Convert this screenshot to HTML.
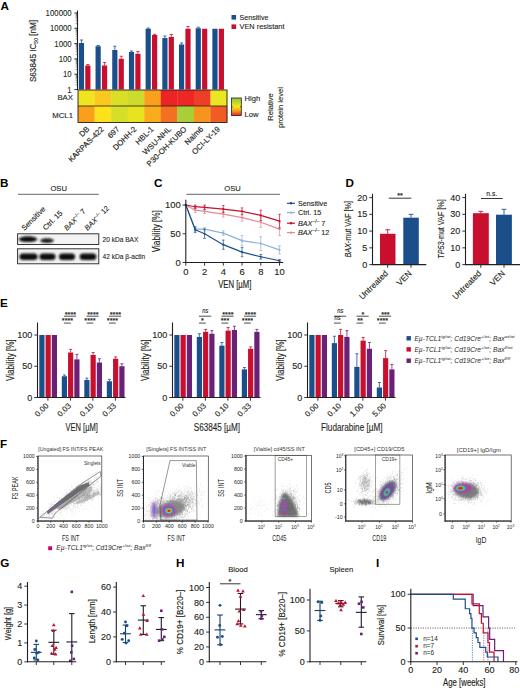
<!DOCTYPE html>
<html><head><meta charset="utf-8"><title>Figure</title>
<style>html,body{margin:0;padding:0;background:#fff}svg{display:block}text{font-family:"Liberation Sans",sans-serif}</style>
</head><body>
<svg width="520" height="690" viewBox="0 0 520 690">
<rect width="520" height="690" fill="#fff"/>
<text transform="translate(0.40,9.90)" font-size="11.7" text-anchor="start" fill="#000" font-weight="bold">A</text>
<rect x="78.85" y="43.00" width="5.20" height="46.50" fill="#1b4f8c"/>
<rect x="85.25" y="65.50" width="5.20" height="24.00" fill="#c8102e"/>
<line x1="81.45" y1="43.00" x2="81.45" y2="40.00" stroke="#1b4f8c" stroke-width="0.8"/>
<line x1="79.85" y1="40.00" x2="83.05" y2="40.00" stroke="#1b4f8c" stroke-width="0.8"/>
<line x1="87.85" y1="65.50" x2="87.85" y2="64.50" stroke="#c8102e" stroke-width="0.8"/>
<line x1="86.25" y1="64.50" x2="89.45" y2="64.50" stroke="#c8102e" stroke-width="0.8"/>
<rect x="95.54" y="46.25" width="5.20" height="43.25" fill="#1b4f8c"/>
<rect x="101.94" y="65.50" width="5.20" height="24.00" fill="#c8102e"/>
<line x1="98.14" y1="46.25" x2="98.14" y2="45.50" stroke="#1b4f8c" stroke-width="0.8"/>
<line x1="96.54" y1="45.50" x2="99.74" y2="45.50" stroke="#1b4f8c" stroke-width="0.8"/>
<line x1="104.54" y1="65.50" x2="104.54" y2="62.50" stroke="#c8102e" stroke-width="0.8"/>
<line x1="102.94" y1="62.50" x2="106.14" y2="62.50" stroke="#c8102e" stroke-width="0.8"/>
<rect x="112.23" y="50.00" width="5.20" height="39.50" fill="#1b4f8c"/>
<rect x="118.63" y="58.75" width="5.20" height="30.75" fill="#c8102e"/>
<line x1="114.83" y1="50.00" x2="114.83" y2="46.25" stroke="#1b4f8c" stroke-width="0.8"/>
<line x1="113.23" y1="46.25" x2="116.43" y2="46.25" stroke="#1b4f8c" stroke-width="0.8"/>
<line x1="121.23" y1="58.75" x2="121.23" y2="56.25" stroke="#c8102e" stroke-width="0.8"/>
<line x1="119.63" y1="56.25" x2="122.83" y2="56.25" stroke="#c8102e" stroke-width="0.8"/>
<rect x="128.92" y="52.00" width="5.20" height="37.50" fill="#1b4f8c"/>
<rect x="135.32" y="53.75" width="5.20" height="35.75" fill="#c8102e"/>
<line x1="131.52" y1="52.00" x2="131.52" y2="51.00" stroke="#1b4f8c" stroke-width="0.8"/>
<line x1="129.92" y1="51.00" x2="133.12" y2="51.00" stroke="#1b4f8c" stroke-width="0.8"/>
<line x1="137.92" y1="53.75" x2="137.92" y2="51.50" stroke="#c8102e" stroke-width="0.8"/>
<line x1="136.32" y1="51.50" x2="139.52" y2="51.50" stroke="#c8102e" stroke-width="0.8"/>
<rect x="145.61" y="28.75" width="5.20" height="60.75" fill="#1b4f8c"/>
<rect x="152.01" y="35.00" width="5.20" height="54.50" fill="#c8102e"/>
<line x1="148.21" y1="28.75" x2="148.21" y2="28.00" stroke="#1b4f8c" stroke-width="0.8"/>
<line x1="146.61" y1="28.00" x2="149.81" y2="28.00" stroke="#1b4f8c" stroke-width="0.8"/>
<line x1="154.61" y1="35.00" x2="154.61" y2="34.30" stroke="#c8102e" stroke-width="0.8"/>
<line x1="153.01" y1="34.30" x2="156.21" y2="34.30" stroke="#c8102e" stroke-width="0.8"/>
<rect x="162.30" y="38.00" width="5.20" height="51.50" fill="#1b4f8c"/>
<rect x="168.70" y="37.00" width="5.20" height="52.50" fill="#c8102e"/>
<line x1="164.90" y1="38.00" x2="164.90" y2="36.00" stroke="#1b4f8c" stroke-width="0.8"/>
<line x1="163.30" y1="36.00" x2="166.50" y2="36.00" stroke="#1b4f8c" stroke-width="0.8"/>
<line x1="171.30" y1="37.00" x2="171.30" y2="34.50" stroke="#c8102e" stroke-width="0.8"/>
<line x1="169.70" y1="34.50" x2="172.90" y2="34.50" stroke="#c8102e" stroke-width="0.8"/>
<rect x="178.99" y="44.50" width="5.20" height="45.00" fill="#1b4f8c"/>
<rect x="185.39" y="28.75" width="5.20" height="60.75" fill="#c8102e"/>
<line x1="181.59" y1="44.50" x2="181.59" y2="43.00" stroke="#1b4f8c" stroke-width="0.8"/>
<line x1="179.99" y1="43.00" x2="183.19" y2="43.00" stroke="#1b4f8c" stroke-width="0.8"/>
<line x1="187.99" y1="28.75" x2="187.99" y2="26.50" stroke="#c8102e" stroke-width="0.8"/>
<line x1="186.39" y1="26.50" x2="189.59" y2="26.50" stroke="#c8102e" stroke-width="0.8"/>
<rect x="195.68" y="28.25" width="5.20" height="61.25" fill="#1b4f8c"/>
<rect x="202.08" y="28.75" width="5.20" height="60.75" fill="#c8102e"/>
<line x1="198.28" y1="28.25" x2="198.28" y2="27.20" stroke="#1b4f8c" stroke-width="0.8"/>
<line x1="196.68" y1="27.20" x2="199.88" y2="27.20" stroke="#1b4f8c" stroke-width="0.8"/>
<rect x="212.37" y="28.75" width="5.20" height="60.75" fill="#1b4f8c"/>
<rect x="218.77" y="28.75" width="5.20" height="60.75" fill="#c8102e"/>
<rect x="78.00" y="90.00" width="16.86" height="16.00" fill="#f0e41f"/>
<rect x="78.00" y="106.00" width="16.86" height="16.50" fill="#f99f1c"/>
<rect x="94.56" y="90.00" width="16.86" height="16.00" fill="#fbc81f"/>
<rect x="94.56" y="106.00" width="16.86" height="16.50" fill="#fce21a"/>
<rect x="111.11" y="90.00" width="16.86" height="16.00" fill="#d9df27"/>
<rect x="111.11" y="106.00" width="16.86" height="16.50" fill="#d6de29"/>
<rect x="127.67" y="90.00" width="16.86" height="16.00" fill="#cddb2e"/>
<rect x="127.67" y="106.00" width="16.86" height="16.50" fill="#e7e31f"/>
<rect x="144.22" y="90.00" width="16.86" height="16.00" fill="#f9a11d"/>
<rect x="144.22" y="106.00" width="16.86" height="16.50" fill="#fbac1c"/>
<rect x="160.78" y="90.00" width="16.86" height="16.00" fill="#ec2426"/>
<rect x="160.78" y="106.00" width="16.86" height="16.50" fill="#f37021"/>
<rect x="177.33" y="90.00" width="16.86" height="16.00" fill="#ec2726"/>
<rect x="177.33" y="106.00" width="16.86" height="16.50" fill="#a8cf38"/>
<rect x="193.89" y="90.00" width="16.86" height="16.00" fill="#ee3f26"/>
<rect x="193.89" y="106.00" width="16.86" height="16.50" fill="#f7941d"/>
<rect x="210.44" y="90.00" width="16.86" height="16.00" fill="#ece622"/>
<rect x="210.44" y="106.00" width="16.86" height="16.50" fill="#f15b24"/>
<rect x="78.00" y="90.00" width="149.00" height="32.50" fill="none" stroke="#231f20" stroke-width="0.9"/>
<line x1="78.00" y1="106.00" x2="227.00" y2="106.00" stroke="#231f20" stroke-width="0.8"/>
<line x1="77.50" y1="10.50" x2="77.50" y2="90.00" stroke="#231f20" stroke-width="1.1"/>
<line x1="74.30" y1="89.50" x2="77.50" y2="89.50" stroke="#231f20" stroke-width="0.9"/>
<text transform="translate(71.70,92.60) scale(0.87,1)" font-size="9.0" text-anchor="end" fill="#231f20" stroke="#231f20" stroke-width="0.1">1</text>
<line x1="75.70" y1="84.89" x2="77.50" y2="84.89" stroke="#231f20" stroke-width="0.5"/>
<line x1="75.70" y1="82.20" x2="77.50" y2="82.20" stroke="#231f20" stroke-width="0.5"/>
<line x1="75.70" y1="80.29" x2="77.50" y2="80.29" stroke="#231f20" stroke-width="0.5"/>
<line x1="75.70" y1="78.81" x2="77.50" y2="78.81" stroke="#231f20" stroke-width="0.5"/>
<line x1="75.70" y1="77.59" x2="77.50" y2="77.59" stroke="#231f20" stroke-width="0.5"/>
<line x1="75.70" y1="76.57" x2="77.50" y2="76.57" stroke="#231f20" stroke-width="0.5"/>
<line x1="75.70" y1="75.68" x2="77.50" y2="75.68" stroke="#231f20" stroke-width="0.5"/>
<line x1="75.70" y1="74.90" x2="77.50" y2="74.90" stroke="#231f20" stroke-width="0.5"/>
<line x1="74.30" y1="74.20" x2="77.50" y2="74.20" stroke="#231f20" stroke-width="0.9"/>
<text transform="translate(71.70,77.30) scale(0.87,1)" font-size="9.0" text-anchor="end" fill="#231f20" stroke="#231f20" stroke-width="0.1">10</text>
<line x1="75.70" y1="69.59" x2="77.50" y2="69.59" stroke="#231f20" stroke-width="0.5"/>
<line x1="75.70" y1="66.90" x2="77.50" y2="66.90" stroke="#231f20" stroke-width="0.5"/>
<line x1="75.70" y1="64.99" x2="77.50" y2="64.99" stroke="#231f20" stroke-width="0.5"/>
<line x1="75.70" y1="63.51" x2="77.50" y2="63.51" stroke="#231f20" stroke-width="0.5"/>
<line x1="75.70" y1="62.29" x2="77.50" y2="62.29" stroke="#231f20" stroke-width="0.5"/>
<line x1="75.70" y1="61.27" x2="77.50" y2="61.27" stroke="#231f20" stroke-width="0.5"/>
<line x1="75.70" y1="60.38" x2="77.50" y2="60.38" stroke="#231f20" stroke-width="0.5"/>
<line x1="75.70" y1="59.60" x2="77.50" y2="59.60" stroke="#231f20" stroke-width="0.5"/>
<line x1="74.30" y1="58.90" x2="77.50" y2="58.90" stroke="#231f20" stroke-width="0.9"/>
<text transform="translate(71.70,62.00) scale(0.87,1)" font-size="9.0" text-anchor="end" fill="#231f20" stroke="#231f20" stroke-width="0.1">100</text>
<line x1="75.70" y1="54.29" x2="77.50" y2="54.29" stroke="#231f20" stroke-width="0.5"/>
<line x1="75.70" y1="51.60" x2="77.50" y2="51.60" stroke="#231f20" stroke-width="0.5"/>
<line x1="75.70" y1="49.69" x2="77.50" y2="49.69" stroke="#231f20" stroke-width="0.5"/>
<line x1="75.70" y1="48.21" x2="77.50" y2="48.21" stroke="#231f20" stroke-width="0.5"/>
<line x1="75.70" y1="46.99" x2="77.50" y2="46.99" stroke="#231f20" stroke-width="0.5"/>
<line x1="75.70" y1="45.97" x2="77.50" y2="45.97" stroke="#231f20" stroke-width="0.5"/>
<line x1="75.70" y1="45.08" x2="77.50" y2="45.08" stroke="#231f20" stroke-width="0.5"/>
<line x1="75.70" y1="44.30" x2="77.50" y2="44.30" stroke="#231f20" stroke-width="0.5"/>
<line x1="74.30" y1="43.60" x2="77.50" y2="43.60" stroke="#231f20" stroke-width="0.9"/>
<text transform="translate(71.70,46.70) scale(0.87,1)" font-size="9.0" text-anchor="end" fill="#231f20" stroke="#231f20" stroke-width="0.1">1000</text>
<line x1="75.70" y1="38.99" x2="77.50" y2="38.99" stroke="#231f20" stroke-width="0.5"/>
<line x1="75.70" y1="36.30" x2="77.50" y2="36.30" stroke="#231f20" stroke-width="0.5"/>
<line x1="75.70" y1="34.39" x2="77.50" y2="34.39" stroke="#231f20" stroke-width="0.5"/>
<line x1="75.70" y1="32.91" x2="77.50" y2="32.91" stroke="#231f20" stroke-width="0.5"/>
<line x1="75.70" y1="31.69" x2="77.50" y2="31.69" stroke="#231f20" stroke-width="0.5"/>
<line x1="75.70" y1="30.67" x2="77.50" y2="30.67" stroke="#231f20" stroke-width="0.5"/>
<line x1="75.70" y1="29.78" x2="77.50" y2="29.78" stroke="#231f20" stroke-width="0.5"/>
<line x1="75.70" y1="29.00" x2="77.50" y2="29.00" stroke="#231f20" stroke-width="0.5"/>
<line x1="74.30" y1="28.30" x2="77.50" y2="28.30" stroke="#231f20" stroke-width="0.9"/>
<text transform="translate(71.70,31.40) scale(0.87,1)" font-size="9.0" text-anchor="end" fill="#231f20" stroke="#231f20" stroke-width="0.1">10000</text>
<line x1="75.70" y1="23.69" x2="77.50" y2="23.69" stroke="#231f20" stroke-width="0.5"/>
<line x1="75.70" y1="21.00" x2="77.50" y2="21.00" stroke="#231f20" stroke-width="0.5"/>
<line x1="75.70" y1="19.09" x2="77.50" y2="19.09" stroke="#231f20" stroke-width="0.5"/>
<line x1="75.70" y1="17.61" x2="77.50" y2="17.61" stroke="#231f20" stroke-width="0.5"/>
<line x1="75.70" y1="16.39" x2="77.50" y2="16.39" stroke="#231f20" stroke-width="0.5"/>
<line x1="75.70" y1="15.37" x2="77.50" y2="15.37" stroke="#231f20" stroke-width="0.5"/>
<line x1="75.70" y1="14.48" x2="77.50" y2="14.48" stroke="#231f20" stroke-width="0.5"/>
<line x1="75.70" y1="13.70" x2="77.50" y2="13.70" stroke="#231f20" stroke-width="0.5"/>
<line x1="74.30" y1="13.00" x2="77.50" y2="13.00" stroke="#231f20" stroke-width="0.9"/>
<text transform="translate(71.70,16.10) scale(0.87,1)" font-size="9.0" text-anchor="end" fill="#231f20" stroke="#231f20" stroke-width="0.1">100000</text>
<text transform="translate(36.00,51.00) rotate(-90) scale(0.85,1)" font-size="9.6" text-anchor="middle" fill="#231f20" stroke="#231f20" stroke-width="0.15">S63845 IC<tspan font-size="6" dy="1.5">50</tspan><tspan dy="-1.5"> [nM]</tspan></text>
<text transform="translate(73.00,100.20)" font-size="7.8" text-anchor="end" fill="#231f20" stroke="#231f20" stroke-width="0.12">BAX</text>
<text transform="translate(73.00,117.60)" font-size="7.8" text-anchor="end" fill="#231f20" stroke="#231f20" stroke-width="0.12">MCL1</text>
<text transform="translate(89.88,129.60) rotate(-45)" font-size="7.8" text-anchor="end" fill="#231f20" stroke="#231f20" stroke-width="0.15">DB</text>
<text transform="translate(104.43,129.60) rotate(-45)" font-size="7.8" text-anchor="end" fill="#231f20" stroke="#231f20" stroke-width="0.15">KARPAS-422</text>
<text transform="translate(119.99,129.60) rotate(-45)" font-size="7.8" text-anchor="end" fill="#231f20" stroke="#231f20" stroke-width="0.15">697</text>
<text transform="translate(137.14,129.60) rotate(-45)" font-size="7.8" text-anchor="end" fill="#231f20" stroke="#231f20" stroke-width="0.15">DOHH-2</text>
<text transform="translate(154.10,129.60) rotate(-45)" font-size="7.8" text-anchor="end" fill="#231f20" stroke="#231f20" stroke-width="0.15">HBL-1</text>
<text transform="translate(171.56,129.60) rotate(-45)" font-size="7.8" text-anchor="end" fill="#231f20" stroke="#231f20" stroke-width="0.15">WSU-NHL</text>
<text transform="translate(187.11,129.60) rotate(-45)" font-size="7.8" text-anchor="end" fill="#231f20" stroke="#231f20" stroke-width="0.15">P30-OH-KUBO</text>
<text transform="translate(203.77,129.60) rotate(-45)" font-size="7.8" text-anchor="end" fill="#231f20" stroke="#231f20" stroke-width="0.15">Nalm6</text>
<text transform="translate(220.52,129.60) rotate(-45)" font-size="7.8" text-anchor="end" fill="#231f20" stroke="#231f20" stroke-width="0.15">OCI-LY-19</text>
<rect x="231.50" y="15.00" width="4.60" height="4.60" fill="#1b4f8c"/>
<rect x="231.50" y="24.40" width="4.60" height="4.60" fill="#c8102e"/>
<text transform="translate(239.50,19.70)" font-size="7.6" text-anchor="start" fill="#231f20" textLength="29" lengthAdjust="spacingAndGlyphs" stroke="#231f20" stroke-width="0.12">Sensitive</text>
<text transform="translate(239.50,29.20)" font-size="7.6" text-anchor="start" fill="#231f20" textLength="45" lengthAdjust="spacingAndGlyphs" stroke="#231f20" stroke-width="0.12">VEN resistant</text>
<defs><linearGradient id="cs" x1="0" y1="0" x2="0" y2="1"><stop offset="0" stop-color="#8cc63f"/><stop offset="0.5" stop-color="#f4e81c"/><stop offset="0.75" stop-color="#f7931e"/><stop offset="1" stop-color="#ed1c24"/></linearGradient></defs>
<rect x="231.50" y="98.00" width="9.80" height="17.50" fill="url(#cs)" stroke="#231f20" stroke-width="0.8"/>
<line x1="231.50" y1="106.80" x2="232.80" y2="106.80" stroke="#231f20" stroke-width="0.7"/>
<line x1="240.00" y1="106.80" x2="241.30" y2="106.80" stroke="#231f20" stroke-width="0.7"/>
<text transform="translate(244.50,100.60)" font-size="7.6" text-anchor="start" fill="#231f20" stroke="#231f20" stroke-width="0.12">High</text>
<text transform="translate(244.50,117.40)" font-size="7.6" text-anchor="start" fill="#231f20" stroke="#231f20" stroke-width="0.12">Low</text>
<text transform="translate(273.30,107.00) rotate(-90)" font-size="7.6" text-anchor="middle" fill="#231f20" stroke="#231f20" stroke-width="0.12">Relative</text>
<text transform="translate(283.20,107.50) rotate(-90)" font-size="7.6" text-anchor="middle" fill="#231f20" stroke="#231f20" stroke-width="0.12">protein level</text>
<text transform="translate(0.00,186.60)" font-size="11.7" text-anchor="start" fill="#000" font-weight="bold">B</text>
<text transform="translate(58.70,191.30)" font-size="7.6" text-anchor="middle" fill="#231f20" stroke="#231f20" stroke-width="0.12">OSU</text>
<line x1="18.00" y1="194.30" x2="98.80" y2="194.30" stroke="#555" stroke-width="0.9"/>
<text transform="translate(24.50,231.00) rotate(-45)" font-size="7.5" text-anchor="start" fill="#231f20" stroke="#231f20" stroke-width="0.12">Sensitive</text>
<text transform="translate(45.80,230.80) rotate(-45)" font-size="7.5" text-anchor="start" fill="#231f20" stroke="#231f20" stroke-width="0.12">Ctrl. 15</text>
<text transform="translate(67.00,231.00) rotate(-45)" font-size="7.3" text-anchor="start" fill="#231f20" stroke="#231f20" stroke-width="0.12"><tspan font-style="italic">BAX</tspan><tspan font-size="4.6" dy="-3">–/–</tspan><tspan dy="3"> 7</tspan></text>
<text transform="translate(87.50,231.00) rotate(-45)" font-size="7.4" text-anchor="start" fill="#231f20" stroke="#231f20" stroke-width="0.12"><tspan font-style="italic">BAX</tspan><tspan font-size="4.6" dy="-3">–/–</tspan><tspan dy="3"> 12</tspan></text>
<defs><filter id="bl" x="-20%" y="-50%" width="140%" height="200%"><feGaussianBlur stdDeviation="0.9"/></filter></defs>
<rect x="17.60" y="233.80" width="81.20" height="10.70" fill="#f3f3f3" stroke="#231f20" stroke-width="0.9"/>
<rect x="17.60" y="248.80" width="81.20" height="15.00" fill="#f1f1f1" stroke="#231f20" stroke-width="0.9"/>
<g filter="url(#bl)">
<ellipse cx="28" cy="239.2" rx="9.4" ry="2.9" fill="#0a0a0a"/>
<ellipse cx="47" cy="240.6" rx="6.8" ry="2.3" fill="#1a1a1a"/>
<rect x="19.5" y="253.5" width="18" height="6.4" rx="3.4" ry="3.0" fill="#0a0a0a"/>
<rect x="39.5" y="253.5" width="16" height="6.4" rx="3.4" ry="3.0" fill="#0a0a0a"/>
<rect x="59" y="253.5" width="16" height="6.4" rx="3.4" ry="3.0" fill="#0a0a0a"/>
<rect x="79.7" y="253.5" width="16.6" height="6.4" rx="3.4" ry="3.0" fill="#0a0a0a"/>
</g>
<text transform="translate(102.50,241.70)" font-size="6.6" text-anchor="start" fill="#231f20" stroke="#231f20" stroke-width="0.1">20 kDa BAX</text>
<text transform="translate(102.50,259.00)" font-size="6.6" text-anchor="start" fill="#231f20" stroke="#231f20" stroke-width="0.1">42 kDa β-actin</text>
<text transform="translate(153.90,186.60)" font-size="11.7" text-anchor="start" fill="#000" font-weight="bold">C</text>
<text transform="translate(232.50,191.30)" font-size="7.6" text-anchor="middle" fill="#231f20" stroke="#231f20" stroke-width="0.12">OSU</text>
<line x1="186.30" y1="194.30" x2="280.00" y2="194.30" stroke="#555" stroke-width="0.9"/>
<line x1="195.18" y1="212.47" x2="195.18" y2="207.88" stroke="#e58a95" stroke-width="0.7"/>
<line x1="193.88" y1="207.88" x2="196.48" y2="207.88" stroke="#e58a95" stroke-width="0.7"/>
<line x1="193.88" y1="212.47" x2="196.48" y2="212.47" stroke="#e58a95" stroke-width="0.7"/>
<line x1="204.55" y1="213.62" x2="204.55" y2="209.03" stroke="#e58a95" stroke-width="0.7"/>
<line x1="203.25" y1="209.03" x2="205.85" y2="209.03" stroke="#e58a95" stroke-width="0.7"/>
<line x1="203.25" y1="213.62" x2="205.85" y2="213.62" stroke="#e58a95" stroke-width="0.7"/>
<line x1="223.30" y1="217.07" x2="223.30" y2="211.32" stroke="#e58a95" stroke-width="0.7"/>
<line x1="222.00" y1="211.32" x2="224.60" y2="211.32" stroke="#e58a95" stroke-width="0.7"/>
<line x1="222.00" y1="217.07" x2="224.60" y2="217.07" stroke="#e58a95" stroke-width="0.7"/>
<line x1="242.05" y1="221.10" x2="242.05" y2="214.20" stroke="#e58a95" stroke-width="0.7"/>
<line x1="240.75" y1="214.20" x2="243.35" y2="214.20" stroke="#e58a95" stroke-width="0.7"/>
<line x1="240.75" y1="221.10" x2="243.35" y2="221.10" stroke="#e58a95" stroke-width="0.7"/>
<line x1="260.80" y1="227.43" x2="260.80" y2="217.07" stroke="#e58a95" stroke-width="0.7"/>
<line x1="259.50" y1="217.07" x2="262.10" y2="217.07" stroke="#e58a95" stroke-width="0.7"/>
<line x1="259.50" y1="227.43" x2="262.10" y2="227.43" stroke="#e58a95" stroke-width="0.7"/>
<line x1="279.55" y1="235.47" x2="279.55" y2="222.82" stroke="#e58a95" stroke-width="0.7"/>
<line x1="278.25" y1="222.82" x2="280.85" y2="222.82" stroke="#e58a95" stroke-width="0.7"/>
<line x1="278.25" y1="235.47" x2="280.85" y2="235.47" stroke="#e58a95" stroke-width="0.7"/>
<polyline points="185.80,205.00 195.18,210.18 204.55,211.32 223.30,214.20 242.05,217.65 260.80,222.25 279.55,229.15" fill="none" stroke="#e58a95" stroke-width="1.2" stroke-linejoin="round"/>
<circle cx="185.80" cy="205.00" r="1.1" fill="#e58a95"/>
<circle cx="195.18" cy="210.18" r="1.1" fill="#e58a95"/>
<circle cx="204.55" cy="211.32" r="1.1" fill="#e58a95"/>
<circle cx="223.30" cy="214.20" r="1.1" fill="#e58a95"/>
<circle cx="242.05" cy="217.65" r="1.1" fill="#e58a95"/>
<circle cx="260.80" cy="222.25" r="1.1" fill="#e58a95"/>
<circle cx="279.55" cy="229.15" r="1.1" fill="#e58a95"/>
<line x1="195.18" y1="231.45" x2="195.18" y2="226.85" stroke="#8fb0d6" stroke-width="0.7"/>
<line x1="193.88" y1="226.85" x2="196.48" y2="226.85" stroke="#8fb0d6" stroke-width="0.7"/>
<line x1="193.88" y1="231.45" x2="196.48" y2="231.45" stroke="#8fb0d6" stroke-width="0.7"/>
<line x1="204.55" y1="230.88" x2="204.55" y2="227.43" stroke="#8fb0d6" stroke-width="0.7"/>
<line x1="203.25" y1="227.43" x2="205.85" y2="227.43" stroke="#8fb0d6" stroke-width="0.7"/>
<line x1="203.25" y1="230.88" x2="205.85" y2="230.88" stroke="#8fb0d6" stroke-width="0.7"/>
<line x1="223.30" y1="235.47" x2="223.30" y2="230.88" stroke="#8fb0d6" stroke-width="0.7"/>
<line x1="222.00" y1="230.88" x2="224.60" y2="230.88" stroke="#8fb0d6" stroke-width="0.7"/>
<line x1="222.00" y1="235.47" x2="224.60" y2="235.47" stroke="#8fb0d6" stroke-width="0.7"/>
<line x1="242.05" y1="245.82" x2="242.05" y2="235.47" stroke="#8fb0d6" stroke-width="0.7"/>
<line x1="240.75" y1="235.47" x2="243.35" y2="235.47" stroke="#8fb0d6" stroke-width="0.7"/>
<line x1="240.75" y1="245.82" x2="243.35" y2="245.82" stroke="#8fb0d6" stroke-width="0.7"/>
<line x1="260.80" y1="250.43" x2="260.80" y2="236.62" stroke="#8fb0d6" stroke-width="0.7"/>
<line x1="259.50" y1="236.62" x2="262.10" y2="236.62" stroke="#8fb0d6" stroke-width="0.7"/>
<line x1="259.50" y1="250.43" x2="262.10" y2="250.43" stroke="#8fb0d6" stroke-width="0.7"/>
<line x1="279.55" y1="253.88" x2="279.55" y2="245.82" stroke="#8fb0d6" stroke-width="0.7"/>
<line x1="278.25" y1="245.82" x2="280.85" y2="245.82" stroke="#8fb0d6" stroke-width="0.7"/>
<line x1="278.25" y1="253.88" x2="280.85" y2="253.88" stroke="#8fb0d6" stroke-width="0.7"/>
<polyline points="185.80,205.00 195.18,229.15 204.55,229.15 223.30,233.18 242.05,240.65 260.80,243.53 279.55,249.85" fill="none" stroke="#8fb0d6" stroke-width="1.2" stroke-linejoin="round"/>
<circle cx="185.80" cy="205.00" r="1.1" fill="#8fb0d6"/>
<circle cx="195.18" cy="229.15" r="1.1" fill="#8fb0d6"/>
<circle cx="204.55" cy="229.15" r="1.1" fill="#8fb0d6"/>
<circle cx="223.30" cy="233.18" r="1.1" fill="#8fb0d6"/>
<circle cx="242.05" cy="240.65" r="1.1" fill="#8fb0d6"/>
<circle cx="260.80" cy="243.53" r="1.1" fill="#8fb0d6"/>
<circle cx="279.55" cy="249.85" r="1.1" fill="#8fb0d6"/>
<line x1="195.18" y1="208.45" x2="195.18" y2="205.00" stroke="#c8102e" stroke-width="0.7"/>
<line x1="193.88" y1="205.00" x2="196.48" y2="205.00" stroke="#c8102e" stroke-width="0.7"/>
<line x1="193.88" y1="208.45" x2="196.48" y2="208.45" stroke="#c8102e" stroke-width="0.7"/>
<line x1="204.55" y1="209.60" x2="204.55" y2="205.00" stroke="#c8102e" stroke-width="0.7"/>
<line x1="203.25" y1="205.00" x2="205.85" y2="205.00" stroke="#c8102e" stroke-width="0.7"/>
<line x1="203.25" y1="209.60" x2="205.85" y2="209.60" stroke="#c8102e" stroke-width="0.7"/>
<line x1="223.30" y1="212.47" x2="223.30" y2="205.57" stroke="#c8102e" stroke-width="0.7"/>
<line x1="222.00" y1="205.57" x2="224.60" y2="205.57" stroke="#c8102e" stroke-width="0.7"/>
<line x1="222.00" y1="212.47" x2="224.60" y2="212.47" stroke="#c8102e" stroke-width="0.7"/>
<line x1="242.05" y1="214.78" x2="242.05" y2="207.88" stroke="#c8102e" stroke-width="0.7"/>
<line x1="240.75" y1="207.88" x2="243.35" y2="207.88" stroke="#c8102e" stroke-width="0.7"/>
<line x1="240.75" y1="214.78" x2="243.35" y2="214.78" stroke="#c8102e" stroke-width="0.7"/>
<line x1="260.80" y1="220.53" x2="260.80" y2="210.18" stroke="#c8102e" stroke-width="0.7"/>
<line x1="259.50" y1="210.18" x2="262.10" y2="210.18" stroke="#c8102e" stroke-width="0.7"/>
<line x1="259.50" y1="220.53" x2="262.10" y2="220.53" stroke="#c8102e" stroke-width="0.7"/>
<line x1="279.55" y1="228.00" x2="279.55" y2="214.20" stroke="#c8102e" stroke-width="0.7"/>
<line x1="278.25" y1="214.20" x2="280.85" y2="214.20" stroke="#c8102e" stroke-width="0.7"/>
<line x1="278.25" y1="228.00" x2="280.85" y2="228.00" stroke="#c8102e" stroke-width="0.7"/>
<polyline points="185.80,205.00 195.18,206.72 204.55,207.30 223.30,209.03 242.05,211.32 260.80,215.35 279.55,221.10" fill="none" stroke="#c8102e" stroke-width="1.2" stroke-linejoin="round"/>
<circle cx="185.80" cy="205.00" r="1.1" fill="#c8102e"/>
<circle cx="195.18" cy="206.72" r="1.1" fill="#c8102e"/>
<circle cx="204.55" cy="207.30" r="1.1" fill="#c8102e"/>
<circle cx="223.30" cy="209.03" r="1.1" fill="#c8102e"/>
<circle cx="242.05" cy="211.32" r="1.1" fill="#c8102e"/>
<circle cx="260.80" cy="215.35" r="1.1" fill="#c8102e"/>
<circle cx="279.55" cy="221.10" r="1.1" fill="#c8102e"/>
<line x1="195.18" y1="232.60" x2="195.18" y2="226.85" stroke="#1b4f8c" stroke-width="0.7"/>
<line x1="193.88" y1="226.85" x2="196.48" y2="226.85" stroke="#1b4f8c" stroke-width="0.7"/>
<line x1="193.88" y1="232.60" x2="196.48" y2="232.60" stroke="#1b4f8c" stroke-width="0.7"/>
<line x1="204.55" y1="238.35" x2="204.55" y2="229.15" stroke="#1b4f8c" stroke-width="0.7"/>
<line x1="203.25" y1="229.15" x2="205.85" y2="229.15" stroke="#1b4f8c" stroke-width="0.7"/>
<line x1="203.25" y1="238.35" x2="205.85" y2="238.35" stroke="#1b4f8c" stroke-width="0.7"/>
<line x1="223.30" y1="249.28" x2="223.30" y2="240.07" stroke="#1b4f8c" stroke-width="0.7"/>
<line x1="222.00" y1="240.07" x2="224.60" y2="240.07" stroke="#1b4f8c" stroke-width="0.7"/>
<line x1="222.00" y1="249.28" x2="224.60" y2="249.28" stroke="#1b4f8c" stroke-width="0.7"/>
<line x1="242.05" y1="256.75" x2="242.05" y2="247.55" stroke="#1b4f8c" stroke-width="0.7"/>
<line x1="240.75" y1="247.55" x2="243.35" y2="247.55" stroke="#1b4f8c" stroke-width="0.7"/>
<line x1="240.75" y1="256.75" x2="243.35" y2="256.75" stroke="#1b4f8c" stroke-width="0.7"/>
<line x1="260.80" y1="259.05" x2="260.80" y2="254.45" stroke="#1b4f8c" stroke-width="0.7"/>
<line x1="259.50" y1="254.45" x2="262.10" y2="254.45" stroke="#1b4f8c" stroke-width="0.7"/>
<line x1="259.50" y1="259.05" x2="262.10" y2="259.05" stroke="#1b4f8c" stroke-width="0.7"/>
<line x1="279.55" y1="261.93" x2="279.55" y2="259.62" stroke="#1b4f8c" stroke-width="0.7"/>
<line x1="278.25" y1="259.62" x2="280.85" y2="259.62" stroke="#1b4f8c" stroke-width="0.7"/>
<line x1="278.25" y1="261.93" x2="280.85" y2="261.93" stroke="#1b4f8c" stroke-width="0.7"/>
<polyline points="185.80,205.00 195.18,229.72 204.55,233.75 223.30,244.68 242.05,252.15 260.80,256.75 279.55,260.77" fill="none" stroke="#1b4f8c" stroke-width="1.2" stroke-linejoin="round"/>
<circle cx="185.80" cy="205.00" r="1.1" fill="#1b4f8c"/>
<circle cx="195.18" cy="229.72" r="1.1" fill="#1b4f8c"/>
<circle cx="204.55" cy="233.75" r="1.1" fill="#1b4f8c"/>
<circle cx="223.30" cy="244.68" r="1.1" fill="#1b4f8c"/>
<circle cx="242.05" cy="252.15" r="1.1" fill="#1b4f8c"/>
<circle cx="260.80" cy="256.75" r="1.1" fill="#1b4f8c"/>
<circle cx="279.55" cy="260.77" r="1.1" fill="#1b4f8c"/>
<line x1="185.80" y1="199.80" x2="185.80" y2="263.00" stroke="#231f20" stroke-width="1.1"/>
<line x1="185.30" y1="262.50" x2="283.20" y2="262.50" stroke="#231f20" stroke-width="1.1"/>
<line x1="182.60" y1="262.50" x2="185.80" y2="262.50" stroke="#231f20" stroke-width="0.9"/>
<text transform="translate(180.80,265.70) scale(1.05,1)" font-size="9.0" text-anchor="end" fill="#231f20" stroke="#231f20" stroke-width="0.12">0</text>
<line x1="182.60" y1="233.75" x2="185.80" y2="233.75" stroke="#231f20" stroke-width="0.9"/>
<text transform="translate(180.80,236.95) scale(1.05,1)" font-size="9.0" text-anchor="end" fill="#231f20" stroke="#231f20" stroke-width="0.12">50</text>
<line x1="182.60" y1="205.00" x2="185.80" y2="205.00" stroke="#231f20" stroke-width="0.9"/>
<text transform="translate(180.80,208.20) scale(1.05,1)" font-size="9.0" text-anchor="end" fill="#231f20" stroke="#231f20" stroke-width="0.12">100</text>
<line x1="185.80" y1="262.50" x2="185.80" y2="265.70" stroke="#231f20" stroke-width="0.9"/>
<text transform="translate(185.80,274.90) scale(1.05,1)" font-size="9.0" text-anchor="middle" fill="#231f20" stroke="#231f20" stroke-width="0.12">0</text>
<line x1="204.55" y1="262.50" x2="204.55" y2="265.70" stroke="#231f20" stroke-width="0.9"/>
<text transform="translate(204.55,274.90) scale(1.05,1)" font-size="9.0" text-anchor="middle" fill="#231f20" stroke="#231f20" stroke-width="0.12">2</text>
<line x1="223.30" y1="262.50" x2="223.30" y2="265.70" stroke="#231f20" stroke-width="0.9"/>
<text transform="translate(223.30,274.90) scale(1.05,1)" font-size="9.0" text-anchor="middle" fill="#231f20" stroke="#231f20" stroke-width="0.12">4</text>
<line x1="242.05" y1="262.50" x2="242.05" y2="265.70" stroke="#231f20" stroke-width="0.9"/>
<text transform="translate(242.05,274.90) scale(1.05,1)" font-size="9.0" text-anchor="middle" fill="#231f20" stroke="#231f20" stroke-width="0.12">6</text>
<line x1="260.80" y1="262.50" x2="260.80" y2="265.70" stroke="#231f20" stroke-width="0.9"/>
<text transform="translate(260.80,274.90) scale(1.05,1)" font-size="9.0" text-anchor="middle" fill="#231f20" stroke="#231f20" stroke-width="0.12">8</text>
<line x1="279.55" y1="262.50" x2="279.55" y2="265.70" stroke="#231f20" stroke-width="0.9"/>
<text transform="translate(279.55,274.90) scale(1.05,1)" font-size="9.0" text-anchor="middle" fill="#231f20" stroke="#231f20" stroke-width="0.12">10</text>
<text transform="translate(159.60,231.20) rotate(-90) scale(0.82,1)" font-size="10" text-anchor="middle" fill="#231f20" stroke="#231f20" stroke-width="0.15">Viability [%]</text>
<text transform="translate(234.80,288.30) scale(0.76,1)" font-size="10.2" text-anchor="middle" fill="#231f20" stroke="#231f20" stroke-width="0.15">VEN [µM]</text>
<line x1="287.00" y1="203.30" x2="295.00" y2="203.30" stroke="#1b4f8c" stroke-width="1.2"/>
<circle cx="291" cy="203.3" r="1.2" fill="#1b4f8c"/>
<text transform="translate(298.00,206.00)" font-size="7.2" text-anchor="start" fill="#231f20" stroke="#231f20" stroke-width="0.12">Sensitive</text>
<line x1="287.00" y1="212.60" x2="295.00" y2="212.60" stroke="#8fb0d6" stroke-width="1.2"/>
<circle cx="291" cy="212.6" r="1.2" fill="#8fb0d6"/>
<text transform="translate(298.00,215.30)" font-size="7.2" text-anchor="start" fill="#231f20" stroke="#231f20" stroke-width="0.12">Ctrl. 15</text>
<line x1="287.00" y1="223.20" x2="295.00" y2="223.20" stroke="#c8102e" stroke-width="1.2"/>
<circle cx="291" cy="223.2" r="1.2" fill="#c8102e"/>
<text transform="translate(298.00,225.90)" font-size="7.2" text-anchor="start" fill="#231f20" stroke="#231f20" stroke-width="0.12"><tspan font-style="italic">BAX</tspan><tspan font-size="5" dy="-3">–/–</tspan><tspan dy="3"> 7</tspan></text>
<line x1="287.00" y1="232.60" x2="295.00" y2="232.60" stroke="#e58a95" stroke-width="1.2"/>
<circle cx="291" cy="232.6" r="1.2" fill="#e58a95"/>
<text transform="translate(298.00,235.30)" font-size="7.2" text-anchor="start" fill="#231f20" stroke="#231f20" stroke-width="0.12"><tspan font-style="italic">BAX</tspan><tspan font-size="5" dy="-3">–/–</tspan><tspan dy="3"> 12</tspan></text>
<text transform="translate(345.40,186.50)" font-size="11.7" text-anchor="start" fill="#000" font-weight="bold">D</text>
<rect x="380.00" y="233.78" width="15.50" height="30.82" fill="#c8102e"/>
<line x1="387.70" y1="233.78" x2="387.70" y2="229.76" stroke="#c8102e" stroke-width="0.9"/>
<line x1="385.30" y1="229.76" x2="390.10" y2="229.76" stroke="#c8102e" stroke-width="0.9"/>
<rect x="403.30" y="217.70" width="15.50" height="46.90" fill="#1b4f8c"/>
<line x1="411.00" y1="217.70" x2="411.00" y2="214.35" stroke="#1b4f8c" stroke-width="0.9"/>
<line x1="408.60" y1="214.35" x2="413.40" y2="214.35" stroke="#1b4f8c" stroke-width="0.9"/>
<line x1="372.50" y1="193.80" x2="372.50" y2="265.10" stroke="#231f20" stroke-width="1.1"/>
<line x1="372.00" y1="264.60" x2="426.30" y2="264.60" stroke="#231f20" stroke-width="1.1"/>
<line x1="369.30" y1="264.60" x2="372.50" y2="264.60" stroke="#231f20" stroke-width="0.9"/>
<text transform="translate(367.20,267.70) scale(1.05,1)" font-size="8.6" text-anchor="end" fill="#231f20" stroke="#231f20" stroke-width="0.12">0</text>
<line x1="369.30" y1="247.85" x2="372.50" y2="247.85" stroke="#231f20" stroke-width="0.9"/>
<text transform="translate(367.20,250.95) scale(1.05,1)" font-size="8.6" text-anchor="end" fill="#231f20" stroke="#231f20" stroke-width="0.12">5</text>
<line x1="369.30" y1="231.10" x2="372.50" y2="231.10" stroke="#231f20" stroke-width="0.9"/>
<text transform="translate(367.20,234.20) scale(1.05,1)" font-size="8.6" text-anchor="end" fill="#231f20" stroke="#231f20" stroke-width="0.12">10</text>
<line x1="369.30" y1="214.35" x2="372.50" y2="214.35" stroke="#231f20" stroke-width="0.9"/>
<text transform="translate(367.20,217.45) scale(1.05,1)" font-size="8.6" text-anchor="end" fill="#231f20" stroke="#231f20" stroke-width="0.12">15</text>
<line x1="369.30" y1="197.60" x2="372.50" y2="197.60" stroke="#231f20" stroke-width="0.9"/>
<text transform="translate(367.20,200.70) scale(1.05,1)" font-size="8.6" text-anchor="end" fill="#231f20" stroke="#231f20" stroke-width="0.12">20</text>
<line x1="387.70" y1="264.60" x2="387.70" y2="267.80" stroke="#231f20" stroke-width="0.9"/>
<line x1="411.00" y1="264.60" x2="411.00" y2="267.80" stroke="#231f20" stroke-width="0.9"/>
<line x1="388.80" y1="198.20" x2="411.30" y2="198.20" stroke="#231f20" stroke-width="0.9"/>
<text transform="translate(400.00,198.40) scale(0.98,1)" font-size="7.4" text-anchor="middle" fill="#231f20" stroke="#231f20" stroke-width="0.2">**</text>
<text transform="translate(351.30,229.30) rotate(-90) scale(0.8,1)" font-size="9.0" text-anchor="middle" fill="#231f20" stroke="#231f20" stroke-width="0.12"><tspan font-style="italic">BAX</tspan>-mut VAF [%]</text>
<text transform="translate(388.50,274.00) rotate(-45)" font-size="8.4" text-anchor="end" fill="#231f20" stroke="#231f20" stroke-width="0.12">Untreated</text>
<text transform="translate(412.30,274.00) rotate(-45)" font-size="8.4" text-anchor="end" fill="#231f20" stroke="#231f20" stroke-width="0.12">VEN</text>
<rect x="472.90" y="213.18" width="15.90" height="51.42" fill="#c8102e"/>
<line x1="480.80" y1="213.18" x2="480.80" y2="211.34" stroke="#c8102e" stroke-width="0.9"/>
<line x1="478.40" y1="211.34" x2="483.20" y2="211.34" stroke="#c8102e" stroke-width="0.9"/>
<rect x="496.00" y="214.69" width="15.90" height="49.91" fill="#1b4f8c"/>
<line x1="504.00" y1="214.69" x2="504.00" y2="209.33" stroke="#1b4f8c" stroke-width="0.9"/>
<line x1="501.60" y1="209.33" x2="506.40" y2="209.33" stroke="#1b4f8c" stroke-width="0.9"/>
<line x1="465.50" y1="193.80" x2="465.50" y2="265.10" stroke="#231f20" stroke-width="1.1"/>
<line x1="465.00" y1="264.60" x2="520.00" y2="264.60" stroke="#231f20" stroke-width="1.1"/>
<line x1="462.30" y1="264.60" x2="465.50" y2="264.60" stroke="#231f20" stroke-width="0.9"/>
<text transform="translate(460.20,267.70) scale(1.05,1)" font-size="8.6" text-anchor="end" fill="#231f20" stroke="#231f20" stroke-width="0.12">0</text>
<line x1="462.30" y1="247.85" x2="465.50" y2="247.85" stroke="#231f20" stroke-width="0.9"/>
<text transform="translate(460.20,250.95) scale(1.05,1)" font-size="8.6" text-anchor="end" fill="#231f20" stroke="#231f20" stroke-width="0.12">10</text>
<line x1="462.30" y1="231.10" x2="465.50" y2="231.10" stroke="#231f20" stroke-width="0.9"/>
<text transform="translate(460.20,234.20) scale(1.05,1)" font-size="8.6" text-anchor="end" fill="#231f20" stroke="#231f20" stroke-width="0.12">20</text>
<line x1="462.30" y1="214.35" x2="465.50" y2="214.35" stroke="#231f20" stroke-width="0.9"/>
<text transform="translate(460.20,217.45) scale(1.05,1)" font-size="8.6" text-anchor="end" fill="#231f20" stroke="#231f20" stroke-width="0.12">30</text>
<line x1="462.30" y1="197.60" x2="465.50" y2="197.60" stroke="#231f20" stroke-width="0.9"/>
<text transform="translate(460.20,200.70) scale(1.05,1)" font-size="8.6" text-anchor="end" fill="#231f20" stroke="#231f20" stroke-width="0.12">40</text>
<line x1="480.80" y1="264.60" x2="480.80" y2="267.80" stroke="#231f20" stroke-width="0.9"/>
<line x1="504.00" y1="264.60" x2="504.00" y2="267.80" stroke="#231f20" stroke-width="0.9"/>
<line x1="481.00" y1="198.50" x2="502.70" y2="198.50" stroke="#231f20" stroke-width="0.9"/>
<text transform="translate(491.80,196.00)" font-size="6.8" text-anchor="middle" fill="#231f20" stroke="#231f20" stroke-width="0.12">n.s.</text>
<text transform="translate(444.00,229.00) rotate(-90) scale(0.8,1)" font-size="9.0" text-anchor="middle" fill="#231f20" stroke="#231f20" stroke-width="0.12"><tspan font-style="italic">TP53</tspan>-mut VAF [%]</text>
<text transform="translate(481.80,274.00) rotate(-45)" font-size="8.4" text-anchor="end" fill="#231f20" stroke="#231f20" stroke-width="0.12">Untreated</text>
<text transform="translate(505.50,274.00) rotate(-45)" font-size="8.4" text-anchor="end" fill="#231f20" stroke="#231f20" stroke-width="0.12">VEN</text>
<text transform="translate(0.00,307.20)" font-size="11.7" text-anchor="start" fill="#000" font-weight="bold">E</text>
<rect x="39.30" y="335.00" width="5.20" height="62.50" fill="#1b4f8c"/>
<rect x="45.55" y="335.00" width="5.20" height="62.50" fill="#c8102e"/>
<rect x="51.80" y="335.00" width="5.20" height="62.50" fill="#6a2077"/>
<line x1="47.90" y1="397.50" x2="47.90" y2="400.70" stroke="#231f20" stroke-width="0.9"/>
<text transform="translate(49.10,406.30) rotate(-45)" font-size="8" text-anchor="end" fill="#231f20" stroke="#231f20" stroke-width="0.12">0.00</text>
<rect x="61.80" y="376.25" width="5.20" height="21.25" fill="#1b4f8c"/>
<line x1="64.40" y1="376.25" x2="64.40" y2="375.00" stroke="#1b4f8c" stroke-width="0.8"/>
<line x1="62.90" y1="375.00" x2="65.90" y2="375.00" stroke="#1b4f8c" stroke-width="0.8"/>
<rect x="68.05" y="352.50" width="5.20" height="45.00" fill="#c8102e"/>
<line x1="70.65" y1="352.50" x2="70.65" y2="349.38" stroke="#c8102e" stroke-width="0.8"/>
<line x1="69.15" y1="349.38" x2="72.15" y2="349.38" stroke="#c8102e" stroke-width="0.8"/>
<rect x="74.30" y="359.38" width="5.20" height="38.12" fill="#6a2077"/>
<line x1="76.90" y1="359.38" x2="76.90" y2="354.38" stroke="#6a2077" stroke-width="0.8"/>
<line x1="75.40" y1="354.38" x2="78.40" y2="354.38" stroke="#6a2077" stroke-width="0.8"/>
<line x1="70.40" y1="397.50" x2="70.40" y2="400.70" stroke="#231f20" stroke-width="0.9"/>
<text transform="translate(71.60,406.30) rotate(-45)" font-size="8" text-anchor="end" fill="#231f20" stroke="#231f20" stroke-width="0.12">0.03</text>
<line x1="64.00" y1="316.20" x2="76.20" y2="316.20" stroke="#231f20" stroke-width="0.8"/>
<line x1="64.00" y1="323.10" x2="70.80" y2="323.10" stroke="#231f20" stroke-width="0.8"/>
<text transform="translate(70.40,316.70) scale(0.98,1)" font-size="7.4" text-anchor="middle" fill="#231f20" stroke="#231f20" stroke-width="0.2">****</text>
<text transform="translate(67.50,323.30) scale(0.98,1)" font-size="7.4" text-anchor="middle" fill="#231f20" stroke="#231f20" stroke-width="0.2">****</text>
<rect x="84.30" y="380.00" width="5.20" height="17.50" fill="#1b4f8c"/>
<line x1="86.90" y1="380.00" x2="86.90" y2="378.12" stroke="#1b4f8c" stroke-width="0.8"/>
<line x1="85.40" y1="378.12" x2="88.40" y2="378.12" stroke="#1b4f8c" stroke-width="0.8"/>
<rect x="90.55" y="355.00" width="5.20" height="42.50" fill="#c8102e"/>
<line x1="93.15" y1="355.00" x2="93.15" y2="352.50" stroke="#c8102e" stroke-width="0.8"/>
<line x1="91.65" y1="352.50" x2="94.65" y2="352.50" stroke="#c8102e" stroke-width="0.8"/>
<rect x="96.80" y="362.50" width="5.20" height="35.00" fill="#6a2077"/>
<line x1="99.40" y1="362.50" x2="99.40" y2="358.75" stroke="#6a2077" stroke-width="0.8"/>
<line x1="97.90" y1="358.75" x2="100.90" y2="358.75" stroke="#6a2077" stroke-width="0.8"/>
<line x1="92.90" y1="397.50" x2="92.90" y2="400.70" stroke="#231f20" stroke-width="0.9"/>
<text transform="translate(94.10,406.30) rotate(-45)" font-size="8" text-anchor="end" fill="#231f20" stroke="#231f20" stroke-width="0.12">0.10</text>
<line x1="86.50" y1="316.20" x2="98.70" y2="316.20" stroke="#231f20" stroke-width="0.8"/>
<line x1="86.50" y1="323.10" x2="93.30" y2="323.10" stroke="#231f20" stroke-width="0.8"/>
<text transform="translate(92.90,316.70) scale(0.98,1)" font-size="7.4" text-anchor="middle" fill="#231f20" stroke="#231f20" stroke-width="0.2">****</text>
<text transform="translate(90.00,323.30) scale(0.98,1)" font-size="7.4" text-anchor="middle" fill="#231f20" stroke="#231f20" stroke-width="0.2">****</text>
<rect x="106.80" y="381.25" width="5.20" height="16.25" fill="#1b4f8c"/>
<line x1="109.40" y1="381.25" x2="109.40" y2="379.38" stroke="#1b4f8c" stroke-width="0.8"/>
<line x1="107.90" y1="379.38" x2="110.90" y2="379.38" stroke="#1b4f8c" stroke-width="0.8"/>
<rect x="113.05" y="358.75" width="5.20" height="38.75" fill="#c8102e"/>
<line x1="115.65" y1="358.75" x2="115.65" y2="356.88" stroke="#c8102e" stroke-width="0.8"/>
<line x1="114.15" y1="356.88" x2="117.15" y2="356.88" stroke="#c8102e" stroke-width="0.8"/>
<rect x="119.30" y="366.25" width="5.20" height="31.25" fill="#6a2077"/>
<line x1="121.90" y1="366.25" x2="121.90" y2="363.75" stroke="#6a2077" stroke-width="0.8"/>
<line x1="120.40" y1="363.75" x2="123.40" y2="363.75" stroke="#6a2077" stroke-width="0.8"/>
<line x1="115.40" y1="397.50" x2="115.40" y2="400.70" stroke="#231f20" stroke-width="0.9"/>
<text transform="translate(116.60,406.30) rotate(-45)" font-size="8" text-anchor="end" fill="#231f20" stroke="#231f20" stroke-width="0.12">0.33</text>
<line x1="109.00" y1="316.20" x2="121.20" y2="316.20" stroke="#231f20" stroke-width="0.8"/>
<line x1="109.00" y1="323.10" x2="115.80" y2="323.10" stroke="#231f20" stroke-width="0.8"/>
<text transform="translate(115.40,316.70) scale(0.98,1)" font-size="7.4" text-anchor="middle" fill="#231f20" stroke="#231f20" stroke-width="0.2">****</text>
<text transform="translate(112.50,323.30) scale(0.98,1)" font-size="7.4" text-anchor="middle" fill="#231f20" stroke="#231f20" stroke-width="0.2">****</text>
<line x1="37.50" y1="322.50" x2="37.50" y2="398.00" stroke="#231f20" stroke-width="1.1"/>
<line x1="37.00" y1="397.50" x2="125.50" y2="397.50" stroke="#231f20" stroke-width="1.1"/>
<line x1="34.30" y1="397.50" x2="37.50" y2="397.50" stroke="#231f20" stroke-width="0.9"/>
<text transform="translate(32.20,400.60) scale(1.05,1)" font-size="8.6" text-anchor="end" fill="#231f20" stroke="#231f20" stroke-width="0.12">0</text>
<line x1="34.30" y1="366.25" x2="37.50" y2="366.25" stroke="#231f20" stroke-width="0.9"/>
<text transform="translate(32.20,369.35) scale(1.05,1)" font-size="8.6" text-anchor="end" fill="#231f20" stroke="#231f20" stroke-width="0.12">50</text>
<line x1="34.30" y1="335.00" x2="37.50" y2="335.00" stroke="#231f20" stroke-width="0.9"/>
<text transform="translate(32.20,338.10) scale(1.05,1)" font-size="8.6" text-anchor="end" fill="#231f20" stroke="#231f20" stroke-width="0.12">100</text>
<text transform="translate(13.90,360.20) rotate(-90) scale(0.81,1)" font-size="10" text-anchor="middle" fill="#231f20" stroke="#231f20" stroke-width="0.15">Viability [%]</text>
<text transform="translate(81.70,430.60)" font-size="10.4" text-anchor="middle" fill="#231f20" textLength="32.5" lengthAdjust="spacingAndGlyphs" stroke="#231f20" stroke-width="0.12">VEN [µM]</text>
<rect x="174.30" y="335.00" width="5.20" height="62.50" fill="#1b4f8c"/>
<rect x="180.55" y="335.00" width="5.20" height="62.50" fill="#c8102e"/>
<rect x="186.80" y="335.00" width="5.20" height="62.50" fill="#6a2077"/>
<line x1="182.90" y1="397.50" x2="182.90" y2="400.70" stroke="#231f20" stroke-width="0.9"/>
<text transform="translate(184.10,406.30) rotate(-45)" font-size="8" text-anchor="end" fill="#231f20" stroke="#231f20" stroke-width="0.12">0.00</text>
<rect x="196.80" y="336.88" width="5.20" height="60.62" fill="#1b4f8c"/>
<line x1="199.40" y1="336.88" x2="199.40" y2="333.75" stroke="#1b4f8c" stroke-width="0.8"/>
<line x1="197.90" y1="333.75" x2="200.90" y2="333.75" stroke="#1b4f8c" stroke-width="0.8"/>
<rect x="203.05" y="331.88" width="5.20" height="65.62" fill="#c8102e"/>
<line x1="205.65" y1="331.88" x2="205.65" y2="329.38" stroke="#c8102e" stroke-width="0.8"/>
<line x1="204.15" y1="329.38" x2="207.15" y2="329.38" stroke="#c8102e" stroke-width="0.8"/>
<rect x="209.30" y="333.75" width="5.20" height="63.75" fill="#6a2077"/>
<line x1="211.90" y1="333.75" x2="211.90" y2="330.62" stroke="#6a2077" stroke-width="0.8"/>
<line x1="210.40" y1="330.62" x2="213.40" y2="330.62" stroke="#6a2077" stroke-width="0.8"/>
<line x1="205.40" y1="397.50" x2="205.40" y2="400.70" stroke="#231f20" stroke-width="0.9"/>
<text transform="translate(206.60,406.30) rotate(-45)" font-size="8" text-anchor="end" fill="#231f20" stroke="#231f20" stroke-width="0.12">0.03</text>
<line x1="199.00" y1="316.20" x2="211.20" y2="316.20" stroke="#231f20" stroke-width="0.8"/>
<line x1="199.00" y1="323.10" x2="205.80" y2="323.10" stroke="#231f20" stroke-width="0.8"/>
<text transform="translate(205.40,313.20) scale(0.9,1)" font-size="6.4" text-anchor="middle" fill="#231f20" font-style="italic" stroke="#231f20" stroke-width="0.12">ns</text>
<text transform="translate(202.50,323.30) scale(0.98,1)" font-size="7.4" text-anchor="middle" fill="#231f20" stroke="#231f20" stroke-width="0.2">*</text>
<rect x="219.30" y="345.62" width="5.20" height="51.88" fill="#1b4f8c"/>
<line x1="221.90" y1="345.62" x2="221.90" y2="342.50" stroke="#1b4f8c" stroke-width="0.8"/>
<line x1="220.40" y1="342.50" x2="223.40" y2="342.50" stroke="#1b4f8c" stroke-width="0.8"/>
<rect x="225.55" y="330.62" width="5.20" height="66.88" fill="#c8102e"/>
<line x1="228.15" y1="330.62" x2="228.15" y2="327.50" stroke="#c8102e" stroke-width="0.8"/>
<line x1="226.65" y1="327.50" x2="229.65" y2="327.50" stroke="#c8102e" stroke-width="0.8"/>
<rect x="231.80" y="330.00" width="5.20" height="67.50" fill="#6a2077"/>
<line x1="234.40" y1="330.00" x2="234.40" y2="326.25" stroke="#6a2077" stroke-width="0.8"/>
<line x1="232.90" y1="326.25" x2="235.90" y2="326.25" stroke="#6a2077" stroke-width="0.8"/>
<line x1="227.90" y1="397.50" x2="227.90" y2="400.70" stroke="#231f20" stroke-width="0.9"/>
<text transform="translate(229.10,406.30) rotate(-45)" font-size="8" text-anchor="end" fill="#231f20" stroke="#231f20" stroke-width="0.12">0.10</text>
<line x1="221.50" y1="316.20" x2="233.70" y2="316.20" stroke="#231f20" stroke-width="0.8"/>
<line x1="221.50" y1="323.10" x2="228.30" y2="323.10" stroke="#231f20" stroke-width="0.8"/>
<text transform="translate(227.90,316.70) scale(0.98,1)" font-size="7.4" text-anchor="middle" fill="#231f20" stroke="#231f20" stroke-width="0.2">****</text>
<text transform="translate(225.00,323.30) scale(0.98,1)" font-size="7.4" text-anchor="middle" fill="#231f20" stroke="#231f20" stroke-width="0.2">***</text>
<rect x="241.80" y="369.38" width="5.20" height="28.12" fill="#1b4f8c"/>
<line x1="244.40" y1="369.38" x2="244.40" y2="367.50" stroke="#1b4f8c" stroke-width="0.8"/>
<line x1="242.90" y1="367.50" x2="245.90" y2="367.50" stroke="#1b4f8c" stroke-width="0.8"/>
<rect x="248.05" y="348.75" width="5.20" height="48.75" fill="#c8102e"/>
<line x1="250.65" y1="348.75" x2="250.65" y2="346.88" stroke="#c8102e" stroke-width="0.8"/>
<line x1="249.15" y1="346.88" x2="252.15" y2="346.88" stroke="#c8102e" stroke-width="0.8"/>
<rect x="254.30" y="331.88" width="5.20" height="65.62" fill="#6a2077"/>
<line x1="256.90" y1="331.88" x2="256.90" y2="329.38" stroke="#6a2077" stroke-width="0.8"/>
<line x1="255.40" y1="329.38" x2="258.40" y2="329.38" stroke="#6a2077" stroke-width="0.8"/>
<line x1="250.40" y1="397.50" x2="250.40" y2="400.70" stroke="#231f20" stroke-width="0.9"/>
<text transform="translate(251.60,406.30) rotate(-45)" font-size="8" text-anchor="end" fill="#231f20" stroke="#231f20" stroke-width="0.12">0.33</text>
<line x1="244.00" y1="316.20" x2="256.20" y2="316.20" stroke="#231f20" stroke-width="0.8"/>
<line x1="244.00" y1="323.10" x2="250.80" y2="323.10" stroke="#231f20" stroke-width="0.8"/>
<text transform="translate(250.40,316.70) scale(0.98,1)" font-size="7.4" text-anchor="middle" fill="#231f20" stroke="#231f20" stroke-width="0.2">****</text>
<text transform="translate(247.50,323.30) scale(0.98,1)" font-size="7.4" text-anchor="middle" fill="#231f20" stroke="#231f20" stroke-width="0.2">****</text>
<line x1="172.50" y1="322.50" x2="172.50" y2="398.00" stroke="#231f20" stroke-width="1.1"/>
<line x1="172.00" y1="397.50" x2="260.50" y2="397.50" stroke="#231f20" stroke-width="1.1"/>
<line x1="169.30" y1="397.50" x2="172.50" y2="397.50" stroke="#231f20" stroke-width="0.9"/>
<text transform="translate(167.20,400.60) scale(1.05,1)" font-size="8.6" text-anchor="end" fill="#231f20" stroke="#231f20" stroke-width="0.12">0</text>
<line x1="169.30" y1="366.25" x2="172.50" y2="366.25" stroke="#231f20" stroke-width="0.9"/>
<text transform="translate(167.20,369.35) scale(1.05,1)" font-size="8.6" text-anchor="end" fill="#231f20" stroke="#231f20" stroke-width="0.12">50</text>
<line x1="169.30" y1="335.00" x2="172.50" y2="335.00" stroke="#231f20" stroke-width="0.9"/>
<text transform="translate(167.20,338.10) scale(1.05,1)" font-size="8.6" text-anchor="end" fill="#231f20" stroke="#231f20" stroke-width="0.12">100</text>
<text transform="translate(148.90,360.20) rotate(-90) scale(0.81,1)" font-size="10" text-anchor="middle" fill="#231f20" stroke="#231f20" stroke-width="0.15">Viability [%]</text>
<text transform="translate(216.90,430.60)" font-size="10.4" text-anchor="middle" fill="#231f20" textLength="46.2" lengthAdjust="spacingAndGlyphs" stroke="#231f20" stroke-width="0.12">S63845 [µM]</text>
<rect x="309.30" y="335.00" width="5.20" height="62.50" fill="#1b4f8c"/>
<rect x="315.55" y="335.00" width="5.20" height="62.50" fill="#c8102e"/>
<rect x="321.80" y="335.00" width="5.20" height="62.50" fill="#6a2077"/>
<line x1="317.90" y1="397.50" x2="317.90" y2="400.70" stroke="#231f20" stroke-width="0.9"/>
<text transform="translate(319.10,406.30) rotate(-45)" font-size="8" text-anchor="end" fill="#231f20" stroke="#231f20" stroke-width="0.12">0.00</text>
<rect x="331.80" y="343.12" width="5.20" height="54.38" fill="#1b4f8c"/>
<line x1="334.40" y1="343.12" x2="334.40" y2="336.25" stroke="#1b4f8c" stroke-width="0.8"/>
<line x1="332.90" y1="336.25" x2="335.90" y2="336.25" stroke="#1b4f8c" stroke-width="0.8"/>
<rect x="338.05" y="335.00" width="5.20" height="62.50" fill="#c8102e"/>
<line x1="340.65" y1="335.00" x2="340.65" y2="329.38" stroke="#c8102e" stroke-width="0.8"/>
<line x1="339.15" y1="329.38" x2="342.15" y2="329.38" stroke="#c8102e" stroke-width="0.8"/>
<rect x="344.30" y="336.88" width="5.20" height="60.62" fill="#6a2077"/>
<line x1="346.90" y1="336.88" x2="346.90" y2="330.62" stroke="#6a2077" stroke-width="0.8"/>
<line x1="345.40" y1="330.62" x2="348.40" y2="330.62" stroke="#6a2077" stroke-width="0.8"/>
<line x1="340.40" y1="397.50" x2="340.40" y2="400.70" stroke="#231f20" stroke-width="0.9"/>
<text transform="translate(341.60,406.30) rotate(-45)" font-size="8" text-anchor="end" fill="#231f20" stroke="#231f20" stroke-width="0.12">0.10</text>
<line x1="334.00" y1="316.20" x2="346.20" y2="316.20" stroke="#231f20" stroke-width="0.8"/>
<line x1="334.00" y1="323.10" x2="340.80" y2="323.10" stroke="#231f20" stroke-width="0.8"/>
<text transform="translate(340.40,313.20) scale(0.9,1)" font-size="6.4" text-anchor="middle" fill="#231f20" font-style="italic" stroke="#231f20" stroke-width="0.12">ns</text>
<text transform="translate(337.50,320.10) scale(0.9,1)" font-size="6.4" text-anchor="middle" fill="#231f20" font-style="italic" stroke="#231f20" stroke-width="0.12">ns</text>
<rect x="354.30" y="366.88" width="5.20" height="30.62" fill="#1b4f8c"/>
<line x1="356.90" y1="366.88" x2="356.90" y2="353.75" stroke="#1b4f8c" stroke-width="0.8"/>
<line x1="355.40" y1="353.75" x2="358.40" y2="353.75" stroke="#1b4f8c" stroke-width="0.8"/>
<rect x="360.55" y="340.62" width="5.20" height="56.88" fill="#c8102e"/>
<line x1="363.15" y1="340.62" x2="363.15" y2="337.50" stroke="#c8102e" stroke-width="0.8"/>
<line x1="361.65" y1="337.50" x2="364.65" y2="337.50" stroke="#c8102e" stroke-width="0.8"/>
<rect x="366.80" y="348.75" width="5.20" height="48.75" fill="#6a2077"/>
<line x1="369.40" y1="348.75" x2="369.40" y2="342.50" stroke="#6a2077" stroke-width="0.8"/>
<line x1="367.90" y1="342.50" x2="370.90" y2="342.50" stroke="#6a2077" stroke-width="0.8"/>
<line x1="362.90" y1="397.50" x2="362.90" y2="400.70" stroke="#231f20" stroke-width="0.9"/>
<text transform="translate(364.10,406.30) rotate(-45)" font-size="8" text-anchor="end" fill="#231f20" stroke="#231f20" stroke-width="0.12">1.00</text>
<line x1="356.50" y1="316.20" x2="368.70" y2="316.20" stroke="#231f20" stroke-width="0.8"/>
<line x1="356.50" y1="323.10" x2="363.30" y2="323.10" stroke="#231f20" stroke-width="0.8"/>
<text transform="translate(362.90,316.70) scale(0.98,1)" font-size="7.4" text-anchor="middle" fill="#231f20" stroke="#231f20" stroke-width="0.2">*</text>
<text transform="translate(360.00,323.30) scale(0.98,1)" font-size="7.4" text-anchor="middle" fill="#231f20" stroke="#231f20" stroke-width="0.2">**</text>
<rect x="376.80" y="387.50" width="5.20" height="10.00" fill="#1b4f8c"/>
<line x1="379.40" y1="387.50" x2="379.40" y2="382.50" stroke="#1b4f8c" stroke-width="0.8"/>
<line x1="377.90" y1="382.50" x2="380.90" y2="382.50" stroke="#1b4f8c" stroke-width="0.8"/>
<rect x="383.05" y="358.12" width="5.20" height="39.38" fill="#c8102e"/>
<line x1="385.65" y1="358.12" x2="385.65" y2="350.62" stroke="#c8102e" stroke-width="0.8"/>
<line x1="384.15" y1="350.62" x2="387.15" y2="350.62" stroke="#c8102e" stroke-width="0.8"/>
<rect x="389.30" y="369.38" width="5.20" height="28.12" fill="#6a2077"/>
<line x1="391.90" y1="369.38" x2="391.90" y2="364.38" stroke="#6a2077" stroke-width="0.8"/>
<line x1="390.40" y1="364.38" x2="393.40" y2="364.38" stroke="#6a2077" stroke-width="0.8"/>
<line x1="385.40" y1="397.50" x2="385.40" y2="400.70" stroke="#231f20" stroke-width="0.9"/>
<text transform="translate(386.60,406.30) rotate(-45)" font-size="8" text-anchor="end" fill="#231f20" stroke="#231f20" stroke-width="0.12">5.00</text>
<line x1="379.00" y1="316.20" x2="391.20" y2="316.20" stroke="#231f20" stroke-width="0.8"/>
<line x1="379.00" y1="323.10" x2="385.80" y2="323.10" stroke="#231f20" stroke-width="0.8"/>
<text transform="translate(385.40,316.70) scale(0.98,1)" font-size="7.4" text-anchor="middle" fill="#231f20" stroke="#231f20" stroke-width="0.2">***</text>
<text transform="translate(382.50,323.30) scale(0.98,1)" font-size="7.4" text-anchor="middle" fill="#231f20" stroke="#231f20" stroke-width="0.2">****</text>
<line x1="307.50" y1="322.50" x2="307.50" y2="398.00" stroke="#231f20" stroke-width="1.1"/>
<line x1="307.00" y1="397.50" x2="395.50" y2="397.50" stroke="#231f20" stroke-width="1.1"/>
<line x1="304.30" y1="397.50" x2="307.50" y2="397.50" stroke="#231f20" stroke-width="0.9"/>
<text transform="translate(302.20,400.60) scale(1.05,1)" font-size="8.6" text-anchor="end" fill="#231f20" stroke="#231f20" stroke-width="0.12">0</text>
<line x1="304.30" y1="366.25" x2="307.50" y2="366.25" stroke="#231f20" stroke-width="0.9"/>
<text transform="translate(302.20,369.35) scale(1.05,1)" font-size="8.6" text-anchor="end" fill="#231f20" stroke="#231f20" stroke-width="0.12">50</text>
<line x1="304.30" y1="335.00" x2="307.50" y2="335.00" stroke="#231f20" stroke-width="0.9"/>
<text transform="translate(302.20,338.10) scale(1.05,1)" font-size="8.6" text-anchor="end" fill="#231f20" stroke="#231f20" stroke-width="0.12">100</text>
<text transform="translate(283.90,360.20) rotate(-90) scale(0.81,1)" font-size="10" text-anchor="middle" fill="#231f20" stroke="#231f20" stroke-width="0.15">Viability [%]</text>
<text transform="translate(351.80,430.60)" font-size="10.4" text-anchor="middle" fill="#231f20" textLength="61.5" lengthAdjust="spacingAndGlyphs" stroke="#231f20" stroke-width="0.12">Fludarabine [µM]</text>
<rect x="406.50" y="336.10" width="4.40" height="4.40" fill="#1b4f8c"/>
<text transform="translate(414.40,340.50) scale(1.03,1)" font-size="6.5" text-anchor="start" fill="#2a2a2a" font-style="italic">Eµ-TCL1<tspan font-size="4.3" dy="-2.9">tg/wt</tspan><tspan dy="2.9">; Cd19Cre</tspan><tspan font-size="4.3" dy="-2.9">+/wt</tspan><tspan dy="2.9">; Bax</tspan><tspan font-size="4.3" dy="-2.9">wt/wt</tspan></text>
<rect x="406.50" y="347.20" width="4.40" height="4.40" fill="#c8102e"/>
<text transform="translate(414.40,351.60) scale(1.03,1)" font-size="6.5" text-anchor="start" fill="#2a2a2a" font-style="italic">Eµ-TCL1<tspan font-size="4.3" dy="-2.9">tg/wt</tspan><tspan dy="2.9">; Cd19Cre</tspan><tspan font-size="4.3" dy="-2.9">+/wt</tspan><tspan dy="2.9">; Bax</tspan><tspan font-size="4.3" dy="-2.9">fl/wt</tspan></text>
<rect x="406.50" y="358.50" width="4.40" height="4.40" fill="#6a2077"/>
<text transform="translate(414.40,362.90) scale(1.03,1)" font-size="6.5" text-anchor="start" fill="#2a2a2a" font-style="italic">Eµ-TCL1<tspan font-size="4.3" dy="-2.9">tg/wt</tspan><tspan dy="2.9">; Cd19Cre</tspan><tspan font-size="4.3" dy="-2.9">+/wt</tspan><tspan dy="2.9">; Bax</tspan><tspan font-size="4.3" dy="-2.9">fl/fl</tspan></text>
<defs><filter id="b1" x="-50%" y="-50%" width="200%" height="200%"><feGaussianBlur stdDeviation="1.2"/></filter><filter id="b2" x="-50%" y="-50%" width="200%" height="200%"><feGaussianBlur stdDeviation="0.6"/></filter><filter id="b3" x="-50%" y="-50%" width="200%" height="200%"><feGaussianBlur stdDeviation="2"/></filter></defs>
<text transform="translate(0.00,447.70)" font-size="11.7" text-anchor="start" fill="#000" font-weight="bold">F</text>
<path d="M73.2 499.2h.6M58.6 508.8h.6M66.0 499.5h.6M96.5 479.1h.6M70.5 499.5h.6M85.5 486.3h.6M76.7 489.6h.6M64.3 500.2h.6M49.3 507.5h.6M47.1 513.1h.6M67.1 498.5h.6M68.9 494.0h.6M69.3 498.8h.6M79.1 488.3h.6M61.4 497.2h.6M59.7 497.8h.6M52.0 513.8h.6M40.7 520.9h.6M74.1 493.6h.6M77.2 494.1h.6M84.1 486.7h.6M60.9 502.1h.6M56.3 507.1h.6M60.7 507.5h.6M42.5 513.6h.6M53.6 502.5h.6M92.7 473.6h.6M65.3 499.2h.6M89.9 477.0h.6M83.7 485.4h.6M66.8 497.6h.6M77.1 488.8h.6M69.4 499.0h.6M91.8 474.2h.6M92.5 484.5h.6M63.8 502.9h.6M66.0 505.6h.6M72.6 495.0h.6M66.5 499.3h.6M66.2 497.4h.6M95.6 473.1h.6M68.5 499.7h.6M66.9 499.2h.6M76.1 496.3h.6M63.2 501.1h.6M97.7 479.5h.6M59.9 512.1h.6M79.8 488.6h.6M54.2 509.7h.6M56.9 503.5h.6M51.3 509.2h.6M84.7 485.6h.6M50.9 513.2h.6M72.2 498.6h.6M86.4 485.3h.6M67.9 498.8h.6M55.3 510.1h.6M89.3 484.3h.6M66.3 499.3h.6M58.0 503.5h.6M63.2 499.7h.6M61.6 498.5h.6M74.9 494.1h.6M50.6 504.0h.6M71.6 499.9h.6M59.1 503.7h.6M63.1 504.5h.6M58.8 508.6h.6M67.2 502.4h.6M70.1 496.7h.6M48.5 510.6h.6M67.4 501.5h.6M72.3 493.6h.6M77.2 495.5h.6M67.3 498.0h.6M65.8 503.1h.6M76.0 490.2h.6M74.5 492.8h.6M61.5 507.5h.6M80.3 487.9h.6M71.9 497.8h.6M61.0 503.6h.6M76.5 487.1h.6M75.6 495.8h.6M75.0 489.7h.6M73.1 492.5h.6M78.8 493.2h.6M71.8 493.7h.6M63.1 505.1h.6M58.3 507.4h.6M76.7 491.9h.6M96.7 472.0h.6M78.3 490.6h.6M66.4 494.0h.6M59.7 501.5h.6M68.3 501.6h.6M71.3 497.8h.6M59.7 503.5h.6M71.1 495.8h.6M86.2 483.2h.6M94.7 476.8h.6M83.5 485.4h.6M93.0 481.5h.6M76.6 495.1h.6M59.6 501.6h.6M43.8 520.1h.6M59.5 503.1h.6M72.6 502.0h.6M46.5 515.1h.6M65.3 502.5h.6M44.5 514.4h.6M84.0 492.5h.6M90.8 479.9h.6M70.6 496.7h.6M48.8 508.0h.6M80.8 490.5h.6M69.9 501.5h.6M56.9 508.5h.6M70.0 497.3h.6M77.1 493.0h.6M74.1 495.4h.6M96.4 477.7h.6M84.9 488.8h.6M66.4 502.6h.6M59.9 508.4h.6M58.1 504.5h.6M75.7 496.1h.6M83.9 490.4h.6M65.7 497.5h.6M78.1 492.7h.6M58.3 509.0h.6M71.3 493.5h.6M74.1 490.3h.6M58.5 507.0h.6M48.5 513.0h.6M52.4 512.4h.6M60.2 505.1h.6M48.7 511.6h.6M83.8 489.1h.6M45.9 517.6h.6M81.8 487.9h.6M88.0 481.3h.6M70.5 500.7h.6M90.1 487.3h.6M52.2 504.5h.6M73.3 490.6h.6M66.2 496.1h.6M85.9 488.7h.6M77.7 492.0h.6M70.2 496.4h.6M75.7 494.2h.6M75.7 492.1h.6M96.7 479.4h.6M91.3 486.6h.6M55.3 502.6h.6M86.8 484.3h.6M70.7 496.1h.6M70.0 493.7h.6M67.9 497.5h.6M66.3 492.7h.6M81.9 490.1h.6M45.0 513.0h.6M71.4 498.5h.6M72.1 500.4h.6M68.8 495.2h.6M61.8 505.8h.6M62.8 505.3h.6M85.0 488.7h.6M83.8 487.1h.6M69.0 496.3h.6M59.2 500.2h.6M60.7 500.7h.6M50.5 511.9h.6M75.8 492.3h.6M90.4 486.0h.6M83.6 485.9h.6M50.2 513.4h.6M75.4 496.0h.6M77.7 496.1h.6M67.0 501.8h.6M54.1 501.5h.6M66.1 505.1h.6M48.3 516.2h.6M60.0 503.4h.6M70.9 497.5h.6M56.7 507.4h.6M77.4 494.9h.6M61.9 508.2h.6M100.0 483.8h.6M51.7 511.1h.6M44.8 516.7h.6M75.9 489.6h.6M48.3 513.6h.6M77.5 489.6h.6M62.6 494.7h.6M60.4 504.8h.6M74.5 499.4h.6M50.8 504.0h.6M75.4 491.8h.6M75.1 496.2h.6M80.5 494.6h.6M86.2 480.6h.6M72.1 502.4h.6M65.8 503.6h.6M68.6 497.2h.6M93.5 484.1h.6M68.0 501.8h.6M50.7 508.9h.6M82.5 488.7h.6M56.0 508.9h.6M76.5 497.0h.6M82.8 487.5h.6M63.1 502.0h.6M69.0 502.9h.6M94.0 484.7h.6M74.9 493.2h.6M82.0 487.8h.6M70.8 491.6h.6M66.3 504.7h.6M53.5 504.5h.6M70.2 502.6h.6M89.5 482.4h.6M63.2 502.0h.6M57.2 506.8h.6M63.6 497.3h.6M61.6 502.7h.6M56.4 503.6h.6M85.4 492.6h.6M65.4 499.4h.6M76.6 492.1h.6M61.3 508.2h.6M54.5 506.2h.6M59.5 502.2h.6M67.6 501.1h.6M90.9 484.7h.6M68.6 494.5h.6M67.7 496.1h.6M70.1 500.5h.6M72.5 495.0h.6M59.5 504.9h.6M70.1 494.4h.6M64.3 504.4h.6M46.3 513.0h.6M56.2 512.3h.6M79.2 492.6h.6M75.9 494.2h.6M71.6 491.3h.6M74.5 496.2h.6M51.5 513.3h.6M76.9 487.7h.6M63.0 501.5h.6M63.3 503.5h.6M52.0 509.6h.6M74.2 496.8h.6M70.3 496.5h.6M76.6 486.5h.6M82.5 487.6h.6M52.0 508.9h.6M41.5 511.3h.6M64.3 499.1h.6M78.8 488.4h.6M50.6 508.3h.6M93.8 480.6h.6M60.0 501.4h.6M54.5 508.0h.6M77.7 495.7h.6M86.3 486.8h.6M59.6 502.2h.6M75.3 492.6h.6M73.1 491.0h.6M82.9 489.3h.6M71.2 497.9h.6M38.2 518.4h.6M60.3 510.2h.6M66.7 498.2h.6M80.2 486.8h.6M88.6 482.0h.6M67.8 496.1h.6M77.9 484.9h.6M78.3 488.9h.6M68.9 494.6h.6M73.4 495.6h.6M78.6 492.3h.6M80.1 493.5h.6M62.8 498.8h.6M53.3 511.6h.6M66.4 503.4h.6M69.1 494.9h.6M85.5 492.7h.6M66.1 497.3h.6M59.6 507.7h.6M61.3 502.4h.6M79.5 490.8h.6M70.8 495.2h.6M61.4 504.2h.6M73.0 497.2h.6M63.6 503.2h.6M76.7 493.0h.6M79.4 494.0h.6M72.9 495.7h.6M57.1 507.8h.6M68.2 497.8h.6M59.4 506.9h.6M71.9 497.6h.6M61.9 503.6h.6M59.9 502.7h.6M73.6 495.7h.6M67.2 496.9h.6M72.0 492.6h.6M80.2 489.2h.6M71.2 499.2h.6M75.8 489.3h.6M67.1 500.7h.6M51.3 503.1h.6M68.9 498.1h.6M76.0 493.5h.6M72.2 496.7h.6M89.8 485.0h.6M76.9 491.3h.6M85.3 486.0h.6M77.0 485.8h.6M73.2 494.9h.6M65.6 504.8h.6M75.4 493.2h.6M65.6 506.7h.6M81.3 491.5h.6M61.4 507.8h.6M77.3 491.4h.6M66.1 495.1h.6M77.4 488.8h.6M81.0 488.3h.6M62.0 504.4h.6M71.2 493.0h.6M69.9 499.5h.6M64.5 497.1h.6M65.2 497.9h.6M62.1 503.3h.6M69.0 497.6h.6M47.7 514.5h.6M66.6 498.6h.6M75.0 500.0h.6M49.8 506.8h.6M79.3 488.3h.6M86.5 482.6h.6M64.6 504.0h.6M83.2 489.5h.6M76.1 492.8h.6M63.6 501.4h.6M88.6 486.5h.6M70.7 498.0h.6M83.2 491.8h.6M68.1 498.6h.6M78.5 499.7h.6M75.2 497.8h.6M50.2 514.3h.6M49.0 509.0h.6M61.1 503.4h.6M73.0 496.5h.6M72.4 494.4h.6M82.2 495.2h.6M84.2 489.2h.6M77.2 498.3h.6M53.7 506.1h.6M69.0 491.8h.6M61.0 507.5h.6M63.9 502.4h.6M77.8 488.3h.6M72.8 493.5h.6M54.6 507.6h.6M68.6 497.2h.6M62.4 506.0h.6M86.6 487.4h.6M67.1 496.2h.6M57.1 503.2h.6M74.2 497.4h.6M82.5 488.5h.6M65.0 501.6h.6M72.6 497.6h.6M89.2 481.6h.6M95.5 472.6h.6M43.3 511.7h.6M55.6 507.0h.6M97.3 475.8h.6M84.6 485.9h.6M70.6 493.9h.6M101.1 475.2h.6M65.0 508.3h.6M73.1 496.6h.6M66.8 497.2h.6M50.1 511.1h.6M92.8 482.6h.6M69.2 501.4h.6M59.3 509.5h.6M68.5 495.9h.6M80.1 491.9h.6M65.6 501.3h.6M85.5 490.9h.6M54.5 500.3h.6M97.7 476.9h.6M64.9 502.5h.6M65.7 503.9h.6M52.6 509.2h.6M55.1 513.0h.6M68.3 502.2h.6M87.2 481.4h.6M68.0 501.2h.6M70.5 496.7h.6M82.9 491.2h.6M61.7 503.0h.6M79.2 491.6h.6M70.3 493.8h.6M93.7 479.8h.6M73.6 494.8h.6M71.1 497.2h.6M59.1 506.5h.6M87.1 486.6h.6M80.7 491.4h.6M73.2 501.0h.6M61.2 505.0h.6M84.5 488.0h.6M53.9 505.5h.6M90.0 480.2h.6M70.9 498.6h.6M68.6 492.9h.6M43.8 515.9h.6M59.0 504.5h.6M71.5 496.9h.6M49.1 507.1h.6M82.0 487.0h.6M50.9 504.8h.6M75.5 489.6h.6M56.6 509.1h.6M75.0 495.7h.6M48.3 503.9h.6M56.0 506.5h.6M62.2 505.9h.6M73.4 491.8h.6M77.6 491.6h.6M65.0 504.6h.6M48.6 516.1h.6M81.9 482.5h.6M67.1 499.0h.6M53.5 507.4h.6M58.9 505.6h.6M59.1 498.5h.6M87.8 487.7h.6M59.8 507.5h.6M95.5 474.3h.6M63.6 500.4h.6M77.2 491.4h.6M52.6 513.9h.6M66.7 502.2h.6M100.5 473.4h.6M65.7 503.5h.6M69.3 499.6h.6M74.2 503.5h.6M79.3 492.0h.6M72.3 497.1h.6M47.1 513.0h.6M78.5 487.6h.6M70.5 496.9h.6M66.7 507.8h.6M80.4 491.1h.6M59.3 505.4h.6M65.7 500.3h.6M76.8 500.6h.6M91.1 487.9h.6M93.3 489.9h.6M58.9 501.3h.6M73.3 496.0h.6M69.6 495.8h.6M82.1 494.4h.6M72.8 494.8h.6M86.1 485.0h.6M65.6 501.7h.6M69.4 499.6h.6M75.0 495.2h.6M54.2 514.4h.6M78.5 492.4h.6M80.2 489.9h.6M52.2 516.4h.6M48.7 513.1h.6M69.2 498.7h.6M59.1 509.6h.6M71.7 492.3h.6M53.7 510.0h.6M54.7 509.8h.6M73.7 493.0h.6M41.4 513.8h.6M74.3 492.8h.6M95.1 478.2h.6M76.4 495.1h.6M71.8 497.2h.6M83.9 487.2h.6M74.2 493.4h.6M98.1 478.0h.6M77.2 482.9h.6M61.6 499.9h.6M70.0 496.1h.6M55.1 507.2h.6M83.0 491.7h.6M64.3 505.0h.6M62.5 504.9h.6M59.8 508.2h.6M101.8 473.9h.6M84.8 482.3h.6M65.3 509.4h.6M69.9 499.2h.6M47.5 513.5h.6M61.0 507.8h.6M66.6 508.1h.6M55.4 509.0h.6M41.7 516.4h.6M86.8 485.2h.6M52.8 511.3h.6M83.9 489.0h.6M81.7 484.7h.6M96.4 481.0h.6M64.3 503.2h.6M41.7 515.7h.6M46.0 517.3h.6M65.5 497.8h.6M66.6 503.5h.6M60.1 506.4h.6M51.1 505.6h.6M62.9 501.7h.6M73.9 497.7h.6M63.8 500.8h.6M81.3 490.8h.6M69.7 498.5h.6M38.9 518.0h.6M47.4 512.5h.6M79.9 485.0h.6M81.9 487.2h.6M66.4 498.6h.6M78.8 489.1h.6M41.7 518.7h.6M68.9 500.3h.6M76.5 489.0h.6M73.0 495.7h.6M69.1 498.4h.6M73.5 493.2h.6M69.4 501.1h.6M55.2 507.8h.6M54.4 505.3h.6M64.5 502.0h.6M90.7 482.1h.6M83.7 489.4h.6M66.3 490.3h.6M71.8 496.4h.6M55.8 508.0h.6M88.7 480.5h.6M64.3 504.5h.6M43.5 513.1h.6M75.5 496.6h.6M88.0 487.1h.6M51.8 509.8h.6M79.2 492.1h.6M43.8 517.4h.6M58.7 504.9h.6M90.0 482.7h.6M60.7 503.8h.6M64.2 508.2h.6M82.8 491.3h.6M59.6 502.9h.6M70.3 490.3h.6M82.2 484.7h.6M71.9 497.2h.6M59.6 506.0h.6M82.5 494.6h.6M78.2 497.5h.6M76.2 492.5h.6M81.1 487.9h.6M73.0 497.3h.6M86.2 486.8h.6M51.8 514.7h.6M71.9 495.2h.6M59.7 506.7h.6M75.6 495.7h.6M70.5 502.0h.6M67.0 500.9h.6M74.4 497.8h.6M60.0 503.7h.6M66.0 498.2h.6M59.1 501.4h.6M82.6 493.2h.6M57.6 508.8h.6M52.9 507.1h.6M65.8 500.9h.6M73.4 488.9h.6M52.0 510.6h.6M69.8 504.4h.6M65.2 498.9h.6M82.6 480.0h.6M61.5 503.8h.6M66.1 497.5h.6M66.0 496.2h.6M84.4 489.7h.6M78.0 488.9h.6M42.5 515.6h.6M55.4 509.2h.6M46.2 511.5h.6M72.4 497.1h.6M69.3 493.9h.6M63.5 508.5h.6M81.7 486.5h.6M96.0 478.5h.6M68.6 495.8h.6M91.0 482.9h.6M67.4 496.4h.6M52.5 510.5h.6M72.4 500.8h.6M56.8 505.7h.6M84.8 489.5h.6M62.8 507.3h.6M77.8 494.7h.6M76.2 496.2h.6M63.8 501.2h.6M85.5 487.7h.6M76.6 496.4h.6M73.8 496.1h.6M38.7 518.1h.6M80.0 487.6h.6M66.2 500.9h.6M69.3 500.7h.6M76.2 492.5h.6M84.4 486.1h.6M60.6 505.2h.6M78.4 491.0h.6M54.3 507.0h.6M74.1 496.7h.6M94.1 479.8h.6M63.7 495.2h.6M88.9 486.9h.6M69.0 496.0h.6M61.4 508.4h.6M82.3 492.8h.6M69.8 501.4h.6M52.7 514.4h.6M67.7 495.4h.6M62.9 499.4h.6M72.5 493.4h.6M51.8 509.3h.6M67.0 500.2h.6M81.4 493.3h.6M78.1 497.0h.6M80.9 485.5h.6M67.5 500.0h.6M47.7 511.6h.6M77.7 491.0h.6M94.7 487.4h.6M67.2 495.8h.6M68.6 496.7h.6M49.6 510.8h.6M62.9 501.4h.6M84.3 490.7h.6M75.1 492.7h.6M75.8 493.4h.6M71.6 493.3h.6M61.0 502.3h.6M69.6 497.6h.6M68.1 503.7h.6M72.0 496.8h.6M57.6 506.0h.6M76.2 492.8h.6M73.0 492.4h.6M73.6 491.7h.6M62.7 500.2h.6M74.1 498.1h.6M72.6 492.8h.6M73.4 498.4h.6M80.7 491.5h.6M53.6 507.4h.6M59.9 503.2h.6M73.2 495.3h.6M66.0 502.2h.6M59.6 503.8h.6M69.4 493.6h.6M56.1 503.0h.6M55.3 507.5h.6M68.7 499.5h.6M72.8 491.9h.6M97.6 482.1h.6M52.1 508.1h.6M63.6 502.7h.6M78.4 491.5h.6M83.0 490.9h.6M59.8 505.1h.6M82.0 487.4h.6M85.8 486.5h.6M91.8 482.1h.6M88.0 479.5h.6M90.5 484.3h.6M66.3 503.5h.6M67.5 501.8h.6M84.6 490.4h.6M72.7 496.8h.6M67.6 495.3h.6M70.2 493.6h.6M65.6 499.7h.6M60.8 500.7h.6M71.5 496.4h.6M89.8 485.3h.6M82.2 487.3h.6M63.8 497.9h.6M59.1 507.6h.6M67.1 499.1h.6M64.6 506.3h.6M70.9 500.5h.6M70.9 499.9h.6M54.6 504.2h.6M84.7 486.0h.6M75.0 496.7h.6M80.0 491.2h.6M52.5 507.7h.6M71.4 498.5h.6M77.6 493.2h.6M59.4 505.1h.6M82.0 486.2h.6M63.5 505.0h.6M92.4 482.8h.6M68.7 495.4h.6M67.1 497.0h.6M73.0 497.6h.6M78.2 495.8h.6M54.1 504.8h.6M90.3 486.3h.6M56.8 507.3h.6M55.2 508.0h.6M75.7 496.5h.6M54.8 504.3h.6M77.3 491.2h.6M87.5 481.4h.6M57.0 498.1h.6M87.5 489.2h.6M75.2 492.8h.6M40.2 514.4h.6M65.6 506.7h.6M81.4 487.5h.6M76.7 494.5h.6M75.6 490.6h.6M65.5 503.9h.6M79.0 490.0h.6M65.8 503.4h.6M80.9 489.3h.6M96.5 482.0h.6M71.4 498.7h.6M78.8 490.3h.6M79.3 489.2h.6M67.8 501.2h.6M52.4 509.0h.6M57.8 508.4h.6M64.9 507.0h.6M90.2 481.0h.6M71.7 495.2h.6M71.0 498.9h.6M93.8 487.5h.6M93.5 476.8h.6M63.3 501.7h.6M66.0 500.8h.6M78.3 490.2h.6M65.6 508.1h.6M82.8 495.2h.6M64.4 505.9h.6M95.2 483.8h.6M60.6 506.0h.6M57.8 502.6h.6M70.7 498.6h.6M67.1 499.2h.6M77.8 489.8h.6M77.1 494.9h.6M80.0 492.2h.6M56.0 506.6h.6M65.3 503.1h.6M46.3 514.9h.6M49.1 514.5h.6M63.1 502.6h.6M85.5 491.9h.6M56.7 507.4h.6M43.1 516.1h.6M61.7 505.5h.6M68.8 498.7h.6M54.3 507.7h.6M54.9 508.4h.6M48.8 513.5h.6M89.2 492.1h.6M92.9 485.4h.6M83.6 492.9h.6M70.2 498.6h.6M43.7 514.7h.6M83.4 482.5h.6M74.5 494.2h.6M65.7 501.6h.6M68.8 494.8h.6M66.4 494.4h.6M90.8 482.6h.6M81.0 486.8h.6M97.0 481.5h.6M75.3 494.5h.6M74.4 492.1h.6M67.9 498.3h.6M77.7 496.9h.6M86.5 486.6h.6M78.5 490.6h.6M61.2 498.7h.6M51.0 507.3h.6M69.0 497.7h.6M77.9 495.6h.6M79.3 490.4h.6M63.4 501.3h.6M77.2 489.5h.6M49.3 511.6h.6M86.5 489.7h.6M75.6 487.5h.6M69.1 500.4h.6M87.9 490.6h.6M57.8 507.4h.6M48.4 512.2h.6M66.0 503.0h.6M69.8 492.1h.6M69.0 499.4h.6M89.1 481.6h.6M57.4 504.6h.6M83.8 486.8h.6M72.0 497.5h.6M60.5 507.7h.6M50.6 517.1h.6M59.6 502.0h.6M58.2 502.2h.6M56.8 504.4h.6M53.8 508.5h.6M73.6 493.1h.6M71.3 493.9h.6M72.7 494.6h.6M55.2 508.3h.6M66.8 497.7h.6M70.2 499.0h.6M52.4 508.4h.6M78.7 491.3h.6M84.4 494.8h.6M53.4 510.5h.6M67.1 504.1h.6M75.9 488.9h.6M84.9 486.9h.6M65.9 500.5h.6M71.7 493.6h.6M66.8 504.1h.6M55.1 506.2h.6M79.2 487.9h.6M67.7 500.1h.6M57.1 505.7h.6M57.2 505.9h.6M73.9 494.8h.6M73.9 495.9h.6M79.3 487.5h.6M73.9 499.7h.6M66.3 499.3h.6M69.0 495.9h.6M77.6 492.0h.6M68.8 500.7h.6M84.4 482.7h.6M62.7 501.8h.6M51.6 512.8h.6M100.3 478.4h.6M84.5 481.0h.6M61.9 499.1h.6M80.6 489.6h.6M68.3 500.3h.6M82.9 493.4h.6M90.3 486.0h.6M49.3 516.2h.6M69.0 493.4h.6M71.9 495.3h.6M70.2 500.4h.6M52.3 512.1h.6M84.8 483.4h.6M88.2 482.4h.6M61.2 506.8h.6M67.0 493.8h.6M62.2 505.3h.6M61.8 501.8h.6M70.1 497.4h.6" stroke="#777" stroke-width="0.6" opacity="0.45" fill="none"/>
<path d="M66.3 498.4h.6M83.8 498.5h.6M49.5 516.4h.6M84.7 486.6h.6M87.9 481.2h.6M90.3 496.3h.6M86.2 476.1h.6M74.2 492.8h.6M83.7 499.5h.6M84.5 500.2h.6M55.7 505.6h.6M71.9 503.2h.6M87.2 485.2h.6M68.1 506.9h.6M63.0 508.5h.6M66.9 502.4h.6M97.9 481.4h.6M74.5 493.6h.6M85.8 498.8h.6M79.8 487.5h.6M83.8 500.3h.6M65.2 503.2h.6M64.5 501.4h.6M61.9 499.0h.6M81.1 493.4h.6M49.7 508.5h.6M65.4 498.0h.6M77.2 495.2h.6M76.7 489.3h.6M66.8 500.6h.6M71.0 498.4h.6M67.4 501.9h.6M92.1 482.5h.6M58.7 509.8h.6M68.0 506.5h.6M91.5 495.9h.6M73.5 489.6h.6M95.7 489.1h.6M90.3 488.3h.6M72.3 499.6h.6M58.3 513.8h.6M67.8 499.1h.6M77.9 491.1h.6M83.3 489.0h.6M84.3 493.4h.6M75.5 494.7h.6M53.9 508.4h.6M66.3 500.7h.6M72.5 489.3h.6M60.9 503.2h.6M73.4 503.6h.6M83.2 492.3h.6M83.3 501.7h.6M79.5 497.9h.6M75.2 494.3h.6M87.5 488.7h.6M89.5 482.3h.6M85.2 500.1h.6M70.2 502.7h.6M93.4 488.1h.6M66.6 501.4h.6M78.2 492.5h.6M72.0 500.4h.6M66.7 512.0h.6M69.7 501.1h.6M80.8 501.5h.6M77.1 507.3h.6M98.2 486.6h.6M58.2 501.6h.6M74.2 499.8h.6M86.2 497.0h.6M81.4 493.9h.6M75.6 486.5h.6M85.2 483.0h.6M53.4 508.0h.6M68.5 495.4h.6M74.1 498.8h.6M84.0 494.0h.6M70.9 501.0h.6M89.5 487.0h.6M69.4 489.9h.6M84.4 502.6h.6M83.8 490.8h.6M92.9 492.8h.6M88.2 482.9h.6M65.4 507.9h.6M83.2 494.9h.6M62.2 510.3h.6M100.2 487.8h.6M82.2 502.9h.6M81.7 481.2h.6M60.1 508.9h.6M75.1 507.4h.6M96.7 490.6h.6M72.3 498.4h.6M84.1 490.1h.6M84.5 493.2h.6M85.1 491.9h.6M60.8 491.3h.6M58.0 501.0h.6M80.1 486.7h.6M71.0 502.9h.6M86.2 496.0h.6M84.9 499.6h.6M72.8 505.5h.6M60.3 505.0h.6M82.3 496.4h.6M71.6 496.4h.6M57.0 497.1h.6M58.7 517.1h.6M52.4 503.9h.6M57.3 507.6h.6M71.6 496.7h.6M61.3 505.7h.6M61.2 508.4h.6M90.0 482.8h.6M77.1 493.6h.6M68.3 494.8h.6M76.7 496.4h.6M95.8 497.1h.6M66.9 508.9h.6M65.4 500.9h.6M64.2 507.3h.6M89.1 487.9h.6M76.3 492.4h.6M69.2 494.3h.6M70.0 489.8h.6M68.3 499.4h.6M71.4 500.5h.6M83.1 502.5h.6M65.9 493.1h.6M79.7 496.8h.6M68.7 506.1h.6M71.8 495.4h.6M71.6 492.8h.6M75.6 506.4h.6M90.5 490.8h.6M77.9 497.2h.6M63.3 506.1h.6M66.4 499.8h.6M91.4 483.0h.6M76.8 496.9h.6M86.3 489.0h.6M82.3 494.9h.6M72.5 496.1h.6M67.2 508.5h.6M69.3 507.6h.6M93.0 483.0h.6M62.9 500.1h.6M73.6 505.7h.6M64.8 498.5h.6M58.1 509.2h.6M84.6 499.6h.6M78.8 495.0h.6M82.7 508.3h.6M95.7 489.1h.6M71.9 498.7h.6M74.9 497.3h.6M79.7 490.9h.6M94.3 479.9h.6M85.1 495.2h.6M89.9 495.3h.6M80.1 495.5h.6M95.3 491.5h.6M78.3 500.2h.6M64.0 507.0h.6M56.5 516.4h.6M71.7 505.0h.6M79.9 491.4h.6M89.7 497.2h.6M71.5 510.3h.6M78.5 490.7h.6M74.5 500.1h.6M82.4 488.7h.6M73.6 501.4h.6M84.3 502.4h.6M87.7 494.4h.6M64.5 499.9h.6M65.0 504.1h.6M87.5 498.8h.6M85.3 486.8h.6M81.2 505.5h.6M79.4 497.9h.6M58.2 501.3h.6M70.8 499.3h.6M82.1 492.6h.6M64.0 518.1h.6M76.8 487.8h.6M97.1 488.1h.6M74.9 498.2h.6M76.6 484.6h.6M88.3 490.8h.6M82.7 489.8h.6M73.8 507.2h.6M85.5 482.5h.6M72.5 495.9h.6M67.5 496.0h.6M62.3 506.6h.6M75.1 501.0h.6M83.6 489.3h.6M59.4 507.2h.6M73.9 501.0h.6M69.8 509.8h.6M77.7 507.6h.6M73.1 509.6h.6M83.5 497.4h.6M81.3 495.8h.6M65.4 503.2h.6M68.2 501.2h.6M74.4 502.4h.6M79.0 493.7h.6M59.9 512.7h.6M67.6 500.6h.6M81.2 493.6h.6M77.7 496.7h.6M57.8 512.8h.6M76.2 501.2h.6M76.4 494.7h.6M92.4 487.2h.6M88.9 492.1h.6M87.7 495.1h.6M81.0 489.0h.6M77.2 503.7h.6M74.1 496.5h.6M79.1 500.2h.6M67.2 502.5h.6M69.9 497.5h.6M83.1 489.6h.6M77.8 498.0h.6M82.5 495.4h.6M82.7 488.9h.6M52.3 517.2h.6M93.3 483.9h.6M78.8 500.0h.6M67.5 502.4h.6M73.1 501.9h.6M81.1 502.6h.6M65.0 500.6h.6M61.8 507.5h.6M74.6 496.9h.6M80.5 489.1h.6M66.2 514.7h.6M74.1 493.2h.6M88.0 490.1h.6M67.1 504.7h.6M89.5 492.3h.6M79.6 503.7h.6M66.7 502.2h.6M79.1 489.8h.6M84.6 493.6h.6M87.8 491.2h.6M94.6 478.0h.6M71.2 497.6h.6M78.1 499.2h.6M67.7 507.9h.6M88.9 489.5h.6M63.3 508.8h.6M78.9 490.3h.6M67.9 499.7h.6M62.1 508.2h.6M89.3 490.4h.6M69.0 501.5h.6M80.7 503.9h.6M73.1 501.7h.6M76.0 503.3h.6M69.2 504.4h.6M74.2 501.5h.6M61.2 506.4h.6M90.1 491.7h.6M71.6 513.7h.6M80.9 492.8h.6M70.5 495.9h.6M96.3 490.9h.6M89.7 482.9h.6M51.2 501.9h.6M59.4 505.0h.6M59.6 498.9h.6M80.1 490.7h.6M82.6 499.2h.6M66.2 500.7h.6M85.9 482.6h.6M68.0 496.1h.6M72.1 496.2h.6M76.8 493.8h.6M86.6 485.8h.6M76.4 500.2h.6M64.5 500.9h.6M73.3 496.4h.6M82.3 488.9h.6M60.9 510.1h.6M65.1 500.5h.6M75.4 503.2h.6M84.6 492.2h.6M77.4 493.7h.6M96.6 489.0h.6M68.7 506.4h.6M59.2 503.5h.6M72.0 508.0h.6M97.2 483.3h.6M73.6 505.6h.6M73.8 506.8h.6M67.8 507.4h.6M71.3 509.2h.6M75.6 493.7h.6M71.2 487.3h.6M78.2 499.1h.6M98.8 476.4h.6M92.0 493.4h.6M82.9 490.7h.6M75.7 492.7h.6M76.2 490.7h.6M70.7 500.9h.6M63.2 498.5h.6M75.9 498.7h.6M84.1 494.0h.6M93.9 485.2h.6M87.9 483.8h.6M85.0 495.1h.6M94.8 481.6h.6M95.9 483.5h.6M67.5 493.7h.6M84.6 488.5h.6M85.7 491.7h.6M84.8 491.6h.6M67.6 500.2h.6M77.2 498.6h.6M70.0 505.9h.6M50.9 506.4h.6M84.4 493.3h.6M100.9 486.6h.6M62.6 499.9h.6M76.1 496.6h.6M82.8 489.8h.6M66.5 499.2h.6M73.7 494.0h.6M76.4 500.7h.6M71.4 494.1h.6M83.6 496.2h.6M65.4 501.7h.6M55.9 504.4h.6M60.1 499.9h.6M73.4 508.9h.6M87.4 487.2h.6M80.7 494.3h.6M72.1 488.8h.6M71.0 493.9h.6M70.5 499.9h.6M83.4 499.3h.6M82.5 486.5h.6M72.7 502.3h.6M67.7 490.2h.6M82.2 489.2h.6M70.9 490.5h.6M65.9 509.9h.6M71.6 502.2h.6M93.5 485.6h.6M75.3 495.9h.6M85.7 492.5h.6M84.4 499.9h.6M84.3 498.2h.6M65.7 502.1h.6M81.1 489.2h.6M59.6 507.0h.6M71.1 502.1h.6M92.2 483.9h.6M62.9 503.7h.6M67.9 499.3h.6M89.6 491.1h.6M79.4 493.4h.6M86.2 489.8h.6M94.6 484.8h.6M76.6 500.3h.6M94.8 475.1h.6M77.8 489.1h.6M56.5 507.1h.6M80.9 484.7h.6M75.6 507.0h.6M88.7 486.7h.6M83.1 492.6h.6M67.2 498.1h.6M87.8 485.5h.6M72.7 496.2h.6M58.4 507.1h.6M93.7 479.7h.6M77.8 502.2h.6M80.6 493.7h.6M82.9 494.0h.6M72.7 494.4h.6M66.2 493.7h.6M76.5 495.3h.6M64.6 495.5h.6M64.9 493.9h.6M79.1 488.2h.6M82.8 487.6h.6M84.2 494.4h.6M84.1 489.7h.6M55.1 512.5h.6M64.4 495.8h.6M63.8 506.1h.6M83.2 494.0h.6M85.9 496.1h.6M71.7 499.5h.6M71.8 497.9h.6M74.5 498.8h.6M70.2 501.2h.6M84.8 489.4h.6M79.3 489.8h.6M70.4 509.7h.6M76.9 502.8h.6M47.6 502.2h.6M74.2 496.5h.6M51.8 516.3h.6M80.5 490.0h.6M83.4 495.3h.6M74.8 494.4h.6M81.5 490.8h.6M66.3 495.7h.6M79.6 501.1h.6M68.6 498.7h.6M60.3 505.7h.6M84.1 490.6h.6M84.6 497.1h.6M64.0 501.2h.6M81.4 491.6h.6M63.6 504.8h.6M82.4 498.4h.6M66.6 504.6h.6M73.5 483.0h.6M83.2 491.6h.6M61.8 515.6h.6M80.6 495.2h.6M64.3 504.4h.6M97.4 489.6h.6M92.5 486.0h.6M86.4 486.6h.6M74.9 500.9h.6M75.3 500.4h.6M74.3 499.4h.6M99.8 484.4h.6M83.9 483.8h.6M71.0 504.9h.6M56.4 507.2h.6M74.5 504.1h.6M54.7 507.7h.6M75.6 497.6h.6M60.3 513.5h.6M86.0 497.2h.6M83.3 495.4h.6M71.6 498.1h.6M63.0 507.5h.6M64.7 510.2h.6M79.4 491.2h.6M73.1 489.9h.6M62.1 501.9h.6M58.0 505.0h.6M71.0 496.3h.6M62.8 498.7h.6M54.7 513.5h.6M73.4 504.9h.6M61.1 503.6h.6M85.9 497.9h.6M88.0 493.6h.6M61.1 509.2h.6M90.2 475.7h.6M84.4 503.2h.6M63.8 506.0h.6M98.1 485.3h.6M79.1 499.2h.6M75.0 501.3h.6M75.8 501.4h.6M65.4 502.8h.6M71.3 487.6h.6M84.6 489.2h.6M65.1 496.1h.6M71.8 494.4h.6M86.4 498.7h.6M68.5 497.7h.6M73.2 497.1h.6M75.8 485.9h.6M81.1 493.2h.6M65.1 495.3h.6M88.1 494.9h.6M80.4 497.6h.6M85.1 491.9h.6M81.8 487.4h.6M78.2 481.9h.6M92.1 495.0h.6M86.4 485.5h.6M73.9 501.2h.6M67.1 504.7h.6M78.6 503.3h.6M69.0 498.4h.6" stroke="#999" stroke-width="0.6" opacity="0.4" fill="none"/>
<path d="M92.9 496.8h.6M84.3 494.9h.6M76.8 497.5h.6M87.6 494.3h.6M86.6 493.9h.6M85.9 498.4h.6M80.4 502.0h.6M87.4 494.9h.6M85.1 497.5h.6M80.9 498.0h.6M88.2 492.2h.6M98.7 497.1h.6M93.2 494.3h.6M87.3 497.9h.6M97.9 490.6h.6M100.9 490.5h.6M80.9 502.3h.6M84.4 499.5h.6M78.2 501.9h.6M85.0 500.2h.6M75.4 500.0h.6M80.5 499.9h.6M80.0 498.9h.6M87.2 495.8h.6M89.1 496.6h.6M76.4 503.3h.6M78.8 498.4h.6M100.1 490.0h.6M87.1 498.3h.6M82.7 498.3h.6M85.3 497.1h.6M79.6 502.1h.6M88.3 497.6h.6M87.5 495.3h.6M95.7 491.7h.6M94.4 492.2h.6M82.3 498.9h.6M88.9 497.0h.6M96.0 492.2h.6M72.7 500.3h.6M86.8 495.3h.6M86.8 500.1h.6M85.3 496.2h.6M88.9 498.7h.6M101.0 492.7h.6M85.3 496.6h.6M78.8 498.8h.6M95.1 494.8h.6M89.3 493.7h.6M86.7 495.5h.6M99.0 492.0h.6M86.9 496.8h.6M87.7 496.7h.6M83.9 498.7h.6M88.9 498.0h.6M92.2 496.2h.6M84.0 498.1h.6M70.5 501.6h.6M82.9 493.3h.6M97.2 494.8h.6M90.7 500.4h.6M76.2 501.4h.6M88.3 495.3h.6M99.7 494.1h.6M90.6 493.4h.6M89.6 495.9h.6M90.5 492.3h.6M81.0 501.7h.6M88.2 496.2h.6M85.4 491.6h.6M97.3 489.4h.6M79.0 501.2h.6M98.8 494.7h.6M83.3 496.5h.6M92.6 495.1h.6M75.4 504.4h.6M73.6 503.1h.6M90.7 496.9h.6M89.1 497.8h.6M89.3 494.0h.6M84.2 501.0h.6M74.1 503.6h.6M82.0 495.1h.6M81.7 500.0h.6M67.7 506.6h.6M96.7 492.0h.6M85.1 497.7h.6M93.6 491.9h.6M84.4 498.6h.6M76.8 501.7h.6M87.9 498.2h.6M79.3 499.8h.6M90.7 495.5h.6M80.6 501.9h.6M87.1 497.1h.6M88.7 497.6h.6M87.9 495.0h.6M94.0 493.9h.6M88.7 496.6h.6M79.1 500.2h.6M89.0 492.9h.6M85.6 497.3h.6M92.8 493.9h.6M88.9 497.5h.6M78.2 498.8h.6M86.2 498.7h.6M98.0 492.7h.6M86.7 496.0h.6M89.9 499.3h.6M86.6 495.9h.6M99.7 491.5h.6M86.0 495.5h.6M95.7 492.9h.6M72.6 498.1h.6M89.9 494.6h.6M91.9 496.0h.6M100.3 494.6h.6M79.6 499.2h.6M82.7 500.5h.6M77.5 502.1h.6M75.9 503.6h.6M95.2 490.0h.6M87.5 495.4h.6M76.2 503.2h.6M82.8 500.8h.6M92.7 498.5h.6M85.1 499.4h.6M89.0 495.2h.6M95.8 493.4h.6M84.7 498.2h.6M78.9 502.5h.6M99.3 488.7h.6M88.5 495.5h.6M83.2 500.2h.6M100.9 491.9h.6M87.0 500.6h.6M84.8 496.3h.6M84.2 500.0h.6M88.5 496.6h.6M83.6 499.0h.6M88.9 499.9h.6M86.9 494.7h.6M100.6 492.0h.6M88.1 497.5h.6M86.6 492.4h.6M88.6 499.0h.6M94.2 492.3h.6M85.8 498.4h.6M89.3 494.7h.6M84.7 496.7h.6M87.1 494.8h.6M84.1 495.6h.6M96.8 494.3h.6M86.5 496.6h.6M93.9 494.5h.6M82.4 492.9h.6M74.6 503.3h.6M86.0 495.7h.6M75.0 503.2h.6M79.3 500.3h.6M86.8 495.8h.6M79.5 500.6h.6M77.1 499.5h.6M87.7 499.0h.6M84.7 498.1h.6M90.5 490.2h.6M80.6 498.7h.6M83.0 500.2h.6M84.4 499.2h.6M94.5 493.2h.6M91.6 498.1h.6M94.9 493.8h.6M74.8 500.4h.6M87.4 497.4h.6M89.1 496.0h.6M80.7 500.7h.6M94.9 493.6h.6M88.9 497.9h.6M85.4 498.4h.6M94.7 492.3h.6M86.8 495.3h.6M78.4 496.3h.6M92.1 500.2h.6M86.6 500.4h.6M95.4 492.6h.6M94.4 493.0h.6M73.1 504.4h.6M85.9 496.9h.6M94.2 496.2h.6M86.9 497.6h.6M90.0 493.9h.6M93.4 493.1h.6M91.9 497.0h.6M94.0 489.9h.6M82.6 498.1h.6M82.2 498.6h.6M87.5 496.9h.6M88.0 494.9h.6M86.3 496.8h.6M91.9 492.3h.6M85.8 495.2h.6M76.0 502.9h.6M87.0 497.7h.6M101.5 494.2h.6M87.8 497.4h.6M84.3 497.6h.6M77.1 502.5h.6M89.6 498.1h.6M101.0 489.4h.6M89.2 495.6h.6M97.2 492.3h.6M91.0 495.5h.6M78.2 501.0h.6M75.5 499.5h.6M98.0 494.6h.6M81.7 503.9h.6M79.2 497.7h.6M100.3 495.1h.6M87.2 498.2h.6M77.3 502.6h.6M85.1 499.9h.6M83.2 497.4h.6M94.1 495.5h.6M84.3 494.8h.6M91.6 498.1h.6M93.0 491.6h.6M89.1 496.6h.6M99.5 491.5h.6M87.4 500.2h.6M78.3 498.9h.6M81.9 501.4h.6M83.1 499.9h.6M83.6 501.4h.6M91.5 493.7h.6M93.3 495.1h.6M87.6 494.7h.6M85.6 497.8h.6M87.0 494.4h.6M94.9 490.3h.6M93.5 490.3h.6M78.8 502.8h.6M77.3 500.9h.6M91.2 498.2h.6M93.1 497.0h.6M94.4 490.5h.6M92.2 493.0h.6M84.4 502.0h.6M81.7 500.3h.6M78.8 499.5h.6M88.9 493.3h.6M93.3 496.7h.6M100.9 493.7h.6M91.8 496.8h.6M81.9 497.9h.6M97.6 490.3h.6M84.8 499.8h.6M86.4 494.6h.6M83.1 497.0h.6M78.6 499.1h.6M93.2 493.2h.6M89.1 494.6h.6M87.2 498.4h.6M90.8 494.9h.6M86.9 499.3h.6M84.2 494.9h.6M93.8 495.6h.6M86.8 495.8h.6M98.9 494.9h.6M91.0 495.3h.6M94.7 497.6h.6M84.1 499.9h.6M72.5 501.6h.6M92.8 494.9h.6M79.9 501.5h.6M93.9 495.8h.6M85.4 497.2h.6M86.9 497.6h.6M88.9 496.0h.6M94.4 496.4h.6M90.2 498.4h.6M77.6 506.2h.6M81.4 498.3h.6M92.4 497.0h.6M88.5 492.9h.6M84.7 495.4h.6M94.6 493.0h.6M69.8 502.3h.6M89.3 493.6h.6M90.3 492.0h.6M86.7 499.1h.6M87.6 494.6h.6M83.3 500.6h.6M93.4 495.1h.6M93.5 494.1h.6M88.2 496.2h.6M85.7 499.9h.6M82.8 503.4h.6M93.9 493.7h.6M100.1 495.3h.6M89.6 493.3h.6M89.0 496.2h.6M82.7 495.6h.6M81.6 499.5h.6M87.6 498.7h.6M79.6 501.3h.6M82.6 499.7h.6M90.8 498.5h.6M92.2 494.3h.6M88.4 493.3h.6M88.9 497.3h.6M89.8 494.7h.6M90.6 496.1h.6M90.2 493.7h.6M94.0 494.1h.6M79.5 499.6h.6M97.8 495.9h.6M85.5 495.9h.6M86.1 498.8h.6M98.2 492.8h.6M87.4 499.9h.6M90.9 493.7h.6M87.1 498.9h.6M85.8 497.5h.6M83.5 499.5h.6M99.7 494.4h.6M84.3 495.6h.6M99.3 493.5h.6M77.9 503.6h.6M84.2 496.7h.6M87.1 494.0h.6M81.0 502.4h.6M86.4 498.2h.6M98.1 493.2h.6M87.8 497.8h.6M100.6 492.5h.6M86.8 501.2h.6M97.9 490.0h.6M92.6 499.7h.6M76.7 498.1h.6M93.1 493.4h.6M77.9 503.8h.6M87.5 497.7h.6M97.4 493.3h.6M83.4 503.2h.6M95.5 493.6h.6M84.6 495.0h.6M92.4 492.0h.6M100.1 487.5h.6M93.8 491.9h.6M81.2 500.8h.6M89.6 497.5h.6M80.0 499.5h.6M85.8 498.0h.6M94.5 493.6h.6M81.3 499.5h.6M75.4 500.3h.6M96.9 491.8h.6M94.3 493.2h.6M81.5 499.5h.6M91.7 494.8h.6M91.2 498.8h.6M88.5 497.1h.6M83.0 500.3h.6M83.0 499.0h.6M85.0 499.2h.6M92.8 496.9h.6M89.2 497.4h.6M101.3 489.2h.6M82.0 500.7h.6M89.3 496.2h.6M70.0 503.3h.6M95.6 494.6h.6M88.2 496.1h.6M82.8 497.8h.6M87.0 492.9h.6M96.7 490.5h.6M97.8 494.2h.6M81.9 498.3h.6M91.4 497.5h.6M81.7 500.1h.6M93.0 494.0h.6M90.2 494.6h.6M84.3 495.8h.6M81.9 500.5h.6M91.9 496.1h.6M84.1 498.8h.6M93.5 491.6h.6M79.3 497.6h.6M88.7 496.5h.6M68.2 504.9h.6M85.4 499.5h.6M78.3 497.1h.6M80.7 500.5h.6M85.1 498.9h.6M100.5 488.9h.6M84.4 498.4h.6M93.1 492.7h.6M87.1 494.6h.6M99.3 493.6h.6M91.9 496.7h.6M93.2 494.4h.6M85.8 496.6h.6M90.2 496.1h.6M97.0 493.1h.6M91.1 498.8h.6M83.4 496.1h.6M84.7 501.3h.6M85.9 496.0h.6M88.2 495.8h.6M79.1 496.0h.6M80.4 496.9h.6M83.2 496.6h.6M94.0 495.4h.6M84.2 501.7h.6M100.9 487.4h.6M81.6 503.1h.6M89.1 495.8h.6M84.7 497.5h.6M95.4 494.6h.6M86.3 495.9h.6M85.1 499.9h.6M84.2 497.7h.6M88.7 496.5h.6M80.4 505.3h.6M94.0 497.4h.6M78.0 497.1h.6M88.6 495.5h.6M82.5 502.3h.6M78.0 497.2h.6M78.4 502.7h.6M81.6 498.1h.6M86.3 497.1h.6M101.3 489.4h.6M80.8 496.9h.6M86.5 494.8h.6M89.6 499.0h.6M88.9 494.9h.6M86.3 498.8h.6M72.7 500.9h.6M80.2 497.7h.6M84.1 498.7h.6M88.1 502.5h.6M96.4 491.4h.6M85.4 496.1h.6M89.7 495.9h.6M93.0 494.6h.6M97.5 492.3h.6M88.9 497.1h.6M89.2 496.0h.6M92.9 496.0h.6M91.4 496.4h.6M85.0 496.9h.6M97.4 495.5h.6M87.0 499.9h.6M86.6 500.3h.6M93.9 494.2h.6M91.6 493.7h.6M84.3 496.9h.6M94.6 495.2h.6M86.1 497.4h.6M80.2 499.3h.6M81.1 502.1h.6M93.3 492.9h.6M84.9 501.2h.6M87.6 494.1h.6M82.4 497.5h.6M85.5 494.7h.6M91.5 493.7h.6M75.9 499.4h.6M86.4 493.4h.6M79.6 503.2h.6M81.9 497.5h.6M89.9 496.6h.6M89.5 497.8h.6M83.9 500.8h.6M97.0 492.2h.6M87.4 496.5h.6M84.1 495.6h.6M88.5 494.3h.6M81.8 497.0h.6M88.8 493.9h.6M93.4 490.4h.6M79.2 499.6h.6M84.7 495.3h.6" stroke="#888" stroke-width="0.6" opacity="0.45" fill="none"/>
<path d="M55.3 511.6h.6M72.3 500.3h.6M100.5 486.3h.6M73.8 489.7h.6M68.5 507.2h.6M47.6 517.6h.6M71.6 500.2h.6M77.9 501.6h.6M86.6 481.6h.6M85.6 490.0h.6M74.3 503.0h.6M77.8 505.8h.6M68.0 508.8h.6M64.6 490.2h.6M62.1 517.7h.6M75.0 506.1h.6M75.2 496.6h.6M62.5 508.7h.6M71.5 485.2h.6M63.4 517.3h.6M99.1 498.4h.6M65.8 509.4h.6M80.0 497.4h.6M71.1 504.8h.6M41.7 496.2h.6M75.4 512.9h.6M57.0 504.7h.6M73.6 491.7h.6M76.8 494.8h.6M64.5 497.0h.6M80.4 502.4h.6M90.9 487.1h.6M59.8 509.0h.6M81.7 486.8h.6M88.5 511.0h.6M83.3 483.8h.6M65.1 494.0h.6M71.1 497.5h.6M76.6 491.1h.6M80.7 505.1h.6M90.5 496.6h.6M50.0 510.9h.6M98.8 481.4h.6M65.5 498.3h.6M82.7 493.4h.6M72.4 511.1h.6M67.0 512.3h.6M84.0 498.9h.6M89.1 492.9h.6M82.9 510.3h.6M77.0 504.1h.6M71.0 497.1h.6M79.8 488.8h.6M91.8 500.2h.6M86.1 493.5h.6M58.1 506.3h.6M88.1 495.4h.6M76.4 491.3h.6M58.0 509.2h.6M78.7 498.0h.6M83.3 490.3h.6M60.9 511.7h.6M67.9 487.1h.6M93.4 495.1h.6M91.4 490.8h.6M77.3 490.2h.6M62.7 518.8h.6M57.6 493.2h.6M63.4 504.9h.6M65.9 496.5h.6M81.9 496.1h.6M91.8 487.3h.6M97.4 489.8h.6M74.1 498.0h.6M82.9 495.1h.6M54.3 511.4h.6M63.3 507.3h.6M57.5 511.7h.6M98.5 481.5h.6M98.0 485.7h.6M63.4 507.8h.6M95.5 478.4h.6M73.6 514.3h.6M73.4 503.1h.6M48.9 518.1h.6M50.3 511.1h.6M82.4 483.6h.6M73.8 517.6h.6M90.4 496.0h.6M87.8 496.6h.6M88.8 482.4h.6M91.4 490.0h.6M67.0 504.0h.6M47.5 517.5h.6M67.1 517.9h.6M73.2 514.8h.6M95.5 507.5h.6M79.9 499.4h.6M52.1 507.0h.6M68.3 495.9h.6M70.7 497.1h.6M72.5 507.3h.6M76.6 501.4h.6M82.9 505.2h.6M63.9 501.9h.6M64.1 501.7h.6M75.2 498.6h.6M71.4 484.9h.6M56.4 505.2h.6M82.0 495.5h.6M90.1 496.7h.6M68.0 494.1h.6M61.6 508.6h.6M51.0 517.9h.6M94.4 493.8h.6M99.6 494.3h.6M79.5 511.9h.6M71.7 512.3h.6M42.1 517.8h.6M60.4 510.1h.6M65.1 505.6h.6M84.9 491.6h.6M82.1 500.4h.6M62.2 490.3h.6M43.0 507.4h.6M86.6 509.9h.6M73.6 495.2h.6M88.4 496.9h.6M63.8 511.0h.6M70.8 496.7h.6M77.8 505.6h.6M85.6 501.3h.6M65.0 502.0h.6M93.0 499.5h.6M100.5 493.5h.6M66.3 501.2h.6M100.4 486.2h.6M97.4 489.0h.6M54.4 509.3h.6M86.8 505.7h.6M79.1 508.4h.6M91.0 488.4h.6M82.4 500.8h.6M58.1 518.1h.6M75.5 492.0h.6M62.9 503.0h.6M63.9 506.8h.6M85.7 491.2h.6M72.1 512.0h.6M77.9 502.2h.6M54.3 517.1h.6M70.0 507.8h.6M75.2 510.5h.6M77.3 508.5h.6M71.3 502.0h.6M70.3 516.2h.6M85.9 506.7h.6M90.2 495.5h.6M60.7 513.7h.6M81.7 496.3h.6M49.1 514.8h.6M101.4 492.4h.6M77.1 504.5h.6M61.1 506.7h.6M70.8 496.4h.6M80.2 505.6h.6M73.3 506.1h.6M80.4 502.9h.6M74.7 503.9h.6M71.4 520.6h.6M80.2 487.4h.6M79.0 499.1h.6M70.7 511.1h.6M78.0 498.2h.6M62.0 493.9h.6M79.2 511.3h.6M77.7 495.8h.6M63.6 498.9h.6M74.0 496.0h.6M73.5 499.8h.6M89.3 493.5h.6M70.2 509.9h.6M96.6 513.1h.6M64.0 511.2h.6M63.8 519.4h.6M97.2 503.3h.6M91.2 506.1h.6M61.3 512.7h.6M83.6 509.9h.6M85.2 508.1h.6M53.6 497.8h.6" stroke="#aaa" stroke-width="0.6" opacity="0.35" fill="none"/>
<g filter="url(#b2)">
<polygon points="55,508 70,497 85,488 92,486.5 92.5,491 80,498.5 70,504 60,509.5" fill="#9a9a9a" opacity="0.65"/>
<polygon points="47,511.4 60,500.8 70,492.9 79.4,485.5 88.8,482.3 89.6,485.6 80,491.5 70,498.3 60,505.3 48,514" fill="#626068" opacity="0.9"/>
<polygon points="76,502 86,498 99,491 99.5,494 88,500 77,504" fill="#b5b5b5" opacity="0.8"/>
<polygon points="47,511.6 53,506.8 61,500.4 62.6,503.2 54,509.6 48.2,514" fill="#7d6590" opacity="0.8"/>
</g>
<polygon points="39.7,517.3 52.5,518.2 55.2,513.2 101,476.2 100.3,471.5 79.4,485 43.1,514.6" fill="none" stroke="#333" stroke-width="0.5"/>
<rect x="38.00" y="456.00" width="63.80" height="65.00" fill="none" stroke="#3a3a3a" stroke-width="0.7"/>
<line x1="38.00" y1="456.00" x2="38.00" y2="521.40" stroke="#231f20" stroke-width="0.9"/>
<line x1="37.60" y1="521.00" x2="101.80" y2="521.00" stroke="#231f20" stroke-width="0.9"/>
<line x1="37.10" y1="521.00" x2="38.00" y2="521.00" stroke="#231f20" stroke-width="0.4"/>
<line x1="38.00" y1="521.00" x2="38.00" y2="521.90" stroke="#231f20" stroke-width="0.4"/>
<line x1="37.10" y1="518.50" x2="38.00" y2="518.50" stroke="#231f20" stroke-width="0.4"/>
<line x1="40.45" y1="521.00" x2="40.45" y2="521.90" stroke="#231f20" stroke-width="0.4"/>
<line x1="37.10" y1="516.00" x2="38.00" y2="516.00" stroke="#231f20" stroke-width="0.4"/>
<line x1="42.91" y1="521.00" x2="42.91" y2="521.90" stroke="#231f20" stroke-width="0.4"/>
<line x1="37.10" y1="513.50" x2="38.00" y2="513.50" stroke="#231f20" stroke-width="0.4"/>
<line x1="45.36" y1="521.00" x2="45.36" y2="521.90" stroke="#231f20" stroke-width="0.4"/>
<line x1="37.10" y1="511.00" x2="38.00" y2="511.00" stroke="#231f20" stroke-width="0.4"/>
<line x1="47.82" y1="521.00" x2="47.82" y2="521.90" stroke="#231f20" stroke-width="0.4"/>
<line x1="37.10" y1="508.50" x2="38.00" y2="508.50" stroke="#231f20" stroke-width="0.4"/>
<line x1="50.27" y1="521.00" x2="50.27" y2="521.90" stroke="#231f20" stroke-width="0.4"/>
<line x1="37.10" y1="506.00" x2="38.00" y2="506.00" stroke="#231f20" stroke-width="0.4"/>
<line x1="52.72" y1="521.00" x2="52.72" y2="521.90" stroke="#231f20" stroke-width="0.4"/>
<line x1="37.10" y1="503.50" x2="38.00" y2="503.50" stroke="#231f20" stroke-width="0.4"/>
<line x1="55.18" y1="521.00" x2="55.18" y2="521.90" stroke="#231f20" stroke-width="0.4"/>
<line x1="37.10" y1="501.00" x2="38.00" y2="501.00" stroke="#231f20" stroke-width="0.4"/>
<line x1="57.63" y1="521.00" x2="57.63" y2="521.90" stroke="#231f20" stroke-width="0.4"/>
<line x1="37.10" y1="498.50" x2="38.00" y2="498.50" stroke="#231f20" stroke-width="0.4"/>
<line x1="60.08" y1="521.00" x2="60.08" y2="521.90" stroke="#231f20" stroke-width="0.4"/>
<line x1="37.10" y1="496.00" x2="38.00" y2="496.00" stroke="#231f20" stroke-width="0.4"/>
<line x1="62.54" y1="521.00" x2="62.54" y2="521.90" stroke="#231f20" stroke-width="0.4"/>
<line x1="37.10" y1="493.50" x2="38.00" y2="493.50" stroke="#231f20" stroke-width="0.4"/>
<line x1="64.99" y1="521.00" x2="64.99" y2="521.90" stroke="#231f20" stroke-width="0.4"/>
<line x1="37.10" y1="491.00" x2="38.00" y2="491.00" stroke="#231f20" stroke-width="0.4"/>
<line x1="67.45" y1="521.00" x2="67.45" y2="521.90" stroke="#231f20" stroke-width="0.4"/>
<line x1="37.10" y1="488.50" x2="38.00" y2="488.50" stroke="#231f20" stroke-width="0.4"/>
<line x1="69.90" y1="521.00" x2="69.90" y2="521.90" stroke="#231f20" stroke-width="0.4"/>
<line x1="37.10" y1="486.00" x2="38.00" y2="486.00" stroke="#231f20" stroke-width="0.4"/>
<line x1="72.35" y1="521.00" x2="72.35" y2="521.90" stroke="#231f20" stroke-width="0.4"/>
<line x1="37.10" y1="483.50" x2="38.00" y2="483.50" stroke="#231f20" stroke-width="0.4"/>
<line x1="74.81" y1="521.00" x2="74.81" y2="521.90" stroke="#231f20" stroke-width="0.4"/>
<line x1="37.10" y1="481.00" x2="38.00" y2="481.00" stroke="#231f20" stroke-width="0.4"/>
<line x1="77.26" y1="521.00" x2="77.26" y2="521.90" stroke="#231f20" stroke-width="0.4"/>
<line x1="37.10" y1="478.50" x2="38.00" y2="478.50" stroke="#231f20" stroke-width="0.4"/>
<line x1="79.72" y1="521.00" x2="79.72" y2="521.90" stroke="#231f20" stroke-width="0.4"/>
<line x1="37.10" y1="476.00" x2="38.00" y2="476.00" stroke="#231f20" stroke-width="0.4"/>
<line x1="82.17" y1="521.00" x2="82.17" y2="521.90" stroke="#231f20" stroke-width="0.4"/>
<line x1="37.10" y1="473.50" x2="38.00" y2="473.50" stroke="#231f20" stroke-width="0.4"/>
<line x1="84.62" y1="521.00" x2="84.62" y2="521.90" stroke="#231f20" stroke-width="0.4"/>
<line x1="37.10" y1="471.00" x2="38.00" y2="471.00" stroke="#231f20" stroke-width="0.4"/>
<line x1="87.08" y1="521.00" x2="87.08" y2="521.90" stroke="#231f20" stroke-width="0.4"/>
<line x1="37.10" y1="468.50" x2="38.00" y2="468.50" stroke="#231f20" stroke-width="0.4"/>
<line x1="89.53" y1="521.00" x2="89.53" y2="521.90" stroke="#231f20" stroke-width="0.4"/>
<line x1="37.10" y1="466.00" x2="38.00" y2="466.00" stroke="#231f20" stroke-width="0.4"/>
<line x1="91.98" y1="521.00" x2="91.98" y2="521.90" stroke="#231f20" stroke-width="0.4"/>
<line x1="37.10" y1="463.50" x2="38.00" y2="463.50" stroke="#231f20" stroke-width="0.4"/>
<line x1="94.44" y1="521.00" x2="94.44" y2="521.90" stroke="#231f20" stroke-width="0.4"/>
<line x1="37.10" y1="461.00" x2="38.00" y2="461.00" stroke="#231f20" stroke-width="0.4"/>
<line x1="96.89" y1="521.00" x2="96.89" y2="521.90" stroke="#231f20" stroke-width="0.4"/>
<line x1="37.10" y1="458.50" x2="38.00" y2="458.50" stroke="#231f20" stroke-width="0.4"/>
<line x1="99.35" y1="521.00" x2="99.35" y2="521.90" stroke="#231f20" stroke-width="0.4"/>
<line x1="37.10" y1="456.00" x2="38.00" y2="456.00" stroke="#231f20" stroke-width="0.4"/>
<line x1="101.80" y1="521.00" x2="101.80" y2="521.90" stroke="#231f20" stroke-width="0.4"/>
<line x1="36.20" y1="521.00" x2="38.00" y2="521.00" stroke="#231f20" stroke-width="0.6"/>
<line x1="38.00" y1="521.00" x2="38.00" y2="522.80" stroke="#231f20" stroke-width="0.6"/>
<text transform="translate(34.80,522.90)" font-size="5.3" text-anchor="end" fill="#231f20">0</text>
<text transform="translate(38.00,528.40)" font-size="5.3" text-anchor="middle" fill="#231f20">0</text>
<line x1="36.20" y1="508.10" x2="38.00" y2="508.10" stroke="#231f20" stroke-width="0.6"/>
<line x1="50.76" y1="521.00" x2="50.76" y2="522.80" stroke="#231f20" stroke-width="0.6"/>
<text transform="translate(34.80,510.00)" font-size="5.3" text-anchor="end" fill="#231f20">200</text>
<text transform="translate(50.76,528.40)" font-size="5.3" text-anchor="middle" fill="#231f20">200</text>
<line x1="36.20" y1="495.20" x2="38.00" y2="495.20" stroke="#231f20" stroke-width="0.6"/>
<line x1="63.52" y1="521.00" x2="63.52" y2="522.80" stroke="#231f20" stroke-width="0.6"/>
<text transform="translate(34.80,497.10)" font-size="5.3" text-anchor="end" fill="#231f20">400</text>
<text transform="translate(63.52,528.40)" font-size="5.3" text-anchor="middle" fill="#231f20">400</text>
<line x1="36.20" y1="482.30" x2="38.00" y2="482.30" stroke="#231f20" stroke-width="0.6"/>
<line x1="76.28" y1="521.00" x2="76.28" y2="522.80" stroke="#231f20" stroke-width="0.6"/>
<text transform="translate(34.80,484.20)" font-size="5.3" text-anchor="end" fill="#231f20">600</text>
<text transform="translate(76.28,528.40)" font-size="5.3" text-anchor="middle" fill="#231f20">600</text>
<line x1="36.20" y1="469.40" x2="38.00" y2="469.40" stroke="#231f20" stroke-width="0.6"/>
<line x1="89.04" y1="521.00" x2="89.04" y2="522.80" stroke="#231f20" stroke-width="0.6"/>
<text transform="translate(34.80,471.30)" font-size="5.3" text-anchor="end" fill="#231f20">800</text>
<text transform="translate(89.04,528.40)" font-size="5.3" text-anchor="middle" fill="#231f20">800</text>
<line x1="36.20" y1="456.50" x2="38.00" y2="456.50" stroke="#231f20" stroke-width="0.6"/>
<line x1="101.80" y1="521.00" x2="101.80" y2="522.80" stroke="#231f20" stroke-width="0.6"/>
<text transform="translate(34.80,458.40)" font-size="5.3" text-anchor="end" fill="#231f20">1000</text>
<text transform="translate(101.80,528.40)" font-size="5.3" text-anchor="middle" fill="#231f20">1000</text>
<text transform="translate(70.70,451.20)" font-size="5.3" text-anchor="middle" fill="#333" textLength="65" lengthAdjust="spacingAndGlyphs">[Ungated] FS INT/FS PEAK</text>
<text transform="translate(92.30,465.00)" font-size="4.7" text-anchor="middle" fill="#333">Singlets</text>
<text transform="translate(17.80,488.00) rotate(-90) scale(0.64,1)" font-size="8.6" text-anchor="middle" fill="#231f20">FS PEAK</text>
<text transform="translate(70.70,541.20) scale(0.64,1)" font-size="8.6" text-anchor="middle" fill="#231f20">FS INT</text>
<rect x="48.20" y="546.30" width="3.90" height="3.90" fill="#c4007a"/>
<text transform="translate(56.30,550.30) scale(1.02,1)" font-size="6.5" text-anchor="start" fill="#2a2a2a" font-style="italic">Eµ-TCL1<tspan font-size="4.3" dy="-2.9">tg/wt</tspan><tspan dy="2.9">; Cd19Cre</tspan><tspan font-size="4.3" dy="-2.9">+/wt</tspan><tspan dy="2.9">; Bax</tspan><tspan font-size="4.3" dy="-2.9">fl/fl</tspan></text>
<path d="M189.2 500.3h.6M183.9 513.4h.6M188.6 508.1h.6M176.1 504.7h.6M190.2 503.5h.6M166.0 518.0h.6M177.0 492.4h.6M152.9 514.3h.6M184.2 497.4h.6M155.8 521.0h.6M165.3 515.5h.6M176.7 506.7h.6M180.6 501.5h.6M168.2 502.5h.6M167.6 502.3h.6M178.7 509.6h.6M167.3 507.2h.6M174.9 506.0h.6M152.2 511.1h.6M170.2 505.3h.6M186.1 508.3h.6M168.8 510.8h.6M184.4 509.5h.6M180.2 505.5h.6M178.3 503.7h.6M172.9 506.5h.6M173.6 509.2h.6M167.7 501.7h.6M170.0 497.4h.6M170.2 505.8h.6M169.7 509.4h.6M172.7 501.9h.6M153.0 518.7h.6M185.1 502.2h.6M174.5 503.4h.6M150.8 520.9h.6M193.0 498.1h.6M166.3 510.6h.6M176.2 503.6h.6M163.0 507.9h.6M175.6 501.6h.6M161.4 520.8h.6M159.1 491.0h.6M176.6 508.4h.6M164.6 504.4h.6M179.0 500.8h.6M183.3 505.5h.6M176.1 517.6h.6M174.9 495.2h.6M183.5 508.5h.6M186.3 518.6h.6M182.9 510.9h.6M169.3 505.0h.6M167.2 508.4h.6M180.1 506.4h.6M182.3 507.0h.6M157.9 500.8h.6M173.7 514.4h.6M167.1 504.9h.6M170.5 514.2h.6M174.9 501.7h.6M171.4 504.7h.6M170.8 513.3h.6M174.0 510.8h.6M160.3 519.7h.6M149.9 500.4h.6M170.4 513.5h.6M175.1 514.0h.6M187.3 509.7h.6M169.8 509.7h.6M161.6 512.0h.6M176.6 511.1h.6M148.3 497.9h.6M165.0 507.9h.6M180.8 505.5h.6M174.9 513.4h.6M165.0 512.4h.6M187.8 514.0h.6M185.7 499.3h.6M182.1 500.4h.6M169.1 502.4h.6M158.6 503.1h.6M163.6 500.6h.6M163.9 507.5h.6M174.3 494.4h.6M173.9 511.0h.6M179.4 505.2h.6M176.1 510.2h.6M177.9 510.3h.6M188.9 515.1h.6M173.6 507.8h.6M179.4 502.1h.6M170.0 503.3h.6M174.7 507.0h.6M174.4 506.1h.6M165.4 512.3h.6M164.5 506.2h.6M173.0 503.5h.6M144.1 515.1h.6M147.3 514.9h.6M192.5 503.6h.6M168.1 505.0h.6M171.4 504.5h.6M155.6 512.8h.6M174.3 508.9h.6M174.2 503.7h.6M170.3 501.7h.6M182.7 515.3h.6M167.9 513.2h.6M191.5 488.9h.6M187.8 508.6h.6M164.9 508.5h.6M166.3 513.6h.6M165.3 504.9h.6M160.4 516.7h.6M170.4 510.8h.6M152.7 516.3h.6M174.2 512.0h.6M176.3 504.3h.6M179.5 503.6h.6M179.4 514.7h.6M178.9 500.8h.6M172.5 511.1h.6M187.3 502.3h.6M169.6 503.5h.6M156.3 516.1h.6M164.1 502.3h.6M177.5 503.5h.6M185.0 501.3h.6M168.8 517.9h.6M170.7 514.6h.6M176.3 496.1h.6M155.3 508.2h.6M176.8 501.4h.6M194.9 505.5h.6M182.7 506.2h.6M183.3 508.1h.6M171.9 506.4h.6M162.2 512.1h.6M157.8 502.0h.6M169.7 507.0h.6M167.4 515.4h.6M185.8 513.0h.6M167.7 514.3h.6M177.4 513.4h.6M172.7 504.9h.6M163.8 511.3h.6M181.9 506.4h.6M161.0 505.9h.6M187.1 501.6h.6M184.7 498.6h.6M159.4 500.8h.6M180.1 496.9h.6M169.9 513.4h.6M173.1 506.5h.6M160.4 520.3h.6M171.4 515.3h.6M166.5 517.5h.6M173.0 505.7h.6M158.1 520.2h.6M173.0 514.9h.6M185.0 513.9h.6M154.5 516.5h.6M167.6 505.3h.6M173.6 505.5h.6M185.5 497.6h.6M175.2 514.9h.6M167.6 515.5h.6M181.4 502.0h.6M169.1 508.2h.6M183.2 506.0h.6M151.6 510.6h.6M149.6 510.5h.6M171.5 509.5h.6M169.0 500.1h.6M175.7 510.6h.6M152.3 518.3h.6M165.0 505.0h.6M163.0 509.1h.6M168.0 512.1h.6M170.8 507.2h.6M167.7 509.3h.6M185.1 510.9h.6M177.6 500.1h.6M186.1 500.0h.6M158.4 511.4h.6M176.4 506.4h.6M169.8 502.8h.6M179.0 504.1h.6M172.1 512.2h.6M181.9 500.7h.6M172.6 510.0h.6M170.3 508.1h.6M174.7 504.1h.6M169.2 496.7h.6M171.6 516.2h.6M165.7 504.2h.6M157.2 520.8h.6M174.3 515.1h.6M184.7 503.2h.6M181.2 503.1h.6M169.3 503.6h.6M166.5 514.6h.6M177.0 502.2h.6M184.5 505.1h.6M159.0 509.0h.6M164.3 512.1h.6M168.8 504.7h.6M172.9 511.5h.6M178.7 506.8h.6M165.6 505.0h.6M165.6 511.8h.6M174.6 516.5h.6M176.5 504.9h.6M157.8 499.0h.6M150.9 512.8h.6M182.6 513.7h.6M178.2 508.3h.6M172.8 508.0h.6M170.5 502.8h.6M164.4 518.8h.6M176.0 518.7h.6M188.0 517.2h.6M178.1 500.2h.6M187.7 496.9h.6M179.2 503.5h.6M165.9 513.2h.6M161.3 515.0h.6M176.0 502.1h.6M164.0 509.5h.6M169.3 509.8h.6M158.2 511.3h.6M153.2 508.7h.6M164.0 510.6h.6M180.7 502.5h.6M178.4 512.4h.6M168.1 504.9h.6M173.3 510.1h.6M162.4 509.8h.6M172.4 504.3h.6M167.0 507.7h.6M174.5 509.9h.6M159.6 505.0h.6M156.9 518.7h.6M174.1 495.3h.6M163.6 506.0h.6M159.0 518.9h.6M171.5 512.7h.6M194.7 498.6h.6M158.2 503.8h.6M189.1 504.7h.6M164.2 508.3h.6M172.6 517.0h.6M183.9 497.8h.6M185.2 504.9h.6M169.7 512.8h.6M185.0 505.6h.6M172.9 513.2h.6M151.2 516.4h.6M172.7 515.8h.6M159.2 504.8h.6M174.8 503.2h.6M173.9 505.4h.6M157.6 516.4h.6M178.1 502.1h.6M162.4 503.1h.6M188.6 504.4h.6M173.8 504.4h.6M169.7 515.0h.6M192.5 493.7h.6M178.0 511.3h.6M174.8 508.3h.6M182.1 518.2h.6M176.6 503.8h.6M159.9 506.6h.6M155.5 518.6h.6M179.5 507.7h.6M191.2 509.3h.6M172.9 501.1h.6M190.4 507.0h.6M171.4 495.9h.6M184.3 499.7h.6M154.7 515.6h.6M187.2 511.0h.6M170.5 514.9h.6M172.6 507.2h.6M166.1 520.2h.6M169.0 504.8h.6M163.0 511.9h.6M161.0 504.1h.6M168.1 509.5h.6M174.9 503.8h.6M156.8 505.5h.6M169.2 509.7h.6M167.5 509.0h.6M176.4 510.0h.6M180.6 511.8h.6M169.7 502.2h.6M175.4 505.9h.6M169.6 513.8h.6M157.2 511.8h.6M172.6 514.3h.6M166.8 514.0h.6M188.4 505.0h.6M182.4 504.9h.6M175.8 512.9h.6M163.3 500.8h.6M179.0 498.7h.6M172.0 508.9h.6M187.6 512.1h.6M166.5 514.4h.6M168.3 514.0h.6M176.4 511.0h.6M161.9 513.4h.6M176.8 507.2h.6M183.2 504.6h.6M156.3 504.1h.6M163.0 516.7h.6M172.1 500.4h.6M166.3 509.4h.6M162.3 502.8h.6M170.4 517.4h.6M174.2 510.0h.6M168.4 516.3h.6M167.4 512.9h.6M186.0 500.2h.6M172.1 510.3h.6M162.4 498.1h.6M165.9 501.1h.6M186.0 500.4h.6M181.6 509.1h.6M163.6 516.4h.6M182.1 511.3h.6M168.2 504.8h.6M164.2 507.1h.6M164.8 504.7h.6M182.0 502.2h.6M175.8 507.1h.6M169.5 506.4h.6M170.5 501.3h.6M168.2 514.8h.6M176.5 499.7h.6M163.7 514.9h.6M161.4 509.0h.6M167.4 503.7h.6M172.0 511.1h.6M166.5 511.4h.6M175.3 510.3h.6M164.1 510.8h.6M161.8 513.3h.6M190.0 504.4h.6M165.9 507.0h.6M176.6 505.8h.6M175.8 509.5h.6M175.9 509.2h.6M175.7 504.5h.6M166.7 510.4h.6M171.3 510.8h.6M167.9 513.4h.6M161.0 493.6h.6M178.2 512.0h.6M146.5 505.9h.6M186.3 505.9h.6M164.0 515.4h.6M164.3 501.9h.6M161.1 519.9h.6M165.1 508.6h.6M175.6 510.5h.6M175.4 495.1h.6M181.3 511.4h.6M175.5 507.6h.6M164.3 503.9h.6M163.6 514.3h.6M163.5 513.2h.6M185.0 506.3h.6M178.0 510.9h.6M177.5 506.7h.6M169.7 507.9h.6M162.0 516.4h.6M167.5 508.6h.6M165.3 513.3h.6M174.3 495.2h.6M155.7 508.6h.6M163.3 498.6h.6M182.6 512.0h.6M161.8 503.7h.6M176.5 503.4h.6M183.0 509.0h.6M182.2 520.1h.6M180.2 500.9h.6M173.9 499.1h.6M181.1 500.2h.6M187.0 520.6h.6M172.6 510.8h.6M171.5 499.3h.6M175.4 503.3h.6M186.3 496.7h.6M170.6 507.7h.6M170.8 502.5h.6M179.1 509.3h.6M179.4 503.2h.6M152.6 518.9h.6M167.7 503.9h.6M168.2 516.3h.6M156.0 512.1h.6M167.1 506.8h.6M181.5 496.2h.6M166.5 510.2h.6M154.7 518.6h.6M172.8 513.1h.6M162.9 502.1h.6M174.9 501.4h.6M169.7 504.4h.6M187.2 504.8h.6M178.1 518.3h.6M169.7 514.0h.6M172.9 506.4h.6M180.2 503.7h.6M181.0 505.8h.6M178.4 508.8h.6M159.5 513.0h.6M191.8 520.4h.6M175.6 508.9h.6M172.0 508.1h.6M175.2 504.2h.6M185.8 503.3h.6M170.3 511.4h.6M166.2 511.1h.6M183.4 506.9h.6M174.6 512.7h.6M160.4 507.6h.6M170.8 515.1h.6M174.3 519.1h.6M187.0 496.9h.6M160.7 517.9h.6M170.8 519.1h.6M177.3 504.7h.6M202.1 505.9h.6M155.0 510.1h.6M178.9 496.0h.6M178.9 508.1h.6M169.7 504.6h.6M186.1 510.9h.6M173.1 506.6h.6M170.7 511.2h.6M170.5 509.1h.6M168.4 512.0h.6M198.2 503.1h.6M189.0 512.8h.6M168.7 503.6h.6M166.7 514.3h.6M172.8 515.8h.6M182.8 509.8h.6M165.8 510.7h.6M179.2 503.7h.6M158.7 506.2h.6M168.2 501.3h.6M162.7 513.4h.6M171.0 506.2h.6M153.2 510.9h.6M162.0 514.1h.6M162.3 501.7h.6M168.6 516.9h.6M174.6 499.0h.6M166.8 517.6h.6M187.0 505.1h.6M150.4 512.1h.6M172.7 509.0h.6M169.1 515.0h.6M166.9 505.1h.6M170.3 496.6h.6M201.1 499.9h.6M179.6 506.9h.6M189.1 506.6h.6M178.9 503.8h.6M146.8 511.5h.6M171.3 503.5h.6M152.1 519.4h.6M178.0 500.4h.6M168.3 508.3h.6M160.4 519.6h.6M178.6 506.3h.6M170.1 508.3h.6M182.3 513.3h.6M178.8 512.0h.6M181.9 501.0h.6M169.9 506.7h.6M159.7 511.6h.6M161.2 513.1h.6M185.5 506.0h.6M165.9 518.4h.6M176.1 520.1h.6M155.1 517.6h.6M163.9 510.6h.6M165.4 512.7h.6M162.5 510.7h.6M182.9 502.1h.6M153.8 510.7h.6M163.5 506.6h.6M154.4 514.9h.6M182.1 506.5h.6M184.3 507.1h.6M182.7 504.8h.6M179.4 509.2h.6M178.8 504.5h.6M162.6 519.9h.6M175.4 511.0h.6M161.7 516.3h.6M175.6 511.2h.6M179.8 506.7h.6M163.8 516.7h.6M171.2 515.7h.6M172.0 503.0h.6M165.1 500.4h.6M184.6 498.2h.6M160.6 505.8h.6M177.3 511.3h.6M182.0 509.3h.6M181.7 498.9h.6M192.5 501.0h.6M178.5 506.8h.6M170.0 509.0h.6M172.7 498.5h.6M185.0 500.7h.6M166.3 512.2h.6M169.1 517.2h.6M173.9 503.7h.6M157.6 512.3h.6M177.2 515.7h.6M172.3 513.6h.6M183.7 518.0h.6M180.5 505.9h.6M161.5 507.4h.6M176.5 513.5h.6M160.4 514.1h.6M166.9 511.3h.6M167.4 504.6h.6M173.2 502.2h.6M175.7 503.0h.6M151.7 502.9h.6M170.3 519.4h.6M171.2 508.2h.6M162.9 508.4h.6M189.6 505.7h.6M159.7 499.1h.6M179.8 509.2h.6M163.1 509.0h.6M180.1 509.0h.6M162.7 514.8h.6M163.3 513.9h.6M157.2 514.0h.6M174.6 514.1h.6M178.2 496.4h.6M172.0 494.0h.6M153.8 516.3h.6M172.3 502.2h.6M170.6 501.4h.6M166.2 508.9h.6M169.3 503.5h.6M162.4 515.1h.6M167.9 492.6h.6M179.4 498.2h.6M171.5 515.8h.6M164.1 507.1h.6M178.0 502.6h.6M145.2 516.1h.6M176.6 512.5h.6M189.5 493.9h.6M159.0 516.6h.6M167.9 508.5h.6M186.8 495.5h.6M177.1 503.8h.6M153.6 512.1h.6M180.8 494.9h.6M187.0 505.0h.6M170.0 511.7h.6M168.0 509.5h.6M170.8 514.8h.6M166.2 513.6h.6M160.7 513.3h.6M177.4 509.5h.6M171.4 509.3h.6M150.5 514.7h.6M177.0 519.0h.6M166.5 515.2h.6M171.7 501.5h.6M150.2 517.0h.6M182.5 506.6h.6M170.8 515.4h.6M156.8 511.2h.6M187.0 498.7h.6M156.0 507.5h.6M185.8 505.3h.6M164.4 512.8h.6M166.2 504.8h.6M175.0 505.0h.6M173.5 514.4h.6M176.0 508.8h.6M167.1 505.6h.6M184.7 510.1h.6M178.1 498.8h.6M165.1 507.2h.6M184.4 497.1h.6M173.7 500.0h.6M175.8 513.5h.6M163.8 517.1h.6M177.3 509.1h.6M166.6 509.1h.6M180.7 511.1h.6M156.3 518.2h.6M184.0 502.3h.6M163.9 506.1h.6M163.3 507.8h.6M178.1 500.1h.6M174.7 513.4h.6M172.9 506.3h.6M188.0 501.1h.6M164.1 511.1h.6M174.0 513.0h.6M166.9 501.3h.6M162.5 511.9h.6M167.8 511.4h.6M163.7 518.1h.6M195.8 500.0h.6M182.8 504.4h.6M171.4 515.7h.6M174.0 515.7h.6M193.3 502.9h.6M187.2 495.8h.6M169.2 505.9h.6M160.9 506.7h.6M172.9 501.0h.6M172.1 502.7h.6M177.8 506.4h.6M180.6 504.3h.6M176.8 508.9h.6M187.8 498.3h.6M169.3 509.9h.6M172.1 507.5h.6M169.7 502.4h.6M171.2 509.2h.6M157.7 503.0h.6M154.5 519.0h.6M177.2 511.0h.6M167.0 511.8h.6M183.5 502.8h.6M185.9 502.4h.6M179.0 509.8h.6M173.8 502.1h.6M174.2 519.5h.6M175.7 507.0h.6M185.3 502.3h.6M154.4 511.4h.6M170.5 520.7h.6M172.6 520.0h.6M151.3 516.6h.6M188.0 498.9h.6M180.6 510.0h.6M179.7 501.3h.6M177.1 512.7h.6M175.3 508.5h.6M170.7 508.1h.6M166.0 513.5h.6M172.7 502.0h.6M160.2 516.0h.6M179.6 511.1h.6M177.4 511.8h.6M175.4 492.6h.6M187.5 498.4h.6M182.5 505.5h.6M167.3 514.4h.6M158.5 515.6h.6M185.1 503.0h.6M188.4 504.9h.6M183.9 499.4h.6M170.2 491.4h.6M178.0 502.9h.6M161.9 507.5h.6M161.6 511.4h.6M180.9 505.0h.6M192.8 501.9h.6M172.1 505.9h.6M155.8 504.6h.6M159.9 506.2h.6M162.6 512.4h.6M170.7 510.8h.6M171.1 512.4h.6M164.4 513.7h.6M175.4 512.8h.6M174.2 501.8h.6M184.8 505.3h.6M165.7 519.9h.6M169.4 513.9h.6M158.1 513.0h.6M175.0 508.4h.6M171.0 503.7h.6M186.8 497.5h.6M168.0 509.1h.6M172.3 509.1h.6M159.8 508.9h.6M168.6 503.5h.6M185.9 495.2h.6M165.3 503.9h.6M181.2 501.0h.6M192.6 500.0h.6M181.0 507.5h.6M160.5 508.0h.6M192.0 499.0h.6M163.8 506.1h.6M179.1 517.9h.6M161.4 499.1h.6M180.0 507.1h.6M186.5 498.5h.6M177.8 510.9h.6M177.5 514.5h.6M164.5 503.1h.6M169.6 510.3h.6M168.0 501.2h.6M162.5 508.6h.6M178.7 505.8h.6M171.7 509.1h.6M168.4 513.8h.6M164.7 514.4h.6M171.6 500.7h.6M180.3 499.8h.6M169.4 515.2h.6M168.6 506.1h.6M160.1 497.2h.6M166.7 500.7h.6M172.5 507.0h.6M162.3 509.7h.6M178.0 511.2h.6M187.3 504.5h.6M180.9 507.9h.6M201.9 507.1h.6M175.9 514.2h.6M180.2 505.3h.6M170.6 509.2h.6M180.2 498.6h.6M182.9 505.1h.6M180.9 509.0h.6M171.4 504.0h.6M175.3 500.4h.6M148.7 505.3h.6M182.4 512.7h.6M180.6 500.8h.6M177.8 516.4h.6M169.7 509.4h.6M175.8 504.5h.6M170.4 504.8h.6M161.4 514.4h.6M173.1 515.6h.6M180.4 504.2h.6M151.0 506.9h.6M187.7 512.0h.6M182.6 499.5h.6M179.9 506.2h.6M176.2 513.7h.6M183.3 517.4h.6M175.7 506.0h.6M174.2 501.1h.6M161.1 511.6h.6M166.7 515.9h.6M163.8 508.5h.6M175.3 512.6h.6M180.1 512.8h.6M155.8 511.3h.6M161.0 505.7h.6M175.6 513.0h.6M188.2 508.2h.6M182.9 499.0h.6M163.5 511.3h.6M154.9 512.1h.6M159.1 513.3h.6M178.7 507.4h.6M151.8 512.1h.6M172.2 515.2h.6M170.7 511.2h.6M171.4 517.4h.6M166.4 515.2h.6M158.5 512.1h.6M158.7 506.9h.6M180.8 498.7h.6M150.7 511.2h.6M161.7 514.8h.6M185.5 506.9h.6M150.2 509.5h.6M179.2 507.1h.6M169.2 498.2h.6M167.2 505.9h.6M181.7 500.4h.6M178.6 495.5h.6M163.8 504.9h.6M168.4 506.8h.6M167.0 495.6h.6M159.2 507.4h.6M168.2 500.3h.6M187.1 511.1h.6M172.3 503.4h.6M167.3 508.9h.6M174.3 513.1h.6M155.2 515.3h.6M186.0 498.6h.6M170.2 513.8h.6M183.7 507.7h.6M164.7 516.4h.6M161.0 516.9h.6M170.3 502.2h.6M157.5 514.2h.6M179.4 513.4h.6M179.6 508.3h.6M162.3 514.5h.6M173.4 518.6h.6M169.6 504.8h.6M172.3 517.6h.6M158.7 509.8h.6M174.7 504.1h.6M190.5 517.8h.6M169.9 516.9h.6M172.1 511.1h.6M175.1 497.1h.6M171.8 510.8h.6M171.2 503.3h.6M171.0 503.7h.6M177.2 505.7h.6M169.8 512.7h.6M157.2 506.3h.6M182.5 509.3h.6M180.0 502.2h.6M165.9 500.7h.6M173.1 500.9h.6M174.3 510.1h.6M177.9 499.4h.6M161.7 511.4h.6M178.2 505.7h.6M192.7 504.8h.6M180.4 502.1h.6M160.6 506.7h.6M197.7 494.8h.6M191.1 511.2h.6M163.8 507.4h.6M172.1 506.3h.6M175.4 494.8h.6M179.5 507.5h.6M194.6 497.3h.6M150.2 506.2h.6M181.8 507.2h.6M173.3 505.9h.6M170.4 511.7h.6M144.2 509.3h.6M153.9 515.8h.6M182.2 506.5h.6M195.3 495.2h.6M173.4 511.2h.6M178.7 508.6h.6M170.0 515.1h.6M171.9 500.7h.6M172.7 500.9h.6M174.3 501.9h.6M163.2 507.9h.6M167.5 511.9h.6M176.1 501.8h.6M184.0 499.8h.6M191.0 508.5h.6M177.1 499.0h.6M174.1 519.2h.6M174.1 505.4h.6M172.8 503.4h.6M156.0 520.9h.6M177.6 506.0h.6M167.5 503.8h.6M164.1 506.0h.6M157.7 513.8h.6M170.5 505.6h.6M146.0 509.8h.6M175.8 505.8h.6M165.3 510.1h.6M179.5 504.7h.6M178.9 501.6h.6M175.1 505.5h.6M158.6 512.0h.6M166.0 513.1h.6M173.1 505.1h.6M178.6 494.2h.6M175.4 498.6h.6M164.0 515.0h.6M173.9 512.1h.6M168.7 509.0h.6M186.5 502.2h.6M186.1 500.1h.6M176.7 507.6h.6M185.2 505.8h.6M169.7 502.0h.6M195.6 503.1h.6M171.8 504.3h.6M182.5 492.9h.6M170.9 516.1h.6M181.1 504.5h.6M183.8 517.3h.6M169.5 504.3h.6M170.6 505.4h.6M182.1 506.4h.6M177.7 493.0h.6M171.2 513.2h.6M163.7 513.6h.6M165.9 503.8h.6M174.1 512.2h.6M168.1 508.7h.6M176.1 509.9h.6M173.5 509.1h.6M158.0 512.2h.6M170.7 515.5h.6M161.0 505.5h.6M174.5 506.2h.6M175.6 507.7h.6M180.7 508.1h.6M155.0 511.8h.6M178.0 499.1h.6M161.1 511.0h.6M175.0 511.0h.6M169.8 511.3h.6M165.7 507.2h.6M180.1 503.5h.6M170.7 503.6h.6M175.8 513.1h.6M145.8 514.9h.6M173.5 508.7h.6M190.7 506.6h.6M195.0 504.9h.6M185.2 515.2h.6M163.6 513.0h.6M181.9 504.4h.6M151.8 520.3h.6M152.8 514.4h.6M160.0 515.6h.6M167.4 507.9h.6M157.1 508.8h.6M167.3 511.9h.6M179.1 510.7h.6M181.7 502.1h.6M175.2 513.9h.6M167.0 497.8h.6M181.5 509.1h.6M180.5 506.3h.6M166.3 511.3h.6M186.7 510.2h.6M179.2 515.4h.6M176.7 509.0h.6M181.9 514.7h.6M178.5 507.7h.6M162.4 507.5h.6M176.7 502.6h.6M187.6 504.5h.6M163.6 515.6h.6M185.1 516.3h.6M171.8 503.5h.6M169.6 511.4h.6M177.0 505.5h.6M167.3 512.3h.6M159.1 514.2h.6M174.4 515.3h.6M167.2 506.0h.6M181.2 503.5h.6M147.5 511.6h.6M171.9 508.4h.6M173.1 510.4h.6M192.6 506.8h.6M167.2 506.9h.6M166.3 514.3h.6M178.8 508.5h.6M194.7 500.5h.6M161.4 514.5h.6M175.7 499.5h.6M157.3 515.7h.6M163.1 510.6h.6M171.4 505.5h.6M166.3 508.5h.6M165.8 510.3h.6M162.8 510.8h.6M166.9 505.0h.6M184.3 508.2h.6M160.7 518.0h.6M170.6 507.7h.6M170.2 508.1h.6M181.1 499.9h.6M162.9 508.9h.6M180.5 506.2h.6M171.6 511.9h.6M179.2 504.4h.6M164.8 510.7h.6M173.7 504.9h.6M177.6 505.1h.6M173.8 514.0h.6M171.3 510.8h.6M172.1 505.9h.6M172.0 509.0h.6M181.6 506.0h.6M171.3 508.1h.6M164.2 513.1h.6M197.1 495.3h.6M157.4 508.4h.6M184.4 504.9h.6M185.1 495.2h.6M164.5 500.7h.6M183.1 500.5h.6M181.7 512.5h.6M177.6 518.8h.6M181.2 516.3h.6M161.3 504.8h.6M176.8 512.9h.6M163.5 501.6h.6M182.2 503.5h.6M161.4 506.5h.6M165.0 513.1h.6M170.3 510.8h.6M178.3 503.8h.6M175.4 501.8h.6M171.3 509.9h.6M165.4 510.8h.6M163.3 519.3h.6M174.9 506.0h.6M163.0 498.8h.6M179.5 495.7h.6M171.4 501.0h.6M178.6 506.6h.6M172.8 501.7h.6M157.7 515.3h.6M166.7 512.9h.6M157.5 516.7h.6M166.5 504.9h.6M164.0 515.4h.6M158.7 512.4h.6M176.8 512.6h.6M170.0 503.8h.6M158.3 517.9h.6M162.3 505.1h.6M185.9 507.8h.6M170.8 505.4h.6M185.1 514.7h.6M156.1 517.2h.6M192.8 504.8h.6M165.3 508.2h.6M165.3 503.6h.6M180.9 505.5h.6M179.6 494.2h.6M187.3 516.0h.6M180.6 507.9h.6M172.3 504.5h.6M168.1 514.8h.6M162.5 511.6h.6M174.2 514.0h.6M159.6 515.8h.6M174.4 508.2h.6M170.8 499.7h.6M165.4 502.0h.6M177.4 507.1h.6M181.0 500.7h.6M165.1 519.1h.6M181.9 520.2h.6M168.2 505.2h.6M169.7 501.4h.6M172.3 511.3h.6M180.4 511.1h.6M167.7 516.7h.6M179.2 496.6h.6M157.0 503.4h.6M158.0 504.1h.6M167.6 506.0h.6M157.2 507.5h.6M166.1 504.2h.6M185.2 504.0h.6M175.7 494.5h.6M161.5 507.9h.6M174.6 511.0h.6M172.4 506.5h.6M165.3 512.7h.6M187.9 505.7h.6M170.8 506.4h.6M176.2 511.2h.6M178.4 510.9h.6M175.8 489.8h.6M161.3 509.6h.6M164.0 508.3h.6M163.6 509.6h.6M161.6 512.3h.6M159.2 510.4h.6M162.8 507.7h.6M167.8 514.7h.6M168.8 509.0h.6M160.6 505.6h.6M181.3 517.4h.6M159.2 502.7h.6M174.4 514.8h.6M163.5 510.3h.6M149.2 519.4h.6M188.3 502.6h.6M181.0 510.8h.6M165.9 503.3h.6M176.9 496.2h.6M179.3 505.7h.6M167.0 500.3h.6M168.9 509.1h.6M177.3 510.8h.6M156.0 513.4h.6M175.1 515.8h.6M164.5 506.3h.6M175.0 503.2h.6M171.5 503.7h.6M170.5 501.8h.6M167.1 520.5h.6M162.6 519.5h.6M168.5 509.5h.6M171.2 512.5h.6M173.5 508.2h.6M160.8 508.8h.6M166.6 504.7h.6M191.7 502.3h.6M167.6 497.8h.6M165.9 512.5h.6M175.3 505.6h.6M167.0 509.1h.6M178.8 500.2h.6M183.5 507.0h.6M185.5 495.6h.6M179.6 506.8h.6M168.8 509.5h.6M164.9 516.5h.6M174.3 517.6h.6M178.8 503.8h.6M156.3 513.4h.6M180.3 511.2h.6M153.5 510.3h.6M152.2 509.7h.6M169.8 505.6h.6M170.1 501.5h.6M160.6 510.0h.6M162.1 508.9h.6M156.7 519.9h.6M176.7 511.8h.6M171.6 508.5h.6M182.5 507.6h.6M184.3 502.5h.6M172.7 509.5h.6M169.8 520.3h.6M168.0 507.9h.6M179.7 501.3h.6M192.8 502.5h.6M168.2 507.7h.6M164.8 514.6h.6M177.7 514.2h.6M178.2 498.2h.6M186.8 518.2h.6M167.0 507.6h.6M181.1 492.3h.6M180.0 489.1h.6M168.6 508.9h.6M182.6 498.7h.6M201.7 495.3h.6M168.8 506.7h.6M174.6 505.3h.6M164.4 514.4h.6M178.0 510.3h.6M169.8 505.4h.6M167.8 506.0h.6M189.8 512.0h.6M172.2 508.6h.6M161.6 507.1h.6M146.8 512.0h.6M171.6 515.9h.6M173.2 503.6h.6M164.5 507.5h.6M174.6 506.4h.6M180.9 514.0h.6M185.8 507.3h.6M166.8 517.6h.6M159.8 505.4h.6M176.9 504.5h.6M180.5 506.5h.6M181.6 505.9h.6M178.6 504.7h.6M170.5 509.8h.6M167.7 503.4h.6M148.7 514.9h.6M172.9 516.3h.6M177.8 520.2h.6M181.1 503.8h.6M177.0 504.4h.6M182.0 505.6h.6M170.8 512.3h.6M170.7 512.6h.6M166.5 518.4h.6M176.6 514.3h.6M176.5 500.1h.6M178.9 507.9h.6M178.9 508.8h.6M166.1 500.9h.6M169.3 509.6h.6M148.4 510.8h.6M161.2 514.9h.6M161.0 510.3h.6M175.2 505.9h.6M192.8 508.0h.6M161.2 509.9h.6M191.3 492.0h.6M177.6 509.3h.6M181.0 506.5h.6M162.8 510.2h.6M170.3 507.5h.6M182.8 505.0h.6M170.3 514.7h.6M161.7 506.0h.6M176.0 507.1h.6M188.6 502.8h.6M187.8 497.3h.6M157.3 517.3h.6M168.2 508.4h.6M188.2 506.4h.6M157.7 512.8h.6M167.3 513.2h.6M176.8 513.3h.6M160.6 514.3h.6M156.8 515.8h.6M192.2 506.6h.6M177.5 511.9h.6M172.2 508.8h.6M172.5 507.9h.6M166.8 510.1h.6M161.9 505.8h.6M176.1 503.1h.6M171.9 517.6h.6M172.7 496.3h.6M186.3 496.1h.6M183.6 503.8h.6M157.2 501.9h.6M164.5 512.1h.6M178.4 507.3h.6M181.9 508.2h.6M187.0 511.1h.6M182.5 510.6h.6M171.1 513.3h.6M177.9 511.7h.6M172.0 500.4h.6M165.3 511.1h.6M168.2 520.5h.6M186.0 506.5h.6M172.8 500.2h.6M169.7 512.8h.6M163.8 502.9h.6M178.1 510.3h.6M172.6 505.9h.6M180.4 499.1h.6M183.2 517.3h.6M167.3 517.5h.6M167.0 510.6h.6M169.9 511.8h.6M161.8 497.6h.6M178.6 506.8h.6M161.2 515.3h.6M160.8 517.0h.6M177.0 505.8h.6M180.0 510.9h.6M159.1 504.9h.6M151.8 516.2h.6M192.2 498.9h.6M154.9 509.9h.6M172.4 506.7h.6M189.5 500.8h.6M160.9 504.4h.6M165.8 516.4h.6M167.9 513.5h.6M164.7 514.2h.6M173.8 501.1h.6M185.2 510.9h.6M161.8 498.8h.6M171.6 507.8h.6M192.4 510.2h.6M164.8 505.2h.6M174.5 505.3h.6M173.7 503.4h.6M191.0 502.3h.6M172.5 507.2h.6M157.0 500.1h.6M178.9 499.5h.6M178.0 495.9h.6M150.4 514.8h.6M176.1 510.1h.6M179.8 508.1h.6M145.3 519.5h.6M144.3 517.5h.6M180.9 507.8h.6M177.0 508.9h.6M176.9 502.0h.6M162.1 514.2h.6M199.8 499.6h.6M151.7 506.6h.6M183.3 509.9h.6M171.9 498.1h.6M159.3 519.4h.6M182.5 498.5h.6M170.7 504.5h.6M158.3 508.1h.6M179.7 514.3h.6M186.4 509.4h.6M171.0 509.1h.6M168.2 519.2h.6M164.9 515.8h.6M168.8 509.9h.6M161.9 513.2h.6M169.9 504.2h.6M190.5 502.3h.6M171.2 507.1h.6M182.1 514.4h.6M170.0 513.6h.6M152.7 508.3h.6M170.4 507.3h.6M161.4 505.8h.6M161.8 503.0h.6M191.7 502.9h.6M178.5 511.8h.6M172.7 509.1h.6M180.1 510.8h.6M168.1 503.4h.6M157.4 519.6h.6M159.0 507.2h.6M164.8 508.0h.6M179.2 503.4h.6M181.9 517.2h.6M157.8 517.0h.6M165.1 510.8h.6M166.6 514.1h.6M163.8 513.9h.6M178.5 505.6h.6M165.8 503.6h.6M176.2 517.0h.6M178.8 518.3h.6M184.1 502.3h.6M156.1 520.7h.6M169.2 507.4h.6M152.7 512.3h.6M168.5 498.4h.6M173.8 520.4h.6M170.4 502.7h.6M172.7 501.5h.6M177.6 514.1h.6M174.4 497.0h.6M174.5 491.3h.6M170.6 493.5h.6M165.3 513.0h.6M169.0 514.3h.6M165.6 515.4h.6M184.2 507.1h.6M163.4 508.4h.6M172.8 496.8h.6M170.1 506.4h.6M171.0 518.0h.6M172.0 504.3h.6M156.7 508.2h.6M173.4 504.8h.6M170.9 500.3h.6M174.8 506.4h.6M163.8 496.3h.6M173.6 503.2h.6M161.3 509.3h.6M164.8 515.4h.6M181.2 507.2h.6M184.3 495.2h.6M181.1 512.9h.6M176.5 503.8h.6M168.5 516.4h.6M172.7 516.9h.6M171.3 502.3h.6M184.6 486.8h.6M179.3 514.1h.6M185.7 508.9h.6M181.5 506.0h.6M168.8 500.2h.6M168.1 511.8h.6M173.8 499.7h.6M180.5 516.5h.6M167.0 500.7h.6M159.2 517.7h.6M178.0 508.8h.6M165.0 505.0h.6M171.9 508.9h.6M180.5 514.7h.6M185.8 505.0h.6M165.7 514.5h.6M182.4 502.3h.6M173.7 500.3h.6M178.4 491.1h.6M168.8 516.7h.6M171.5 517.9h.6M176.4 518.3h.6M176.8 504.7h.6M170.0 507.2h.6M176.2 506.7h.6M153.6 516.7h.6M192.4 506.5h.6M166.5 511.8h.6M159.2 503.7h.6M162.0 513.6h.6M181.1 493.6h.6M183.2 510.0h.6M190.5 496.9h.6M193.1 511.4h.6M156.6 502.5h.6M170.9 504.0h.6M169.2 508.8h.6M166.6 502.1h.6M172.0 515.9h.6M176.8 503.4h.6M164.8 512.7h.6M173.7 503.7h.6M185.5 501.1h.6M179.6 504.8h.6M168.7 513.0h.6M171.0 505.8h.6M190.0 507.3h.6M174.8 495.0h.6M165.8 507.1h.6M175.2 518.1h.6M176.1 510.4h.6M175.0 495.4h.6M173.9 511.6h.6M178.7 504.5h.6M156.1 501.7h.6M177.7 507.5h.6M165.3 509.3h.6M183.3 503.0h.6M183.9 498.8h.6M172.7 512.3h.6M161.0 511.3h.6M178.4 503.5h.6M170.6 513.7h.6M169.2 499.5h.6M166.1 508.2h.6M161.2 506.7h.6M173.2 502.1h.6M168.8 520.3h.6M194.2 499.8h.6M170.5 497.8h.6M165.2 512.5h.6M169.8 516.8h.6M189.5 512.6h.6M177.2 501.7h.6M175.2 495.2h.6M185.8 491.7h.6M190.5 500.8h.6M180.9 492.1h.6M168.5 505.7h.6M160.9 506.5h.6M173.8 511.1h.6M174.4 498.4h.6M179.4 510.4h.6M166.3 506.2h.6M173.2 520.7h.6M159.4 509.9h.6M165.4 509.7h.6M184.1 504.3h.6M180.4 517.5h.6M163.2 512.3h.6M183.2 499.3h.6M173.9 497.2h.6M162.4 501.2h.6M166.1 516.2h.6M172.0 519.7h.6M165.0 514.2h.6M170.0 507.0h.6M192.3 501.6h.6M181.1 511.7h.6M164.7 515.1h.6M176.0 515.3h.6M179.4 506.2h.6M174.2 497.8h.6M164.4 509.3h.6M177.1 506.1h.6M194.5 493.6h.6M165.1 517.9h.6M156.9 518.8h.6M156.6 519.9h.6M189.5 503.1h.6M174.5 510.2h.6M161.5 508.0h.6M175.5 509.8h.6M160.8 519.1h.6M157.2 510.2h.6M179.7 512.8h.6M172.8 507.7h.6M176.9 506.9h.6M184.3 492.7h.6M163.4 510.1h.6M161.8 519.2h.6M162.0 507.6h.6M162.7 505.7h.6M177.3 504.5h.6M171.3 506.0h.6M185.7 496.7h.6M176.8 504.3h.6M168.1 504.4h.6M158.8 516.2h.6M181.1 507.5h.6M189.3 512.0h.6M159.0 507.8h.6M163.8 512.2h.6M182.1 504.3h.6M166.5 515.1h.6M166.9 506.1h.6M174.5 510.1h.6M172.3 489.1h.6M176.7 510.4h.6M178.0 511.3h.6M150.3 513.5h.6M176.6 510.9h.6M175.5 504.7h.6M190.5 492.8h.6M172.4 503.9h.6M154.6 512.1h.6M164.5 510.9h.6M158.3 506.0h.6M167.7 506.3h.6M180.4 506.9h.6M166.8 503.0h.6M179.6 504.5h.6M172.9 505.9h.6M173.3 509.6h.6M160.6 497.9h.6M168.5 513.5h.6M178.2 508.4h.6M170.0 511.6h.6M162.1 508.9h.6M187.3 505.9h.6M164.2 513.9h.6M176.3 502.3h.6M172.8 504.4h.6M175.9 505.5h.6M187.6 487.9h.6M167.0 516.7h.6M157.0 504.6h.6M172.3 517.4h.6M170.5 509.1h.6M158.6 501.0h.6M163.2 513.5h.6M145.2 514.1h.6M157.4 505.3h.6M171.8 506.8h.6M150.8 502.4h.6M166.5 506.9h.6M145.6 511.4h.6M166.3 513.0h.6M186.0 499.3h.6M167.6 514.8h.6M176.6 507.2h.6M177.0 496.6h.6M155.1 498.8h.6M171.2 507.2h.6M156.2 515.5h.6M163.7 510.4h.6M181.9 502.5h.6M166.8 516.4h.6M170.7 513.9h.6M170.8 507.4h.6M176.9 509.1h.6M170.1 515.2h.6M191.0 508.5h.6M176.0 507.7h.6M168.5 503.6h.6M174.7 515.1h.6M179.2 505.4h.6M146.3 519.7h.6M160.1 518.0h.6M169.0 507.5h.6M155.7 507.8h.6M181.8 500.0h.6M157.9 512.1h.6M180.6 495.5h.6M187.9 490.1h.6M153.1 504.9h.6M163.3 503.1h.6M169.2 502.0h.6M161.4 497.9h.6M180.6 512.2h.6M159.0 507.4h.6M173.1 501.9h.6M180.4 506.7h.6M185.4 498.1h.6M183.7 501.0h.6M179.6 502.3h.6M155.6 510.5h.6M169.2 511.9h.6M181.4 510.5h.6M172.0 514.1h.6M182.2 496.3h.6M184.6 506.0h.6M164.6 510.8h.6M174.6 510.3h.6M170.3 495.0h.6M156.5 519.7h.6M171.1 510.4h.6M175.6 501.4h.6M167.6 514.8h.6M177.7 505.2h.6M183.6 507.7h.6M172.0 506.9h.6M147.6 517.8h.6M166.1 510.8h.6M167.4 519.5h.6M163.7 515.6h.6M175.2 520.0h.6M155.8 511.3h.6M172.7 515.8h.6M185.0 503.5h.6M164.5 511.4h.6M181.6 512.1h.6M160.3 501.0h.6M161.1 496.7h.6M171.4 508.8h.6M163.0 510.9h.6M160.9 508.0h.6M202.1 492.3h.6M169.3 503.4h.6M170.0 512.8h.6M179.8 511.2h.6M165.4 504.3h.6M163.2 511.8h.6M170.9 509.4h.6M160.4 507.7h.6M183.8 506.4h.6M172.5 503.1h.6M167.2 517.6h.6M152.7 507.6h.6M173.0 514.2h.6M193.5 517.8h.6M162.6 519.8h.6M167.6 508.9h.6M176.9 503.4h.6M195.5 500.7h.6M172.2 509.9h.6M184.4 509.7h.6M166.7 503.3h.6M164.8 512.0h.6M174.9 505.3h.6M190.0 507.2h.6M180.5 497.2h.6M193.2 499.1h.6M170.2 511.6h.6M169.0 508.0h.6M168.6 510.0h.6M172.3 506.3h.6M175.6 493.4h.6M181.7 509.1h.6M179.3 507.2h.6M182.0 507.2h.6M180.6 510.5h.6M172.4 500.1h.6M189.3 499.8h.6M178.2 502.7h.6M165.8 498.5h.6M192.0 499.8h.6M152.7 515.0h.6M185.2 505.7h.6M160.5 498.6h.6M168.3 503.8h.6M159.5 515.1h.6M179.3 509.1h.6M179.1 505.1h.6M170.8 506.4h.6M173.3 510.1h.6M167.5 512.0h.6M195.3 499.0h.6M168.8 512.6h.6M176.4 509.0h.6M169.0 515.4h.6M185.1 507.3h.6M184.6 510.1h.6M176.8 514.4h.6M168.5 505.6h.6M179.9 498.6h.6M169.8 514.5h.6M172.0 506.2h.6M176.2 499.7h.6M173.1 504.3h.6M178.8 498.9h.6M164.6 510.8h.6M165.9 515.9h.6M162.4 514.6h.6M158.0 501.1h.6M162.1 501.4h.6M182.2 509.6h.6M169.6 511.4h.6M171.4 520.5h.6M182.5 503.7h.6M183.8 507.4h.6M179.8 510.3h.6M184.1 508.4h.6M171.8 513.2h.6M175.2 511.3h.6M168.6 497.0h.6M174.0 510.2h.6M163.6 509.3h.6M185.9 509.8h.6M163.7 507.2h.6M180.9 500.6h.6M160.9 507.5h.6M172.6 492.7h.6M180.0 511.6h.6M161.7 501.0h.6M172.6 505.9h.6M185.9 511.5h.6M159.8 512.0h.6M170.9 509.8h.6M161.4 516.4h.6M176.6 510.5h.6M159.0 510.0h.6M167.3 507.6h.6M172.4 501.3h.6M177.4 505.4h.6M190.6 504.2h.6M178.0 503.4h.6M160.9 516.2h.6M159.1 507.3h.6M200.7 495.1h.6M176.3 506.4h.6M162.9 510.6h.6M179.8 511.7h.6M193.2 498.3h.6M159.7 520.5h.6M169.6 509.1h.6M164.5 500.2h.6M180.1 513.2h.6M171.4 503.8h.6M163.4 520.6h.6M177.1 504.4h.6M163.3 511.6h.6M179.2 495.1h.6M173.1 515.1h.6M166.4 514.0h.6M172.0 505.1h.6M178.3 515.1h.6M161.2 512.1h.6M174.9 512.6h.6M151.3 515.9h.6M180.8 497.1h.6M157.2 511.5h.6M150.1 508.6h.6M172.5 496.3h.6M170.4 500.6h.6M163.3 514.3h.6M186.0 495.8h.6M187.1 514.2h.6M180.8 508.9h.6M174.2 507.5h.6M156.0 518.0h.6M174.7 510.4h.6M172.9 497.0h.6M188.0 497.7h.6M172.8 512.3h.6M169.6 518.8h.6M178.3 501.6h.6M189.3 500.5h.6M167.8 518.9h.6M161.4 504.7h.6M162.6 509.0h.6M154.1 506.1h.6M180.0 514.3h.6M165.0 503.7h.6M166.6 514.5h.6M176.5 508.8h.6M161.1 501.9h.6M180.5 506.5h.6M186.0 492.2h.6M164.6 504.7h.6M154.8 517.0h.6M183.4 502.1h.6M161.2 501.9h.6M174.7 500.8h.6M197.7 502.4h.6M160.0 516.9h.6M168.0 507.5h.6M183.5 505.1h.6M182.0 500.3h.6M174.5 502.1h.6M154.3 511.3h.6M171.3 514.3h.6M177.5 503.6h.6M179.8 510.3h.6M168.7 518.0h.6M162.2 517.1h.6M180.4 514.7h.6M177.9 503.0h.6M148.5 517.3h.6M177.2 507.1h.6M171.3 514.7h.6M170.9 508.9h.6M171.8 509.4h.6M166.9 513.7h.6M162.2 516.3h.6M188.0 502.0h.6M168.7 507.9h.6M148.5 518.7h.6M190.7 496.3h.6M182.4 514.6h.6M156.2 511.7h.6M159.9 503.7h.6M166.5 511.1h.6M172.8 505.6h.6M170.6 519.9h.6M169.6 515.3h.6M188.3 497.8h.6M158.1 506.7h.6M169.4 517.2h.6M174.4 504.1h.6M165.1 515.9h.6M184.3 516.6h.6M173.2 506.0h.6M161.9 514.4h.6M190.3 501.9h.6M167.0 512.4h.6M171.1 511.7h.6M146.0 507.6h.6M169.0 509.8h.6M179.1 496.0h.6M159.2 516.4h.6M179.9 515.8h.6M178.0 505.3h.6M166.0 513.6h.6M175.9 508.4h.6M171.4 508.9h.6M165.6 508.8h.6M149.1 515.8h.6M172.1 503.9h.6M186.0 505.8h.6M183.0 504.0h.6M184.1 508.4h.6M161.1 513.9h.6M168.3 503.8h.6M168.1 514.0h.6M177.9 508.0h.6M174.8 513.4h.6M191.8 501.8h.6M175.8 490.7h.6M172.8 506.7h.6M162.9 499.8h.6M182.9 496.9h.6M182.0 499.8h.6M168.4 514.9h.6M162.4 504.7h.6M170.2 506.5h.6M165.3 519.7h.6M164.9 505.3h.6M165.6 510.5h.6M163.2 501.3h.6M173.5 512.8h.6M159.9 518.4h.6M195.5 500.7h.6M189.2 499.8h.6M163.8 506.7h.6M172.7 506.9h.6M184.6 508.6h.6M173.6 512.0h.6M188.4 506.9h.6M177.3 499.5h.6M188.2 504.0h.6M168.8 503.5h.6M177.9 510.6h.6M172.5 511.5h.6M186.6 499.0h.6M163.4 511.8h.6M183.2 508.8h.6M165.4 519.0h.6M180.3 509.9h.6M158.5 511.9h.6M170.6 513.6h.6M173.3 498.4h.6M159.8 510.4h.6M183.2 507.1h.6M174.7 507.4h.6M171.0 500.4h.6M163.0 520.2h.6M181.2 505.2h.6M188.7 499.1h.6M155.8 514.2h.6M179.8 502.3h.6M189.6 507.2h.6M151.6 514.0h.6M166.6 506.1h.6M185.1 503.9h.6M163.9 512.9h.6M166.7 504.4h.6M172.6 505.7h.6M181.5 504.9h.6M186.3 514.0h.6M151.6 503.9h.6M171.0 520.1h.6M190.7 498.7h.6M171.3 505.0h.6M174.9 505.2h.6M169.4 512.2h.6M194.1 510.4h.6M153.8 506.4h.6M166.8 514.5h.6M179.2 490.6h.6M169.8 496.2h.6M178.6 496.7h.6M184.1 497.4h.6M178.3 505.6h.6M169.6 512.9h.6M190.1 497.8h.6M164.6 509.8h.6M174.9 508.1h.6M176.4 510.7h.6M175.7 502.3h.6M159.0 513.7h.6M186.5 500.6h.6M173.0 514.6h.6M169.9 512.7h.6M170.0 500.7h.6M166.3 517.5h.6M183.5 509.2h.6M176.3 493.2h.6M164.5 510.0h.6M164.6 491.6h.6M169.4 513.9h.6M177.7 510.7h.6M170.4 500.6h.6M175.8 510.5h.6M181.2 512.1h.6M178.2 508.5h.6M161.2 519.5h.6M178.4 501.3h.6M172.9 503.7h.6M174.4 513.1h.6M158.0 508.0h.6M169.8 504.4h.6M177.8 508.2h.6M182.1 510.6h.6M187.2 496.8h.6M170.7 500.6h.6M176.2 520.5h.6M146.4 502.3h.6M166.1 508.4h.6M183.8 514.9h.6" stroke="#707070" stroke-width="0.6" opacity="0.5" fill="none"/>
<path d="M188.1 502.8h.6M174.7 506.6h.6M196.5 490.6h.6M200.9 501.3h.6M176.4 502.8h.6M184.0 495.6h.6M175.7 505.5h.6M174.4 504.7h.6M184.7 499.1h.6M176.8 508.0h.6M182.9 494.6h.6M177.9 499.4h.6M178.1 495.8h.6M189.7 488.6h.6M175.0 509.6h.6M170.5 494.8h.6M188.7 503.1h.6M181.8 498.2h.6M191.6 495.4h.6M179.3 501.2h.6M172.9 507.8h.6M193.2 513.2h.6M172.8 503.7h.6M184.0 488.5h.6M181.2 502.7h.6M180.6 505.7h.6M189.3 499.8h.6M188.6 499.7h.6M183.7 493.9h.6M184.0 496.5h.6M177.7 500.8h.6M177.3 503.3h.6M176.0 497.9h.6M169.2 504.5h.6M177.6 503.1h.6M168.0 513.1h.6M172.5 499.7h.6M187.9 492.8h.6M184.4 508.1h.6M182.2 497.3h.6M183.0 504.4h.6M186.9 497.2h.6M180.5 499.8h.6M194.3 496.4h.6M186.5 504.6h.6M175.3 501.2h.6M177.5 501.7h.6M183.5 501.4h.6M171.7 498.6h.6M173.7 506.2h.6M187.3 497.2h.6M186.6 485.9h.6M179.1 490.6h.6M172.5 509.8h.6M184.1 498.2h.6M168.2 505.7h.6M180.6 494.5h.6M194.4 492.1h.6M198.6 491.8h.6M157.2 510.5h.6M177.3 501.8h.6M171.0 501.3h.6M183.5 509.9h.6M169.8 494.7h.6M172.2 507.7h.6M167.7 503.2h.6M179.4 500.2h.6M180.3 498.7h.6M181.0 504.1h.6M180.5 500.6h.6M186.8 496.6h.6M188.1 505.4h.6M192.2 493.1h.6M176.4 507.1h.6M176.0 500.6h.6M183.0 508.7h.6M191.7 501.0h.6M178.5 491.4h.6M173.9 510.1h.6M172.3 509.3h.6M176.2 507.8h.6M181.1 497.1h.6M189.3 495.2h.6M184.0 504.9h.6M190.1 504.9h.6M179.9 503.8h.6M171.6 512.4h.6M180.5 502.1h.6M174.5 508.8h.6M177.8 499.3h.6M183.4 506.8h.6M164.1 494.8h.6M176.7 503.7h.6M178.4 503.4h.6M168.6 507.0h.6M185.8 503.5h.6M177.6 501.9h.6M178.2 507.7h.6M180.2 493.9h.6M189.3 497.6h.6M171.8 504.0h.6M179.9 507.6h.6M189.9 495.6h.6M184.3 496.1h.6M169.8 510.6h.6M166.3 515.2h.6M173.9 513.0h.6M183.3 499.2h.6M180.1 505.7h.6M160.5 511.1h.6M172.3 501.1h.6M183.0 505.6h.6M196.9 493.5h.6M193.7 496.6h.6M190.8 500.3h.6M183.1 494.0h.6M184.5 497.9h.6M200.8 485.4h.6M187.7 497.3h.6M159.1 513.2h.6M170.9 500.1h.6M187.4 499.2h.6M184.2 503.9h.6M176.3 500.9h.6M163.4 489.2h.6M177.8 503.3h.6M168.1 494.4h.6M181.3 515.3h.6M188.1 494.7h.6M179.5 508.7h.6M175.9 501.0h.6M190.2 493.3h.6M155.4 499.6h.6M184.5 505.8h.6M173.4 511.5h.6M184.0 499.9h.6M186.6 500.9h.6M166.3 504.7h.6M190.7 494.1h.6M174.5 510.1h.6M179.8 503.0h.6M187.1 503.8h.6M169.3 501.8h.6M180.1 500.1h.6M183.0 503.6h.6M168.5 510.9h.6M175.0 498.1h.6M189.3 499.8h.6M177.4 500.5h.6M174.1 507.2h.6M181.8 506.9h.6M163.0 508.6h.6M183.5 494.5h.6M188.9 493.4h.6M173.6 498.3h.6M188.7 494.6h.6M173.6 512.1h.6M173.7 505.6h.6M184.8 492.5h.6M191.2 498.7h.6M173.1 502.9h.6M183.6 500.0h.6M168.2 511.7h.6M173.5 507.2h.6M187.4 492.4h.6M171.9 497.3h.6M188.8 505.0h.6M186.1 499.5h.6M177.0 493.1h.6M185.0 497.8h.6M177.2 503.5h.6M192.6 499.3h.6M182.8 500.7h.6M178.5 497.9h.6M174.8 506.5h.6M182.3 507.5h.6M191.7 491.3h.6M188.5 499.7h.6M177.2 510.8h.6M200.0 483.6h.6M187.0 499.6h.6M192.5 491.8h.6M183.2 496.4h.6M193.1 496.8h.6M186.7 498.7h.6M182.8 504.2h.6M179.0 510.8h.6M176.0 512.4h.6M174.9 506.9h.6M172.4 508.9h.6M185.0 497.3h.6M184.9 508.9h.6M199.8 491.2h.6M189.8 501.2h.6M188.3 499.0h.6M184.0 504.1h.6M186.7 500.6h.6M192.7 494.7h.6M177.2 499.5h.6M177.7 513.0h.6M187.7 494.8h.6M190.3 500.3h.6M171.3 498.3h.6M182.8 486.0h.6M198.0 501.2h.6M171.3 508.0h.6M169.8 504.8h.6M169.0 511.9h.6M178.7 506.0h.6M183.0 505.3h.6M174.4 518.9h.6M174.6 505.9h.6M172.7 509.2h.6M178.4 507.1h.6M172.3 498.5h.6M173.4 496.6h.6M177.5 505.9h.6M177.1 502.3h.6M171.7 495.5h.6M179.5 499.7h.6M177.1 498.5h.6M200.7 498.4h.6M178.8 503.9h.6M172.2 509.5h.6M184.0 499.2h.6M181.6 498.4h.6M184.5 501.6h.6M172.3 497.3h.6M179.9 498.3h.6M173.2 500.5h.6M176.3 508.3h.6M184.7 497.4h.6M182.5 503.7h.6M179.1 501.6h.6M168.4 506.1h.6M178.8 503.3h.6M175.1 511.2h.6M171.1 498.7h.6M169.3 517.6h.6M191.5 496.0h.6M180.5 504.2h.6M169.4 506.9h.6M190.9 506.9h.6M174.7 502.5h.6M178.0 509.9h.6M180.8 500.2h.6M183.0 506.5h.6M186.9 493.8h.6M173.5 508.8h.6M177.6 506.0h.6M183.5 503.0h.6M186.4 498.1h.6M169.7 505.1h.6M185.1 502.4h.6M190.9 499.9h.6M191.3 503.2h.6M182.3 500.3h.6M188.1 491.6h.6M189.4 503.3h.6M178.2 506.5h.6M174.7 516.5h.6M175.6 508.1h.6M195.4 502.7h.6M180.1 506.1h.6M184.5 510.7h.6M187.8 502.2h.6M174.9 501.6h.6M165.5 498.2h.6M194.4 503.7h.6M163.8 508.7h.6M183.5 502.3h.6M184.7 497.4h.6M184.0 497.5h.6M187.9 489.7h.6M192.9 506.0h.6M166.2 506.4h.6M186.0 506.2h.6M176.1 504.6h.6M175.2 520.6h.6M185.2 513.1h.6M176.0 506.7h.6M171.9 499.3h.6M176.2 506.6h.6M177.7 500.5h.6M183.9 513.0h.6M179.6 508.6h.6M186.0 497.7h.6M192.7 498.1h.6M170.1 499.2h.6M191.0 495.4h.6M172.7 497.4h.6M201.3 493.7h.6M186.0 501.9h.6M193.5 503.2h.6M189.5 494.4h.6M184.4 500.7h.6M186.1 502.1h.6M192.7 508.2h.6M176.6 503.8h.6M188.3 497.4h.6M183.5 501.0h.6M176.6 510.1h.6M179.7 495.1h.6M192.0 493.4h.6M187.0 494.8h.6M179.2 505.4h.6M179.9 499.4h.6M176.4 507.6h.6M179.0 509.5h.6M178.9 504.4h.6M179.7 504.0h.6M177.2 502.7h.6M182.9 506.7h.6M186.2 500.1h.6M176.6 506.9h.6M171.7 504.3h.6M176.6 501.1h.6M177.6 502.4h.6M184.8 498.0h.6M198.9 503.0h.6M177.9 503.3h.6M184.4 502.5h.6M174.8 503.2h.6M162.6 506.6h.6M182.6 496.5h.6M169.0 502.9h.6M189.2 491.7h.6M199.0 491.9h.6M174.4 499.9h.6M184.8 490.3h.6M174.3 511.6h.6M187.3 493.5h.6M179.3 504.6h.6M176.8 499.5h.6M182.8 503.0h.6M185.0 490.5h.6M184.5 503.9h.6M177.3 509.3h.6M185.6 500.5h.6M173.0 492.8h.6M190.6 497.8h.6M174.7 500.7h.6M181.5 499.8h.6M176.5 499.8h.6M172.3 498.9h.6M193.6 494.6h.6M180.4 504.5h.6M179.8 491.3h.6M173.2 504.6h.6M174.0 503.2h.6M189.7 491.5h.6M182.1 502.5h.6M186.9 504.7h.6M168.9 500.7h.6M172.6 501.4h.6M179.0 511.4h.6M180.6 499.7h.6M188.6 496.2h.6M182.5 504.6h.6M173.8 498.1h.6M184.6 497.8h.6M168.5 510.3h.6M180.8 509.4h.6M185.7 498.7h.6M172.9 493.4h.6M168.0 505.0h.6M184.1 510.5h.6M180.9 502.3h.6M191.2 492.3h.6M185.6 498.8h.6M161.2 509.7h.6M172.3 510.0h.6M173.6 493.0h.6M184.4 499.3h.6M182.7 508.8h.6M175.0 496.3h.6M188.5 491.6h.6M176.8 498.5h.6M176.7 510.0h.6M173.0 510.5h.6M189.1 502.3h.6M181.9 510.2h.6M180.4 500.7h.6M169.1 499.7h.6M189.8 496.8h.6M177.2 499.3h.6M185.8 502.0h.6M191.2 491.0h.6M185.3 505.7h.6M181.1 505.1h.6M171.9 501.3h.6M181.5 500.6h.6M192.1 496.3h.6M174.4 501.2h.6M176.0 492.8h.6M183.4 500.0h.6M185.4 501.1h.6M186.1 506.0h.6M199.1 490.1h.6M183.5 499.4h.6M190.9 499.8h.6M189.8 489.4h.6M187.8 491.6h.6M162.0 512.1h.6M171.0 501.4h.6M172.9 502.3h.6M202.5 498.3h.6M175.7 501.0h.6M178.4 503.1h.6M166.5 516.1h.6M188.2 502.1h.6M188.9 505.8h.6M190.8 500.1h.6M176.2 499.5h.6M174.6 493.2h.6M192.5 500.3h.6M173.8 494.9h.6M183.8 489.6h.6M188.1 507.7h.6M176.4 506.8h.6M176.4 500.3h.6M181.0 494.0h.6M181.3 500.3h.6M192.4 492.6h.6M190.0 497.9h.6M178.8 505.7h.6M199.2 504.6h.6M180.4 501.7h.6M194.2 494.8h.6M182.8 495.0h.6M179.1 498.2h.6M195.7 511.3h.6M172.4 514.7h.6M178.3 490.9h.6M172.9 506.1h.6M187.9 499.3h.6M179.6 496.5h.6M172.7 505.4h.6M178.9 516.8h.6M183.3 499.6h.6M191.6 494.7h.6M172.4 503.4h.6M175.6 507.8h.6M173.2 507.0h.6M174.4 494.8h.6M186.0 496.5h.6M192.3 501.7h.6M177.1 500.5h.6M165.0 508.0h.6M181.6 502.1h.6M177.2 496.4h.6M190.5 494.9h.6M191.8 509.0h.6M202.3 487.6h.6M166.1 504.3h.6M185.4 502.5h.6M175.7 503.8h.6M181.3 495.3h.6M164.2 512.9h.6M174.5 507.2h.6M174.4 500.5h.6M181.2 498.8h.6M176.2 502.8h.6M180.4 501.0h.6M176.8 509.9h.6M175.8 503.8h.6M193.6 485.6h.6M191.5 497.3h.6M174.2 515.5h.6M173.0 516.0h.6M178.3 499.8h.6M185.2 498.4h.6M166.5 500.3h.6M184.2 499.7h.6M175.9 509.0h.6M193.7 510.3h.6M182.1 500.8h.6M174.7 508.6h.6M179.0 499.3h.6M185.0 494.5h.6M168.8 511.2h.6M184.8 506.3h.6M195.1 503.3h.6M184.5 502.7h.6M178.1 497.5h.6M185.8 498.6h.6M174.6 499.7h.6M189.0 502.2h.6M204.3 493.8h.6M176.3 502.6h.6M170.9 509.6h.6M179.3 499.4h.6M163.1 513.9h.6M182.2 496.0h.6M186.6 501.4h.6M180.0 499.4h.6M181.5 501.9h.6M170.5 515.9h.6M175.0 503.0h.6M204.1 491.4h.6M174.2 508.7h.6M184.6 507.5h.6M188.8 494.5h.6M172.4 515.4h.6M190.4 499.1h.6M186.0 495.3h.6M176.7 513.4h.6M170.4 499.9h.6M175.9 505.8h.6M163.3 505.2h.6M176.5 507.7h.6M184.4 497.0h.6M187.4 503.3h.6M187.7 494.4h.6M181.0 506.0h.6M164.8 513.2h.6M189.4 503.9h.6M196.3 491.8h.6M154.8 510.7h.6M180.3 503.8h.6M179.2 507.0h.6M185.2 497.4h.6M187.8 501.2h.6M165.2 513.3h.6M181.5 506.1h.6M182.6 504.4h.6M192.9 496.2h.6M181.3 506.4h.6M177.8 500.1h.6M183.7 501.9h.6M188.3 493.0h.6M179.8 502.6h.6M177.3 502.6h.6M187.0 485.0h.6M177.1 507.1h.6M193.7 505.2h.6M187.7 503.1h.6M186.9 501.4h.6M188.2 495.2h.6M185.7 501.3h.6M191.0 499.1h.6M177.6 499.4h.6M186.8 500.4h.6M194.9 493.2h.6M177.2 503.4h.6M181.1 501.8h.6M180.3 503.7h.6M169.1 501.9h.6M182.7 505.9h.6M184.5 504.3h.6M184.1 498.9h.6M198.8 500.3h.6M181.8 491.0h.6M190.8 498.8h.6M189.9 502.5h.6M189.2 495.2h.6M188.6 496.2h.6M175.1 502.7h.6M181.1 501.5h.6M187.8 498.8h.6M190.1 493.4h.6M177.2 501.8h.6M189.8 505.4h.6M181.3 500.1h.6M190.7 494.5h.6M184.1 515.8h.6M169.4 501.6h.6M174.7 501.8h.6M187.4 491.1h.6M188.6 501.9h.6M168.0 502.5h.6M190.8 487.4h.6M180.8 504.0h.6M179.6 504.7h.6M185.6 497.0h.6M176.6 507.3h.6M182.8 506.3h.6M183.1 501.5h.6M198.9 489.1h.6M184.1 505.1h.6M174.4 503.9h.6M178.0 501.4h.6M193.6 490.2h.6M180.1 505.8h.6M197.6 487.0h.6M184.4 501.8h.6M175.6 509.6h.6M177.3 495.5h.6M170.4 498.2h.6M181.9 499.5h.6M179.4 502.4h.6M169.4 511.3h.6M184.8 499.7h.6M180.8 503.2h.6M177.6 506.4h.6M181.9 502.1h.6M180.1 505.8h.6M177.0 504.2h.6M194.1 492.7h.6M177.1 509.6h.6M194.7 503.5h.6M185.8 489.7h.6M187.3 502.8h.6M182.9 507.1h.6M171.5 515.2h.6M171.3 512.3h.6M180.9 495.2h.6M191.8 498.7h.6M203.6 491.4h.6M183.2 500.4h.6M183.7 508.5h.6M181.1 501.1h.6M174.5 509.5h.6M180.6 517.1h.6M178.1 506.9h.6M189.6 487.7h.6M182.5 497.2h.6M184.5 495.8h.6M184.5 505.1h.6M182.3 492.8h.6M180.0 495.4h.6M167.6 511.0h.6M187.5 500.5h.6M174.8 493.6h.6M172.0 500.0h.6M188.4 503.8h.6M184.7 497.8h.6M169.5 495.5h.6M174.0 502.6h.6M180.8 501.2h.6M187.5 492.6h.6M190.8 497.4h.6M183.7 507.8h.6M185.1 500.8h.6M183.6 498.2h.6M178.7 505.5h.6M173.0 500.6h.6M167.0 501.8h.6M187.6 505.0h.6M182.6 496.1h.6M178.2 506.0h.6M178.2 509.5h.6M194.0 488.0h.6M188.3 508.7h.6M177.7 498.3h.6M175.3 501.6h.6M187.5 487.6h.6M174.6 497.9h.6M175.1 502.4h.6M186.0 505.2h.6M189.0 505.6h.6M174.2 501.6h.6M178.3 499.1h.6M180.7 499.2h.6M190.0 501.2h.6M195.2 505.6h.6M193.0 496.1h.6M192.5 496.8h.6M172.2 498.0h.6M179.0 496.2h.6M173.0 504.8h.6M187.8 498.3h.6M182.0 501.6h.6M178.8 506.3h.6M181.7 493.6h.6M174.5 503.0h.6M184.0 499.7h.6M185.2 509.3h.6M180.0 514.9h.6M196.1 496.5h.6M178.3 487.2h.6M177.7 499.5h.6M174.3 504.5h.6M192.4 494.0h.6M167.2 509.5h.6M191.8 493.3h.6M179.0 499.5h.6M174.6 505.8h.6M176.8 511.5h.6M180.3 492.6h.6M174.8 495.8h.6M183.4 502.0h.6M190.1 496.0h.6M166.0 518.1h.6M176.6 501.1h.6M180.2 500.0h.6M174.0 505.4h.6M176.6 488.8h.6M166.8 508.2h.6M178.7 502.2h.6M175.8 511.4h.6M181.4 501.7h.6M172.5 504.8h.6M164.5 504.5h.6M181.0 499.0h.6M175.2 509.9h.6M167.5 517.2h.6M175.4 512.5h.6" stroke="#8a8a8a" stroke-width="0.6" opacity="0.4" fill="none"/>
<path d="M151.1 502.7h.6M158.1 502.2h.6M158.8 506.2h.6M153.3 508.9h.6M162.1 506.6h.6M155.7 497.9h.6M153.3 500.9h.6M154.1 505.4h.6M150.4 502.6h.6M148.1 505.4h.6M157.3 501.7h.6M155.8 517.6h.6M160.3 503.1h.6M159.8 520.3h.6M155.0 505.4h.6M160.8 512.0h.6M156.5 491.9h.6M163.4 503.3h.6M160.0 502.0h.6M160.7 501.0h.6M154.4 508.2h.6M145.9 513.0h.6M156.9 498.9h.6M152.4 496.6h.6M155.3 518.4h.6M153.9 516.4h.6M161.7 509.8h.6M159.4 500.5h.6M151.7 500.4h.6M155.5 508.6h.6M153.4 517.3h.6M153.1 511.7h.6M157.2 502.8h.6M164.8 491.6h.6M159.3 513.2h.6M153.3 510.4h.6M155.9 501.5h.6M153.9 513.3h.6M151.4 505.3h.6M155.8 515.6h.6M157.1 495.7h.6M154.2 515.1h.6M147.4 500.2h.6M161.4 503.5h.6M155.4 513.8h.6M156.2 508.3h.6M153.4 502.2h.6M156.2 510.0h.6M159.0 515.6h.6M153.7 503.0h.6M158.6 500.9h.6M156.5 508.5h.6M164.6 505.7h.6M154.8 508.5h.6M152.9 497.4h.6M156.4 513.2h.6M156.8 503.1h.6M156.8 502.5h.6M156.6 518.0h.6M162.3 510.8h.6M157.6 506.5h.6M155.5 508.5h.6M158.7 497.5h.6M163.1 501.7h.6M162.1 508.8h.6M158.6 500.2h.6M156.6 512.8h.6M154.8 504.2h.6M164.0 512.0h.6M151.0 513.2h.6M159.3 513.2h.6M149.8 519.5h.6M160.8 519.3h.6M159.9 518.1h.6M154.5 509.6h.6M156.5 502.2h.6M163.0 503.6h.6M154.5 495.2h.6M155.0 507.6h.6M157.3 509.1h.6M154.7 500.7h.6M151.0 515.2h.6M150.8 518.7h.6M154.0 504.7h.6M156.7 504.8h.6M152.7 500.9h.6M159.4 513.6h.6M156.9 499.0h.6M158.5 511.4h.6M152.6 518.9h.6M164.0 508.0h.6M160.2 498.9h.6M156.7 506.7h.6M147.9 506.8h.6M162.3 498.6h.6M153.3 507.3h.6M159.3 514.0h.6M156.5 502.3h.6M153.5 502.4h.6M158.4 509.5h.6M160.4 503.5h.6M154.6 502.9h.6M154.8 505.7h.6M155.1 509.7h.6M163.3 499.4h.6M151.0 507.9h.6M159.4 500.2h.6M160.5 513.1h.6M152.4 512.8h.6M152.5 503.5h.6M155.7 516.6h.6M161.4 503.1h.6M157.4 490.8h.6M155.7 495.6h.6M160.7 487.6h.6M155.0 506.3h.6M153.9 509.6h.6M150.6 499.1h.6M156.5 505.0h.6M163.5 511.2h.6M158.4 504.2h.6M149.7 491.1h.6M156.2 507.2h.6M144.2 510.1h.6M152.3 510.9h.6M157.0 500.8h.6M150.8 510.8h.6M157.0 501.3h.6M154.3 503.9h.6M155.7 510.3h.6M153.1 508.5h.6M148.7 504.5h.6M156.5 504.3h.6M153.6 503.2h.6M151.9 506.2h.6M155.4 508.9h.6M152.8 499.6h.6M149.2 511.5h.6M156.4 491.7h.6M156.9 509.7h.6M151.8 515.7h.6M154.6 497.2h.6M152.5 510.7h.6M147.9 504.0h.6M156.2 504.0h.6M158.7 508.9h.6M150.1 512.8h.6M148.7 516.1h.6M157.6 499.7h.6M154.5 513.1h.6M149.1 502.9h.6M150.1 515.8h.6M158.5 518.7h.6M154.0 505.5h.6M156.4 502.6h.6M159.4 508.2h.6M158.0 503.6h.6M153.8 514.8h.6M157.1 501.6h.6M158.7 502.7h.6M152.5 512.5h.6M156.2 502.8h.6M154.2 517.3h.6M156.1 493.1h.6M152.1 514.4h.6M157.1 507.2h.6M157.2 500.5h.6M156.0 507.6h.6M158.0 510.8h.6M152.9 516.0h.6M153.4 502.1h.6M154.2 498.4h.6M147.9 510.3h.6M157.3 501.0h.6M149.8 500.3h.6M152.5 509.0h.6M159.0 508.8h.6M155.9 513.4h.6M158.1 508.0h.6M158.8 506.8h.6M155.7 508.0h.6M162.1 498.0h.6M154.8 508.8h.6M160.5 516.7h.6M157.2 512.8h.6M153.7 493.4h.6M160.8 507.8h.6M160.5 504.9h.6M150.0 508.2h.6M155.5 501.4h.6M148.4 505.3h.6M152.8 507.2h.6M158.3 499.2h.6M157.3 516.2h.6M159.1 513.9h.6M155.1 506.2h.6M154.9 507.2h.6M156.2 505.3h.6M156.1 508.6h.6M152.5 503.6h.6M162.1 509.0h.6M155.4 496.8h.6M147.7 507.4h.6M159.6 512.8h.6M153.9 490.0h.6M160.9 518.5h.6M157.5 504.9h.6M154.1 502.1h.6M159.6 503.5h.6M154.6 505.0h.6M156.4 513.9h.6M162.1 502.0h.6M155.5 501.1h.6M155.2 500.4h.6M158.9 496.1h.6M159.4 501.9h.6M166.7 510.0h.6M153.9 510.3h.6M161.7 500.0h.6M165.0 506.2h.6M162.4 512.8h.6M157.2 517.6h.6M154.8 498.5h.6M157.3 516.1h.6M162.3 508.0h.6M156.9 507.9h.6M162.5 512.0h.6M155.7 513.3h.6M155.2 500.2h.6M155.8 509.7h.6M157.6 511.1h.6M151.6 512.0h.6M157.6 508.1h.6M153.4 505.6h.6M157.1 509.1h.6M155.2 508.5h.6M154.3 510.1h.6M150.0 497.9h.6M153.4 511.7h.6M153.7 509.3h.6M153.4 515.7h.6M154.1 507.1h.6M161.4 514.6h.6M157.7 501.7h.6M159.3 508.7h.6M152.1 504.3h.6M156.7 510.7h.6M149.8 508.8h.6M158.2 510.5h.6M163.5 504.5h.6M155.5 500.0h.6M153.5 508.3h.6M154.9 503.7h.6M154.8 516.1h.6M157.2 516.3h.6M148.2 514.0h.6M156.3 512.0h.6M161.2 508.2h.6M155.6 508.0h.6M151.2 513.0h.6M154.5 506.7h.6M157.0 498.4h.6M155.7 514.3h.6M154.4 509.9h.6M154.1 517.2h.6M162.9 512.7h.6M153.3 517.8h.6M162.8 510.6h.6M149.1 505.0h.6M158.9 498.7h.6M153.6 508.4h.6M155.8 498.4h.6M154.0 505.6h.6M151.6 515.6h.6M162.6 519.8h.6M154.3 508.1h.6M158.4 518.9h.6M149.7 514.3h.6M158.1 510.8h.6M160.9 516.2h.6M162.2 517.8h.6M159.4 505.1h.6M148.9 502.4h.6M157.7 504.7h.6M159.9 499.8h.6M153.1 513.7h.6M155.9 498.4h.6M158.7 499.9h.6M158.2 503.5h.6M156.4 501.0h.6M158.1 507.6h.6M149.8 507.4h.6M160.0 511.9h.6" stroke="#999" stroke-width="0.6" opacity="0.4" fill="none"/>
<g filter="url(#b1)">
<ellipse cx="170.5" cy="509.3" rx="14" ry="8" fill="#858585" opacity="0.8" transform="rotate(-14 170.5 509.3)"/>
<ellipse cx="154.2" cy="510" rx="3.0" ry="8.5" fill="#9a62b8" opacity="0.8"/>
<ellipse cx="168.6" cy="510.4" rx="7.6" ry="6.0" fill="#a84aa8" opacity="0.95"/>
</g><g filter="url(#b2)">
<ellipse cx="154.0" cy="509.5" rx="1.3" ry="4.2" fill="#6a78d8" opacity="0.8"/>
<ellipse cx="168.8" cy="510.6" rx="5.0" ry="3.9" fill="#5a6fd0" opacity="0.9"/>
<ellipse cx="168.9" cy="510.7" rx="3.9" ry="3.0" fill="#35b8c0" opacity="1"/>
<ellipse cx="169" cy="510.8" rx="3.1" ry="2.4" fill="#7cc242" opacity="1"/>
<ellipse cx="169" cy="510.8" rx="2.4" ry="1.8" fill="#f2d21c" opacity="1"/>
<ellipse cx="169" cy="510.8" rx="1.8" ry="1.2" fill="#e3202a" opacity="1"/>
</g>
<polygon points="170,460.6 196.3,460.6 197,520 160.8,520 160,505" fill="none" stroke="#333" stroke-width="0.5"/>
<rect x="143.50" y="456.00" width="64.80" height="65.00" fill="none" stroke="#3a3a3a" stroke-width="0.7"/>
<line x1="143.50" y1="456.00" x2="143.50" y2="521.40" stroke="#231f20" stroke-width="0.9"/>
<line x1="143.10" y1="521.00" x2="208.30" y2="521.00" stroke="#231f20" stroke-width="0.9"/>
<line x1="142.60" y1="521.00" x2="143.50" y2="521.00" stroke="#231f20" stroke-width="0.4"/>
<line x1="143.50" y1="521.00" x2="143.50" y2="521.90" stroke="#231f20" stroke-width="0.4"/>
<line x1="142.60" y1="518.50" x2="143.50" y2="518.50" stroke="#231f20" stroke-width="0.4"/>
<line x1="145.99" y1="521.00" x2="145.99" y2="521.90" stroke="#231f20" stroke-width="0.4"/>
<line x1="142.60" y1="516.00" x2="143.50" y2="516.00" stroke="#231f20" stroke-width="0.4"/>
<line x1="148.48" y1="521.00" x2="148.48" y2="521.90" stroke="#231f20" stroke-width="0.4"/>
<line x1="142.60" y1="513.50" x2="143.50" y2="513.50" stroke="#231f20" stroke-width="0.4"/>
<line x1="150.98" y1="521.00" x2="150.98" y2="521.90" stroke="#231f20" stroke-width="0.4"/>
<line x1="142.60" y1="511.00" x2="143.50" y2="511.00" stroke="#231f20" stroke-width="0.4"/>
<line x1="153.47" y1="521.00" x2="153.47" y2="521.90" stroke="#231f20" stroke-width="0.4"/>
<line x1="142.60" y1="508.50" x2="143.50" y2="508.50" stroke="#231f20" stroke-width="0.4"/>
<line x1="155.96" y1="521.00" x2="155.96" y2="521.90" stroke="#231f20" stroke-width="0.4"/>
<line x1="142.60" y1="506.00" x2="143.50" y2="506.00" stroke="#231f20" stroke-width="0.4"/>
<line x1="158.45" y1="521.00" x2="158.45" y2="521.90" stroke="#231f20" stroke-width="0.4"/>
<line x1="142.60" y1="503.50" x2="143.50" y2="503.50" stroke="#231f20" stroke-width="0.4"/>
<line x1="160.95" y1="521.00" x2="160.95" y2="521.90" stroke="#231f20" stroke-width="0.4"/>
<line x1="142.60" y1="501.00" x2="143.50" y2="501.00" stroke="#231f20" stroke-width="0.4"/>
<line x1="163.44" y1="521.00" x2="163.44" y2="521.90" stroke="#231f20" stroke-width="0.4"/>
<line x1="142.60" y1="498.50" x2="143.50" y2="498.50" stroke="#231f20" stroke-width="0.4"/>
<line x1="165.93" y1="521.00" x2="165.93" y2="521.90" stroke="#231f20" stroke-width="0.4"/>
<line x1="142.60" y1="496.00" x2="143.50" y2="496.00" stroke="#231f20" stroke-width="0.4"/>
<line x1="168.42" y1="521.00" x2="168.42" y2="521.90" stroke="#231f20" stroke-width="0.4"/>
<line x1="142.60" y1="493.50" x2="143.50" y2="493.50" stroke="#231f20" stroke-width="0.4"/>
<line x1="170.92" y1="521.00" x2="170.92" y2="521.90" stroke="#231f20" stroke-width="0.4"/>
<line x1="142.60" y1="491.00" x2="143.50" y2="491.00" stroke="#231f20" stroke-width="0.4"/>
<line x1="173.41" y1="521.00" x2="173.41" y2="521.90" stroke="#231f20" stroke-width="0.4"/>
<line x1="142.60" y1="488.50" x2="143.50" y2="488.50" stroke="#231f20" stroke-width="0.4"/>
<line x1="175.90" y1="521.00" x2="175.90" y2="521.90" stroke="#231f20" stroke-width="0.4"/>
<line x1="142.60" y1="486.00" x2="143.50" y2="486.00" stroke="#231f20" stroke-width="0.4"/>
<line x1="178.39" y1="521.00" x2="178.39" y2="521.90" stroke="#231f20" stroke-width="0.4"/>
<line x1="142.60" y1="483.50" x2="143.50" y2="483.50" stroke="#231f20" stroke-width="0.4"/>
<line x1="180.88" y1="521.00" x2="180.88" y2="521.90" stroke="#231f20" stroke-width="0.4"/>
<line x1="142.60" y1="481.00" x2="143.50" y2="481.00" stroke="#231f20" stroke-width="0.4"/>
<line x1="183.38" y1="521.00" x2="183.38" y2="521.90" stroke="#231f20" stroke-width="0.4"/>
<line x1="142.60" y1="478.50" x2="143.50" y2="478.50" stroke="#231f20" stroke-width="0.4"/>
<line x1="185.87" y1="521.00" x2="185.87" y2="521.90" stroke="#231f20" stroke-width="0.4"/>
<line x1="142.60" y1="476.00" x2="143.50" y2="476.00" stroke="#231f20" stroke-width="0.4"/>
<line x1="188.36" y1="521.00" x2="188.36" y2="521.90" stroke="#231f20" stroke-width="0.4"/>
<line x1="142.60" y1="473.50" x2="143.50" y2="473.50" stroke="#231f20" stroke-width="0.4"/>
<line x1="190.85" y1="521.00" x2="190.85" y2="521.90" stroke="#231f20" stroke-width="0.4"/>
<line x1="142.60" y1="471.00" x2="143.50" y2="471.00" stroke="#231f20" stroke-width="0.4"/>
<line x1="193.35" y1="521.00" x2="193.35" y2="521.90" stroke="#231f20" stroke-width="0.4"/>
<line x1="142.60" y1="468.50" x2="143.50" y2="468.50" stroke="#231f20" stroke-width="0.4"/>
<line x1="195.84" y1="521.00" x2="195.84" y2="521.90" stroke="#231f20" stroke-width="0.4"/>
<line x1="142.60" y1="466.00" x2="143.50" y2="466.00" stroke="#231f20" stroke-width="0.4"/>
<line x1="198.33" y1="521.00" x2="198.33" y2="521.90" stroke="#231f20" stroke-width="0.4"/>
<line x1="142.60" y1="463.50" x2="143.50" y2="463.50" stroke="#231f20" stroke-width="0.4"/>
<line x1="200.82" y1="521.00" x2="200.82" y2="521.90" stroke="#231f20" stroke-width="0.4"/>
<line x1="142.60" y1="461.00" x2="143.50" y2="461.00" stroke="#231f20" stroke-width="0.4"/>
<line x1="203.32" y1="521.00" x2="203.32" y2="521.90" stroke="#231f20" stroke-width="0.4"/>
<line x1="142.60" y1="458.50" x2="143.50" y2="458.50" stroke="#231f20" stroke-width="0.4"/>
<line x1="205.81" y1="521.00" x2="205.81" y2="521.90" stroke="#231f20" stroke-width="0.4"/>
<line x1="142.60" y1="456.00" x2="143.50" y2="456.00" stroke="#231f20" stroke-width="0.4"/>
<line x1="208.30" y1="521.00" x2="208.30" y2="521.90" stroke="#231f20" stroke-width="0.4"/>
<line x1="141.70" y1="521.00" x2="143.50" y2="521.00" stroke="#231f20" stroke-width="0.6"/>
<line x1="143.50" y1="521.00" x2="143.50" y2="522.80" stroke="#231f20" stroke-width="0.6"/>
<text transform="translate(140.30,522.90)" font-size="5.3" text-anchor="end" fill="#231f20">0</text>
<text transform="translate(143.50,528.40)" font-size="5.3" text-anchor="middle" fill="#231f20">0</text>
<line x1="141.70" y1="508.10" x2="143.50" y2="508.10" stroke="#231f20" stroke-width="0.6"/>
<line x1="156.40" y1="521.00" x2="156.40" y2="522.80" stroke="#231f20" stroke-width="0.6"/>
<text transform="translate(140.30,510.00)" font-size="5.3" text-anchor="end" fill="#231f20">200</text>
<text transform="translate(156.40,528.40)" font-size="5.3" text-anchor="middle" fill="#231f20">200</text>
<line x1="141.70" y1="495.20" x2="143.50" y2="495.20" stroke="#231f20" stroke-width="0.6"/>
<line x1="169.30" y1="521.00" x2="169.30" y2="522.80" stroke="#231f20" stroke-width="0.6"/>
<text transform="translate(140.30,497.10)" font-size="5.3" text-anchor="end" fill="#231f20">400</text>
<text transform="translate(169.30,528.40)" font-size="5.3" text-anchor="middle" fill="#231f20">400</text>
<line x1="141.70" y1="482.30" x2="143.50" y2="482.30" stroke="#231f20" stroke-width="0.6"/>
<line x1="182.20" y1="521.00" x2="182.20" y2="522.80" stroke="#231f20" stroke-width="0.6"/>
<text transform="translate(140.30,484.20)" font-size="5.3" text-anchor="end" fill="#231f20">600</text>
<text transform="translate(182.20,528.40)" font-size="5.3" text-anchor="middle" fill="#231f20">600</text>
<line x1="141.70" y1="469.40" x2="143.50" y2="469.40" stroke="#231f20" stroke-width="0.6"/>
<line x1="195.10" y1="521.00" x2="195.10" y2="522.80" stroke="#231f20" stroke-width="0.6"/>
<text transform="translate(140.30,471.30)" font-size="5.3" text-anchor="end" fill="#231f20">800</text>
<text transform="translate(195.10,528.40)" font-size="5.3" text-anchor="middle" fill="#231f20">800</text>
<line x1="141.70" y1="456.50" x2="143.50" y2="456.50" stroke="#231f20" stroke-width="0.6"/>
<line x1="208.00" y1="521.00" x2="208.00" y2="522.80" stroke="#231f20" stroke-width="0.6"/>
<text transform="translate(140.30,458.40)" font-size="5.3" text-anchor="end" fill="#231f20">1000</text>
<text transform="translate(208.00,528.40)" font-size="5.3" text-anchor="middle" fill="#231f20">1000</text>
<text transform="translate(176.30,451.20)" font-size="5.3" text-anchor="middle" fill="#333" textLength="60" lengthAdjust="spacingAndGlyphs">[Singlets] FS INT/SS INT</text>
<text transform="translate(188.70,466.60)" font-size="4.9" text-anchor="middle" fill="#333">Viable</text>
<text transform="translate(123.20,488.00) rotate(-90) scale(0.64,1)" font-size="8.6" text-anchor="middle" fill="#231f20">SS INT</text>
<text transform="translate(176.30,541.20) scale(0.64,1)" font-size="8.6" text-anchor="middle" fill="#231f20">FS INT</text>
<path d="M284.9 504.2h.6M284.5 515.3h.6M281.3 502.3h.6M284.8 514.1h.6M281.5 507.1h.6M283.9 508.0h.6M274.9 511.1h.6M286.6 508.1h.6M286.3 505.0h.6M286.3 509.4h.6M284.3 511.5h.6M280.8 503.3h.6M288.6 514.0h.6M287.9 508.9h.6M282.0 500.1h.6M282.1 505.2h.6M285.5 500.1h.6M281.8 493.9h.6M280.7 507.5h.6M276.2 513.2h.6M285.8 513.7h.6M286.8 510.2h.6M285.4 515.8h.6M281.9 507.4h.6M286.9 509.6h.6M279.1 504.9h.6M283.3 504.2h.6M294.5 494.6h.6M292.4 515.0h.6M293.8 503.4h.6M276.9 516.4h.6M288.8 510.7h.6M283.8 515.9h.6M278.8 496.9h.6M290.2 504.8h.6M289.8 499.0h.6M286.6 505.0h.6M283.9 504.8h.6M293.5 514.1h.6M286.9 511.0h.6M291.8 507.7h.6M279.9 511.2h.6M289.0 509.8h.6M288.7 510.4h.6M293.7 509.1h.6M286.5 509.5h.6M283.5 504.6h.6M294.0 511.1h.6M288.0 502.7h.6M293.0 500.8h.6M292.0 509.8h.6M287.6 503.8h.6M280.1 493.0h.6M288.7 501.6h.6M289.3 514.1h.6M289.4 504.5h.6M279.1 500.5h.6M279.7 510.2h.6M286.3 510.6h.6M298.1 507.6h.6M282.5 508.1h.6M279.8 496.0h.6M283.1 510.8h.6M284.2 504.5h.6M285.5 505.4h.6M285.0 508.9h.6M285.4 503.4h.6M282.3 504.7h.6M274.2 499.8h.6M294.1 509.1h.6M292.2 499.4h.6M286.9 511.3h.6M290.7 509.3h.6M279.4 510.7h.6M289.7 502.2h.6M283.0 501.0h.6M291.4 512.1h.6M285.3 506.9h.6M290.5 508.1h.6M281.7 508.4h.6M288.1 499.8h.6M287.2 510.6h.6M282.6 505.1h.6M281.3 494.6h.6M283.5 501.4h.6M278.4 505.5h.6M288.4 503.5h.6M287.1 515.0h.6M283.4 513.5h.6M293.4 496.2h.6M283.4 495.0h.6M286.0 509.0h.6M284.5 507.7h.6M289.5 504.7h.6M283.8 511.3h.6M296.7 492.2h.6M280.1 511.2h.6M290.9 509.9h.6M284.6 503.9h.6M286.5 511.6h.6M281.5 507.5h.6M283.0 505.7h.6M280.6 505.1h.6M282.9 497.8h.6M281.0 509.7h.6M293.0 514.8h.6M278.3 512.6h.6M285.2 499.6h.6M292.1 509.6h.6M297.4 507.9h.6M294.0 504.0h.6M288.1 504.3h.6M285.3 510.0h.6M282.3 504.1h.6M295.2 512.8h.6M283.7 511.2h.6M286.8 512.7h.6M292.6 498.9h.6M292.0 509.7h.6M291.4 511.8h.6M282.6 509.9h.6M288.4 505.9h.6M285.2 495.9h.6M287.5 489.8h.6M282.9 516.2h.6M291.0 512.7h.6M291.8 505.4h.6M289.7 516.0h.6M281.6 500.5h.6M289.1 504.0h.6M278.7 501.3h.6M292.7 507.7h.6M284.2 506.2h.6M295.0 502.2h.6M281.2 504.2h.6M284.0 505.3h.6M282.7 493.7h.6M290.5 508.5h.6M285.5 513.9h.6M298.0 508.7h.6M279.4 511.7h.6M290.1 511.2h.6M286.6 500.9h.6M284.7 506.9h.6M279.4 514.0h.6M281.1 505.9h.6M283.9 500.9h.6M287.0 503.8h.6M292.6 516.3h.6M291.7 499.5h.6M284.0 500.3h.6M284.4 511.0h.6M289.3 499.6h.6M281.0 512.3h.6M284.9 499.9h.6M285.1 515.8h.6M280.4 503.3h.6M288.3 497.8h.6M290.3 496.0h.6M291.5 512.1h.6M291.0 512.6h.6M287.0 511.6h.6M283.8 505.1h.6M287.9 506.9h.6M289.5 508.2h.6M284.9 504.3h.6M283.8 501.5h.6M280.1 499.6h.6M285.5 513.0h.6M286.0 506.8h.6M285.0 507.4h.6M282.2 491.1h.6M286.8 506.2h.6M292.7 505.1h.6M281.4 507.3h.6M292.0 516.1h.6M283.0 514.2h.6M279.3 496.6h.6M285.0 508.6h.6M279.6 504.6h.6M284.8 503.7h.6M285.1 505.5h.6M280.7 513.0h.6M284.2 508.0h.6M289.8 497.5h.6M287.6 506.7h.6M290.4 507.7h.6M282.8 499.6h.6M278.0 514.2h.6M284.5 501.2h.6M294.9 513.0h.6M283.7 505.3h.6M286.3 508.6h.6M289.4 509.0h.6M292.5 508.7h.6M290.2 502.8h.6M284.0 505.1h.6M292.7 505.5h.6M287.7 505.9h.6M279.4 503.8h.6M286.6 492.8h.6M293.2 506.3h.6M291.0 515.6h.6M286.5 507.5h.6M291.8 507.7h.6M285.1 490.8h.6M296.1 505.8h.6M286.3 514.7h.6M287.1 503.5h.6M284.5 504.2h.6M287.2 502.1h.6M294.9 506.8h.6M291.4 496.8h.6M287.6 510.3h.6M296.2 512.9h.6M288.3 515.6h.6M287.7 505.0h.6M275.4 495.2h.6M278.2 505.7h.6M275.9 497.3h.6M296.4 502.1h.6M286.9 508.9h.6M292.0 508.0h.6M285.6 510.2h.6M279.9 501.2h.6M287.6 502.9h.6M285.4 512.8h.6M287.9 508.4h.6M288.9 508.5h.6M292.6 506.6h.6M282.4 510.1h.6M274.9 493.2h.6M297.8 507.3h.6M280.7 505.3h.6M293.6 509.9h.6M293.3 497.3h.6M286.4 508.3h.6M293.1 512.9h.6M287.6 505.2h.6M296.9 507.2h.6M286.5 491.4h.6M284.1 504.6h.6M290.3 511.1h.6M289.7 510.4h.6M272.9 511.2h.6M286.3 510.6h.6M288.0 505.9h.6M292.2 511.9h.6M278.7 515.5h.6M290.4 503.2h.6M283.7 506.7h.6M283.6 515.3h.6M285.2 498.7h.6M286.2 506.6h.6M288.2 514.7h.6M280.8 513.4h.6M280.0 510.6h.6M285.5 509.3h.6M295.8 512.2h.6M280.4 513.2h.6M285.0 509.0h.6M283.6 506.1h.6M290.9 510.8h.6M288.5 502.3h.6M287.2 506.8h.6M292.9 498.0h.6M287.3 491.1h.6M283.6 509.2h.6M285.8 513.1h.6M292.2 507.5h.6M285.0 514.5h.6M292.5 497.6h.6M282.9 509.3h.6M285.4 512.6h.6M288.7 510.9h.6M289.2 509.6h.6M289.5 499.3h.6M289.5 504.0h.6M285.2 497.3h.6M287.1 511.0h.6M289.5 500.5h.6M281.1 499.8h.6M288.3 506.8h.6M289.7 499.6h.6M293.6 497.8h.6M283.8 498.7h.6M286.4 503.5h.6M286.3 496.8h.6M292.6 508.3h.6M283.5 514.3h.6M289.6 510.1h.6M284.8 502.7h.6M289.4 515.0h.6M290.3 493.6h.6M279.1 506.3h.6M283.9 494.9h.6M285.2 511.5h.6M289.6 511.4h.6M290.0 508.1h.6M299.0 501.3h.6M286.4 510.4h.6M289.5 511.7h.6M281.4 507.4h.6M286.3 513.1h.6M299.4 509.4h.6M287.9 510.4h.6M287.9 513.4h.6M286.1 509.9h.6M288.4 497.2h.6M282.8 497.2h.6M281.9 507.6h.6M287.1 496.1h.6M283.6 492.6h.6M283.6 496.6h.6M282.1 513.2h.6M287.9 499.0h.6M288.4 509.4h.6M277.8 505.7h.6M286.6 510.0h.6M293.6 507.1h.6M280.0 501.1h.6M285.4 512.8h.6M287.9 508.6h.6M278.4 510.4h.6M291.0 500.6h.6M290.3 502.3h.6M287.2 507.2h.6M286.3 505.9h.6M280.7 503.6h.6M287.8 513.9h.6M284.0 513.1h.6M285.9 510.9h.6M286.2 507.4h.6M286.4 511.6h.6M290.0 503.3h.6M288.0 509.5h.6M282.4 511.6h.6M294.8 496.1h.6M284.0 504.1h.6M297.2 505.0h.6M282.6 507.3h.6M294.5 501.5h.6M288.5 512.9h.6M286.1 501.3h.6M281.5 509.5h.6M280.5 505.7h.6M274.4 490.0h.6M279.2 508.1h.6M287.1 507.8h.6M288.8 504.4h.6M282.0 508.1h.6M288.7 515.7h.6M289.2 507.6h.6M283.9 513.5h.6M293.6 508.5h.6M280.8 505.9h.6M282.6 495.9h.6M290.5 505.3h.6M282.7 509.5h.6M283.4 509.1h.6M290.4 503.9h.6M287.0 496.6h.6M277.0 500.1h.6M291.3 509.8h.6M281.9 503.8h.6M287.9 509.5h.6M284.0 497.1h.6M280.5 508.1h.6M291.1 516.2h.6M285.3 511.6h.6M285.1 512.7h.6M283.0 501.9h.6M278.2 501.8h.6M285.2 507.4h.6M287.3 511.9h.6M285.8 501.0h.6M286.2 504.2h.6M282.2 510.9h.6M287.0 511.1h.6M283.5 511.4h.6M288.4 509.6h.6M289.1 500.0h.6M289.3 491.6h.6M284.9 503.7h.6M288.1 510.9h.6M284.7 503.2h.6M287.0 497.7h.6M285.1 499.1h.6M283.8 495.9h.6M283.7 516.3h.6M287.0 497.8h.6M292.7 506.1h.6M281.2 512.3h.6M284.6 512.2h.6M284.9 510.1h.6M287.8 515.6h.6M290.7 514.2h.6M289.7 510.8h.6M291.7 503.1h.6M292.0 507.0h.6M280.1 496.5h.6M284.4 505.8h.6M290.9 504.7h.6M277.1 509.3h.6M291.4 510.8h.6M289.7 514.1h.6M288.4 512.3h.6M290.8 507.0h.6M287.0 510.8h.6M282.6 511.3h.6M286.3 511.7h.6M283.1 514.0h.6M281.8 499.8h.6M286.2 514.7h.6M287.3 507.2h.6M285.9 494.9h.6M281.0 505.7h.6M283.9 511.6h.6M278.4 513.2h.6M283.0 509.5h.6M287.7 514.8h.6M283.5 511.3h.6M290.4 513.9h.6M287.8 515.2h.6M292.5 496.9h.6M283.6 507.6h.6M291.2 515.8h.6M288.3 506.8h.6M280.8 508.4h.6M289.6 508.8h.6M283.9 515.9h.6M287.8 502.5h.6M283.9 508.9h.6M290.0 508.2h.6M293.9 511.2h.6M288.1 515.1h.6M290.7 498.9h.6M286.0 500.4h.6M286.6 503.0h.6M292.4 516.0h.6M284.5 510.8h.6M277.2 504.7h.6M284.3 510.3h.6M287.7 506.1h.6M285.4 503.7h.6M287.7 504.5h.6M281.7 509.2h.6M286.8 507.6h.6M295.1 513.0h.6M286.8 510.2h.6M285.2 514.5h.6M284.5 512.5h.6M286.9 501.6h.6M283.6 502.7h.6M286.1 507.5h.6M290.3 498.5h.6M277.7 504.7h.6M285.5 504.2h.6M287.2 513.3h.6M283.1 509.0h.6M289.6 499.9h.6M287.5 497.9h.6M291.7 512.0h.6M279.2 501.5h.6M288.7 502.2h.6M283.1 501.7h.6M286.6 499.5h.6M294.8 513.3h.6M289.8 505.2h.6M282.0 508.6h.6M290.0 494.1h.6M288.5 514.3h.6M288.5 502.9h.6M288.7 513.2h.6M289.5 510.6h.6M288.0 504.5h.6M280.9 500.7h.6M293.0 502.9h.6M282.3 496.7h.6M293.1 491.6h.6M289.2 509.4h.6M281.7 495.7h.6M284.8 506.1h.6M285.6 505.4h.6M289.9 497.2h.6M286.9 510.8h.6M288.9 504.2h.6M289.0 504.3h.6M285.5 499.9h.6M295.0 507.5h.6M292.7 501.3h.6M283.2 502.7h.6M294.0 499.6h.6M284.2 509.4h.6M294.9 505.2h.6M281.8 505.0h.6M284.6 508.6h.6M291.5 507.3h.6M294.9 504.5h.6M288.8 507.2h.6M285.3 510.3h.6M296.1 509.1h.6M287.3 486.5h.6M282.7 498.3h.6M286.5 508.3h.6M288.7 511.8h.6M287.1 503.4h.6M282.9 493.8h.6M282.9 501.2h.6M284.4 511.9h.6M294.8 507.3h.6M280.4 507.6h.6M289.0 510.5h.6M284.8 512.3h.6M282.5 510.4h.6M290.8 510.9h.6M287.1 505.6h.6M286.0 500.4h.6M286.4 511.7h.6M297.3 503.5h.6M287.1 508.5h.6M284.0 505.9h.6M287.5 503.9h.6M285.1 499.6h.6M278.7 504.4h.6M283.0 515.1h.6M282.3 512.4h.6M284.1 506.4h.6M282.0 505.9h.6M295.6 501.1h.6M291.2 512.3h.6M281.1 501.8h.6M287.8 496.2h.6M286.1 509.5h.6M288.7 505.3h.6M290.6 513.5h.6M284.9 511.0h.6M290.1 508.8h.6M289.5 512.6h.6M292.1 515.4h.6M284.2 510.4h.6M288.4 506.2h.6M282.9 507.4h.6M280.8 514.5h.6M289.4 503.4h.6M286.1 496.7h.6M291.9 507.2h.6M289.9 516.2h.6M289.4 511.2h.6M289.5 509.5h.6M293.3 515.9h.6M289.1 509.4h.6M289.0 508.6h.6M290.5 507.5h.6M284.1 505.8h.6M290.8 508.9h.6M286.0 505.5h.6M292.2 509.8h.6M282.2 507.4h.6M291.7 513.8h.6M281.3 507.3h.6M285.4 499.7h.6M278.5 506.2h.6M285.6 501.7h.6M286.0 512.2h.6M286.4 515.5h.6M292.0 513.0h.6M288.6 507.3h.6M278.4 501.9h.6M283.1 503.3h.6M279.0 512.6h.6M293.1 515.7h.6M287.8 503.5h.6M289.8 511.9h.6M286.5 505.8h.6M291.8 514.4h.6M285.4 504.2h.6M285.8 498.7h.6M283.9 498.6h.6M281.0 490.2h.6M294.2 512.4h.6M292.8 510.0h.6M295.6 514.5h.6M288.1 506.3h.6M290.4 513.7h.6M284.8 498.1h.6M284.1 507.4h.6M288.8 504.5h.6M275.2 515.0h.6M290.1 505.6h.6M287.3 514.4h.6M291.3 507.1h.6M286.3 503.1h.6M278.6 512.7h.6M286.5 502.7h.6M285.1 500.2h.6M289.3 512.5h.6M287.8 501.8h.6M290.2 507.5h.6M292.9 494.9h.6M299.1 514.5h.6M288.0 506.6h.6M291.3 503.9h.6M288.4 500.7h.6M284.5 515.0h.6M292.3 506.7h.6M285.0 516.3h.6M285.5 500.7h.6M289.1 500.1h.6M293.3 509.2h.6M281.0 505.0h.6M288.4 510.2h.6M293.1 503.6h.6M293.8 505.7h.6M282.1 490.8h.6M279.1 514.1h.6M284.7 511.4h.6M283.2 497.3h.6M288.0 516.0h.6M281.3 506.6h.6M278.9 497.6h.6M284.0 497.8h.6M276.5 504.9h.6M282.9 509.9h.6M291.2 512.4h.6M287.3 512.5h.6M276.8 503.6h.6M280.7 505.3h.6M286.5 510.0h.6M287.8 511.0h.6M288.3 503.5h.6M285.4 504.9h.6M285.7 502.2h.6M284.6 498.2h.6M287.5 508.7h.6M287.8 506.5h.6M291.4 506.8h.6M280.6 504.8h.6M291.1 505.7h.6M284.8 503.5h.6M281.8 503.9h.6M286.4 499.3h.6M288.0 513.1h.6M282.5 502.8h.6M286.9 513.2h.6M283.4 502.6h.6M288.2 507.1h.6M294.5 500.9h.6M279.4 499.6h.6M289.2 508.8h.6M289.4 506.8h.6M288.6 500.3h.6M285.8 510.4h.6M295.0 499.2h.6M289.7 502.5h.6M288.2 497.8h.6M294.5 498.3h.6M284.5 511.5h.6M284.1 513.1h.6M284.2 499.9h.6M287.6 508.0h.6M282.1 515.3h.6M284.4 510.2h.6M284.4 503.5h.6M287.0 511.2h.6M284.9 509.5h.6M284.7 509.0h.6M289.7 514.3h.6M292.1 506.1h.6M277.8 513.3h.6M288.6 512.8h.6M285.4 497.1h.6M290.2 507.5h.6M282.8 507.2h.6M280.2 507.8h.6M290.3 512.4h.6M293.9 512.0h.6M289.1 508.5h.6M293.5 511.5h.6M287.3 501.3h.6M291.0 503.8h.6M286.5 509.3h.6M291.8 511.1h.6M283.9 504.1h.6M281.5 511.6h.6M292.5 507.3h.6M288.0 500.1h.6M290.1 508.2h.6M289.8 497.6h.6M280.9 509.1h.6M289.1 499.0h.6M284.9 512.6h.6M288.0 512.6h.6M286.0 508.4h.6M282.6 486.5h.6M279.4 506.7h.6M285.4 511.8h.6M289.2 513.6h.6M285.0 496.3h.6M278.6 501.9h.6M279.5 504.6h.6M284.9 511.9h.6M283.5 516.3h.6M281.0 508.2h.6M280.6 514.9h.6M282.4 513.0h.6M286.3 499.7h.6M285.2 513.8h.6M289.4 512.9h.6M278.6 499.5h.6M287.8 504.4h.6M292.3 508.0h.6M281.2 509.1h.6M279.5 505.4h.6M286.3 502.0h.6M281.9 506.6h.6M289.6 500.7h.6M280.2 509.7h.6M289.9 515.9h.6M281.6 504.8h.6M287.7 501.9h.6M283.0 502.7h.6M283.5 491.8h.6M293.2 514.0h.6M292.1 513.7h.6M277.0 511.3h.6M283.5 509.4h.6M286.3 498.8h.6M287.2 511.5h.6M288.6 504.5h.6M278.2 511.9h.6M293.8 511.9h.6M288.6 504.7h.6M285.4 511.0h.6M287.5 506.9h.6M283.0 507.4h.6M290.5 505.7h.6M286.2 506.4h.6M289.8 503.8h.6M281.1 506.5h.6M292.9 498.0h.6M289.3 514.5h.6M280.4 506.5h.6M279.1 504.0h.6M284.8 513.7h.6M287.4 504.5h.6M291.5 506.7h.6M287.9 494.3h.6M292.3 507.4h.6M284.6 499.6h.6M284.8 511.7h.6M287.8 510.6h.6M289.4 504.7h.6M284.9 513.8h.6M289.4 506.2h.6M278.8 503.6h.6M291.0 507.6h.6M293.7 514.1h.6M288.0 507.9h.6M285.1 511.0h.6M283.1 503.9h.6M279.3 507.5h.6M283.7 502.8h.6M284.7 510.1h.6M275.3 497.6h.6M288.4 501.2h.6M285.7 506.1h.6M288.5 505.4h.6M285.6 506.9h.6M293.4 498.5h.6M284.8 512.8h.6M288.0 514.5h.6M286.3 510.0h.6M285.1 515.0h.6M281.9 500.3h.6M288.0 511.0h.6M290.1 516.1h.6M283.6 508.2h.6M291.8 505.0h.6M290.8 513.1h.6M284.7 512.0h.6M280.3 501.6h.6M284.9 500.5h.6M294.5 512.2h.6M285.6 497.9h.6M291.1 507.8h.6M285.6 502.9h.6M283.3 496.8h.6M290.9 510.7h.6M279.6 511.8h.6M291.6 502.8h.6M289.2 505.5h.6M289.7 505.2h.6M283.2 508.0h.6M286.5 496.2h.6M282.9 505.8h.6M284.8 506.8h.6M289.2 505.6h.6M286.7 507.2h.6M287.4 502.9h.6M285.9 509.5h.6M289.2 504.6h.6M282.9 511.0h.6M277.5 501.7h.6M277.6 505.5h.6M289.8 496.3h.6M293.7 514.3h.6M284.2 514.4h.6M282.4 496.9h.6M283.3 502.7h.6M290.5 494.3h.6M286.4 497.6h.6M285.9 497.2h.6M285.7 514.7h.6M291.0 514.4h.6M293.2 502.9h.6M289.7 496.5h.6M285.9 510.6h.6M288.4 505.7h.6M282.3 513.1h.6M290.4 510.8h.6M285.9 504.6h.6M277.1 505.5h.6M288.3 507.2h.6M291.3 503.2h.6M287.5 515.9h.6M282.2 511.1h.6M284.8 510.9h.6M293.7 497.0h.6M290.3 509.5h.6M286.0 501.1h.6M292.2 509.5h.6M286.2 509.8h.6M284.5 515.9h.6M277.4 506.9h.6M287.1 512.9h.6M277.6 498.1h.6M281.7 512.1h.6M287.5 513.6h.6M281.8 504.5h.6M290.3 504.3h.6M286.9 513.1h.6M283.3 494.9h.6M276.2 509.4h.6M289.6 511.6h.6M285.1 509.4h.6M278.1 513.8h.6M285.6 504.5h.6M284.5 513.7h.6M285.0 509.1h.6M293.2 490.4h.6M281.3 495.3h.6M291.7 509.7h.6M289.7 509.7h.6M284.8 498.7h.6M277.3 511.2h.6M289.1 503.7h.6M293.2 512.2h.6M293.7 507.5h.6M289.5 487.9h.6M276.0 498.6h.6M278.7 502.4h.6M287.3 504.0h.6M281.7 515.8h.6M291.2 493.8h.6M292.0 504.8h.6M290.8 503.5h.6M280.7 499.5h.6M284.5 496.2h.6M283.3 510.8h.6M284.7 511.0h.6M279.8 506.2h.6M287.4 496.1h.6M277.1 505.5h.6M284.6 503.7h.6M280.0 513.9h.6M293.2 498.9h.6M288.6 502.5h.6M285.6 506.3h.6M288.3 504.5h.6M281.7 503.6h.6M288.1 511.2h.6M277.1 490.1h.6M285.3 510.5h.6M291.0 502.5h.6M280.6 502.4h.6M278.0 511.1h.6M287.5 498.8h.6M290.2 510.5h.6M295.0 505.3h.6M279.1 502.7h.6M282.3 513.9h.6M281.9 496.4h.6M284.7 499.7h.6M284.1 498.8h.6M285.0 502.1h.6M286.3 502.6h.6M282.2 516.2h.6M283.6 512.9h.6M282.4 504.0h.6M290.3 499.4h.6M281.6 511.1h.6M294.6 516.2h.6M291.5 495.7h.6M289.9 511.5h.6M288.2 506.3h.6M287.4 501.9h.6M290.2 512.1h.6M284.8 509.3h.6M291.8 511.7h.6M286.8 506.4h.6M290.3 500.4h.6M292.1 512.1h.6M280.8 507.8h.6M288.2 510.6h.6M289.7 515.6h.6M283.5 513.9h.6M290.9 514.9h.6M291.0 497.2h.6M278.3 510.8h.6M292.1 505.5h.6M281.0 497.9h.6M292.0 514.6h.6M281.9 502.4h.6M279.1 512.2h.6M290.5 503.8h.6M285.6 513.3h.6M288.2 514.5h.6M280.9 496.2h.6M291.1 500.1h.6M290.1 490.0h.6M284.6 503.3h.6M286.0 509.5h.6M289.0 498.1h.6M297.5 497.2h.6M289.1 502.9h.6M294.6 500.9h.6M296.7 513.6h.6M286.4 507.0h.6M281.0 503.1h.6M280.0 508.3h.6M287.9 506.1h.6M280.3 497.3h.6M292.0 501.4h.6M280.3 515.0h.6M291.4 500.7h.6M281.7 501.2h.6M287.8 511.3h.6M291.2 499.4h.6M282.0 516.0h.6M287.5 508.0h.6M289.2 513.9h.6M290.5 504.1h.6M282.8 504.3h.6M285.8 501.4h.6M282.6 514.9h.6M285.5 506.3h.6M286.5 511.2h.6M292.4 510.8h.6M282.1 514.0h.6M282.2 510.6h.6M286.7 510.5h.6M296.3 512.2h.6M293.1 509.4h.6M290.1 515.9h.6M279.3 513.1h.6M288.0 494.8h.6M272.4 515.4h.6M288.5 501.1h.6M287.9 508.7h.6M287.4 501.3h.6M287.9 504.5h.6M285.4 513.6h.6M289.8 513.0h.6M283.9 509.6h.6M287.0 503.0h.6M291.6 493.2h.6M282.3 505.2h.6M284.6 497.4h.6M288.9 505.3h.6M290.7 496.7h.6M283.8 501.1h.6M287.5 503.9h.6M285.3 506.7h.6M280.6 500.8h.6M284.6 514.9h.6M287.5 502.6h.6M287.9 511.9h.6M289.9 503.6h.6M294.0 503.8h.6M286.2 508.5h.6M282.9 516.2h.6M280.9 509.3h.6M299.3 509.2h.6M280.9 502.9h.6M283.4 506.4h.6M285.1 504.2h.6M282.1 514.3h.6M287.0 501.2h.6M287.2 516.0h.6M281.6 508.6h.6M282.2 509.4h.6M293.4 498.9h.6M289.1 512.6h.6M286.3 498.4h.6M286.9 508.9h.6M287.6 504.4h.6M279.0 507.8h.6M285.6 509.8h.6M283.3 512.0h.6M285.4 509.0h.6M284.4 513.5h.6M291.4 511.2h.6M286.3 503.0h.6M283.5 489.2h.6M285.4 505.3h.6M286.5 505.6h.6M279.9 513.8h.6M286.3 501.0h.6M284.6 510.4h.6M285.6 515.0h.6M289.0 508.0h.6M281.1 510.2h.6M281.8 511.1h.6M286.0 502.3h.6M288.3 500.9h.6M290.1 507.4h.6M288.1 513.5h.6M279.1 502.6h.6M281.7 516.3h.6M282.0 507.7h.6M282.9 506.0h.6M288.7 510.4h.6M286.8 509.2h.6M286.8 507.6h.6M290.6 504.7h.6M297.6 505.7h.6M292.1 515.3h.6M285.3 493.2h.6M285.4 509.7h.6M297.5 508.5h.6M280.4 502.9h.6M283.1 498.4h.6M280.3 505.1h.6M291.1 493.7h.6M290.2 510.5h.6M291.8 497.9h.6M292.7 509.3h.6M286.1 504.8h.6M289.7 500.9h.6M282.1 515.1h.6M281.2 512.6h.6M288.8 509.7h.6M278.1 513.8h.6M293.1 514.7h.6M283.6 503.7h.6M276.6 509.9h.6M289.7 514.2h.6M290.1 512.6h.6M285.1 501.0h.6M282.6 508.0h.6M283.5 501.8h.6M291.6 504.7h.6M288.1 513.3h.6M290.0 515.7h.6M291.4 507.4h.6M289.5 510.0h.6M287.0 514.5h.6M278.1 508.0h.6M289.6 514.0h.6M282.0 509.3h.6M276.4 496.0h.6M282.0 505.2h.6M281.3 499.5h.6M286.2 504.6h.6M281.8 509.1h.6M288.8 509.1h.6M287.2 507.5h.6M279.1 509.5h.6M284.4 502.9h.6M285.6 503.0h.6M288.4 514.5h.6M290.3 506.7h.6M279.4 510.9h.6M285.5 505.2h.6M289.3 512.7h.6M289.1 506.6h.6M283.9 509.0h.6M287.9 503.5h.6M288.0 513.7h.6M280.1 515.4h.6M277.1 505.2h.6M285.9 502.4h.6M283.5 512.9h.6M284.2 498.7h.6M279.5 508.1h.6M291.6 505.2h.6M288.8 507.5h.6M278.7 514.8h.6M294.0 506.6h.6M289.5 504.8h.6M276.9 515.9h.6M285.9 509.9h.6M285.9 510.5h.6M293.0 514.8h.6M290.4 505.4h.6M281.4 511.5h.6M283.7 512.1h.6M295.1 504.7h.6M285.4 505.8h.6M296.6 504.5h.6M285.8 509.9h.6M288.7 502.7h.6M280.5 503.4h.6M280.7 507.7h.6M291.1 508.0h.6M285.2 510.2h.6M291.8 509.1h.6M286.3 505.9h.6M286.7 505.9h.6M283.0 500.6h.6M284.8 509.1h.6M288.7 510.5h.6M282.7 510.6h.6M289.4 508.1h.6M286.1 501.8h.6M289.0 503.8h.6M280.0 505.2h.6M287.5 512.7h.6M286.2 511.0h.6M283.4 490.5h.6M279.7 494.4h.6M293.2 513.8h.6M281.7 512.6h.6M287.0 508.3h.6M288.6 503.1h.6M295.3 510.3h.6M288.0 500.9h.6M286.9 508.0h.6M280.3 499.0h.6M288.9 513.3h.6M286.4 507.2h.6M280.2 511.0h.6M285.6 510.2h.6M280.8 511.4h.6M275.9 503.3h.6M286.5 503.6h.6M282.9 499.2h.6M284.9 509.1h.6M291.9 515.9h.6M282.3 502.4h.6M279.1 507.1h.6M285.3 506.4h.6M281.0 510.4h.6M288.1 513.6h.6M288.2 515.7h.6M292.9 490.7h.6M286.0 504.2h.6M285.4 503.2h.6M285.6 513.3h.6M287.0 507.0h.6M279.6 511.3h.6M288.3 511.1h.6M282.1 508.7h.6M287.5 508.0h.6M295.6 506.8h.6M280.5 510.1h.6M287.6 499.2h.6M284.3 506.8h.6M284.0 505.5h.6M292.2 512.0h.6M291.4 512.7h.6M289.0 514.7h.6M280.6 502.9h.6M284.2 497.9h.6M284.6 501.0h.6M287.0 511.0h.6M287.5 500.2h.6M286.1 508.3h.6M286.9 509.2h.6M279.3 503.2h.6M287.2 509.4h.6M287.6 505.3h.6M287.7 492.1h.6M279.6 505.8h.6M299.2 505.0h.6M276.2 489.2h.6M286.4 504.1h.6M287.1 509.2h.6M279.2 512.5h.6M280.3 509.6h.6M276.8 506.5h.6M279.5 498.2h.6M289.3 504.2h.6M291.6 490.4h.6M286.9 505.6h.6M285.7 507.4h.6M286.7 512.7h.6M284.0 497.1h.6M277.5 515.3h.6M286.2 514.0h.6M285.3 491.0h.6M286.8 504.1h.6M286.5 497.2h.6M292.0 507.0h.6M281.9 498.3h.6M282.6 496.4h.6M284.2 499.7h.6M287.5 507.9h.6M290.0 505.3h.6M282.5 505.1h.6M286.5 511.8h.6M287.6 515.6h.6M292.5 504.9h.6M285.4 516.0h.6M286.5 511.1h.6M291.7 511.6h.6M293.2 515.0h.6M280.0 505.4h.6M281.0 485.3h.6M288.8 515.7h.6M288.8 508.1h.6M286.5 508.5h.6M287.7 489.0h.6M288.2 507.1h.6M285.1 504.7h.6M278.2 509.5h.6M289.8 516.1h.6M286.8 499.5h.6M292.8 504.9h.6M287.0 510.7h.6M286.9 512.2h.6M286.5 508.4h.6M290.6 503.3h.6M285.9 505.0h.6M287.7 497.1h.6M282.3 507.0h.6M278.5 502.8h.6M291.6 510.1h.6M285.3 506.1h.6M287.8 503.8h.6M292.0 507.1h.6M293.0 504.5h.6M284.7 508.6h.6M281.8 515.0h.6M289.4 509.1h.6M289.0 496.1h.6M290.4 493.8h.6M288.9 508.3h.6M291.2 500.7h.6M293.5 514.8h.6M282.4 509.1h.6M289.3 505.6h.6M283.7 506.2h.6M289.4 510.4h.6" stroke="#666" stroke-width="0.6" opacity="0.5" fill="none"/>
<path d="M290.9 511.1h.6M293.4 503.0h.6M279.0 502.0h.6M297.4 489.9h.6M296.0 499.9h.6M285.3 513.8h.6M294.3 506.7h.6M288.3 498.2h.6M287.2 511.9h.6M294.1 513.2h.6M285.3 509.3h.6M291.8 507.4h.6M282.5 496.0h.6M281.1 507.5h.6M291.8 500.7h.6M288.0 503.0h.6M298.9 495.4h.6M289.9 497.4h.6M295.4 508.5h.6M284.1 501.8h.6M292.0 510.2h.6M284.5 502.1h.6M284.7 497.7h.6M296.1 512.4h.6M295.9 502.2h.6M290.2 507.3h.6M295.6 491.9h.6M289.9 491.3h.6M290.2 515.5h.6M298.0 499.8h.6M285.4 499.1h.6M290.3 486.4h.6M290.3 507.9h.6M282.5 508.8h.6M290.8 506.1h.6M292.9 505.4h.6M289.2 501.1h.6M291.5 514.4h.6M290.8 503.2h.6M296.5 511.2h.6M296.3 508.5h.6M287.3 507.4h.6M287.4 511.4h.6M294.2 516.1h.6M290.5 493.4h.6M291.5 500.9h.6M285.3 509.8h.6M292.9 508.6h.6M287.7 501.3h.6M284.8 512.0h.6M289.1 506.7h.6M292.0 509.5h.6M290.7 508.3h.6M291.1 509.7h.6M284.4 496.8h.6M281.4 506.2h.6M281.4 506.0h.6M286.2 508.5h.6M289.2 507.1h.6M281.7 495.7h.6M292.8 510.9h.6M293.9 501.8h.6M296.3 501.5h.6M283.7 514.8h.6M285.2 508.5h.6M278.4 503.9h.6M303.7 503.7h.6M290.6 498.6h.6M292.5 500.6h.6M294.9 491.6h.6M291.6 508.9h.6M287.5 499.1h.6M295.3 494.1h.6M292.3 510.9h.6M289.9 511.6h.6M289.7 483.8h.6M288.2 507.9h.6M294.1 498.8h.6M284.7 506.7h.6M288.2 499.2h.6M291.3 508.8h.6M293.4 504.3h.6M291.1 502.8h.6M290.1 508.3h.6M292.8 503.5h.6M294.9 511.4h.6M288.9 511.3h.6M297.2 513.8h.6M291.3 504.7h.6M296.7 504.0h.6M290.1 495.8h.6M295.8 484.9h.6M286.1 502.4h.6M287.4 505.3h.6M294.8 509.0h.6M292.2 514.0h.6M289.0 504.0h.6M286.9 498.1h.6M283.2 496.2h.6M296.2 510.9h.6M291.7 510.1h.6M293.7 512.9h.6M286.4 506.4h.6M295.1 489.3h.6M288.3 514.6h.6M289.2 489.4h.6M285.5 499.6h.6M292.4 511.9h.6M291.6 502.8h.6M294.1 490.5h.6M286.2 506.8h.6M292.4 501.8h.6M290.5 506.4h.6M290.8 501.5h.6M289.9 506.1h.6M286.6 503.7h.6M294.5 514.8h.6M292.7 500.1h.6M285.8 501.0h.6M290.8 501.2h.6M290.1 512.0h.6M279.9 507.8h.6M296.0 509.3h.6M275.9 506.9h.6M291.0 498.2h.6M290.4 498.3h.6M291.0 505.8h.6M290.7 508.0h.6M289.0 491.2h.6M284.1 516.3h.6M283.4 514.3h.6M296.7 513.7h.6M294.6 514.1h.6M287.9 495.9h.6M279.7 508.7h.6M292.8 512.0h.6M285.3 516.1h.6M289.9 502.7h.6M286.2 508.2h.6M293.1 506.8h.6M289.5 507.2h.6M284.3 512.2h.6M296.2 503.5h.6M288.3 508.9h.6M286.9 508.4h.6M288.8 488.8h.6M283.5 510.5h.6M286.6 511.9h.6M290.0 490.8h.6M281.1 498.1h.6M287.4 496.9h.6M292.4 500.3h.6M292.1 501.5h.6M301.0 502.4h.6M294.5 509.1h.6M288.3 505.1h.6M291.3 499.2h.6M290.5 503.4h.6M285.5 508.3h.6M295.8 497.4h.6M298.8 501.9h.6M291.7 501.1h.6M285.7 494.0h.6M290.5 500.6h.6M289.4 513.1h.6M296.8 499.4h.6M281.5 489.6h.6M292.2 505.3h.6M297.2 504.2h.6M298.9 507.6h.6M293.8 508.3h.6M291.7 508.4h.6M287.5 505.8h.6M286.7 506.5h.6M290.6 504.2h.6M287.0 515.3h.6M288.4 499.9h.6M289.9 504.7h.6M295.2 502.8h.6M291.8 511.0h.6M291.4 506.8h.6M294.6 504.7h.6M284.7 504.0h.6M281.1 509.0h.6M293.1 513.7h.6M286.7 507.3h.6M295.1 515.8h.6M292.5 499.2h.6M282.6 502.9h.6M286.8 503.1h.6M297.1 506.9h.6M291.9 509.4h.6M291.6 507.3h.6M286.7 509.6h.6M287.6 491.9h.6M289.8 506.8h.6M294.7 506.6h.6M295.3 502.9h.6M287.3 511.7h.6M288.5 504.1h.6M288.2 484.6h.6M278.9 494.0h.6M295.6 500.4h.6M283.8 507.9h.6M298.0 515.2h.6M297.3 512.0h.6M285.3 496.4h.6M291.6 509.5h.6M288.8 505.0h.6M286.3 507.9h.6M293.6 508.4h.6M291.8 502.2h.6M284.3 486.2h.6M285.3 490.5h.6M288.0 505.6h.6M293.5 510.0h.6M297.2 506.8h.6M289.4 507.2h.6M294.0 508.8h.6M295.3 514.4h.6M287.8 504.5h.6M282.0 514.6h.6M288.7 496.3h.6M289.8 504.2h.6M288.7 506.0h.6M286.1 504.8h.6M286.6 514.8h.6M296.1 509.3h.6M291.5 491.4h.6M289.9 487.8h.6M288.7 498.6h.6M296.7 504.5h.6M293.2 498.4h.6M291.0 495.1h.6M292.5 496.7h.6M285.0 503.8h.6M277.6 512.4h.6M289.4 513.3h.6M293.4 493.0h.6M288.6 510.6h.6M283.5 515.4h.6M292.5 508.0h.6M295.1 505.9h.6M281.6 507.1h.6M291.3 515.3h.6M291.7 516.1h.6M289.2 504.8h.6M292.5 498.5h.6M290.1 511.8h.6M288.4 515.4h.6M295.3 507.4h.6M295.0 504.8h.6M281.8 511.5h.6M288.9 502.8h.6M290.6 504.8h.6M291.5 515.1h.6M287.0 494.8h.6M292.5 503.3h.6M291.2 494.1h.6M283.6 491.4h.6M294.2 511.1h.6M281.4 500.9h.6M288.7 497.7h.6M287.3 506.6h.6M284.8 496.7h.6M296.7 496.9h.6M295.9 516.4h.6M296.5 491.6h.6M289.7 493.2h.6M291.5 507.1h.6M294.4 502.5h.6M289.1 513.8h.6M290.2 509.4h.6M296.3 513.8h.6M293.6 502.7h.6M287.5 515.5h.6M291.7 512.5h.6M282.5 510.2h.6M290.2 503.5h.6M290.5 510.0h.6M291.9 503.5h.6M288.9 504.3h.6M290.1 501.1h.6M285.6 492.8h.6M290.1 508.8h.6M286.6 504.5h.6M289.4 499.7h.6M297.1 507.2h.6M296.3 485.7h.6M290.7 496.2h.6M290.6 508.4h.6M285.4 510.6h.6M288.3 510.7h.6M288.3 491.4h.6M297.6 515.0h.6M292.4 513.6h.6M285.6 498.6h.6M289.7 501.6h.6M285.4 502.0h.6M292.9 505.4h.6M294.0 488.2h.6M298.9 508.6h.6M291.5 500.1h.6M287.3 515.8h.6M292.3 505.2h.6M292.3 496.5h.6M290.1 511.2h.6M292.7 499.8h.6M286.9 510.1h.6M295.1 509.0h.6M289.1 515.1h.6M290.5 492.5h.6M285.8 505.8h.6M289.7 509.7h.6M283.3 515.9h.6M287.5 509.1h.6M293.6 495.6h.6M285.5 510.5h.6M295.3 505.0h.6M286.0 507.9h.6M291.5 502.5h.6M292.8 513.4h.6M285.4 490.9h.6M289.2 495.0h.6M289.6 500.1h.6M288.5 502.8h.6M288.2 503.5h.6M286.4 505.0h.6M286.9 515.0h.6M289.2 511.1h.6M294.2 505.3h.6M291.9 513.4h.6M279.6 515.0h.6M286.2 493.4h.6M294.1 504.0h.6M285.5 499.6h.6M294.0 514.0h.6M289.4 506.8h.6M293.5 494.2h.6M292.7 498.7h.6M300.6 509.8h.6M281.8 501.9h.6M291.1 507.0h.6M297.3 506.0h.6M295.8 507.6h.6M288.3 499.7h.6M290.9 501.1h.6M286.9 498.9h.6M288.3 506.4h.6M276.9 509.8h.6M291.7 505.9h.6M290.6 495.6h.6M293.1 491.2h.6M286.9 509.2h.6M289.8 497.6h.6M286.9 508.8h.6M291.6 495.2h.6M290.4 499.3h.6M291.3 500.6h.6M289.2 507.3h.6M295.6 511.9h.6M282.0 507.4h.6M283.6 500.4h.6M288.8 504.1h.6M295.8 515.7h.6M294.3 496.5h.6M291.5 494.8h.6M286.8 511.7h.6M291.4 510.2h.6M291.9 509.6h.6M295.0 510.7h.6M295.3 498.7h.6M295.9 511.0h.6M287.7 508.9h.6M291.6 504.0h.6M287.1 500.4h.6M283.6 507.1h.6M294.0 505.3h.6M284.7 504.7h.6M294.4 512.1h.6M292.7 502.5h.6M298.5 505.3h.6M295.7 511.6h.6M289.8 514.1h.6M284.5 500.5h.6M288.9 511.9h.6M293.0 500.9h.6M286.4 502.0h.6M285.7 493.6h.6M289.5 500.8h.6M291.7 508.6h.6M286.3 505.8h.6M303.0 497.1h.6M290.0 502.6h.6M285.1 495.3h.6M287.4 503.0h.6M297.5 506.8h.6M282.8 505.7h.6M298.9 513.7h.6M286.8 511.5h.6M297.4 511.2h.6M292.1 498.4h.6M288.3 514.4h.6M281.9 510.5h.6M294.7 497.5h.6M291.3 509.1h.6M290.6 506.2h.6M283.7 508.1h.6M291.1 511.3h.6M288.0 509.3h.6M289.3 510.2h.6M292.2 510.4h.6M292.9 497.8h.6M291.0 514.0h.6M288.1 497.2h.6M294.2 515.3h.6M283.8 498.2h.6M296.6 516.3h.6M297.5 488.2h.6M294.5 499.9h.6M286.9 509.9h.6M294.6 497.7h.6M291.8 500.2h.6M298.9 515.6h.6M295.1 505.7h.6M292.3 486.9h.6M291.2 495.5h.6M284.3 494.3h.6M290.0 500.1h.6M292.5 509.3h.6M297.7 508.4h.6M294.5 492.1h.6M287.5 504.0h.6M292.8 497.0h.6M290.7 505.3h.6M291.6 499.8h.6M281.3 515.2h.6M289.2 509.4h.6M285.4 508.4h.6M293.8 511.9h.6M284.7 504.5h.6M286.6 510.7h.6M290.8 503.8h.6M287.2 502.7h.6M284.5 504.0h.6M294.9 498.4h.6M294.2 511.1h.6M292.3 499.6h.6M300.0 510.2h.6M291.5 500.7h.6M280.2 498.0h.6M293.2 501.8h.6M285.0 515.9h.6M290.4 507.8h.6M294.3 497.6h.6M293.1 507.1h.6M295.7 515.0h.6M293.6 503.7h.6M288.9 503.4h.6M292.9 498.4h.6M295.0 506.2h.6M288.1 506.1h.6M289.8 497.2h.6M289.9 499.1h.6M286.3 498.8h.6M288.6 507.8h.6M288.2 510.1h.6M295.2 509.1h.6M289.6 512.4h.6M285.3 502.3h.6M286.3 505.7h.6M292.7 504.1h.6M288.0 502.9h.6M294.3 512.5h.6M294.0 502.2h.6M289.4 493.5h.6M290.3 509.7h.6M288.4 510.7h.6M287.2 510.1h.6M290.2 488.9h.6M299.4 508.9h.6M282.5 504.9h.6M288.9 507.9h.6M286.8 498.0h.6M291.3 503.9h.6M290.6 497.8h.6M289.3 494.8h.6M295.3 503.3h.6M285.3 506.9h.6M296.0 502.0h.6M289.0 503.9h.6M290.9 508.2h.6M289.2 508.1h.6M286.5 513.0h.6M304.7 499.1h.6M293.1 508.6h.6M292.3 504.8h.6M284.9 502.7h.6M300.4 500.4h.6M288.1 502.5h.6M289.2 504.9h.6M293.2 506.5h.6M282.2 504.4h.6M298.7 500.1h.6M285.3 502.5h.6M294.7 504.7h.6M288.7 496.6h.6M287.4 508.3h.6M292.1 500.8h.6M292.4 514.4h.6M293.3 515.3h.6M285.8 515.9h.6M288.1 503.1h.6M298.7 511.6h.6M292.2 504.1h.6M292.3 501.5h.6M293.9 503.0h.6M283.3 506.4h.6M285.1 504.6h.6M291.0 494.8h.6M288.2 497.5h.6M289.6 480.8h.6M295.6 509.4h.6M288.5 513.6h.6M290.0 498.6h.6" stroke="#777" stroke-width="0.6" opacity="0.45" fill="none"/>
<path d="M253.7 506.6h.6M261.7 514.5h.6M258.2 510.5h.6M257.2 503.7h.6M250.1 508.6h.6M263.8 504.4h.6M252.4 513.8h.6M255.4 513.6h.6M261.4 515.0h.6M255.6 511.7h.6M262.3 505.2h.6M260.1 506.3h.6M260.7 508.9h.6M257.7 509.7h.6M259.7 515.4h.6M252.9 507.7h.6M255.0 513.1h.6M267.9 509.3h.6M264.2 503.8h.6M248.8 513.7h.6M274.1 511.9h.6M258.0 516.0h.6M265.4 500.8h.6M252.6 502.1h.6M265.7 506.9h.6M255.0 502.0h.6M250.7 509.4h.6M259.2 504.6h.6M253.1 500.0h.6M260.1 508.4h.6M250.0 504.3h.6M256.9 503.8h.6M260.6 501.9h.6M265.1 509.5h.6M259.7 500.7h.6M259.7 505.8h.6M265.3 510.9h.6M264.2 511.5h.6M253.8 496.1h.6M267.8 504.3h.6M257.9 512.7h.6M264.6 501.0h.6M262.0 505.8h.6M267.6 503.3h.6M264.3 505.9h.6M271.3 502.3h.6M251.2 509.6h.6M260.3 501.0h.6M251.7 513.5h.6M252.6 508.3h.6M251.4 518.7h.6M259.3 501.9h.6M257.2 501.8h.6M263.1 502.4h.6M255.5 509.3h.6M257.6 505.1h.6M257.5 505.3h.6M258.7 503.0h.6M271.2 506.8h.6M260.2 499.5h.6M258.0 512.8h.6M251.5 499.5h.6M265.8 509.3h.6M262.1 505.7h.6M258.8 505.2h.6M257.8 515.2h.6M259.6 512.3h.6M263.1 504.4h.6M255.6 508.2h.6M250.7 513.0h.6M257.0 505.8h.6M257.4 507.8h.6M266.8 508.5h.6M256.7 505.7h.6M250.6 508.4h.6M269.4 518.7h.6M257.4 515.7h.6M270.7 502.4h.6M268.7 501.3h.6M268.5 508.7h.6M259.8 503.4h.6M261.8 519.6h.6M261.4 500.7h.6M250.4 515.6h.6M265.7 497.7h.6M260.2 496.3h.6" stroke="#bbb" stroke-width="0.6" opacity="0.4" fill="none"/>
<g filter="url(#b1)">
<polygon points="283,493 287,493 292,501 297.5,511 298,516.4 277.5,516.4 278.5,506" fill="#686868" opacity="0.9"/>
<polygon points="281.5,499 286,499 288,506 288.5,515 280,515 280,506" fill="#8a5a98" opacity="0.75"/>
</g><g filter="url(#b2)">
<ellipse cx="283.8" cy="498.6" rx="2.0" ry="0.7" fill="#58b8c8" opacity="0.7"/>
<ellipse cx="284.2" cy="506" rx="2.4" ry="1.3" fill="#c040b0" opacity="0.8"/>
<ellipse cx="284.2" cy="509.6" rx="2.2" ry="1.0" fill="#5a70d0" opacity="0.8"/>
<ellipse cx="284.2" cy="512.6" rx="1.6" ry="0.8" fill="#d83048" opacity="0.85"/>
</g>
<rect x="275.10" y="455.30" width="31.30" height="61.10" fill="none" stroke="#444" stroke-width="0.5"/>
<rect x="246.00" y="455.30" width="65.60" height="65.70" fill="none" stroke="#3a3a3a" stroke-width="0.7"/>
<line x1="246.00" y1="455.30" x2="246.00" y2="521.40" stroke="#231f20" stroke-width="0.9"/>
<line x1="245.60" y1="521.00" x2="311.60" y2="521.00" stroke="#231f20" stroke-width="0.9"/>
<line x1="245.10" y1="521.00" x2="246.00" y2="521.00" stroke="#231f20" stroke-width="0.4"/>
<line x1="246.00" y1="521.00" x2="246.00" y2="521.90" stroke="#231f20" stroke-width="0.4"/>
<line x1="245.10" y1="518.47" x2="246.00" y2="518.47" stroke="#231f20" stroke-width="0.4"/>
<line x1="248.52" y1="521.00" x2="248.52" y2="521.90" stroke="#231f20" stroke-width="0.4"/>
<line x1="245.10" y1="515.95" x2="246.00" y2="515.95" stroke="#231f20" stroke-width="0.4"/>
<line x1="251.05" y1="521.00" x2="251.05" y2="521.90" stroke="#231f20" stroke-width="0.4"/>
<line x1="245.10" y1="513.42" x2="246.00" y2="513.42" stroke="#231f20" stroke-width="0.4"/>
<line x1="253.57" y1="521.00" x2="253.57" y2="521.90" stroke="#231f20" stroke-width="0.4"/>
<line x1="245.10" y1="510.89" x2="246.00" y2="510.89" stroke="#231f20" stroke-width="0.4"/>
<line x1="256.09" y1="521.00" x2="256.09" y2="521.90" stroke="#231f20" stroke-width="0.4"/>
<line x1="245.10" y1="508.37" x2="246.00" y2="508.37" stroke="#231f20" stroke-width="0.4"/>
<line x1="258.62" y1="521.00" x2="258.62" y2="521.90" stroke="#231f20" stroke-width="0.4"/>
<line x1="245.10" y1="505.84" x2="246.00" y2="505.84" stroke="#231f20" stroke-width="0.4"/>
<line x1="261.14" y1="521.00" x2="261.14" y2="521.90" stroke="#231f20" stroke-width="0.4"/>
<line x1="245.10" y1="503.31" x2="246.00" y2="503.31" stroke="#231f20" stroke-width="0.4"/>
<line x1="263.66" y1="521.00" x2="263.66" y2="521.90" stroke="#231f20" stroke-width="0.4"/>
<line x1="245.10" y1="500.78" x2="246.00" y2="500.78" stroke="#231f20" stroke-width="0.4"/>
<line x1="266.18" y1="521.00" x2="266.18" y2="521.90" stroke="#231f20" stroke-width="0.4"/>
<line x1="245.10" y1="498.26" x2="246.00" y2="498.26" stroke="#231f20" stroke-width="0.4"/>
<line x1="268.71" y1="521.00" x2="268.71" y2="521.90" stroke="#231f20" stroke-width="0.4"/>
<line x1="245.10" y1="495.73" x2="246.00" y2="495.73" stroke="#231f20" stroke-width="0.4"/>
<line x1="271.23" y1="521.00" x2="271.23" y2="521.90" stroke="#231f20" stroke-width="0.4"/>
<line x1="245.10" y1="493.20" x2="246.00" y2="493.20" stroke="#231f20" stroke-width="0.4"/>
<line x1="273.75" y1="521.00" x2="273.75" y2="521.90" stroke="#231f20" stroke-width="0.4"/>
<line x1="245.10" y1="490.68" x2="246.00" y2="490.68" stroke="#231f20" stroke-width="0.4"/>
<line x1="276.28" y1="521.00" x2="276.28" y2="521.90" stroke="#231f20" stroke-width="0.4"/>
<line x1="245.10" y1="488.15" x2="246.00" y2="488.15" stroke="#231f20" stroke-width="0.4"/>
<line x1="278.80" y1="521.00" x2="278.80" y2="521.90" stroke="#231f20" stroke-width="0.4"/>
<line x1="245.10" y1="485.62" x2="246.00" y2="485.62" stroke="#231f20" stroke-width="0.4"/>
<line x1="281.32" y1="521.00" x2="281.32" y2="521.90" stroke="#231f20" stroke-width="0.4"/>
<line x1="245.10" y1="483.10" x2="246.00" y2="483.10" stroke="#231f20" stroke-width="0.4"/>
<line x1="283.85" y1="521.00" x2="283.85" y2="521.90" stroke="#231f20" stroke-width="0.4"/>
<line x1="245.10" y1="480.57" x2="246.00" y2="480.57" stroke="#231f20" stroke-width="0.4"/>
<line x1="286.37" y1="521.00" x2="286.37" y2="521.90" stroke="#231f20" stroke-width="0.4"/>
<line x1="245.10" y1="478.04" x2="246.00" y2="478.04" stroke="#231f20" stroke-width="0.4"/>
<line x1="288.89" y1="521.00" x2="288.89" y2="521.90" stroke="#231f20" stroke-width="0.4"/>
<line x1="245.10" y1="475.52" x2="246.00" y2="475.52" stroke="#231f20" stroke-width="0.4"/>
<line x1="291.42" y1="521.00" x2="291.42" y2="521.90" stroke="#231f20" stroke-width="0.4"/>
<line x1="245.10" y1="472.99" x2="246.00" y2="472.99" stroke="#231f20" stroke-width="0.4"/>
<line x1="293.94" y1="521.00" x2="293.94" y2="521.90" stroke="#231f20" stroke-width="0.4"/>
<line x1="245.10" y1="470.46" x2="246.00" y2="470.46" stroke="#231f20" stroke-width="0.4"/>
<line x1="296.46" y1="521.00" x2="296.46" y2="521.90" stroke="#231f20" stroke-width="0.4"/>
<line x1="245.10" y1="467.93" x2="246.00" y2="467.93" stroke="#231f20" stroke-width="0.4"/>
<line x1="298.98" y1="521.00" x2="298.98" y2="521.90" stroke="#231f20" stroke-width="0.4"/>
<line x1="245.10" y1="465.41" x2="246.00" y2="465.41" stroke="#231f20" stroke-width="0.4"/>
<line x1="301.51" y1="521.00" x2="301.51" y2="521.90" stroke="#231f20" stroke-width="0.4"/>
<line x1="245.10" y1="462.88" x2="246.00" y2="462.88" stroke="#231f20" stroke-width="0.4"/>
<line x1="304.03" y1="521.00" x2="304.03" y2="521.90" stroke="#231f20" stroke-width="0.4"/>
<line x1="245.10" y1="460.35" x2="246.00" y2="460.35" stroke="#231f20" stroke-width="0.4"/>
<line x1="306.55" y1="521.00" x2="306.55" y2="521.90" stroke="#231f20" stroke-width="0.4"/>
<line x1="245.10" y1="457.83" x2="246.00" y2="457.83" stroke="#231f20" stroke-width="0.4"/>
<line x1="309.08" y1="521.00" x2="309.08" y2="521.90" stroke="#231f20" stroke-width="0.4"/>
<line x1="245.10" y1="455.30" x2="246.00" y2="455.30" stroke="#231f20" stroke-width="0.4"/>
<line x1="311.60" y1="521.00" x2="311.60" y2="521.90" stroke="#231f20" stroke-width="0.4"/>
<line x1="244.20" y1="521.00" x2="246.00" y2="521.00" stroke="#231f20" stroke-width="0.6"/>
<text transform="translate(242.80,522.90)" font-size="5.3" text-anchor="end" fill="#231f20">0</text>
<line x1="244.20" y1="508.00" x2="246.00" y2="508.00" stroke="#231f20" stroke-width="0.6"/>
<text transform="translate(242.80,509.90)" font-size="5.3" text-anchor="end" fill="#231f20">200</text>
<line x1="244.20" y1="495.00" x2="246.00" y2="495.00" stroke="#231f20" stroke-width="0.6"/>
<text transform="translate(242.80,496.90)" font-size="5.3" text-anchor="end" fill="#231f20">400</text>
<line x1="244.20" y1="482.00" x2="246.00" y2="482.00" stroke="#231f20" stroke-width="0.6"/>
<text transform="translate(242.80,483.90)" font-size="5.3" text-anchor="end" fill="#231f20">600</text>
<line x1="244.20" y1="469.00" x2="246.00" y2="469.00" stroke="#231f20" stroke-width="0.6"/>
<text transform="translate(242.80,470.90)" font-size="5.3" text-anchor="end" fill="#231f20">800</text>
<line x1="244.20" y1="456.00" x2="246.00" y2="456.00" stroke="#231f20" stroke-width="0.6"/>
<text transform="translate(242.80,457.90)" font-size="5.3" text-anchor="end" fill="#231f20">1000</text>
<line x1="261.80" y1="521.00" x2="261.80" y2="522.80" stroke="#231f20" stroke-width="0.6"/>
<text transform="translate(261.30,529.00)" font-size="5" text-anchor="middle" fill="#231f20">10<tspan font-size="3.2" dy="-2.2">1</tspan></text>
<line x1="278.80" y1="521.00" x2="278.80" y2="522.80" stroke="#231f20" stroke-width="0.6"/>
<text transform="translate(278.30,529.00)" font-size="5" text-anchor="middle" fill="#231f20">10<tspan font-size="3.2" dy="-2.2">2</tspan></text>
<line x1="295.50" y1="521.00" x2="295.50" y2="522.80" stroke="#231f20" stroke-width="0.6"/>
<text transform="translate(295.00,529.00)" font-size="5" text-anchor="middle" fill="#231f20">10<tspan font-size="3.2" dy="-2.2">3</tspan></text>
<line x1="311.30" y1="521.00" x2="311.30" y2="522.80" stroke="#231f20" stroke-width="0.6"/>
<text transform="translate(310.80,529.00)" font-size="5" text-anchor="middle" fill="#231f20">10<tspan font-size="3.2" dy="-2.2">4</tspan></text>
<text transform="translate(279.30,451.20)" font-size="5.3" text-anchor="middle" fill="#333" textLength="51" lengthAdjust="spacingAndGlyphs">[Viable] cd45/SS INT</text>
<text transform="translate(285.40,460.60)" font-size="4.9" text-anchor="middle" fill="#333">CD45+</text>
<text transform="translate(224.00,488.00) rotate(-90) scale(0.64,1)" font-size="8.6" text-anchor="middle" fill="#231f20">SS INT</text>
<text transform="translate(279.30,541.20) scale(0.64,1)" font-size="8.6" text-anchor="middle" fill="#231f20">CD45</text>
<path d="M389.3 476.9h.6M387.7 503.5h.6M401.1 475.6h.6M383.9 492.1h.6M387.6 496.5h.6M385.0 496.0h.6M387.1 493.4h.6M381.3 484.6h.6M381.2 496.3h.6M383.3 487.3h.6M385.3 489.6h.6M386.4 483.0h.6M383.1 482.6h.6M382.1 500.0h.6M377.8 503.7h.6M379.7 495.4h.6M391.3 488.7h.6M393.6 488.0h.6M395.9 482.6h.6M379.8 488.3h.6M391.6 482.6h.6M383.4 488.5h.6M378.6 495.8h.6M368.5 497.2h.6M385.8 483.4h.6M403.6 483.5h.6M388.5 495.6h.6M396.7 485.9h.6M374.6 485.7h.6M383.5 491.3h.6M385.3 480.9h.6M389.3 485.2h.6M385.0 499.7h.6M396.2 495.1h.6M382.8 491.4h.6M383.5 480.6h.6M386.0 504.1h.6M380.9 497.4h.6M384.6 492.7h.6M387.8 486.7h.6M388.8 484.1h.6M393.4 486.2h.6M381.9 491.2h.6M395.6 487.2h.6M388.2 501.7h.6M377.0 493.1h.6M378.0 491.6h.6M383.0 494.6h.6M389.3 492.2h.6M379.6 493.8h.6M391.3 495.0h.6M401.5 488.0h.6M379.7 504.1h.6M395.2 486.9h.6M376.2 502.9h.6M397.4 486.3h.6M381.0 493.1h.6M392.2 486.2h.6M396.8 495.3h.6M386.2 494.5h.6M393.3 498.1h.6M383.0 490.4h.6M381.2 485.1h.6M392.5 489.6h.6M399.1 471.4h.6M394.4 482.4h.6M386.3 486.5h.6M388.6 477.8h.6M395.6 487.1h.6M389.9 489.7h.6M391.4 484.0h.6M394.1 482.5h.6M390.9 489.6h.6M389.9 486.4h.6M390.3 484.3h.6M387.6 490.6h.6M387.1 493.5h.6M394.4 482.9h.6M383.8 501.8h.6M383.3 482.7h.6M387.3 479.2h.6M395.7 490.3h.6M377.7 499.8h.6M388.0 486.1h.6M386.3 491.7h.6M372.9 501.7h.6M394.1 478.1h.6M382.6 497.8h.6M389.6 486.8h.6M393.5 491.8h.6M385.9 489.3h.6M394.4 487.6h.6M392.6 495.6h.6M384.9 497.8h.6M395.4 493.0h.6M379.5 495.5h.6M374.1 499.8h.6M385.7 491.1h.6M387.6 494.2h.6M381.4 489.6h.6M388.9 480.2h.6M378.7 502.8h.6M380.7 499.7h.6M383.1 493.9h.6M394.9 486.2h.6M384.7 491.6h.6M386.9 501.8h.6M386.8 492.1h.6M398.1 485.0h.6M385.7 495.8h.6M378.0 504.4h.6M391.0 489.1h.6M384.4 491.1h.6M380.3 491.1h.6M391.6 485.1h.6M387.3 495.2h.6M382.4 492.4h.6M384.1 491.8h.6M387.2 480.0h.6M398.6 492.1h.6M390.1 489.2h.6M385.2 492.4h.6M385.3 494.6h.6M381.5 498.1h.6M388.7 482.5h.6M388.6 493.2h.6M395.2 489.4h.6M388.9 488.0h.6M378.8 496.2h.6M381.7 496.6h.6M386.2 497.2h.6M382.3 502.7h.6M390.8 488.3h.6M390.1 496.8h.6M387.6 478.0h.6M383.5 502.9h.6M386.3 491.3h.6M388.0 498.8h.6M373.6 491.2h.6M403.5 479.1h.6M384.6 498.8h.6M392.2 481.0h.6M391.6 494.0h.6M389.7 482.8h.6M375.4 493.8h.6M389.8 496.9h.6M390.4 483.2h.6M390.5 491.1h.6M393.3 486.1h.6M399.1 478.0h.6M381.0 494.1h.6M393.6 483.9h.6M384.0 495.6h.6M385.1 483.5h.6M387.0 491.9h.6M386.1 491.0h.6M383.2 501.2h.6M396.5 486.2h.6M385.5 491.9h.6M389.2 488.1h.6M397.0 488.8h.6M378.3 497.8h.6M396.8 488.0h.6M389.6 483.0h.6M396.7 479.0h.6M388.7 486.7h.6M381.1 494.2h.6M379.0 493.7h.6M399.8 474.6h.6M386.5 495.0h.6M390.2 491.9h.6M386.2 488.8h.6M381.1 486.3h.6M390.4 492.7h.6M389.5 488.4h.6M383.9 498.9h.6M392.5 482.8h.6M389.4 482.8h.6M392.5 496.5h.6M383.6 495.0h.6M387.4 491.4h.6M391.7 498.4h.6M394.2 491.6h.6M380.8 495.2h.6M385.8 491.7h.6M391.1 486.1h.6M391.1 494.2h.6M383.0 486.7h.6M387.1 487.1h.6M380.3 496.4h.6M392.0 488.0h.6M384.2 498.2h.6M390.0 490.5h.6M400.8 479.6h.6M375.8 489.6h.6M395.0 487.2h.6M394.9 475.5h.6M383.6 496.1h.6M377.9 500.4h.6M391.0 491.4h.6M386.1 495.6h.6M382.0 497.3h.6M395.1 482.3h.6M380.3 494.0h.6M384.6 495.2h.6M390.9 496.3h.6M395.0 483.5h.6M385.9 481.7h.6M389.5 486.0h.6M383.8 493.7h.6M383.7 499.3h.6M383.6 488.5h.6M375.6 495.4h.6M381.6 495.6h.6M392.6 482.9h.6M395.0 490.6h.6M390.9 487.8h.6M387.4 490.8h.6M394.0 479.6h.6M393.4 486.7h.6M380.1 491.8h.6M392.6 480.7h.6M377.4 491.8h.6M387.3 480.8h.6M393.2 479.9h.6M386.0 484.1h.6M381.7 492.5h.6M385.4 497.7h.6M397.4 493.3h.6M381.1 499.5h.6M393.1 482.7h.6M398.8 479.1h.6M388.3 495.8h.6M389.3 499.3h.6M388.0 486.3h.6M372.3 494.4h.6M380.4 499.6h.6M395.6 485.6h.6M392.2 495.9h.6M399.2 474.1h.6M378.9 497.8h.6M390.8 486.1h.6M387.4 487.2h.6M393.0 489.1h.6M387.9 498.0h.6M384.2 496.0h.6M381.9 488.1h.6M379.0 491.6h.6M390.5 493.8h.6M395.1 488.9h.6M376.8 477.5h.6M383.3 501.9h.6M393.6 488.1h.6M391.6 494.2h.6M389.9 491.2h.6M389.5 489.0h.6M391.6 492.4h.6M382.3 482.9h.6M389.3 488.3h.6M393.1 492.7h.6M387.7 484.4h.6M378.7 506.5h.6M386.9 493.1h.6M389.2 494.5h.6M397.3 479.1h.6M395.4 490.7h.6M387.0 499.6h.6M391.4 488.3h.6M373.4 501.6h.6M387.3 487.7h.6M384.0 478.1h.6M381.3 495.2h.6M392.5 484.1h.6M393.4 491.7h.6M385.0 490.0h.6M380.3 487.5h.6M387.8 493.5h.6M393.2 477.8h.6M392.8 493.6h.6M375.1 490.7h.6M372.7 491.7h.6M389.8 484.9h.6M388.3 492.9h.6M385.9 499.3h.6M378.3 490.5h.6M381.1 485.0h.6M393.7 476.5h.6M374.9 499.3h.6M384.2 494.8h.6M400.3 480.1h.6M391.5 492.7h.6M391.7 477.5h.6M373.5 491.8h.6M384.4 482.1h.6M393.5 496.4h.6M399.2 489.5h.6M389.8 485.7h.6M391.9 497.4h.6M385.4 484.5h.6M387.6 498.9h.6M392.1 487.7h.6M382.1 494.3h.6M375.6 499.9h.6M377.5 502.8h.6M384.8 483.6h.6M392.6 481.7h.6M373.1 491.7h.6M391.2 495.5h.6M389.3 496.8h.6M391.8 495.3h.6M402.6 472.5h.6M387.3 476.9h.6M390.5 487.5h.6M379.5 500.3h.6M387.0 499.4h.6M393.8 482.5h.6M384.5 491.6h.6M390.5 496.9h.6M373.3 504.6h.6M394.5 487.2h.6M384.6 500.1h.6M389.0 480.7h.6M376.9 499.8h.6M389.7 487.4h.6M388.9 495.1h.6M384.0 504.7h.6M378.3 498.2h.6M385.0 492.2h.6M387.6 501.7h.6M381.5 500.8h.6M387.3 474.0h.6M389.7 492.8h.6M400.8 487.8h.6M390.6 491.1h.6M392.9 499.0h.6M393.1 485.4h.6M403.8 490.1h.6M380.1 502.7h.6M389.6 486.2h.6M393.9 493.5h.6M393.7 490.0h.6M386.3 496.9h.6M391.0 483.7h.6M384.9 491.3h.6M376.8 498.2h.6M383.5 488.3h.6M397.0 492.3h.6M384.4 490.4h.6M390.3 479.0h.6M387.9 491.7h.6M386.9 484.1h.6M375.0 488.3h.6M381.6 490.6h.6M381.9 503.1h.6M387.7 498.4h.6M399.8 494.1h.6M384.9 491.2h.6M383.2 496.5h.6M393.7 485.5h.6M390.2 485.6h.6M394.9 484.5h.6M392.8 483.4h.6M397.3 486.9h.6M381.0 496.2h.6M396.1 479.6h.6M395.8 479.8h.6M388.4 491.3h.6M396.8 493.4h.6M382.6 489.8h.6M389.5 474.2h.6M387.6 485.0h.6M390.4 478.6h.6M381.9 486.5h.6M395.1 498.6h.6M379.5 494.2h.6M391.4 481.9h.6M384.5 490.5h.6M382.0 495.2h.6M383.5 491.0h.6M387.8 494.6h.6M385.2 493.1h.6M386.5 479.1h.6M392.3 485.9h.6M386.8 499.6h.6M388.5 483.3h.6M376.0 493.8h.6M390.3 487.6h.6M386.4 501.8h.6M386.1 498.7h.6M375.3 507.9h.6M394.1 488.6h.6M387.6 501.7h.6M389.2 498.9h.6M390.0 489.5h.6M382.2 493.7h.6M399.7 476.7h.6M391.9 488.7h.6M388.5 494.5h.6M390.5 490.5h.6M388.2 489.2h.6M396.7 485.3h.6M395.3 497.2h.6M378.4 500.6h.6M393.3 484.2h.6M386.6 499.7h.6M390.2 483.3h.6M394.2 488.5h.6M382.7 499.8h.6M393.0 487.3h.6M391.4 493.5h.6M394.7 489.0h.6M396.9 487.4h.6M387.0 487.5h.6M382.2 491.9h.6M395.7 493.7h.6M398.1 489.6h.6M381.9 497.3h.6M379.4 491.6h.6M376.1 501.6h.6M394.8 489.8h.6M392.9 493.1h.6M380.6 481.2h.6M390.0 485.2h.6M392.3 492.1h.6M393.0 476.1h.6M387.5 482.9h.6M389.3 490.7h.6M383.5 490.5h.6M387.7 490.8h.6M387.8 490.3h.6M378.4 493.8h.6M385.1 487.7h.6M386.9 489.2h.6M386.0 497.4h.6M394.8 488.6h.6M388.7 482.0h.6M387.3 498.2h.6M389.2 486.4h.6M388.2 484.9h.6M385.7 493.6h.6M389.4 480.8h.6M387.6 487.3h.6M386.4 496.0h.6M381.8 501.3h.6M392.3 482.0h.6M394.7 487.5h.6M385.5 489.3h.6M379.1 500.2h.6M388.8 489.3h.6M385.2 483.4h.6M374.8 490.0h.6M384.3 485.4h.6M392.5 471.2h.6M392.1 473.3h.6M400.9 491.8h.6M393.1 491.0h.6M391.7 486.0h.6M389.3 490.5h.6M393.4 490.0h.6M397.5 482.7h.6M378.8 491.7h.6M392.3 498.1h.6M383.1 500.9h.6M392.2 473.3h.6M385.9 487.5h.6M385.2 493.2h.6M378.2 499.8h.6M389.9 485.6h.6M385.6 486.6h.6M394.1 491.0h.6M380.6 496.0h.6M390.4 474.7h.6M400.3 491.2h.6M387.9 476.6h.6M381.9 489.3h.6M383.5 499.3h.6M385.3 482.8h.6M376.2 502.8h.6M386.1 487.1h.6M397.2 475.7h.6M380.9 487.8h.6M376.5 491.9h.6M389.2 492.7h.6M395.5 484.9h.6M390.7 494.0h.6M388.8 492.3h.6M397.7 478.6h.6M396.7 480.3h.6M383.8 502.6h.6M387.7 478.8h.6M383.6 486.6h.6M383.5 494.2h.6M390.8 488.9h.6M390.0 494.0h.6M385.0 488.4h.6M388.8 493.8h.6M388.5 492.0h.6M388.2 496.7h.6M391.7 484.0h.6M394.2 490.7h.6M386.7 483.2h.6M386.8 499.1h.6M390.9 484.9h.6M384.4 496.0h.6M382.2 488.1h.6M390.8 496.4h.6M384.3 501.0h.6M390.2 488.5h.6M389.5 490.6h.6M385.7 490.2h.6M386.1 481.2h.6M380.0 492.9h.6M382.7 487.7h.6M383.7 498.0h.6M385.8 490.5h.6M387.5 491.9h.6M389.6 487.2h.6M383.8 499.8h.6M386.4 495.8h.6M384.0 495.8h.6M396.4 480.7h.6M391.0 494.2h.6M378.5 489.0h.6M374.7 496.5h.6M391.8 493.1h.6M388.8 487.1h.6M392.8 495.2h.6M390.0 491.2h.6M398.8 477.2h.6M383.4 491.1h.6M392.2 481.4h.6M387.1 488.0h.6M384.3 489.0h.6M389.3 487.8h.6M390.3 493.3h.6M381.7 489.3h.6M389.6 482.4h.6M390.0 497.2h.6M374.5 497.9h.6M390.8 482.7h.6M384.0 495.8h.6M378.5 501.5h.6M383.9 494.5h.6M373.9 497.0h.6M395.4 481.6h.6M379.5 493.3h.6M388.1 498.1h.6M390.4 493.9h.6M381.0 489.4h.6M390.0 497.8h.6M370.7 497.0h.6M390.7 495.1h.6M384.9 498.1h.6M395.1 480.2h.6M392.8 481.2h.6M389.3 479.7h.6M386.8 482.2h.6M389.5 493.1h.6M379.4 503.3h.6M392.2 493.8h.6M390.7 494.9h.6M390.1 506.8h.6M390.2 491.3h.6M382.7 499.8h.6M390.9 485.7h.6M394.3 485.6h.6M390.8 493.3h.6M385.5 490.7h.6M370.2 499.9h.6M382.5 502.2h.6M395.1 487.4h.6M389.5 490.3h.6M396.8 484.1h.6M401.2 477.8h.6M377.5 491.1h.6M386.8 489.4h.6M381.6 495.1h.6M388.8 492.0h.6M393.3 487.3h.6M380.3 491.2h.6M385.9 487.5h.6M379.9 497.6h.6M386.0 493.3h.6M393.2 486.8h.6M382.0 498.0h.6M396.0 499.1h.6M391.2 484.7h.6M389.1 481.6h.6M390.6 487.7h.6M397.8 490.8h.6M393.5 484.3h.6M396.8 486.7h.6M384.5 485.0h.6M398.9 490.0h.6M388.3 483.3h.6M388.3 484.0h.6M391.6 496.8h.6M385.9 493.6h.6M389.1 493.4h.6M392.5 487.3h.6M394.0 479.0h.6M379.7 491.7h.6M391.3 483.6h.6M392.8 486.9h.6M389.0 492.5h.6M387.1 491.6h.6M388.3 477.4h.6M403.3 475.6h.6M382.7 495.9h.6M378.2 496.1h.6M370.9 500.8h.6M387.8 489.4h.6M384.7 489.4h.6M380.9 493.5h.6M397.8 490.7h.6M387.7 494.3h.6M380.5 494.8h.6M381.6 489.7h.6M374.7 504.8h.6M389.5 490.6h.6M382.6 492.9h.6M394.3 479.7h.6M392.9 490.4h.6M388.0 502.9h.6M394.9 481.6h.6M379.3 498.3h.6M393.5 489.2h.6M386.3 501.4h.6M372.6 513.9h.6M388.4 490.1h.6M379.6 497.9h.6M392.1 494.7h.6M393.7 486.3h.6M382.1 487.1h.6M383.4 500.9h.6M393.9 479.9h.6M387.9 487.3h.6M384.5 497.3h.6M389.0 488.4h.6M391.9 483.2h.6M400.8 484.9h.6M394.7 488.6h.6M388.8 492.4h.6M381.6 499.7h.6M375.2 493.4h.6M389.3 487.4h.6M387.8 496.7h.6M389.2 491.5h.6M378.8 496.9h.6M384.4 491.3h.6M388.8 484.5h.6M385.8 488.1h.6M382.4 500.4h.6M373.9 489.5h.6M387.0 497.4h.6M390.8 485.3h.6M396.9 487.6h.6M389.4 492.5h.6M380.2 495.6h.6M388.8 493.1h.6M384.2 490.8h.6M375.2 507.9h.6M382.9 488.2h.6M401.4 472.3h.6M379.3 489.3h.6M385.4 493.0h.6M391.4 485.6h.6M384.8 498.0h.6M381.6 492.8h.6M384.3 491.2h.6M384.9 493.3h.6M392.9 496.4h.6M395.6 480.1h.6M391.7 476.2h.6M391.8 494.7h.6M376.8 500.3h.6M401.8 472.7h.6M393.7 490.8h.6M388.2 499.7h.6M389.1 480.8h.6M391.2 481.4h.6M388.6 489.4h.6M388.0 494.0h.6M388.9 488.8h.6M389.3 493.1h.6M392.8 488.7h.6M393.1 490.6h.6M392.2 490.6h.6M389.1 486.6h.6M383.1 501.9h.6M386.0 495.7h.6M397.9 487.9h.6M390.9 495.7h.6M375.5 502.6h.6M383.8 494.4h.6M390.2 492.1h.6M397.4 475.4h.6M377.2 495.9h.6M388.2 486.7h.6M396.2 476.8h.6M387.4 490.5h.6M395.8 489.0h.6M381.5 492.6h.6M385.7 484.9h.6M388.2 489.9h.6M381.2 491.5h.6M388.2 499.2h.6M390.7 485.0h.6M382.8 496.1h.6M391.8 490.1h.6M381.3 495.0h.6M397.8 484.8h.6M390.3 484.3h.6M395.9 485.5h.6M385.2 499.3h.6M389.0 490.2h.6M387.4 498.0h.6M382.9 496.3h.6M384.0 488.2h.6M380.7 485.8h.6M385.6 488.8h.6M383.0 486.9h.6M376.3 492.9h.6M395.0 479.1h.6M389.1 486.3h.6M392.4 495.9h.6M391.4 483.0h.6M395.0 486.9h.6M376.9 499.9h.6M394.8 492.3h.6M382.6 498.1h.6M392.2 484.2h.6M382.8 493.1h.6M398.4 490.4h.6M370.5 495.6h.6M387.1 481.5h.6M393.8 478.7h.6M379.8 498.6h.6M398.3 478.5h.6M380.9 497.2h.6M405.6 469.6h.6M394.7 482.0h.6M384.7 501.5h.6M383.1 483.2h.6M395.2 484.5h.6M389.8 489.0h.6M382.8 494.5h.6M384.8 485.3h.6M386.7 491.4h.6M395.8 482.0h.6M381.1 498.1h.6M373.7 496.3h.6M388.4 497.1h.6M388.0 485.6h.6M391.3 495.6h.6M384.0 493.9h.6M393.7 491.1h.6M393.2 491.8h.6M390.6 478.4h.6M406.7 481.5h.6M392.8 477.2h.6M374.7 492.9h.6M389.9 494.4h.6M387.1 484.9h.6M379.8 490.0h.6M386.2 494.9h.6M392.1 487.4h.6M396.5 482.6h.6M388.0 496.4h.6M379.6 502.0h.6M390.8 480.8h.6M389.9 499.1h.6M386.5 492.3h.6M387.8 491.2h.6M390.4 491.1h.6M391.2 475.7h.6M381.7 499.2h.6M381.7 484.9h.6M396.3 487.6h.6M383.3 489.4h.6M396.6 493.3h.6M383.5 504.1h.6M387.6 487.0h.6M393.7 497.0h.6M380.2 493.7h.6M391.5 496.3h.6M384.9 487.8h.6M389.7 490.4h.6M388.8 485.5h.6M389.5 487.9h.6M387.2 492.8h.6M387.0 491.1h.6M386.7 492.9h.6M389.4 485.5h.6M382.6 489.7h.6M380.7 494.3h.6M385.6 488.0h.6M392.5 486.0h.6M386.8 493.2h.6M392.0 491.0h.6M385.5 490.8h.6M389.6 492.8h.6M392.7 495.4h.6M383.7 493.4h.6M390.5 499.6h.6M391.9 491.5h.6M381.2 505.0h.6M397.9 485.0h.6M389.6 485.2h.6M388.6 490.8h.6M393.8 488.6h.6M382.2 486.5h.6M395.8 492.9h.6M378.9 504.5h.6M382.6 494.5h.6M391.3 483.2h.6M389.1 477.7h.6M400.8 487.6h.6M375.1 499.8h.6M390.6 485.4h.6M391.6 486.0h.6M386.0 506.4h.6M382.3 498.1h.6M382.1 497.8h.6M399.8 484.4h.6M396.4 478.3h.6M402.1 483.5h.6M390.2 495.2h.6M396.4 484.4h.6M371.9 504.1h.6M379.9 485.2h.6M381.7 488.1h.6M381.3 492.5h.6M396.9 475.9h.6M384.9 491.6h.6M388.8 494.2h.6M390.7 481.4h.6M377.8 494.1h.6M379.4 493.2h.6M394.5 479.1h.6M379.7 488.0h.6M393.6 490.2h.6M389.3 491.1h.6M380.9 499.7h.6M384.7 497.2h.6M397.4 489.1h.6M400.1 496.9h.6M390.2 500.9h.6M377.5 497.0h.6M384.1 488.4h.6M393.9 480.7h.6M385.3 496.4h.6M380.8 496.5h.6M394.1 483.6h.6M391.8 492.4h.6M391.0 492.0h.6M388.8 495.5h.6M386.9 487.4h.6M394.8 476.0h.6M394.8 505.0h.6M385.5 492.6h.6M376.8 488.5h.6M385.0 485.1h.6M383.0 495.3h.6M394.1 482.9h.6M400.0 488.3h.6M387.6 491.6h.6M378.5 490.2h.6M391.8 491.0h.6M386.4 503.9h.6M388.6 503.1h.6M395.7 479.6h.6M384.3 490.0h.6M393.3 477.0h.6M385.6 485.6h.6M392.7 490.3h.6M389.6 492.5h.6M396.4 484.8h.6M388.9 488.2h.6M387.7 489.5h.6M380.2 494.1h.6M394.5 486.3h.6M389.0 491.7h.6M382.8 493.4h.6M386.6 496.1h.6M382.8 491.7h.6M391.3 503.0h.6M376.9 510.5h.6M382.8 488.1h.6M393.8 495.2h.6M391.7 480.1h.6M378.5 502.4h.6M398.3 482.7h.6M398.1 482.7h.6M392.7 489.7h.6M381.8 507.2h.6M384.6 487.8h.6M393.7 482.8h.6M385.7 496.1h.6M393.0 491.0h.6M400.8 483.1h.6M391.7 488.0h.6M388.3 494.6h.6M384.6 505.7h.6M386.5 485.5h.6M389.6 480.6h.6M386.9 489.6h.6M381.0 491.7h.6M394.0 478.5h.6M386.5 496.5h.6M384.9 495.8h.6M388.4 489.1h.6M383.9 493.1h.6M394.2 488.1h.6M399.9 483.5h.6M393.9 491.2h.6M388.2 489.6h.6M376.5 496.2h.6M380.7 498.4h.6M393.4 500.2h.6M383.2 496.8h.6M383.8 493.9h.6M384.9 491.1h.6M388.9 491.8h.6M388.2 498.8h.6M386.5 478.6h.6M369.7 506.7h.6M385.3 492.3h.6M391.1 488.7h.6M390.1 496.2h.6M386.3 492.6h.6M383.4 496.2h.6M385.4 499.4h.6M397.5 489.5h.6M388.9 485.0h.6M387.9 489.3h.6M387.9 488.9h.6M399.5 477.0h.6M381.1 490.1h.6M384.6 489.3h.6M379.3 484.5h.6M393.7 486.0h.6M372.6 498.9h.6M386.6 485.5h.6M399.6 482.0h.6M389.7 489.6h.6M380.8 499.5h.6M383.8 490.0h.6M382.2 497.9h.6M388.2 485.5h.6M384.8 487.2h.6M383.2 498.7h.6M397.0 474.6h.6M390.5 495.9h.6M383.8 494.9h.6M388.8 492.5h.6M384.7 493.6h.6M377.0 492.7h.6M382.9 490.8h.6M391.2 491.5h.6M396.4 486.3h.6M377.1 498.3h.6M375.0 494.2h.6M379.1 489.6h.6M387.2 487.2h.6M381.3 504.5h.6M385.0 497.6h.6M395.1 483.1h.6M388.2 482.7h.6M392.7 485.1h.6M384.3 499.2h.6M391.8 486.6h.6M386.8 494.3h.6M386.0 499.1h.6M385.6 493.2h.6M395.3 480.8h.6M395.8 486.2h.6M381.8 495.1h.6M390.2 476.9h.6M384.2 485.2h.6M384.4 500.0h.6M388.0 488.0h.6M379.7 498.7h.6M396.7 483.7h.6M393.1 487.8h.6M382.6 496.7h.6M388.3 497.5h.6M370.6 508.1h.6M393.9 493.3h.6M390.6 487.7h.6M394.5 484.9h.6M392.3 486.2h.6M388.3 487.9h.6M384.7 495.8h.6M387.5 490.3h.6M380.9 497.8h.6M392.9 494.8h.6M380.1 488.1h.6M386.3 485.7h.6M393.0 488.5h.6M388.7 480.6h.6M396.7 474.9h.6M388.5 496.3h.6M385.8 489.7h.6M385.1 495.9h.6M386.9 496.2h.6M385.5 491.9h.6M392.2 486.5h.6M389.8 489.7h.6M391.7 482.6h.6M385.2 487.0h.6M377.7 495.9h.6M396.1 490.6h.6M386.9 495.4h.6M385.6 490.4h.6M383.1 500.4h.6M389.9 484.5h.6M381.7 487.1h.6M388.8 484.5h.6M397.6 486.9h.6M392.4 481.9h.6M381.3 495.8h.6M393.4 499.2h.6M383.2 489.2h.6M392.3 485.7h.6M375.7 496.4h.6M392.0 481.7h.6M382.9 479.3h.6M381.9 500.7h.6M381.3 489.1h.6M382.1 489.2h.6M382.5 496.7h.6M386.9 487.5h.6M391.0 477.6h.6M380.3 490.6h.6M388.3 493.9h.6M383.4 499.3h.6M394.5 479.3h.6M391.6 482.2h.6M384.0 492.5h.6M379.5 506.4h.6M384.2 493.4h.6M384.8 497.2h.6M394.2 482.6h.6M398.7 486.7h.6M388.6 487.5h.6M386.0 494.3h.6M388.1 491.1h.6M382.7 495.3h.6M398.2 489.3h.6M396.0 485.9h.6M379.1 502.4h.6M384.5 498.6h.6M392.2 493.8h.6M392.5 487.2h.6M379.8 494.3h.6M383.7 493.8h.6M377.0 497.6h.6M385.8 488.0h.6M390.7 489.5h.6M382.0 486.8h.6M394.9 472.4h.6M385.2 486.6h.6M393.2 488.4h.6M389.5 491.1h.6M383.3 497.3h.6M388.2 503.6h.6M385.3 495.2h.6M396.6 483.8h.6M392.2 493.7h.6M394.1 483.1h.6M388.0 491.7h.6M389.3 498.9h.6M380.8 481.6h.6M390.2 485.5h.6M374.1 503.9h.6M379.5 497.0h.6M390.3 491.3h.6M396.7 487.6h.6M385.9 476.1h.6M377.1 501.9h.6M387.6 490.5h.6M394.4 491.5h.6M399.5 480.7h.6M389.4 493.0h.6M386.2 496.2h.6M380.8 487.3h.6M374.1 496.1h.6M389.5 491.0h.6M377.3 491.3h.6M381.0 498.9h.6M397.2 471.7h.6M385.0 485.3h.6M390.4 489.8h.6M389.1 500.3h.6M383.1 496.3h.6M388.7 488.0h.6M386.3 507.6h.6M380.2 498.9h.6M388.1 491.8h.6M373.1 498.7h.6M395.3 486.9h.6M387.1 491.1h.6M382.3 490.7h.6M392.7 490.5h.6M392.8 489.6h.6M374.7 497.8h.6M391.4 492.7h.6M396.6 493.6h.6M387.0 489.2h.6M396.0 481.0h.6M397.9 473.5h.6M386.2 493.9h.6M390.7 498.0h.6M397.1 474.4h.6M373.0 500.0h.6M385.2 497.3h.6M386.8 490.1h.6M382.8 484.9h.6M398.7 480.8h.6M388.8 490.4h.6M386.0 486.4h.6M382.4 503.9h.6M379.9 499.1h.6M389.4 477.3h.6M381.0 492.6h.6M397.0 479.7h.6M382.7 500.7h.6M380.0 482.8h.6M394.9 488.3h.6M398.2 490.6h.6M387.2 492.9h.6M379.4 490.2h.6M378.7 495.9h.6M385.4 488.6h.6M389.5 483.2h.6M391.2 481.8h.6M381.6 495.2h.6M390.6 496.4h.6M392.6 488.4h.6M384.9 486.8h.6M392.7 495.8h.6M384.3 490.8h.6M402.4 481.4h.6M385.5 492.1h.6M392.9 490.7h.6M392.1 486.5h.6M385.5 486.8h.6M376.0 499.2h.6M383.5 485.9h.6M376.1 489.8h.6M387.4 488.1h.6M387.2 491.3h.6M380.7 491.3h.6M392.9 493.8h.6M395.7 484.1h.6M381.9 492.6h.6M392.8 489.0h.6M394.6 492.0h.6M387.2 482.7h.6M391.8 485.2h.6M385.4 496.9h.6M374.3 503.6h.6M400.8 483.8h.6M391.1 486.2h.6M393.2 479.9h.6M394.3 477.9h.6M376.0 496.0h.6M386.3 484.5h.6M373.3 504.1h.6M391.3 489.4h.6M380.4 492.6h.6M390.6 488.9h.6M396.1 483.3h.6M390.8 502.0h.6M378.0 499.0h.6M391.3 491.0h.6M393.2 483.3h.6M402.8 469.4h.6M389.7 489.2h.6M393.0 486.6h.6M395.8 490.4h.6M389.9 486.2h.6M381.8 496.8h.6M392.7 487.2h.6M382.8 490.5h.6M378.3 499.3h.6M392.4 496.2h.6M395.1 483.8h.6M398.8 489.5h.6M385.3 493.5h.6M406.4 467.4h.6M390.5 481.6h.6M394.1 485.5h.6M395.9 490.7h.6M387.0 490.4h.6M373.7 501.5h.6M390.3 494.4h.6M387.9 485.1h.6M380.9 498.7h.6" stroke="#777" stroke-width="0.6" opacity="0.45" fill="none"/>
<path d="M359.4 483.1h.6M361.4 484.0h.6M360.7 478.6h.6M361.7 485.0h.6M365.6 481.2h.6M368.0 483.3h.6M361.5 485.5h.6M363.5 485.1h.6M365.5 494.8h.6M364.5 486.8h.6M366.8 482.2h.6M364.0 488.7h.6M364.1 474.9h.6M365.8 477.7h.6M366.3 481.2h.6M364.4 482.5h.6M363.7 476.6h.6M366.1 490.5h.6M364.6 479.1h.6M361.2 485.1h.6M369.9 480.1h.6M357.7 486.5h.6M364.7 481.9h.6M364.6 488.4h.6M364.3 484.9h.6M366.9 485.3h.6M369.7 482.3h.6M368.9 484.5h.6M369.4 481.6h.6M369.4 490.3h.6M366.6 483.9h.6M360.1 477.5h.6M367.2 475.7h.6M365.2 475.7h.6M361.9 475.8h.6M367.5 488.8h.6M361.2 476.7h.6M367.5 472.4h.6M364.4 481.3h.6M364.9 476.8h.6M366.9 475.5h.6M370.7 477.4h.6M366.7 489.1h.6M367.5 486.4h.6M367.5 481.5h.6M366.8 477.5h.6M365.1 490.4h.6M363.1 473.1h.6M358.1 476.8h.6M362.0 482.9h.6M366.7 482.7h.6M364.2 489.3h.6M370.9 485.3h.6M361.8 482.7h.6M357.0 479.8h.6M367.1 474.6h.6M362.2 491.1h.6M365.8 490.5h.6M359.6 484.2h.6M364.3 485.2h.6M367.7 485.0h.6M369.6 487.4h.6M367.3 481.6h.6M363.5 481.1h.6M364.8 475.1h.6M370.9 486.4h.6M365.1 479.9h.6M358.7 488.0h.6M364.3 484.1h.6M363.2 483.6h.6M364.3 481.7h.6M366.0 487.9h.6M362.9 486.4h.6M357.7 478.9h.6M366.5 483.7h.6M366.9 475.7h.6M367.9 479.0h.6M365.6 488.9h.6M362.2 491.4h.6M367.3 474.0h.6M362.3 483.9h.6M366.4 473.0h.6M364.4 482.2h.6M367.9 479.7h.6M365.2 477.4h.6M368.1 482.1h.6M361.9 482.8h.6M363.6 480.9h.6M361.5 481.2h.6M367.0 469.1h.6M365.0 479.9h.6M364.8 482.9h.6M361.6 467.5h.6M364.0 484.3h.6M360.3 482.0h.6M364.5 480.4h.6M362.5 488.6h.6M368.1 483.5h.6M364.5 482.7h.6M366.6 475.4h.6M363.3 487.5h.6M366.0 474.3h.6M372.0 484.4h.6M363.2 480.8h.6M364.0 488.6h.6M366.4 482.5h.6M367.2 486.5h.6M374.9 481.7h.6M364.6 481.8h.6M372.2 481.2h.6M366.4 478.9h.6M365.6 487.1h.6M361.1 492.5h.6M363.9 478.5h.6M366.4 482.4h.6M365.1 483.1h.6M360.7 488.4h.6M364.1 478.9h.6M370.6 485.2h.6M360.7 475.6h.6M370.5 482.1h.6M364.3 478.4h.6M361.5 486.8h.6M365.3 479.4h.6M365.0 477.1h.6M365.1 489.5h.6M365.8 470.9h.6M368.2 485.1h.6M363.1 483.6h.6M367.8 480.2h.6M363.7 481.5h.6M362.3 480.4h.6M373.3 476.2h.6M364.5 490.7h.6M370.8 478.1h.6M363.9 489.8h.6M363.0 484.5h.6M364.0 482.2h.6M364.1 486.6h.6M365.5 475.4h.6M362.1 481.9h.6M367.1 489.5h.6M368.6 478.7h.6M368.3 489.8h.6M367.1 482.0h.6M364.2 480.9h.6M366.6 484.1h.6M364.4 483.4h.6M362.4 476.1h.6M369.1 489.2h.6M363.0 483.3h.6M360.1 485.0h.6M355.3 482.5h.6M362.2 479.4h.6M363.4 481.3h.6M369.3 481.2h.6M364.8 480.1h.6M362.5 485.4h.6M359.9 487.1h.6M368.1 486.4h.6M364.9 490.5h.6M369.2 482.4h.6M364.9 469.6h.6M367.2 476.6h.6M366.0 470.2h.6M366.2 481.4h.6M364.1 488.4h.6M363.6 479.1h.6M356.3 483.3h.6M367.9 485.2h.6M359.2 476.3h.6M366.2 478.0h.6M359.4 483.4h.6M359.0 483.3h.6M363.7 486.7h.6M370.5 484.2h.6M363.9 488.1h.6M364.4 481.6h.6M358.9 485.1h.6M361.3 488.0h.6M366.1 483.7h.6M361.9 488.9h.6M357.3 491.8h.6M363.5 487.3h.6M364.6 478.1h.6M366.5 486.1h.6M364.9 486.9h.6M360.3 484.6h.6M364.0 479.9h.6M366.4 475.5h.6M367.0 483.7h.6M367.3 479.2h.6M371.0 482.1h.6M365.8 479.7h.6M365.9 482.6h.6M365.3 482.5h.6M364.1 483.7h.6M367.8 480.9h.6M360.7 475.7h.6M366.1 490.8h.6M365.8 485.0h.6M365.9 482.9h.6M366.5 478.0h.6M366.0 479.3h.6M362.4 482.1h.6M363.2 483.5h.6M369.8 483.5h.6M359.3 494.1h.6M365.8 486.5h.6M364.8 486.2h.6M359.0 477.9h.6M366.8 481.3h.6M367.1 484.7h.6M362.6 485.1h.6M360.4 480.6h.6M368.5 480.0h.6M370.4 479.9h.6M360.3 479.6h.6M365.1 476.7h.6M368.1 488.8h.6M364.7 487.6h.6M364.6 488.2h.6M363.9 474.7h.6M363.9 487.3h.6M363.9 477.2h.6M368.7 481.2h.6M367.8 480.6h.6M367.9 489.1h.6M361.7 491.5h.6M363.1 477.5h.6M367.5 485.8h.6M362.7 480.4h.6M363.6 481.9h.6M366.1 480.1h.6M366.9 476.2h.6M367.9 474.0h.6M364.1 477.2h.6M362.6 477.8h.6M366.9 484.1h.6M361.8 474.7h.6M369.1 487.0h.6M360.4 482.6h.6M364.2 480.1h.6M366.5 485.1h.6M366.5 495.2h.6M368.8 473.3h.6M358.2 479.0h.6M362.4 489.0h.6M366.4 482.9h.6M368.2 480.0h.6M366.1 482.4h.6M368.0 485.8h.6M363.7 482.1h.6M361.8 482.7h.6M364.9 477.8h.6M363.3 488.4h.6M366.8 488.9h.6M369.9 475.3h.6M364.2 482.5h.6M375.1 489.0h.6M366.1 472.4h.6M367.7 483.4h.6M365.1 485.8h.6M369.8 491.8h.6M363.7 474.0h.6M359.1 485.5h.6M369.0 473.6h.6M362.8 483.0h.6M365.1 481.3h.6M360.7 484.2h.6M362.7 472.9h.6M362.3 477.7h.6M360.9 484.7h.6M369.1 484.8h.6M360.0 486.2h.6M360.5 481.1h.6M363.6 485.5h.6M364.4 476.4h.6M362.2 481.1h.6M368.9 480.7h.6M366.0 490.5h.6M365.4 478.6h.6M361.9 483.3h.6M365.1 490.8h.6M368.8 480.4h.6M368.9 482.0h.6M362.0 488.8h.6M365.5 479.7h.6M366.8 485.9h.6M359.1 477.7h.6M360.8 486.1h.6M363.6 479.9h.6M364.5 491.4h.6M367.8 491.9h.6M368.2 485.4h.6M364.5 489.0h.6M362.3 485.8h.6M361.6 490.1h.6M369.1 478.1h.6M362.5 482.7h.6M357.8 475.8h.6M364.9 478.7h.6M359.1 480.6h.6M363.4 487.0h.6M362.2 479.6h.6M367.6 488.3h.6M361.8 477.9h.6M363.5 484.6h.6M364.6 474.2h.6M373.5 474.9h.6M361.9 479.6h.6M364.8 491.1h.6M360.4 476.1h.6M363.2 477.8h.6M363.7 479.5h.6M361.2 483.3h.6M362.2 480.6h.6M367.4 481.1h.6M360.7 488.5h.6M365.0 477.7h.6M366.2 479.6h.6M366.6 486.7h.6M366.1 488.5h.6M363.6 478.9h.6M359.8 476.5h.6M365.0 483.8h.6M365.1 481.7h.6M368.1 481.6h.6M368.8 483.0h.6M371.9 480.9h.6M360.8 488.2h.6M362.6 493.4h.6M369.2 482.9h.6M361.9 486.7h.6M364.6 477.9h.6M368.1 480.5h.6M365.9 481.0h.6M368.5 483.8h.6M364.2 478.5h.6M364.6 488.3h.6M368.3 483.3h.6M363.2 479.5h.6M364.4 480.8h.6M365.7 487.6h.6M365.8 477.7h.6M366.0 472.1h.6M364.6 479.0h.6M355.1 480.6h.6M364.0 477.2h.6M359.4 479.4h.6M361.8 478.9h.6M363.6 483.1h.6M359.6 493.6h.6M363.5 477.3h.6M369.1 488.3h.6M361.9 487.1h.6M362.4 482.5h.6M362.5 482.8h.6M365.2 477.6h.6M365.6 474.1h.6M365.8 485.5h.6M367.9 473.6h.6M363.1 476.1h.6M365.0 491.2h.6M368.5 484.7h.6M367.1 476.5h.6M365.5 485.9h.6M364.2 471.6h.6M363.3 476.9h.6M367.2 478.7h.6M370.6 478.6h.6M368.9 476.1h.6M368.5 486.7h.6M364.1 484.6h.6M362.5 486.7h.6M369.8 480.6h.6M363.6 474.9h.6M361.5 485.1h.6M366.5 479.9h.6M365.0 489.4h.6M365.9 483.3h.6M365.8 485.1h.6M363.4 491.7h.6M360.1 481.8h.6M366.2 481.4h.6M364.0 488.1h.6M365.0 485.7h.6M368.9 479.7h.6M360.1 478.1h.6M365.5 486.9h.6M360.3 479.5h.6M365.6 482.4h.6M368.0 483.7h.6M361.3 484.0h.6M367.0 492.9h.6M364.1 486.6h.6M362.9 484.9h.6M365.4 481.2h.6M369.5 477.6h.6M363.7 476.1h.6M362.4 489.7h.6M369.2 479.9h.6M362.1 475.8h.6M367.4 489.7h.6M370.4 495.7h.6M366.8 482.6h.6M359.0 485.1h.6M366.8 470.1h.6M359.9 485.8h.6M360.5 480.2h.6M363.3 477.5h.6M364.2 483.2h.6M367.4 486.4h.6M366.3 486.5h.6M364.7 478.5h.6M368.8 485.9h.6M368.7 482.7h.6M363.6 480.7h.6M367.2 487.6h.6M363.4 485.2h.6" stroke="#888" stroke-width="0.6" opacity="0.45" fill="none"/>
<path d="M364.6 504.2h.6M369.1 481.3h.6M366.3 478.6h.6M368.4 487.2h.6M363.5 484.9h.6M368.2 485.0h.6M368.0 484.1h.6M364.5 477.9h.6M366.4 495.4h.6M372.7 490.5h.6M367.3 488.6h.6M361.9 489.7h.6M375.8 488.6h.6M365.5 501.3h.6M360.3 492.7h.6M366.0 495.7h.6M361.8 500.8h.6M361.6 489.7h.6M360.1 499.4h.6M362.5 494.0h.6M371.4 492.3h.6M359.8 481.8h.6M366.4 490.2h.6M367.6 481.8h.6M365.5 492.5h.6M368.1 501.1h.6M365.1 495.4h.6M363.3 485.2h.6M365.7 478.8h.6M367.2 489.2h.6M363.5 489.9h.6M362.1 495.9h.6M363.9 490.9h.6M363.3 494.8h.6M366.6 481.5h.6M362.5 495.9h.6M363.2 479.3h.6M367.8 486.2h.6M367.8 476.5h.6M365.1 488.9h.6M368.9 475.8h.6M367.3 489.3h.6M357.3 489.2h.6M362.4 492.2h.6M360.4 476.9h.6M367.6 498.1h.6M366.2 488.6h.6M362.2 489.8h.6M368.0 491.9h.6M366.1 487.1h.6M367.5 493.7h.6M368.3 485.6h.6M363.3 491.6h.6M356.7 491.5h.6M359.8 495.0h.6M362.4 489.8h.6M362.6 495.7h.6M367.4 480.4h.6M365.4 494.6h.6M365.5 485.6h.6M364.4 494.3h.6M364.8 488.6h.6M359.9 478.2h.6M362.1 493.6h.6M367.8 498.5h.6M370.4 486.7h.6M366.9 492.7h.6M366.9 489.2h.6M363.3 478.9h.6M368.9 493.5h.6M359.8 497.4h.6M369.8 498.3h.6M370.7 465.0h.6M364.3 495.1h.6M357.3 490.2h.6M363.2 484.6h.6M364.3 500.3h.6M364.8 500.5h.6M365.2 505.2h.6M361.3 485.8h.6M370.0 491.2h.6M365.5 500.9h.6M361.9 493.4h.6M367.5 490.4h.6M362.0 491.6h.6M367.4 484.6h.6M368.8 485.8h.6M365.3 482.6h.6M362.4 483.6h.6M364.4 484.9h.6M365.0 495.6h.6M362.2 483.6h.6M368.4 496.6h.6M366.0 491.3h.6M363.9 494.0h.6M367.7 485.8h.6M358.0 490.5h.6M361.5 483.9h.6M371.5 487.2h.6M357.3 491.5h.6M360.1 495.4h.6M357.8 494.2h.6M369.1 489.7h.6M361.3 484.0h.6M368.4 491.5h.6M364.5 490.8h.6M367.1 480.9h.6M371.7 488.9h.6M371.1 490.9h.6M364.7 481.8h.6M363.8 483.9h.6M369.3 499.2h.6M365.1 481.2h.6M369.5 485.3h.6M366.6 485.3h.6M364.3 487.0h.6M362.8 479.4h.6M361.4 488.1h.6M365.9 495.4h.6M363.0 496.5h.6M369.5 496.4h.6M362.3 490.0h.6M365.3 487.2h.6M361.4 491.3h.6M366.5 505.3h.6M367.3 498.2h.6M366.9 482.7h.6M367.7 487.9h.6M369.3 493.7h.6M367.3 492.8h.6M362.2 482.7h.6M366.4 500.6h.6M369.4 486.5h.6M367.3 502.3h.6M365.5 500.3h.6M362.6 491.7h.6M375.9 483.8h.6M360.8 493.9h.6M360.1 481.6h.6M367.0 496.3h.6M367.3 493.6h.6M360.7 491.8h.6M361.0 487.8h.6M371.7 497.1h.6M374.6 479.0h.6M365.7 481.8h.6M364.0 500.9h.6M362.0 483.5h.6M363.3 490.9h.6M368.8 481.0h.6" stroke="#aaa" stroke-width="0.6" opacity="0.4" fill="none"/>
<path d="M353.6 506.8h.6M374.6 501.8h.6M369.9 503.4h.6M366.0 504.5h.6M362.6 499.2h.6M359.6 503.7h.6M372.3 504.0h.6M359.6 501.1h.6M358.8 505.0h.6M367.0 500.6h.6M368.6 502.8h.6M361.9 503.2h.6M367.6 501.5h.6M367.7 498.7h.6M364.1 498.1h.6M370.5 504.2h.6M367.6 501.5h.6M367.7 500.8h.6M363.1 499.6h.6M356.1 498.7h.6M368.8 502.9h.6M365.6 500.4h.6M355.7 502.0h.6M366.1 502.2h.6M362.8 500.1h.6M368.8 501.9h.6M369.2 502.1h.6M361.7 501.2h.6M369.8 503.1h.6M365.4 501.4h.6M362.6 502.0h.6M360.9 501.9h.6M361.7 500.8h.6M365.1 503.2h.6M365.2 501.0h.6M366.2 502.1h.6M358.1 501.5h.6M371.9 499.9h.6M368.6 501.0h.6M365.9 501.1h.6M358.3 504.8h.6M370.5 504.0h.6M374.1 503.8h.6M350.9 501.4h.6M365.3 504.9h.6M366.8 501.7h.6M365.1 499.8h.6M364.9 505.5h.6M359.9 499.2h.6M374.2 500.4h.6M368.2 500.8h.6M362.0 503.8h.6M371.5 502.9h.6M369.5 499.6h.6M362.3 502.3h.6M364.7 501.8h.6M363.7 497.8h.6M374.1 501.3h.6M364.0 503.3h.6M364.9 504.3h.6M367.8 502.7h.6M362.6 502.2h.6M362.4 501.3h.6M363.9 501.4h.6M354.4 500.9h.6M366.6 499.2h.6M365.7 503.7h.6M355.6 500.4h.6M361.5 500.5h.6M368.0 503.6h.6M358.1 500.1h.6M361.4 503.0h.6M360.2 504.0h.6M365.0 501.9h.6M362.6 499.0h.6M364.6 502.2h.6M366.4 499.4h.6M364.7 502.7h.6M369.3 502.0h.6M358.8 503.9h.6M367.4 499.9h.6M370.0 502.6h.6M364.3 503.9h.6M366.5 500.0h.6M358.9 500.1h.6M364.4 501.6h.6M364.7 501.8h.6M372.7 500.6h.6M358.5 501.0h.6M370.5 500.8h.6M364.7 502.1h.6M360.4 501.9h.6M366.5 501.8h.6M364.9 500.4h.6M362.6 499.3h.6M364.3 500.7h.6M356.3 499.0h.6M356.9 505.8h.6M356.2 503.8h.6M362.8 499.2h.6M370.3 500.4h.6M357.5 501.0h.6M356.4 501.3h.6M368.1 502.6h.6M363.0 500.0h.6M358.6 502.4h.6M371.9 501.3h.6M364.7 503.4h.6M358.3 500.9h.6M358.5 502.4h.6M362.7 501.5h.6M360.3 501.7h.6M364.1 499.9h.6M353.6 504.8h.6M355.6 499.8h.6M367.1 502.1h.6M363.4 503.5h.6M363.3 503.0h.6M360.9 503.6h.6M362.7 501.2h.6M365.5 501.0h.6M362.6 504.8h.6M367.6 500.5h.6M363.2 504.9h.6M362.9 503.5h.6M360.9 503.0h.6M360.1 501.7h.6M352.7 499.3h.6M361.9 502.2h.6M355.3 500.8h.6M370.6 504.2h.6M371.4 500.8h.6M364.3 504.6h.6M366.8 501.7h.6M365.0 501.4h.6M364.4 500.5h.6M362.7 501.2h.6M364.8 501.5h.6M356.7 502.0h.6M355.9 502.2h.6M370.2 502.3h.6M372.2 502.8h.6M360.5 502.9h.6M359.2 500.1h.6M364.4 502.0h.6M366.3 500.8h.6M355.4 504.8h.6M364.2 499.5h.6M369.0 503.1h.6M359.2 501.0h.6M364.1 500.6h.6M359.0 499.9h.6M361.9 502.7h.6M362.2 504.0h.6M361.2 498.3h.6M364.7 500.5h.6M362.9 502.5h.6M364.6 500.7h.6M366.5 501.5h.6M359.4 503.8h.6M367.0 499.3h.6M359.0 500.1h.6M366.2 503.7h.6M362.1 500.1h.6M364.4 504.5h.6M360.7 502.4h.6M368.9 503.4h.6M363.6 500.4h.6M357.4 503.6h.6M365.2 502.7h.6M359.4 501.6h.6M364.3 501.9h.6M360.3 500.4h.6M372.8 501.0h.6M362.8 503.2h.6M366.8 502.1h.6M366.1 503.9h.6M365.5 504.8h.6M362.0 502.6h.6M361.9 501.8h.6M369.6 501.5h.6M360.0 502.2h.6M360.6 500.1h.6M363.8 501.6h.6M369.5 502.8h.6M374.0 503.9h.6M368.5 502.4h.6M369.8 503.2h.6M369.3 502.5h.6M362.2 501.9h.6M362.8 502.9h.6M365.2 502.4h.6M362.4 504.1h.6M363.9 502.2h.6M364.4 504.2h.6M360.9 501.7h.6M360.6 502.9h.6M364.3 499.4h.6M362.5 501.6h.6M364.6 502.7h.6M362.6 504.0h.6M370.5 499.5h.6M358.6 502.7h.6M363.8 502.0h.6M364.6 502.7h.6M368.4 504.7h.6M365.0 502.9h.6M361.3 505.5h.6M359.1 503.9h.6M366.7 503.9h.6M355.2 503.3h.6M364.7 501.9h.6M367.4 500.5h.6M366.8 501.2h.6M366.5 503.2h.6M365.3 503.1h.6M360.0 500.2h.6M361.1 501.9h.6M368.0 502.3h.6M357.9 500.4h.6M370.7 503.5h.6M364.9 504.7h.6M369.8 502.5h.6M361.7 501.4h.6M359.3 503.8h.6M360.9 502.3h.6M357.3 502.7h.6M361.3 502.4h.6M370.6 501.1h.6M362.1 501.1h.6M366.3 503.2h.6M367.0 499.9h.6M359.9 500.8h.6M366.7 502.0h.6M365.9 498.9h.6M356.6 504.3h.6M364.1 502.5h.6M364.0 499.6h.6M356.9 500.5h.6M370.7 503.6h.6M360.6 500.7h.6M359.4 504.5h.6M370.0 502.2h.6M363.7 501.4h.6M369.9 501.5h.6M359.2 502.2h.6M358.4 502.8h.6M362.6 503.1h.6M372.1 502.8h.6M366.7 501.8h.6M361.0 502.7h.6M363.8 501.7h.6M358.4 499.8h.6M355.1 503.0h.6M354.1 503.5h.6M364.0 502.0h.6M368.2 503.1h.6M360.2 501.9h.6M370.8 501.3h.6M364.6 502.7h.6M359.2 499.9h.6M363.9 499.4h.6M366.4 503.1h.6M366.8 502.7h.6M360.8 501.3h.6M365.6 502.9h.6M363.5 501.0h.6M371.3 502.7h.6M369.2 502.6h.6M371.2 500.9h.6M357.7 502.9h.6M365.3 501.1h.6M366.3 500.4h.6M361.0 501.6h.6M368.8 500.7h.6M367.3 501.6h.6M362.1 501.6h.6M358.2 499.7h.6M361.3 503.0h.6M359.8 502.6h.6M365.2 500.7h.6M368.3 503.7h.6M357.7 502.4h.6M369.8 502.7h.6M361.2 500.9h.6M366.7 504.8h.6M360.5 501.5h.6M369.2 500.2h.6M367.1 501.0h.6M357.5 501.5h.6M372.6 502.8h.6M366.2 504.7h.6M365.4 500.5h.6M373.0 502.0h.6M368.1 501.9h.6M370.2 503.6h.6M361.7 505.1h.6M360.5 500.7h.6M366.5 503.8h.6M362.1 501.9h.6M358.3 501.4h.6M368.9 501.3h.6M367.1 501.2h.6M367.3 501.2h.6M358.3 501.4h.6M360.0 501.3h.6M363.5 502.8h.6M363.8 500.2h.6M361.7 501.3h.6M365.2 504.7h.6M364.7 503.9h.6M367.0 501.4h.6M366.4 500.0h.6M367.8 502.5h.6M370.8 500.5h.6M368.7 502.3h.6M356.5 503.4h.6M373.3 502.1h.6M361.1 504.1h.6M361.3 501.8h.6M357.2 500.9h.6M365.4 500.8h.6M363.5 503.8h.6M358.8 502.2h.6M363.6 502.6h.6M361.2 505.6h.6M364.3 500.7h.6M360.3 502.2h.6M354.6 502.7h.6M369.6 501.2h.6M371.0 502.6h.6M370.6 502.9h.6M364.7 502.7h.6M364.3 500.7h.6M369.6 501.9h.6M369.3 501.1h.6M366.4 503.1h.6M365.4 502.2h.6M369.4 504.0h.6M361.5 504.0h.6M369.7 501.9h.6M364.6 501.6h.6M369.4 501.6h.6M356.0 499.2h.6M362.9 502.2h.6M368.5 502.8h.6M364.6 500.5h.6M366.1 502.3h.6M367.1 501.2h.6M361.4 501.0h.6M362.1 503.4h.6M365.9 499.5h.6M372.2 503.9h.6M369.5 504.7h.6M371.8 503.5h.6M369.5 502.5h.6M367.5 504.2h.6M361.1 499.9h.6M361.7 504.3h.6M369.6 503.9h.6M363.8 502.4h.6M372.1 506.7h.6M370.1 502.8h.6M368.8 499.7h.6M357.9 500.3h.6M360.3 500.9h.6M363.6 500.7h.6M365.7 502.4h.6M359.8 501.9h.6M360.3 501.0h.6M354.8 504.0h.6M363.3 501.6h.6M358.4 501.7h.6M366.5 502.6h.6M364.6 502.0h.6M364.4 502.0h.6M361.7 500.3h.6M366.2 501.1h.6M359.9 502.3h.6M367.3 503.4h.6M362.7 500.9h.6M376.6 500.2h.6M367.9 502.2h.6M368.2 500.5h.6M370.9 500.5h.6M359.5 503.8h.6M363.0 498.8h.6M372.0 501.4h.6M364.3 497.9h.6M372.1 500.9h.6M359.3 501.6h.6M367.3 502.1h.6M359.1 504.7h.6M370.4 501.7h.6M368.6 503.2h.6M368.8 500.0h.6M360.6 504.5h.6M366.0 505.9h.6M368.0 502.2h.6M360.5 500.4h.6M366.5 501.4h.6M356.2 502.4h.6M368.4 503.4h.6M356.9 501.7h.6M369.0 503.3h.6M361.8 503.6h.6M372.7 503.3h.6M375.1 500.5h.6M361.5 502.6h.6M358.0 499.7h.6M364.7 499.3h.6M366.7 504.2h.6M367.0 499.8h.6M359.6 500.3h.6M365.1 501.4h.6M354.0 501.6h.6M358.9 501.4h.6M364.1 500.0h.6M373.5 497.7h.6M362.3 503.3h.6M372.3 505.2h.6M358.7 500.3h.6M359.4 501.8h.6M359.5 500.4h.6M361.0 502.6h.6M368.7 500.0h.6M358.8 501.4h.6M364.8 499.0h.6M363.7 500.8h.6M366.6 501.8h.6M359.6 501.8h.6M371.2 502.0h.6M364.3 501.5h.6M365.1 502.9h.6M369.0 501.9h.6M369.0 502.0h.6M368.0 500.3h.6M374.5 502.2h.6M368.4 502.9h.6M376.9 501.5h.6M362.6 502.8h.6M368.9 502.7h.6M368.3 501.3h.6M368.8 501.3h.6M365.5 502.9h.6M368.1 502.1h.6M370.0 503.5h.6M368.3 504.1h.6M352.6 501.4h.6M372.2 502.7h.6M357.7 502.1h.6M361.8 501.9h.6M368.7 503.8h.6M357.1 500.3h.6M369.9 501.9h.6M359.1 503.9h.6M362.2 503.6h.6M362.4 502.9h.6M361.5 502.7h.6M362.8 500.0h.6M362.6 500.9h.6M363.9 498.7h.6M364.1 502.1h.6M364.8 503.4h.6M358.9 500.1h.6M364.5 499.9h.6M362.1 502.0h.6M365.8 501.5h.6M360.6 501.9h.6M373.9 503.4h.6M363.3 504.0h.6M366.9 503.2h.6M369.8 502.8h.6M366.9 501.7h.6M365.8 507.3h.6M370.4 500.6h.6M365.0 501.6h.6M370.0 503.1h.6M368.4 499.8h.6M370.5 502.5h.6M362.2 501.0h.6M368.0 503.4h.6M365.6 500.2h.6M355.2 501.4h.6M364.4 502.7h.6M367.8 501.3h.6M353.5 501.9h.6M365.2 502.1h.6M347.9 499.8h.6M366.3 504.2h.6M365.4 502.7h.6M358.3 503.8h.6M368.4 502.6h.6M366.9 500.8h.6M367.8 502.2h.6M360.1 499.8h.6M364.0 499.8h.6M368.1 502.2h.6M359.9 502.2h.6M368.9 504.1h.6" stroke="#666" stroke-width="0.6" opacity="0.5" fill="none"/>
<g filter="url(#b1)">
<ellipse cx="364" cy="502" rx="5.2" ry="1.5" fill="#808080" opacity="0.9"/>
<ellipse cx="364.8" cy="482.2" rx="2.3" ry="2.8" fill="#c0c0c0" opacity="0.5"/>
<ellipse cx="387.6" cy="490.6" rx="11.5" ry="6.2" fill="#6f6a80" opacity="0.95" transform="rotate(-52 387.6 490.6)"/>
</g><g filter="url(#b2)">
<ellipse cx="387.3" cy="491.2" rx="8.8" ry="4.9" fill="#76509c" opacity="1" transform="rotate(-52 387.3 491.2)"/>
<ellipse cx="386.9" cy="492.1" rx="4.5" ry="2.8" fill="#5aa070" opacity="0.95" transform="rotate(-58 386.9 492.1)"/>
<ellipse cx="386.8" cy="492.3" rx="3.2" ry="1.9" fill="#28c0d8" opacity="1" transform="rotate(-60 386.8 492.3)"/>
<ellipse cx="386.8" cy="492.4" rx="1.5" ry="1.1" fill="#e3202a" opacity="1" transform="rotate(-60 386.8 492.4)"/>
</g>
<rect x="375.60" y="455.00" width="24.30" height="49.20" fill="none" stroke="#444" stroke-width="0.5"/>
<rect x="345.80" y="455.00" width="66.70" height="66.00" fill="none" stroke="#3a3a3a" stroke-width="0.7"/>
<line x1="345.80" y1="455.00" x2="345.80" y2="521.40" stroke="#231f20" stroke-width="0.9"/>
<line x1="345.40" y1="521.00" x2="412.50" y2="521.00" stroke="#231f20" stroke-width="0.9"/>
<line x1="344.90" y1="521.00" x2="345.80" y2="521.00" stroke="#231f20" stroke-width="0.4"/>
<line x1="345.80" y1="521.00" x2="345.80" y2="521.90" stroke="#231f20" stroke-width="0.4"/>
<line x1="344.90" y1="518.46" x2="345.80" y2="518.46" stroke="#231f20" stroke-width="0.4"/>
<line x1="348.37" y1="521.00" x2="348.37" y2="521.90" stroke="#231f20" stroke-width="0.4"/>
<line x1="344.90" y1="515.92" x2="345.80" y2="515.92" stroke="#231f20" stroke-width="0.4"/>
<line x1="350.93" y1="521.00" x2="350.93" y2="521.90" stroke="#231f20" stroke-width="0.4"/>
<line x1="344.90" y1="513.38" x2="345.80" y2="513.38" stroke="#231f20" stroke-width="0.4"/>
<line x1="353.50" y1="521.00" x2="353.50" y2="521.90" stroke="#231f20" stroke-width="0.4"/>
<line x1="344.90" y1="510.85" x2="345.80" y2="510.85" stroke="#231f20" stroke-width="0.4"/>
<line x1="356.06" y1="521.00" x2="356.06" y2="521.90" stroke="#231f20" stroke-width="0.4"/>
<line x1="344.90" y1="508.31" x2="345.80" y2="508.31" stroke="#231f20" stroke-width="0.4"/>
<line x1="358.63" y1="521.00" x2="358.63" y2="521.90" stroke="#231f20" stroke-width="0.4"/>
<line x1="344.90" y1="505.77" x2="345.80" y2="505.77" stroke="#231f20" stroke-width="0.4"/>
<line x1="361.19" y1="521.00" x2="361.19" y2="521.90" stroke="#231f20" stroke-width="0.4"/>
<line x1="344.90" y1="503.23" x2="345.80" y2="503.23" stroke="#231f20" stroke-width="0.4"/>
<line x1="363.76" y1="521.00" x2="363.76" y2="521.90" stroke="#231f20" stroke-width="0.4"/>
<line x1="344.90" y1="500.69" x2="345.80" y2="500.69" stroke="#231f20" stroke-width="0.4"/>
<line x1="366.32" y1="521.00" x2="366.32" y2="521.90" stroke="#231f20" stroke-width="0.4"/>
<line x1="344.90" y1="498.15" x2="345.80" y2="498.15" stroke="#231f20" stroke-width="0.4"/>
<line x1="368.89" y1="521.00" x2="368.89" y2="521.90" stroke="#231f20" stroke-width="0.4"/>
<line x1="344.90" y1="495.62" x2="345.80" y2="495.62" stroke="#231f20" stroke-width="0.4"/>
<line x1="371.45" y1="521.00" x2="371.45" y2="521.90" stroke="#231f20" stroke-width="0.4"/>
<line x1="344.90" y1="493.08" x2="345.80" y2="493.08" stroke="#231f20" stroke-width="0.4"/>
<line x1="374.02" y1="521.00" x2="374.02" y2="521.90" stroke="#231f20" stroke-width="0.4"/>
<line x1="344.90" y1="490.54" x2="345.80" y2="490.54" stroke="#231f20" stroke-width="0.4"/>
<line x1="376.58" y1="521.00" x2="376.58" y2="521.90" stroke="#231f20" stroke-width="0.4"/>
<line x1="344.90" y1="488.00" x2="345.80" y2="488.00" stroke="#231f20" stroke-width="0.4"/>
<line x1="379.15" y1="521.00" x2="379.15" y2="521.90" stroke="#231f20" stroke-width="0.4"/>
<line x1="344.90" y1="485.46" x2="345.80" y2="485.46" stroke="#231f20" stroke-width="0.4"/>
<line x1="381.72" y1="521.00" x2="381.72" y2="521.90" stroke="#231f20" stroke-width="0.4"/>
<line x1="344.90" y1="482.92" x2="345.80" y2="482.92" stroke="#231f20" stroke-width="0.4"/>
<line x1="384.28" y1="521.00" x2="384.28" y2="521.90" stroke="#231f20" stroke-width="0.4"/>
<line x1="344.90" y1="480.38" x2="345.80" y2="480.38" stroke="#231f20" stroke-width="0.4"/>
<line x1="386.85" y1="521.00" x2="386.85" y2="521.90" stroke="#231f20" stroke-width="0.4"/>
<line x1="344.90" y1="477.85" x2="345.80" y2="477.85" stroke="#231f20" stroke-width="0.4"/>
<line x1="389.41" y1="521.00" x2="389.41" y2="521.90" stroke="#231f20" stroke-width="0.4"/>
<line x1="344.90" y1="475.31" x2="345.80" y2="475.31" stroke="#231f20" stroke-width="0.4"/>
<line x1="391.98" y1="521.00" x2="391.98" y2="521.90" stroke="#231f20" stroke-width="0.4"/>
<line x1="344.90" y1="472.77" x2="345.80" y2="472.77" stroke="#231f20" stroke-width="0.4"/>
<line x1="394.54" y1="521.00" x2="394.54" y2="521.90" stroke="#231f20" stroke-width="0.4"/>
<line x1="344.90" y1="470.23" x2="345.80" y2="470.23" stroke="#231f20" stroke-width="0.4"/>
<line x1="397.11" y1="521.00" x2="397.11" y2="521.90" stroke="#231f20" stroke-width="0.4"/>
<line x1="344.90" y1="467.69" x2="345.80" y2="467.69" stroke="#231f20" stroke-width="0.4"/>
<line x1="399.67" y1="521.00" x2="399.67" y2="521.90" stroke="#231f20" stroke-width="0.4"/>
<line x1="344.90" y1="465.15" x2="345.80" y2="465.15" stroke="#231f20" stroke-width="0.4"/>
<line x1="402.24" y1="521.00" x2="402.24" y2="521.90" stroke="#231f20" stroke-width="0.4"/>
<line x1="344.90" y1="462.62" x2="345.80" y2="462.62" stroke="#231f20" stroke-width="0.4"/>
<line x1="404.80" y1="521.00" x2="404.80" y2="521.90" stroke="#231f20" stroke-width="0.4"/>
<line x1="344.90" y1="460.08" x2="345.80" y2="460.08" stroke="#231f20" stroke-width="0.4"/>
<line x1="407.37" y1="521.00" x2="407.37" y2="521.90" stroke="#231f20" stroke-width="0.4"/>
<line x1="344.90" y1="457.54" x2="345.80" y2="457.54" stroke="#231f20" stroke-width="0.4"/>
<line x1="409.93" y1="521.00" x2="409.93" y2="521.90" stroke="#231f20" stroke-width="0.4"/>
<line x1="344.90" y1="455.00" x2="345.80" y2="455.00" stroke="#231f20" stroke-width="0.4"/>
<line x1="412.50" y1="521.00" x2="412.50" y2="521.90" stroke="#231f20" stroke-width="0.4"/>
<line x1="344.00" y1="455.80" x2="345.80" y2="455.80" stroke="#231f20" stroke-width="0.6"/>
<text transform="translate(343.40,458.20)" font-size="5" text-anchor="end" fill="#231f20">10<tspan font-size="3.2" dy="-2.2">3</tspan></text>
<line x1="344.00" y1="470.00" x2="345.80" y2="470.00" stroke="#231f20" stroke-width="0.6"/>
<text transform="translate(343.40,472.40)" font-size="5" text-anchor="end" fill="#231f20">10<tspan font-size="3.2" dy="-2.2">2</tspan></text>
<line x1="344.00" y1="490.00" x2="345.80" y2="490.00" stroke="#231f20" stroke-width="0.6"/>
<text transform="translate(342.60,491.90)" font-size="5.3" text-anchor="end" fill="#231f20">10</text>
<line x1="344.00" y1="503.80" x2="345.80" y2="503.80" stroke="#231f20" stroke-width="0.6"/>
<text transform="translate(342.60,505.70)" font-size="5.3" text-anchor="end" fill="#231f20">0</text>
<line x1="344.00" y1="517.00" x2="345.80" y2="517.00" stroke="#231f20" stroke-width="0.6"/>
<text transform="translate(342.60,518.90)" font-size="5.3" text-anchor="end" fill="#231f20">-10</text>
<line x1="362.00" y1="521.00" x2="362.00" y2="522.80" stroke="#231f20" stroke-width="0.6"/>
<text transform="translate(361.50,529.00)" font-size="5" text-anchor="middle" fill="#231f20">10<tspan font-size="3.2" dy="-2.2">0</tspan></text>
<line x1="379.30" y1="521.00" x2="379.30" y2="522.80" stroke="#231f20" stroke-width="0.6"/>
<text transform="translate(378.80,529.00)" font-size="5" text-anchor="middle" fill="#231f20">10<tspan font-size="3.2" dy="-2.2">1</tspan></text>
<line x1="395.80" y1="521.00" x2="395.80" y2="522.80" stroke="#231f20" stroke-width="0.6"/>
<text transform="translate(395.30,529.00)" font-size="5" text-anchor="middle" fill="#231f20">10<tspan font-size="3.2" dy="-2.2">2</tspan></text>
<line x1="412.50" y1="521.00" x2="412.50" y2="522.80" stroke="#231f20" stroke-width="0.6"/>
<text transform="translate(412.00,529.00)" font-size="5" text-anchor="middle" fill="#231f20">10<tspan font-size="3.2" dy="-2.2">3</tspan></text>
<text transform="translate(379.30,451.20)" font-size="5.3" text-anchor="middle" fill="#333" textLength="50" lengthAdjust="spacingAndGlyphs">[CD45+] CD19/CD5</text>
<text transform="translate(389.50,460.60)" font-size="4.9" text-anchor="middle" fill="#333">CD19+</text>
<text transform="translate(331.00,488.00) rotate(-90) scale(0.64,1)" font-size="8.6" text-anchor="middle" fill="#231f20">CD5</text>
<text transform="translate(379.30,541.20) scale(0.64,1)" font-size="8.6" text-anchor="middle" fill="#231f20">CD19</text>
<path d="M448.4 485.1h.6M453.6 490.4h.6M468.0 487.7h.6M472.6 488.0h.6M465.6 492.7h.6M465.0 494.1h.6M465.7 490.8h.6M469.1 495.1h.6M459.5 487.8h.6M465.9 494.0h.6M466.4 495.9h.6M464.4 485.3h.6M465.2 488.7h.6M458.0 487.0h.6M460.8 500.0h.6M479.7 488.6h.6M470.8 495.8h.6M463.3 491.7h.6M466.3 493.4h.6M460.4 487.5h.6M471.2 480.6h.6M484.5 492.9h.6M467.8 486.7h.6M477.3 493.4h.6M462.5 490.9h.6M476.5 492.5h.6M470.7 490.0h.6M473.9 489.0h.6M466.5 489.5h.6M474.8 489.6h.6M471.2 480.6h.6M459.3 484.2h.6M469.6 490.6h.6M455.9 500.3h.6M459.1 485.1h.6M474.8 486.7h.6M476.3 486.0h.6M459.8 493.1h.6M469.1 480.3h.6M477.9 492.4h.6M477.5 492.6h.6M462.2 487.8h.6M459.4 494.7h.6M477.0 498.1h.6M476.5 492.6h.6M460.9 493.2h.6M461.8 482.3h.6M460.9 489.7h.6M452.8 493.2h.6M467.8 497.1h.6M462.5 482.5h.6M458.5 485.9h.6M468.9 495.6h.6M467.4 484.9h.6M463.4 487.9h.6M462.6 476.2h.6M464.8 479.3h.6M465.0 494.6h.6M462.7 492.0h.6M475.1 494.2h.6M474.9 490.1h.6M469.7 488.5h.6M458.0 490.4h.6M471.0 492.3h.6M467.1 491.7h.6M469.1 497.5h.6M460.9 489.1h.6M472.0 488.5h.6M476.4 488.5h.6M461.5 490.4h.6M468.9 489.9h.6M457.1 493.5h.6M467.7 485.3h.6M461.1 493.3h.6M477.6 485.8h.6M464.0 495.1h.6M471.9 490.9h.6M480.7 500.3h.6M478.9 495.0h.6M471.4 494.6h.6M459.6 489.8h.6M453.0 490.7h.6M459.2 483.5h.6M483.2 496.0h.6M475.3 491.4h.6M459.9 495.6h.6M463.9 488.0h.6M463.9 494.0h.6M473.8 494.0h.6M466.7 490.6h.6M462.6 488.4h.6M465.0 484.7h.6M478.5 486.2h.6M471.5 491.8h.6M465.1 492.6h.6M455.1 496.9h.6M465.9 496.6h.6M469.1 493.6h.6M462.6 498.7h.6M460.0 489.1h.6M471.9 493.6h.6M464.6 494.8h.6M463.7 490.8h.6M459.0 489.2h.6M465.0 493.4h.6M460.4 489.2h.6M469.5 498.7h.6M457.3 486.2h.6M464.4 492.4h.6M464.6 486.6h.6M456.8 489.3h.6M474.7 489.2h.6M471.1 483.7h.6M450.1 489.4h.6M481.4 487.6h.6M463.9 481.7h.6M464.8 494.7h.6M475.2 484.1h.6M458.0 479.9h.6M462.8 491.1h.6M469.0 492.1h.6M466.0 489.1h.6M462.9 486.8h.6M465.5 487.4h.6M467.1 481.4h.6M462.4 492.9h.6M471.9 485.6h.6M468.4 487.4h.6M463.3 486.0h.6M465.1 497.9h.6M461.9 490.6h.6M475.8 493.5h.6M471.8 495.3h.6M466.7 490.1h.6M458.0 483.4h.6M470.9 487.5h.6M463.6 493.5h.6M473.5 496.5h.6M461.7 486.7h.6M476.4 482.9h.6M465.6 492.4h.6M470.6 497.5h.6M467.7 487.0h.6M478.0 482.7h.6M466.2 488.0h.6M456.1 495.3h.6M465.5 485.2h.6M472.2 486.2h.6M463.7 484.7h.6M463.4 478.6h.6M467.8 491.5h.6M465.0 494.8h.6M469.3 491.7h.6M473.9 491.6h.6M471.6 495.9h.6M474.1 498.1h.6M456.2 489.0h.6M460.4 493.5h.6M467.4 482.8h.6M472.2 491.4h.6M460.8 486.4h.6M468.0 491.3h.6M462.6 488.3h.6M468.1 488.2h.6M465.2 488.8h.6M463.0 486.3h.6M453.6 490.4h.6M471.0 490.7h.6M464.2 490.8h.6M457.7 491.5h.6M475.3 494.2h.6M456.6 491.6h.6M466.2 490.2h.6M468.3 491.7h.6M457.2 490.6h.6M465.4 494.5h.6M472.3 488.2h.6M470.6 485.6h.6M471.3 491.9h.6M470.3 491.3h.6M469.7 497.3h.6M469.1 483.3h.6M473.6 492.5h.6M467.7 487.3h.6M446.9 492.9h.6M473.1 489.8h.6M476.8 496.6h.6M478.3 489.6h.6M469.5 489.7h.6M471.0 491.4h.6M467.4 489.4h.6M463.0 492.3h.6M461.7 491.7h.6M464.9 494.8h.6M463.1 487.8h.6M457.3 491.3h.6M464.6 491.9h.6M465.6 491.6h.6M460.1 493.1h.6M466.9 493.8h.6M455.0 489.6h.6M473.0 489.5h.6M470.9 494.9h.6M452.5 486.8h.6M486.0 493.2h.6M461.5 490.5h.6M468.7 499.0h.6M472.4 474.8h.6M468.2 495.9h.6M464.4 484.5h.6M467.7 489.6h.6M467.9 490.5h.6M468.8 492.3h.6M459.4 481.6h.6M468.4 492.4h.6M462.4 489.7h.6M461.0 487.6h.6M471.6 494.7h.6M468.8 497.7h.6M467.8 490.9h.6M459.9 487.8h.6M464.1 489.3h.6M465.6 484.6h.6M466.3 495.1h.6M466.2 491.9h.6M474.8 485.0h.6M463.2 489.0h.6M463.0 482.5h.6M462.9 487.9h.6M469.0 492.5h.6M470.9 483.9h.6M465.0 495.8h.6M470.6 494.4h.6M459.4 492.9h.6M450.9 485.9h.6M464.3 486.7h.6M458.8 486.8h.6M462.8 488.4h.6M466.0 489.9h.6M475.4 493.4h.6M481.1 494.9h.6M466.4 490.4h.6M467.2 487.5h.6M458.1 495.8h.6M466.6 494.1h.6M462.0 486.2h.6M462.6 484.3h.6M470.9 493.7h.6M473.5 494.0h.6M459.5 490.2h.6M455.3 487.6h.6M463.0 484.5h.6M474.4 489.0h.6M471.5 497.3h.6M456.6 490.2h.6M476.0 495.3h.6M459.8 486.3h.6M455.0 488.4h.6M472.9 494.3h.6M470.0 495.5h.6M466.6 492.6h.6M469.5 485.1h.6M470.1 484.8h.6M477.2 495.3h.6M467.9 492.0h.6M473.6 493.3h.6M471.2 493.5h.6M460.5 496.6h.6M454.9 492.9h.6M466.1 496.5h.6M462.8 488.7h.6M469.5 497.2h.6M469.0 484.7h.6M468.3 493.4h.6M464.6 485.1h.6M456.8 490.1h.6M456.9 488.7h.6M461.3 495.6h.6M460.7 490.5h.6M466.7 494.7h.6M468.7 489.4h.6M470.2 480.8h.6M466.6 487.6h.6M487.4 491.3h.6M469.9 492.7h.6M474.9 499.9h.6M457.0 486.3h.6M466.3 492.1h.6M462.8 486.5h.6M461.4 489.6h.6M466.3 491.0h.6M463.5 492.9h.6M473.2 485.5h.6M477.8 493.3h.6M462.5 490.2h.6M465.5 486.1h.6M465.7 491.3h.6M468.5 491.1h.6M461.8 486.2h.6M474.9 493.4h.6M458.9 484.6h.6M471.2 482.5h.6M475.9 486.2h.6M459.0 485.4h.6M459.2 494.8h.6M467.5 494.7h.6M478.2 484.2h.6M456.4 493.0h.6M475.5 492.2h.6M458.9 494.2h.6M471.7 493.7h.6M463.6 492.3h.6M459.7 490.9h.6M466.6 483.1h.6M462.5 493.9h.6M465.5 491.0h.6M474.3 487.2h.6M475.6 488.1h.6M469.0 492.1h.6M466.0 484.8h.6M467.6 495.5h.6M455.9 492.6h.6M460.8 490.3h.6M460.2 493.4h.6M468.5 489.6h.6M469.8 490.8h.6M465.7 495.4h.6M465.0 480.2h.6M461.2 487.6h.6M455.8 485.3h.6M467.6 489.9h.6M460.7 494.5h.6M468.2 488.6h.6M469.4 500.2h.6M462.7 491.2h.6M457.2 493.9h.6M456.7 491.5h.6M473.4 493.1h.6M467.9 486.2h.6M462.2 477.7h.6M453.1 495.6h.6M452.4 484.8h.6M468.7 494.6h.6M457.4 482.4h.6M473.0 488.7h.6M458.6 487.8h.6M453.6 491.7h.6M475.3 495.8h.6M458.9 489.6h.6M463.1 496.2h.6M471.8 493.0h.6M467.2 491.5h.6M458.9 488.3h.6M461.8 492.2h.6M455.3 497.6h.6M462.1 481.7h.6M463.3 491.5h.6M468.8 494.8h.6M483.9 487.1h.6M465.3 489.9h.6M465.4 484.0h.6M460.3 492.0h.6M469.5 489.5h.6M483.8 488.1h.6M465.1 491.8h.6M458.9 490.0h.6M475.1 490.4h.6M474.5 502.3h.6M466.0 488.3h.6M472.4 489.6h.6M475.7 490.9h.6M463.0 492.1h.6M466.4 497.6h.6M456.0 487.3h.6M455.1 480.9h.6M462.5 487.2h.6M468.4 489.8h.6M456.0 497.9h.6M476.0 484.6h.6M462.9 492.8h.6M468.0 494.6h.6M462.6 492.3h.6M451.3 479.0h.6M475.0 480.2h.6M460.0 488.2h.6M467.9 488.1h.6M466.9 492.5h.6M472.3 482.9h.6M461.7 495.1h.6M458.7 489.3h.6M473.0 484.5h.6M460.9 496.2h.6M469.9 499.4h.6M475.1 491.4h.6M466.6 496.2h.6M471.5 488.0h.6M461.1 495.7h.6M465.8 493.0h.6M460.7 493.7h.6M465.5 492.8h.6M456.0 481.8h.6M481.5 495.2h.6M472.7 487.1h.6M476.5 492.8h.6M446.5 485.2h.6M459.3 488.2h.6M468.0 491.2h.6M465.7 481.6h.6M454.2 490.8h.6M460.5 494.5h.6M467.2 490.4h.6M451.8 496.9h.6M467.4 492.3h.6M471.6 492.3h.6M459.3 486.8h.6M460.8 481.9h.6M480.8 494.6h.6M482.2 489.1h.6M472.4 492.4h.6M471.6 497.0h.6M464.3 494.8h.6M480.1 492.7h.6M466.7 490.1h.6M474.4 487.9h.6M465.6 488.9h.6M462.9 496.4h.6M453.7 489.6h.6M461.6 490.4h.6M471.2 498.1h.6M452.2 494.3h.6M471.6 482.6h.6M472.8 486.5h.6M459.3 495.7h.6M472.6 492.3h.6M464.4 487.6h.6M454.6 490.1h.6M462.2 483.1h.6M475.5 498.7h.6M459.9 490.8h.6M470.8 485.0h.6M471.2 492.1h.6M457.8 492.0h.6M476.1 493.4h.6M468.0 494.5h.6M467.1 494.9h.6M472.2 486.3h.6M467.5 488.9h.6M472.7 499.9h.6M467.0 491.9h.6M467.3 486.7h.6M464.9 485.8h.6M465.5 483.9h.6M454.4 491.3h.6M473.7 485.9h.6M460.1 496.8h.6M447.7 494.7h.6M483.8 490.4h.6M469.4 493.0h.6M468.1 489.0h.6M460.1 490.3h.6M461.2 485.7h.6M470.2 497.1h.6M469.2 487.9h.6M479.1 490.0h.6M474.7 489.6h.6M473.5 486.6h.6M458.1 493.2h.6M475.4 495.0h.6M475.4 499.4h.6M467.8 487.1h.6M469.7 491.4h.6M462.1 489.5h.6M470.2 487.5h.6M462.5 491.5h.6M459.0 485.2h.6M462.6 489.8h.6M469.8 486.4h.6M476.6 485.7h.6M477.3 489.8h.6M471.9 493.7h.6M476.0 492.7h.6M458.3 484.1h.6M456.7 496.3h.6M468.0 488.8h.6M470.8 489.8h.6M469.6 494.2h.6M469.0 484.3h.6M457.4 485.7h.6M464.6 492.3h.6M465.9 493.4h.6M458.3 493.1h.6M472.4 485.0h.6M456.7 490.9h.6M448.7 497.4h.6M475.5 478.8h.6M477.6 489.0h.6M473.3 489.5h.6M459.2 489.9h.6M467.7 489.0h.6M469.4 490.2h.6M477.2 496.7h.6M468.5 494.2h.6M456.0 486.3h.6M472.8 488.1h.6M478.3 487.2h.6M449.0 494.6h.6M467.5 492.0h.6M455.8 489.1h.6M457.2 492.3h.6M465.0 498.0h.6M465.6 487.6h.6M473.6 479.6h.6M464.1 491.1h.6M480.3 483.0h.6M470.6 486.6h.6M469.9 480.5h.6M463.5 489.8h.6M470.7 493.6h.6M472.4 490.0h.6M461.6 490.1h.6M461.5 481.7h.6M459.9 492.9h.6M457.6 489.7h.6M474.9 489.4h.6M457.4 492.8h.6M469.1 488.8h.6M469.1 483.4h.6M467.5 490.3h.6M467.6 500.7h.6M466.1 494.0h.6M466.0 493.8h.6M468.1 494.3h.6M466.3 495.9h.6M463.7 489.1h.6M455.6 485.5h.6M468.6 494.5h.6M460.4 488.8h.6M455.7 483.0h.6M462.6 495.4h.6M459.1 492.6h.6M472.9 486.7h.6M470.5 489.2h.6M481.0 483.2h.6M466.4 494.8h.6M467.0 486.1h.6M467.4 490.7h.6M455.4 491.3h.6M466.9 487.5h.6M465.6 498.0h.6M469.8 491.3h.6M460.2 492.3h.6M470.0 491.6h.6M467.5 487.8h.6M455.8 484.2h.6M461.8 499.2h.6M459.3 489.5h.6M469.8 483.6h.6M465.2 504.4h.6M467.7 490.7h.6M464.2 492.1h.6M470.0 494.9h.6M463.4 490.8h.6M458.8 481.3h.6M471.4 488.4h.6M480.7 495.1h.6M466.7 482.9h.6M469.1 494.9h.6M460.7 499.7h.6M462.7 483.8h.6M469.0 496.8h.6M461.8 490.2h.6M464.0 487.2h.6M463.5 483.6h.6M461.7 490.8h.6M464.3 487.9h.6M466.5 496.1h.6M463.0 486.5h.6M469.3 489.5h.6M460.4 485.2h.6M464.9 487.6h.6M466.2 494.7h.6M459.0 491.3h.6M461.2 478.3h.6M466.3 495.8h.6M465.4 487.1h.6M469.7 488.8h.6M469.3 490.5h.6M463.4 486.1h.6M469.1 487.2h.6M476.7 493.0h.6M468.4 493.8h.6M470.5 485.9h.6M457.9 483.8h.6M459.5 490.2h.6M478.5 493.5h.6M458.7 494.9h.6M467.5 492.8h.6M473.6 484.0h.6M462.8 496.7h.6M455.8 491.0h.6M468.1 493.9h.6M464.1 487.0h.6M473.4 488.8h.6M466.7 490.5h.6M460.5 481.9h.6M456.7 494.8h.6M471.9 496.6h.6M465.1 495.1h.6M469.4 490.6h.6M465.4 494.3h.6M469.4 491.1h.6M467.1 495.3h.6M464.6 483.0h.6M464.3 487.7h.6M473.3 484.8h.6M466.7 486.4h.6M458.7 487.3h.6M469.3 483.7h.6M460.4 485.8h.6M451.3 493.1h.6M469.4 493.8h.6M472.5 488.1h.6M470.9 496.0h.6M458.4 493.1h.6M474.8 494.4h.6M453.0 483.0h.6M466.4 488.6h.6M470.6 492.2h.6M466.3 495.6h.6M474.4 503.8h.6M463.8 489.8h.6M468.5 487.3h.6M473.4 497.5h.6M475.9 484.9h.6M461.1 485.3h.6M459.4 493.9h.6M470.1 487.4h.6M461.3 487.1h.6M460.2 489.8h.6M468.4 486.9h.6M470.8 488.4h.6M467.6 487.6h.6M464.1 492.8h.6M454.7 493.7h.6M467.0 489.1h.6M464.0 489.2h.6M465.6 487.4h.6M471.1 493.2h.6M464.1 491.8h.6M467.5 485.5h.6M459.6 491.8h.6M454.6 487.9h.6M472.2 487.4h.6M465.7 485.1h.6M468.2 503.1h.6M463.0 488.3h.6M463.9 496.9h.6M465.8 488.2h.6M467.7 497.6h.6M461.5 480.5h.6M462.5 492.1h.6M466.9 480.1h.6M458.0 492.8h.6M465.8 489.1h.6M463.4 489.3h.6M473.6 493.1h.6M463.2 487.3h.6M463.8 495.2h.6M469.9 498.1h.6M473.2 487.3h.6M464.3 495.8h.6M462.8 496.9h.6M462.2 496.9h.6M467.2 492.0h.6M462.9 488.1h.6M470.0 485.8h.6M468.9 491.3h.6M474.3 487.5h.6M469.6 491.5h.6M459.7 487.4h.6M458.8 495.8h.6M465.4 488.1h.6M465.3 490.4h.6M474.8 494.1h.6M457.2 483.2h.6M478.1 495.8h.6M459.6 491.9h.6M462.5 493.8h.6M464.5 493.9h.6M463.5 486.0h.6M469.0 484.8h.6M462.2 488.7h.6M461.4 495.2h.6M480.1 482.8h.6M465.2 495.3h.6M480.5 484.5h.6M480.5 492.4h.6M450.8 492.1h.6M469.5 492.7h.6M451.4 491.9h.6M470.9 492.6h.6M472.4 491.3h.6M474.6 491.0h.6M464.7 495.1h.6M463.5 491.8h.6M460.6 485.4h.6M465.8 494.6h.6M459.5 491.8h.6M472.4 492.1h.6M463.8 498.5h.6M470.0 488.1h.6M458.3 486.1h.6M483.3 496.2h.6M471.8 494.5h.6M467.9 486.2h.6M466.2 493.8h.6M469.0 489.3h.6M465.6 489.6h.6M466.0 490.4h.6M463.0 491.5h.6M473.4 488.5h.6M461.7 486.1h.6M462.9 497.2h.6M474.4 491.4h.6M467.4 493.0h.6M466.6 499.6h.6M466.0 479.4h.6M465.3 493.1h.6M455.3 493.3h.6M468.2 489.9h.6M463.1 483.2h.6M475.6 485.1h.6M462.9 488.6h.6M456.4 493.6h.6M458.3 494.1h.6M456.4 484.9h.6M474.5 488.2h.6M467.7 483.1h.6M457.5 482.7h.6M458.0 492.0h.6M462.3 492.4h.6M472.6 493.9h.6M467.9 486.0h.6M463.6 493.8h.6M457.7 484.7h.6M470.7 485.6h.6M460.4 492.7h.6M482.3 501.1h.6M457.0 487.4h.6M457.9 491.2h.6M455.2 491.0h.6M478.3 493.2h.6M467.3 486.7h.6M469.7 487.8h.6M457.5 482.6h.6M473.7 492.0h.6M461.1 499.6h.6M459.5 487.2h.6M462.6 490.5h.6M454.5 489.9h.6M460.2 495.1h.6M456.8 487.1h.6M464.1 494.9h.6M465.8 493.4h.6M453.4 485.5h.6M460.0 500.0h.6M481.5 494.1h.6M452.7 491.0h.6M469.3 487.4h.6M463.1 499.3h.6M466.5 487.0h.6M465.4 490.4h.6M468.0 491.1h.6M463.0 484.0h.6M474.1 489.9h.6M463.3 486.9h.6M471.1 502.7h.6M458.0 481.5h.6M463.1 490.9h.6M460.0 494.1h.6M472.4 489.7h.6M473.8 492.9h.6M470.1 496.4h.6M465.2 489.4h.6M470.0 486.5h.6M458.2 486.3h.6M472.7 482.9h.6M463.9 490.1h.6M457.6 494.4h.6M467.4 491.6h.6M478.0 485.3h.6M466.0 492.9h.6M460.6 487.8h.6M477.0 493.1h.6M472.6 493.9h.6M460.3 490.1h.6M471.3 487.3h.6M455.3 495.6h.6M456.0 486.8h.6M462.0 490.4h.6M461.5 490.9h.6M466.6 493.5h.6M476.9 487.7h.6M465.5 488.9h.6M472.5 492.5h.6M473.6 495.8h.6M463.4 490.4h.6M473.3 486.8h.6M465.7 493.5h.6M468.2 486.9h.6M457.0 489.5h.6M475.6 497.7h.6M474.0 483.5h.6M479.2 487.9h.6M464.1 487.0h.6M459.3 489.8h.6M466.2 490.8h.6M476.4 496.4h.6M471.1 495.8h.6M468.9 495.3h.6M461.9 483.8h.6M465.1 485.4h.6M474.1 488.5h.6M463.8 486.2h.6M465.1 498.7h.6M470.0 484.9h.6M457.6 490.5h.6M463.5 485.1h.6M467.3 488.1h.6M474.1 485.0h.6M466.7 485.6h.6M467.6 488.2h.6M459.9 489.3h.6M475.5 493.6h.6M467.8 486.0h.6M472.5 490.3h.6M470.0 484.7h.6M476.6 498.7h.6M464.8 486.1h.6M472.7 485.9h.6M461.1 486.3h.6M466.2 487.4h.6M453.7 494.0h.6M477.6 494.2h.6M459.4 488.6h.6M452.2 483.7h.6M466.2 484.6h.6M468.1 495.1h.6M463.7 490.2h.6M461.9 483.5h.6M462.6 491.3h.6M466.2 494.2h.6M468.3 490.6h.6M456.6 486.7h.6M466.4 495.2h.6M474.7 487.5h.6M472.7 494.3h.6M452.0 497.3h.6M461.2 492.0h.6M461.3 499.5h.6M464.8 489.6h.6M475.3 495.5h.6M461.1 489.7h.6M468.2 489.5h.6M479.2 487.8h.6M477.8 493.3h.6M466.3 482.6h.6M473.1 481.8h.6M461.6 493.1h.6M469.5 492.8h.6M466.2 492.1h.6M467.9 494.4h.6M464.6 488.8h.6M473.6 485.3h.6M455.6 487.9h.6M469.3 489.4h.6M481.7 491.3h.6M466.9 492.2h.6M466.1 485.0h.6M470.5 488.9h.6M462.4 492.6h.6M476.5 490.0h.6M464.5 493.6h.6M462.1 493.5h.6M462.1 491.7h.6M463.0 495.8h.6M449.9 491.4h.6M464.3 495.0h.6M466.4 490.2h.6M464.3 484.6h.6M468.6 493.3h.6M462.8 495.5h.6M471.9 485.3h.6M467.0 499.7h.6M459.8 488.7h.6M489.5 500.0h.6M460.7 478.9h.6M461.2 492.9h.6M459.6 482.0h.6M460.0 489.7h.6M457.2 487.3h.6M471.8 492.0h.6M467.6 491.4h.6M472.5 490.9h.6M470.9 489.0h.6M468.9 487.8h.6M448.3 492.5h.6M462.5 497.1h.6M465.9 487.0h.6M458.0 491.5h.6M463.0 496.1h.6M474.5 495.6h.6M460.6 497.6h.6M470.3 494.3h.6M468.1 493.1h.6M462.4 490.9h.6M469.3 489.1h.6M455.0 489.8h.6M458.1 487.0h.6M464.6 500.4h.6M459.7 499.8h.6M458.5 489.8h.6M454.4 488.3h.6M459.2 482.6h.6M464.1 489.2h.6M463.2 484.2h.6M468.7 493.8h.6M478.3 494.7h.6M462.3 481.9h.6M469.7 494.6h.6M472.2 496.2h.6M473.1 499.4h.6M474.1 492.3h.6M468.5 485.9h.6M466.4 491.6h.6M470.0 482.8h.6M464.9 488.0h.6M452.7 491.6h.6M459.9 489.0h.6M462.8 485.9h.6M469.5 494.6h.6M471.8 500.0h.6M473.4 483.2h.6M452.4 481.8h.6M481.1 485.4h.6M463.6 488.1h.6M462.9 488.0h.6M473.5 493.5h.6M462.2 490.8h.6M468.3 493.5h.6M474.5 491.4h.6M463.2 490.1h.6M464.5 489.8h.6M472.9 491.2h.6M462.4 490.4h.6M468.6 485.9h.6M470.3 487.2h.6M459.1 483.4h.6M473.6 491.9h.6M469.5 485.9h.6M456.8 494.4h.6M460.3 494.2h.6M466.3 495.2h.6M456.7 494.4h.6M468.7 490.3h.6M464.1 494.5h.6M477.0 485.0h.6M456.6 490.4h.6M453.9 482.2h.6M461.5 493.1h.6M469.0 489.0h.6M463.7 486.6h.6M453.2 488.7h.6M477.1 497.4h.6M473.6 480.4h.6M469.2 490.5h.6M475.5 497.0h.6M460.9 483.8h.6M458.2 489.9h.6M468.1 486.4h.6M463.9 487.1h.6M463.7 499.4h.6M461.1 492.2h.6M467.3 494.7h.6M464.0 488.3h.6M463.7 495.0h.6M478.4 493.0h.6M481.2 494.1h.6M474.5 492.8h.6M473.9 496.6h.6M468.6 489.9h.6M455.2 492.3h.6M467.4 484.6h.6M466.8 491.4h.6M477.8 497.7h.6M459.3 487.3h.6M472.4 492.6h.6M473.1 488.9h.6M461.5 493.0h.6M470.2 493.6h.6M464.2 487.9h.6M468.7 486.1h.6M472.2 494.5h.6M463.7 483.2h.6M451.6 489.9h.6M460.2 496.6h.6M467.8 496.0h.6M450.6 486.1h.6M468.9 487.3h.6M473.2 486.0h.6M458.0 486.5h.6M458.4 491.6h.6M473.0 504.3h.6M454.2 494.9h.6M464.0 488.3h.6M468.5 489.6h.6M459.5 488.9h.6M460.1 487.6h.6M468.9 478.3h.6M462.8 487.5h.6M471.5 492.8h.6M472.4 490.7h.6M470.3 494.6h.6M461.2 492.2h.6M461.1 487.1h.6M463.7 482.2h.6M456.2 488.0h.6M457.3 486.1h.6M464.0 481.5h.6M470.7 495.9h.6M470.9 486.8h.6M482.3 485.5h.6M468.4 489.4h.6M468.6 485.1h.6M460.1 485.4h.6M465.2 489.9h.6M465.3 498.6h.6M477.2 483.1h.6M468.0 499.0h.6M468.2 491.4h.6M469.2 484.3h.6M461.4 489.2h.6M458.2 491.1h.6M462.0 482.1h.6M475.4 488.4h.6M482.9 485.6h.6M468.0 491.2h.6M454.9 492.5h.6M474.8 490.1h.6M468.1 483.9h.6M457.0 488.6h.6M460.2 491.0h.6M467.4 491.0h.6M474.0 487.0h.6M465.0 486.6h.6M477.7 497.2h.6M457.9 498.1h.6M474.0 487.1h.6M460.5 491.9h.6M461.6 496.3h.6M463.9 485.4h.6M468.2 487.6h.6M464.5 492.1h.6M468.8 497.1h.6M480.4 491.2h.6M463.5 484.4h.6M457.9 499.0h.6M459.4 497.0h.6M459.9 495.9h.6M472.8 483.6h.6M456.8 490.0h.6M466.1 490.7h.6M472.1 484.6h.6M463.2 493.1h.6M461.1 486.7h.6M469.1 492.1h.6M456.2 489.1h.6M458.3 487.6h.6M473.8 484.1h.6M462.9 486.6h.6M459.9 484.9h.6M466.8 487.1h.6M473.6 491.4h.6M453.9 494.9h.6M470.1 485.9h.6M472.6 497.8h.6M468.8 485.9h.6M482.5 490.6h.6M459.7 490.8h.6M468.0 489.0h.6M483.3 488.5h.6M473.6 491.5h.6M468.0 494.2h.6M465.2 496.0h.6M470.2 492.0h.6M472.0 493.3h.6M463.9 494.9h.6M460.7 490.2h.6M466.3 495.4h.6M467.4 489.0h.6M460.2 485.1h.6M464.8 488.6h.6M470.0 492.6h.6M475.5 485.6h.6M475.2 482.6h.6M482.3 495.0h.6M460.6 494.7h.6M457.7 484.1h.6M460.4 489.0h.6M455.7 493.5h.6M458.7 488.7h.6M460.7 485.4h.6M464.1 487.3h.6M464.4 488.5h.6M462.8 485.3h.6M454.5 503.8h.6M451.8 486.0h.6M461.1 493.3h.6M469.5 492.9h.6M474.5 483.5h.6M472.1 489.2h.6M467.9 488.5h.6M459.8 488.7h.6M472.7 487.7h.6M461.1 493.0h.6M479.6 489.5h.6M464.9 489.2h.6M459.3 487.0h.6M468.5 492.8h.6M470.2 491.1h.6M460.8 484.7h.6M472.9 493.4h.6M470.2 499.1h.6M467.3 495.9h.6M467.5 490.2h.6M469.3 489.9h.6M458.8 492.1h.6M479.8 493.0h.6M471.9 496.1h.6M449.4 485.7h.6M459.8 483.8h.6M448.4 487.8h.6M475.3 497.4h.6M466.3 495.7h.6M458.9 486.1h.6M473.1 487.8h.6M465.6 500.9h.6M474.3 498.3h.6M471.2 496.1h.6M476.1 494.3h.6M461.3 486.4h.6M455.8 490.5h.6M476.9 491.9h.6M458.3 489.0h.6M461.5 496.7h.6M465.6 487.7h.6M461.7 493.9h.6M475.1 491.2h.6M459.5 491.5h.6M461.7 489.2h.6M461.7 482.3h.6M473.6 488.3h.6M473.6 488.3h.6M473.2 495.5h.6M469.0 487.4h.6M466.2 497.2h.6M466.2 487.7h.6M479.6 486.3h.6M470.7 497.1h.6M458.4 492.1h.6M464.1 490.3h.6M464.5 494.6h.6M458.4 487.3h.6M470.8 483.2h.6M479.2 491.4h.6M468.3 496.4h.6M465.8 488.6h.6M468.7 487.2h.6M470.2 477.5h.6M469.6 493.4h.6M477.0 491.8h.6M469.5 491.0h.6M469.9 499.5h.6M472.3 486.6h.6M469.1 496.2h.6M462.9 485.4h.6M456.2 481.5h.6M466.8 491.4h.6M473.7 485.3h.6M463.3 486.4h.6M476.7 492.9h.6M466.2 492.1h.6M456.6 486.9h.6M462.9 485.1h.6M466.5 485.7h.6M472.6 478.5h.6M477.0 498.1h.6M462.3 490.8h.6M463.8 486.0h.6M471.1 487.6h.6M470.5 488.8h.6M452.7 494.8h.6M461.6 480.2h.6M463.4 485.8h.6M471.4 491.3h.6M464.2 490.1h.6M472.2 487.8h.6M471.6 498.4h.6M463.0 489.3h.6M462.3 489.2h.6M462.9 487.8h.6M457.8 496.0h.6M467.8 495.9h.6M477.3 489.3h.6M467.8 500.6h.6M460.5 490.8h.6M473.2 491.5h.6M467.1 493.1h.6M470.6 492.3h.6M465.6 490.7h.6M472.0 489.1h.6M468.5 493.9h.6M461.6 489.4h.6M469.5 499.7h.6M461.7 487.8h.6M461.7 497.4h.6M455.5 488.4h.6M459.1 495.0h.6M469.7 492.7h.6M475.5 497.5h.6M464.2 490.4h.6M471.2 483.9h.6M487.8 489.9h.6M454.7 487.5h.6M484.0 490.2h.6M462.3 491.4h.6M462.0 478.2h.6M471.0 492.6h.6M471.3 492.5h.6M464.5 488.2h.6M470.0 485.9h.6M474.9 489.9h.6M461.4 493.1h.6M466.3 489.3h.6M454.1 499.9h.6M462.7 490.3h.6M465.8 488.5h.6M477.6 497.1h.6M453.9 494.4h.6M465.0 487.2h.6M473.4 491.5h.6M470.3 498.5h.6M467.0 493.3h.6M475.6 484.1h.6M458.4 488.6h.6M451.5 491.2h.6M462.7 489.9h.6M463.8 490.4h.6M466.2 483.0h.6M460.6 483.4h.6M460.8 488.7h.6M458.0 487.2h.6M470.3 481.1h.6M459.8 492.0h.6M476.2 491.9h.6M452.5 498.0h.6M450.2 491.9h.6M466.6 492.8h.6M466.6 491.3h.6M470.4 491.0h.6M462.0 488.9h.6M456.8 483.9h.6M475.7 491.7h.6M465.2 478.7h.6M474.7 486.5h.6M465.5 490.7h.6M467.3 499.6h.6M467.8 490.8h.6M476.7 485.1h.6M454.5 489.1h.6M465.0 498.3h.6M485.2 492.0h.6M461.4 488.7h.6M468.7 501.3h.6M459.6 493.8h.6M470.7 488.5h.6M465.3 490.3h.6M476.1 493.5h.6M466.5 488.3h.6M457.4 487.6h.6M476.6 488.3h.6M467.1 498.4h.6M459.5 492.3h.6M468.5 491.5h.6M457.8 489.4h.6M459.9 488.9h.6M463.4 489.5h.6M466.3 486.4h.6M466.3 494.1h.6M464.7 495.4h.6M458.8 496.2h.6M475.8 490.3h.6M462.6 492.9h.6M466.3 488.3h.6M468.6 488.9h.6M467.4 486.7h.6M472.7 491.5h.6M462.9 486.9h.6M468.3 487.8h.6M462.1 489.6h.6M464.7 488.1h.6M461.1 494.4h.6M473.4 493.5h.6M452.5 491.5h.6M471.3 487.3h.6M465.4 489.8h.6M449.6 494.8h.6M470.7 487.0h.6M464.3 485.9h.6M466.5 489.5h.6M460.8 492.6h.6M471.4 490.1h.6M473.9 493.6h.6M472.1 488.4h.6M467.1 488.5h.6M458.7 487.8h.6M470.7 492.4h.6M470.6 494.7h.6M471.8 490.8h.6M454.3 493.9h.6M474.3 492.0h.6M474.3 488.0h.6M469.3 487.7h.6M463.2 497.6h.6M469.8 486.6h.6M466.8 492.5h.6M468.8 489.0h.6M471.6 489.0h.6M474.2 495.7h.6M465.1 493.4h.6M470.2 485.1h.6M457.7 482.3h.6M467.3 491.9h.6M467.5 497.5h.6M465.2 488.1h.6M477.4 497.5h.6M458.8 492.1h.6M469.5 491.7h.6M450.7 484.7h.6M454.7 487.8h.6M454.6 488.4h.6M464.9 483.4h.6M471.5 483.6h.6M459.8 485.9h.6M464.1 489.0h.6M462.1 488.4h.6M462.1 493.6h.6M469.3 488.2h.6M465.6 484.6h.6M470.6 487.9h.6M465.6 490.0h.6M473.6 497.2h.6M469.0 481.9h.6M471.2 488.3h.6M463.0 494.5h.6M481.1 493.2h.6M466.8 485.1h.6M468.4 484.9h.6M466.2 492.0h.6M462.5 482.7h.6M471.2 495.9h.6M455.8 485.7h.6M477.5 495.2h.6M460.2 494.4h.6M459.1 489.6h.6M469.4 493.3h.6M461.9 499.5h.6M468.6 495.8h.6M464.3 488.8h.6M464.9 489.4h.6M458.6 489.8h.6M459.9 490.7h.6M462.7 481.2h.6M469.0 486.0h.6M466.6 492.3h.6M455.8 487.9h.6M469.0 491.7h.6M480.2 495.3h.6M464.6 497.5h.6M457.3 487.1h.6M457.1 485.5h.6M472.1 484.5h.6M465.4 485.7h.6M472.1 492.6h.6M466.5 489.4h.6M452.7 485.8h.6M468.6 489.7h.6M453.3 482.9h.6M463.1 494.7h.6M457.0 490.7h.6M465.8 493.1h.6M466.3 489.5h.6M467.3 490.6h.6M469.4 497.4h.6M467.8 494.8h.6M465.1 487.9h.6M463.3 488.1h.6M475.0 486.2h.6M465.9 483.5h.6M456.8 485.6h.6M472.7 492.2h.6M456.6 490.3h.6M466.3 492.1h.6M465.0 499.6h.6M465.8 487.6h.6M466.1 492.7h.6M472.7 482.2h.6M474.6 491.3h.6M465.1 485.9h.6M468.9 485.8h.6M464.5 494.3h.6M463.4 490.4h.6M464.8 493.0h.6M470.0 497.5h.6M454.4 486.6h.6M461.8 493.3h.6M467.9 483.2h.6M457.9 488.4h.6M469.1 491.4h.6M463.9 488.4h.6M465.4 491.0h.6M466.7 491.6h.6M463.0 481.6h.6M467.9 492.3h.6M471.6 493.5h.6M463.5 487.9h.6M456.0 483.0h.6M466.6 483.7h.6M456.1 487.7h.6M463.4 483.1h.6M471.7 494.2h.6M460.4 480.9h.6M473.2 494.0h.6M458.8 488.3h.6M474.2 483.2h.6M467.9 491.1h.6M468.0 487.6h.6M464.7 493.7h.6M461.4 492.8h.6M463.2 487.9h.6M469.8 488.1h.6M475.0 485.2h.6M470.4 496.7h.6M474.8 493.7h.6M473.1 494.1h.6M458.5 499.1h.6M480.6 490.1h.6M471.5 495.9h.6M466.4 488.1h.6M480.6 492.2h.6M464.3 484.6h.6M478.3 488.6h.6M478.6 491.0h.6M482.1 505.2h.6M473.5 483.4h.6M464.0 495.1h.6M461.5 488.7h.6M468.3 490.4h.6M455.1 489.9h.6M466.6 486.7h.6M457.8 497.4h.6M461.1 489.1h.6M469.2 495.1h.6M477.1 482.9h.6M469.8 490.3h.6M476.4 485.4h.6M467.2 486.3h.6M466.4 490.3h.6M470.9 490.7h.6M462.7 485.5h.6M474.7 494.3h.6M460.3 493.8h.6M470.2 498.5h.6M477.8 488.2h.6M462.5 482.5h.6M472.6 485.9h.6M465.0 487.3h.6M458.4 494.5h.6M463.6 489.2h.6M462.6 500.9h.6M465.0 488.4h.6M477.4 496.3h.6M466.4 495.3h.6M461.1 493.3h.6M453.3 488.5h.6M474.0 490.7h.6M454.0 499.9h.6M474.4 495.5h.6M465.5 490.1h.6M470.4 483.4h.6M461.5 486.4h.6M460.3 495.0h.6M473.1 496.5h.6M474.3 491.3h.6M471.8 492.6h.6M465.2 483.6h.6M481.1 487.0h.6M469.3 488.2h.6M455.9 494.9h.6M468.0 482.8h.6M470.9 492.3h.6M480.9 487.9h.6M470.0 493.4h.6M475.7 480.4h.6M460.2 491.7h.6M466.0 491.7h.6M477.9 492.4h.6M466.5 491.3h.6M460.8 489.8h.6M460.1 486.5h.6M469.4 492.6h.6M475.9 502.1h.6M480.5 501.4h.6M458.8 491.5h.6M455.0 494.9h.6M469.8 480.9h.6M464.9 492.9h.6M460.9 490.6h.6M457.4 490.7h.6M445.3 488.9h.6M466.5 496.5h.6M470.0 495.9h.6M472.4 494.2h.6M463.9 490.3h.6M470.5 496.7h.6M470.1 498.3h.6M467.8 496.0h.6M465.4 493.4h.6M458.1 487.9h.6M470.3 492.4h.6M467.7 501.6h.6M472.9 495.0h.6M465.9 482.7h.6M450.9 486.0h.6M470.8 489.6h.6M460.9 491.8h.6M457.0 488.0h.6M460.3 493.2h.6M463.3 487.4h.6M469.4 491.3h.6M474.4 486.5h.6M460.5 492.6h.6M462.4 486.1h.6M457.9 489.7h.6M461.6 484.5h.6M469.4 482.7h.6M470.4 489.2h.6M475.7 488.3h.6M458.5 493.3h.6M457.3 492.6h.6M467.3 492.4h.6M462.5 493.2h.6M467.7 486.8h.6M448.0 486.6h.6M466.6 487.9h.6M466.7 485.2h.6M468.5 490.8h.6M466.6 489.8h.6M454.0 483.2h.6M466.3 495.4h.6M477.9 495.5h.6M461.7 487.4h.6M455.7 495.3h.6M458.9 488.9h.6M461.0 494.8h.6M469.6 497.3h.6M457.4 495.4h.6M469.7 494.0h.6M464.3 490.5h.6M469.6 489.1h.6M471.0 488.0h.6M471.2 494.0h.6M461.9 488.2h.6M468.4 488.1h.6M468.8 486.2h.6M476.8 490.9h.6M471.1 500.1h.6M465.1 486.1h.6M466.2 488.0h.6M469.1 487.2h.6M459.7 499.2h.6M459.7 494.9h.6M470.4 488.8h.6M465.0 491.0h.6M466.5 484.6h.6M469.6 497.0h.6M476.6 496.0h.6M471.3 493.9h.6M453.4 489.2h.6M466.8 495.1h.6M465.9 485.4h.6M470.1 490.5h.6M454.9 489.3h.6M461.1 488.7h.6M473.1 489.6h.6M467.0 484.8h.6M466.4 483.8h.6M463.5 486.6h.6M451.7 487.9h.6M455.3 484.4h.6M476.5 485.7h.6M460.1 491.6h.6M475.3 487.3h.6M469.5 485.4h.6M457.9 483.7h.6M470.2 493.8h.6M470.6 486.3h.6M462.5 492.6h.6M465.7 491.2h.6M457.9 481.3h.6M464.9 496.7h.6M463.4 497.9h.6M467.1 494.4h.6M472.6 488.5h.6M463.6 492.5h.6M466.7 486.1h.6M470.3 491.0h.6M463.0 489.5h.6M478.4 482.7h.6M467.9 495.9h.6M476.8 492.0h.6M466.6 495.8h.6M466.9 494.9h.6M459.8 497.5h.6M467.0 493.2h.6M460.1 487.9h.6M475.8 490.8h.6M453.0 491.7h.6M478.1 489.4h.6M465.1 494.3h.6M453.5 503.5h.6M457.3 494.0h.6M469.8 489.5h.6M464.6 490.5h.6M455.0 490.7h.6M468.2 484.3h.6M468.9 485.8h.6M473.3 489.6h.6M462.2 485.2h.6M466.6 490.0h.6M470.6 484.4h.6M460.1 485.4h.6M471.6 487.3h.6M461.6 490.7h.6M463.7 490.6h.6M465.7 483.1h.6M475.7 490.4h.6M468.0 489.9h.6M462.4 492.7h.6M476.2 496.5h.6M465.7 484.5h.6M471.9 485.1h.6M469.4 496.2h.6M455.3 488.4h.6M469.6 490.7h.6M477.0 498.9h.6M470.5 488.9h.6M469.2 488.5h.6M465.1 484.2h.6M463.1 488.0h.6M473.4 493.4h.6M466.7 486.6h.6M470.6 491.6h.6M476.1 485.5h.6M460.6 490.8h.6M472.7 490.0h.6M469.1 492.0h.6M471.2 488.2h.6M469.4 484.9h.6M466.3 494.4h.6M464.3 494.1h.6M471.1 491.8h.6M468.4 492.6h.6M472.3 489.6h.6M478.8 486.8h.6M459.7 488.1h.6M463.6 493.2h.6M456.8 490.2h.6M465.4 478.8h.6M467.8 485.5h.6M462.9 494.4h.6M469.3 491.2h.6M472.8 489.8h.6M470.6 485.3h.6M473.7 491.5h.6M467.4 489.3h.6" stroke="#6f6f6f" stroke-width="0.6" opacity="0.5" fill="none"/>
<path d="M463.9 489.2h.6M470.3 497.4h.6M478.3 483.4h.6M474.6 492.8h.6M472.6 496.7h.6M460.9 495.8h.6M472.7 502.7h.6M480.5 488.7h.6M467.3 494.6h.6M470.0 488.1h.6M468.9 496.3h.6M459.2 500.7h.6M467.4 483.3h.6M476.2 488.3h.6M473.2 489.7h.6M479.8 492.1h.6M471.8 496.6h.6M466.4 494.0h.6M456.1 488.6h.6M463.3 502.8h.6M468.6 490.0h.6M476.4 491.6h.6M458.2 494.7h.6M470.3 498.1h.6M469.8 495.0h.6M474.9 489.8h.6M458.2 501.4h.6M465.6 496.8h.6M465.7 490.5h.6M466.6 501.1h.6M462.9 492.4h.6M468.2 495.2h.6M471.2 491.1h.6M460.1 483.4h.6M475.1 499.3h.6M468.6 486.4h.6M470.4 495.6h.6M462.3 496.1h.6M467.8 497.8h.6M475.3 493.5h.6M462.8 491.4h.6M463.0 485.6h.6M479.3 492.6h.6M465.4 496.1h.6M461.3 491.0h.6M476.8 489.6h.6M457.0 493.7h.6M471.7 484.0h.6M459.7 490.1h.6M478.5 490.0h.6M473.8 486.8h.6M465.6 497.2h.6M465.2 489.9h.6M465.8 488.4h.6M484.9 503.9h.6M467.4 490.9h.6M474.1 494.1h.6M454.4 488.4h.6M471.2 499.7h.6M462.1 494.9h.6M476.7 494.0h.6M451.5 496.5h.6M465.5 503.2h.6M455.0 488.6h.6M470.5 498.7h.6M460.0 488.0h.6M481.7 500.9h.6M465.8 487.8h.6M472.3 495.2h.6M450.9 489.5h.6M467.8 490.0h.6M471.8 490.2h.6M462.4 493.3h.6M463.8 491.0h.6M469.4 485.6h.6M467.4 494.9h.6M477.2 489.9h.6M469.6 494.3h.6M464.5 491.7h.6M468.6 498.7h.6M466.3 497.3h.6M471.1 500.6h.6M467.2 492.7h.6M469.7 492.7h.6M462.9 493.5h.6M474.1 496.8h.6M456.1 494.7h.6M462.2 500.8h.6M471.1 497.4h.6M480.4 493.3h.6M475.0 493.6h.6M476.0 489.5h.6M456.0 492.5h.6M471.3 492.9h.6M467.0 488.6h.6M455.4 498.4h.6M464.5 491.9h.6M473.7 497.6h.6M467.6 476.9h.6M471.0 496.2h.6M470.2 502.5h.6M471.6 483.3h.6M473.9 489.7h.6M460.7 499.1h.6M462.6 497.5h.6M468.8 492.2h.6M466.6 498.8h.6M466.8 490.9h.6M467.8 492.5h.6M474.5 478.6h.6M468.7 492.4h.6M479.9 490.7h.6M469.7 491.3h.6M455.1 498.9h.6M460.9 488.1h.6M472.5 482.7h.6M464.0 500.4h.6M467.0 489.3h.6M468.2 493.6h.6M455.0 503.6h.6M473.7 493.9h.6M467.7 494.2h.6M477.3 488.5h.6M459.6 502.9h.6M483.2 498.1h.6M467.3 491.9h.6M482.0 493.2h.6M474.3 489.2h.6M473.3 499.5h.6M478.5 488.6h.6M479.7 494.5h.6M458.5 492.4h.6M466.5 494.9h.6M461.5 500.4h.6M468.2 492.0h.6M462.0 493.4h.6M475.0 499.3h.6M464.9 482.4h.6M454.0 490.6h.6M467.6 496.1h.6M469.2 497.5h.6M468.0 494.2h.6M467.9 496.5h.6M484.9 490.4h.6M468.1 491.5h.6M466.5 493.4h.6M468.1 490.2h.6M469.0 495.4h.6M464.3 490.7h.6M466.7 495.2h.6M479.6 493.6h.6M481.9 498.5h.6M464.0 492.3h.6M464.3 490.8h.6M463.3 489.4h.6M456.9 495.8h.6M475.4 497.1h.6M471.0 487.7h.6M458.6 494.5h.6M460.1 499.6h.6M460.6 489.4h.6M467.1 489.4h.6M484.1 490.9h.6M478.2 490.7h.6M455.9 500.3h.6M463.4 479.5h.6M470.7 486.8h.6M476.6 487.3h.6M476.0 489.7h.6M466.9 494.1h.6M474.3 488.7h.6M461.6 502.7h.6M453.3 494.1h.6M482.0 498.0h.6M471.6 487.8h.6M464.2 487.9h.6M467.7 507.0h.6M482.9 491.8h.6M471.4 490.6h.6M463.1 492.6h.6M468.9 505.4h.6M461.6 491.6h.6M463.6 488.8h.6M466.2 497.2h.6M466.1 493.6h.6M463.6 496.3h.6M463.6 499.3h.6M473.2 493.7h.6M452.9 499.3h.6M466.7 494.1h.6M476.2 491.9h.6M468.0 494.9h.6M472.7 487.5h.6M477.7 491.9h.6M473.3 493.4h.6M453.0 491.6h.6M472.6 493.0h.6M455.1 490.8h.6M462.7 499.8h.6M468.8 492.0h.6M465.4 495.5h.6M466.6 496.2h.6M449.4 502.6h.6M480.4 496.5h.6M467.2 491.7h.6M474.8 491.3h.6M472.4 499.3h.6M471.3 490.0h.6M467.0 486.3h.6M467.3 491.4h.6M469.3 497.1h.6M479.8 499.3h.6M471.1 488.8h.6M472.8 495.6h.6M468.5 497.9h.6M475.8 492.2h.6M452.0 490.1h.6M466.7 489.3h.6M486.9 500.2h.6M481.4 494.9h.6M459.6 491.3h.6M475.4 497.4h.6M470.4 488.6h.6M460.4 494.4h.6M474.6 487.8h.6M471.4 497.5h.6M459.0 497.3h.6M478.4 491.1h.6M463.6 492.5h.6M455.7 491.7h.6M471.4 492.6h.6M466.8 489.4h.6M475.9 487.7h.6M475.7 493.3h.6M459.7 492.5h.6M469.1 500.4h.6M474.0 493.0h.6M472.5 493.8h.6M469.6 482.8h.6M471.9 497.8h.6M479.8 494.7h.6M479.7 489.9h.6M464.5 496.4h.6M465.8 492.6h.6M463.3 497.5h.6M464.1 491.7h.6M466.2 490.9h.6M473.7 499.6h.6M486.8 492.4h.6M459.9 490.7h.6M474.1 489.4h.6M472.4 491.5h.6M468.8 492.1h.6M472.9 490.4h.6M460.0 485.6h.6M477.7 491.7h.6M453.8 484.6h.6M468.1 489.8h.6M474.2 490.5h.6M474.1 486.6h.6M471.4 500.1h.6M466.8 488.0h.6M458.2 496.3h.6M474.9 492.5h.6M467.9 499.4h.6M469.7 502.8h.6M475.5 500.2h.6M473.8 490.4h.6M469.9 491.2h.6M472.7 495.5h.6M471.6 488.9h.6M465.2 485.6h.6M470.8 490.5h.6M472.1 490.1h.6M462.4 491.7h.6M471.2 496.5h.6M471.6 492.6h.6M472.1 495.1h.6M470.4 492.0h.6M456.8 494.7h.6M475.0 488.6h.6M475.6 496.0h.6M473.1 492.1h.6M458.6 485.3h.6M468.5 498.0h.6M478.1 483.9h.6M462.4 494.7h.6M462.0 483.2h.6M461.2 479.2h.6M458.2 500.5h.6M472.8 492.0h.6M463.5 489.4h.6M456.6 490.1h.6M470.7 497.6h.6M471.0 494.5h.6M462.9 485.5h.6M462.5 487.8h.6M465.3 489.9h.6M460.5 492.3h.6M470.0 497.0h.6M468.5 491.0h.6M465.8 489.0h.6M461.9 492.9h.6M469.4 493.1h.6M460.9 493.8h.6M475.4 480.9h.6M459.0 502.6h.6M466.3 495.1h.6M470.2 488.2h.6M467.9 482.8h.6M459.8 487.9h.6M470.5 484.7h.6M468.6 499.5h.6M473.3 495.6h.6M457.5 494.4h.6M476.2 494.0h.6M470.1 487.1h.6M464.1 487.6h.6M465.9 485.0h.6M473.0 491.4h.6M466.8 489.6h.6M461.8 496.2h.6M477.6 488.7h.6M478.3 491.1h.6M467.4 487.3h.6M464.1 488.4h.6M473.0 482.6h.6M455.3 491.9h.6M466.7 495.1h.6M471.8 494.9h.6M471.4 496.4h.6M471.1 494.7h.6M468.2 501.8h.6M477.8 491.8h.6M457.2 494.1h.6M467.2 494.7h.6M478.3 484.1h.6M477.6 495.4h.6M472.3 484.7h.6M474.3 492.8h.6M474.0 480.8h.6M467.3 489.5h.6M473.2 492.2h.6M450.8 497.8h.6M460.7 489.9h.6M458.4 497.6h.6M473.4 497.8h.6M462.7 489.0h.6M471.7 492.5h.6M472.4 499.7h.6M464.8 497.4h.6M470.8 492.6h.6M467.6 491.0h.6M469.5 491.2h.6M470.0 491.5h.6M464.6 491.9h.6M454.0 487.2h.6M478.4 494.8h.6M467.6 497.9h.6M469.1 499.6h.6M463.2 484.1h.6M462.3 486.5h.6M469.8 497.4h.6M458.0 487.9h.6M475.5 484.0h.6M470.5 500.0h.6M479.1 498.0h.6M464.4 495.0h.6M468.2 483.8h.6M467.7 488.3h.6M464.7 493.9h.6M459.1 488.2h.6M475.4 493.1h.6M472.1 485.3h.6M463.4 487.8h.6M458.8 497.1h.6M464.2 481.7h.6M461.9 490.8h.6M460.1 494.7h.6M461.4 497.0h.6M457.3 494.4h.6M470.8 496.9h.6M468.2 499.7h.6M464.1 496.9h.6M471.0 487.1h.6M454.7 494.4h.6M471.4 497.9h.6M464.4 501.9h.6M471.3 487.8h.6M470.9 495.4h.6M457.6 490.5h.6M457.9 494.9h.6M473.0 491.3h.6M477.5 490.0h.6M470.5 488.9h.6M467.4 492.7h.6M472.5 493.4h.6M463.9 494.4h.6M461.2 490.3h.6M466.4 496.9h.6" stroke="#999" stroke-width="0.6" opacity="0.4" fill="none"/>
<g filter="url(#b1)">
<ellipse cx="466.5" cy="490.6" rx="12" ry="7.4" fill="#787878" opacity="0.9" transform="rotate(8 466.5 490.6)"/>
<ellipse cx="462.6" cy="488.2" rx="9.4" ry="5.2" fill="#a3489e" opacity="1"/>
</g><g filter="url(#b2)">
<ellipse cx="460.8" cy="488.2" rx="5.6" ry="3.3" fill="#4a8ac9" opacity="1"/>
<ellipse cx="460.6" cy="488.2" rx="4.4" ry="2.5" fill="#48c0b0" opacity="1"/>
<ellipse cx="460.5" cy="488.2" rx="3.4" ry="1.9" fill="#7cc242" opacity="1"/>
<ellipse cx="460.4" cy="488.2" rx="2.4" ry="1.3" fill="#e3202a" opacity="1"/>
</g>
<rect x="445.10" y="455.00" width="66.10" height="66.00" fill="none" stroke="#3a3a3a" stroke-width="0.7"/>
<line x1="445.10" y1="455.00" x2="445.10" y2="521.40" stroke="#231f20" stroke-width="0.9"/>
<line x1="444.70" y1="521.00" x2="511.20" y2="521.00" stroke="#231f20" stroke-width="0.9"/>
<line x1="444.20" y1="521.00" x2="445.10" y2="521.00" stroke="#231f20" stroke-width="0.4"/>
<line x1="445.10" y1="521.00" x2="445.10" y2="521.90" stroke="#231f20" stroke-width="0.4"/>
<line x1="444.20" y1="518.46" x2="445.10" y2="518.46" stroke="#231f20" stroke-width="0.4"/>
<line x1="447.64" y1="521.00" x2="447.64" y2="521.90" stroke="#231f20" stroke-width="0.4"/>
<line x1="444.20" y1="515.92" x2="445.10" y2="515.92" stroke="#231f20" stroke-width="0.4"/>
<line x1="450.18" y1="521.00" x2="450.18" y2="521.90" stroke="#231f20" stroke-width="0.4"/>
<line x1="444.20" y1="513.38" x2="445.10" y2="513.38" stroke="#231f20" stroke-width="0.4"/>
<line x1="452.73" y1="521.00" x2="452.73" y2="521.90" stroke="#231f20" stroke-width="0.4"/>
<line x1="444.20" y1="510.85" x2="445.10" y2="510.85" stroke="#231f20" stroke-width="0.4"/>
<line x1="455.27" y1="521.00" x2="455.27" y2="521.90" stroke="#231f20" stroke-width="0.4"/>
<line x1="444.20" y1="508.31" x2="445.10" y2="508.31" stroke="#231f20" stroke-width="0.4"/>
<line x1="457.81" y1="521.00" x2="457.81" y2="521.90" stroke="#231f20" stroke-width="0.4"/>
<line x1="444.20" y1="505.77" x2="445.10" y2="505.77" stroke="#231f20" stroke-width="0.4"/>
<line x1="460.35" y1="521.00" x2="460.35" y2="521.90" stroke="#231f20" stroke-width="0.4"/>
<line x1="444.20" y1="503.23" x2="445.10" y2="503.23" stroke="#231f20" stroke-width="0.4"/>
<line x1="462.90" y1="521.00" x2="462.90" y2="521.90" stroke="#231f20" stroke-width="0.4"/>
<line x1="444.20" y1="500.69" x2="445.10" y2="500.69" stroke="#231f20" stroke-width="0.4"/>
<line x1="465.44" y1="521.00" x2="465.44" y2="521.90" stroke="#231f20" stroke-width="0.4"/>
<line x1="444.20" y1="498.15" x2="445.10" y2="498.15" stroke="#231f20" stroke-width="0.4"/>
<line x1="467.98" y1="521.00" x2="467.98" y2="521.90" stroke="#231f20" stroke-width="0.4"/>
<line x1="444.20" y1="495.62" x2="445.10" y2="495.62" stroke="#231f20" stroke-width="0.4"/>
<line x1="470.52" y1="521.00" x2="470.52" y2="521.90" stroke="#231f20" stroke-width="0.4"/>
<line x1="444.20" y1="493.08" x2="445.10" y2="493.08" stroke="#231f20" stroke-width="0.4"/>
<line x1="473.07" y1="521.00" x2="473.07" y2="521.90" stroke="#231f20" stroke-width="0.4"/>
<line x1="444.20" y1="490.54" x2="445.10" y2="490.54" stroke="#231f20" stroke-width="0.4"/>
<line x1="475.61" y1="521.00" x2="475.61" y2="521.90" stroke="#231f20" stroke-width="0.4"/>
<line x1="444.20" y1="488.00" x2="445.10" y2="488.00" stroke="#231f20" stroke-width="0.4"/>
<line x1="478.15" y1="521.00" x2="478.15" y2="521.90" stroke="#231f20" stroke-width="0.4"/>
<line x1="444.20" y1="485.46" x2="445.10" y2="485.46" stroke="#231f20" stroke-width="0.4"/>
<line x1="480.69" y1="521.00" x2="480.69" y2="521.90" stroke="#231f20" stroke-width="0.4"/>
<line x1="444.20" y1="482.92" x2="445.10" y2="482.92" stroke="#231f20" stroke-width="0.4"/>
<line x1="483.23" y1="521.00" x2="483.23" y2="521.90" stroke="#231f20" stroke-width="0.4"/>
<line x1="444.20" y1="480.38" x2="445.10" y2="480.38" stroke="#231f20" stroke-width="0.4"/>
<line x1="485.78" y1="521.00" x2="485.78" y2="521.90" stroke="#231f20" stroke-width="0.4"/>
<line x1="444.20" y1="477.85" x2="445.10" y2="477.85" stroke="#231f20" stroke-width="0.4"/>
<line x1="488.32" y1="521.00" x2="488.32" y2="521.90" stroke="#231f20" stroke-width="0.4"/>
<line x1="444.20" y1="475.31" x2="445.10" y2="475.31" stroke="#231f20" stroke-width="0.4"/>
<line x1="490.86" y1="521.00" x2="490.86" y2="521.90" stroke="#231f20" stroke-width="0.4"/>
<line x1="444.20" y1="472.77" x2="445.10" y2="472.77" stroke="#231f20" stroke-width="0.4"/>
<line x1="493.40" y1="521.00" x2="493.40" y2="521.90" stroke="#231f20" stroke-width="0.4"/>
<line x1="444.20" y1="470.23" x2="445.10" y2="470.23" stroke="#231f20" stroke-width="0.4"/>
<line x1="495.95" y1="521.00" x2="495.95" y2="521.90" stroke="#231f20" stroke-width="0.4"/>
<line x1="444.20" y1="467.69" x2="445.10" y2="467.69" stroke="#231f20" stroke-width="0.4"/>
<line x1="498.49" y1="521.00" x2="498.49" y2="521.90" stroke="#231f20" stroke-width="0.4"/>
<line x1="444.20" y1="465.15" x2="445.10" y2="465.15" stroke="#231f20" stroke-width="0.4"/>
<line x1="501.03" y1="521.00" x2="501.03" y2="521.90" stroke="#231f20" stroke-width="0.4"/>
<line x1="444.20" y1="462.62" x2="445.10" y2="462.62" stroke="#231f20" stroke-width="0.4"/>
<line x1="503.57" y1="521.00" x2="503.57" y2="521.90" stroke="#231f20" stroke-width="0.4"/>
<line x1="444.20" y1="460.08" x2="445.10" y2="460.08" stroke="#231f20" stroke-width="0.4"/>
<line x1="506.12" y1="521.00" x2="506.12" y2="521.90" stroke="#231f20" stroke-width="0.4"/>
<line x1="444.20" y1="457.54" x2="445.10" y2="457.54" stroke="#231f20" stroke-width="0.4"/>
<line x1="508.66" y1="521.00" x2="508.66" y2="521.90" stroke="#231f20" stroke-width="0.4"/>
<line x1="444.20" y1="455.00" x2="445.10" y2="455.00" stroke="#231f20" stroke-width="0.4"/>
<line x1="511.20" y1="521.00" x2="511.20" y2="521.90" stroke="#231f20" stroke-width="0.4"/>
<line x1="443.30" y1="455.60" x2="445.10" y2="455.60" stroke="#231f20" stroke-width="0.6"/>
<text transform="translate(442.70,458.00)" font-size="5" text-anchor="end" fill="#231f20">10<tspan font-size="3.2" dy="-2.2">3</tspan></text>
<line x1="443.30" y1="469.70" x2="445.10" y2="469.70" stroke="#231f20" stroke-width="0.6"/>
<text transform="translate(442.70,472.10)" font-size="5" text-anchor="end" fill="#231f20">10<tspan font-size="3.2" dy="-2.2">2</tspan></text>
<line x1="443.30" y1="484.60" x2="445.10" y2="484.60" stroke="#231f20" stroke-width="0.6"/>
<text transform="translate(442.70,487.00)" font-size="5" text-anchor="end" fill="#231f20">10<tspan font-size="3.2" dy="-2.2">1</tspan></text>
<line x1="443.30" y1="498.80" x2="445.10" y2="498.80" stroke="#231f20" stroke-width="0.6"/>
<text transform="translate(442.70,501.20)" font-size="5" text-anchor="end" fill="#231f20">10<tspan font-size="3.2" dy="-2.2">0</tspan></text>
<line x1="443.30" y1="514.00" x2="445.10" y2="514.00" stroke="#231f20" stroke-width="0.6"/>
<text transform="translate(441.90,515.90)" font-size="5.3" text-anchor="end" fill="#231f20">0</text>
<line x1="452.30" y1="521.00" x2="452.30" y2="522.80" stroke="#231f20" stroke-width="0.6"/>
<text transform="translate(452.30,529.00)" font-size="5.3" text-anchor="middle" fill="#231f20">0</text>
<line x1="466.70" y1="521.00" x2="466.70" y2="522.80" stroke="#231f20" stroke-width="0.6"/>
<text transform="translate(466.20,529.00)" font-size="5" text-anchor="middle" fill="#231f20">10<tspan font-size="3.2" dy="-2.2">0</tspan></text>
<line x1="482.00" y1="521.00" x2="482.00" y2="522.80" stroke="#231f20" stroke-width="0.6"/>
<text transform="translate(481.50,529.00)" font-size="5" text-anchor="middle" fill="#231f20">10<tspan font-size="3.2" dy="-2.2">1</tspan></text>
<line x1="496.70" y1="521.00" x2="496.70" y2="522.80" stroke="#231f20" stroke-width="0.6"/>
<text transform="translate(496.20,529.00)" font-size="5" text-anchor="middle" fill="#231f20">10<tspan font-size="3.2" dy="-2.2">2</tspan></text>
<line x1="511.00" y1="521.00" x2="511.00" y2="522.80" stroke="#231f20" stroke-width="0.6"/>
<text transform="translate(510.50,529.00)" font-size="5" text-anchor="middle" fill="#231f20">10<tspan font-size="3.2" dy="-2.2">3</tspan></text>
<text transform="translate(478.80,451.60)" font-size="5.3" text-anchor="middle" fill="#333" textLength="44" lengthAdjust="spacingAndGlyphs">[CD19+] IgD/Igm</text>
<text transform="translate(431.50,488.00) rotate(-90) scale(0.8,1)" font-size="8.6" text-anchor="middle" fill="#231f20">IgM</text>
<text transform="translate(481.00,542.50) scale(0.8,1)" font-size="8.6" text-anchor="middle" fill="#231f20">IgD</text>
<text transform="translate(0.20,566.60)" font-size="11.7" text-anchor="start" fill="#000" font-weight="bold">G</text>
<line x1="36.30" y1="659.91" x2="36.30" y2="644.41" stroke="#173f6e" stroke-width="1.1"/>
<line x1="33.50" y1="644.41" x2="39.10" y2="644.41" stroke="#173f6e" stroke-width="1.1"/>
<line x1="33.50" y1="659.91" x2="39.10" y2="659.91" stroke="#173f6e" stroke-width="1.1"/>
<line x1="30.90" y1="652.35" x2="41.70" y2="652.35" stroke="#173f6e" stroke-width="1.1"/>
<circle cx="36.30" cy="641.01" r="1.45" fill="#1b4f8c"/>
<circle cx="34.80" cy="649.51" r="1.45" fill="#1b4f8c"/>
<circle cx="38.80" cy="652.35" r="1.45" fill="#1b4f8c"/>
<circle cx="36.80" cy="653.29" r="1.45" fill="#1b4f8c"/>
<circle cx="34.30" cy="658.02" r="1.45" fill="#1b4f8c"/>
<circle cx="37.80" cy="659.91" r="1.45" fill="#1b4f8c"/>
<line x1="36.30" y1="661.80" x2="36.30" y2="665.00" stroke="#231f20" stroke-width="0.9"/>
<line x1="53.80" y1="654.24" x2="53.80" y2="630.24" stroke="#1c1c2c" stroke-width="1.1"/>
<line x1="51.00" y1="630.24" x2="56.60" y2="630.24" stroke="#1c1c2c" stroke-width="1.1"/>
<line x1="51.00" y1="654.24" x2="56.60" y2="654.24" stroke="#1c1c2c" stroke-width="1.1"/>
<line x1="48.40" y1="642.33" x2="59.20" y2="642.33" stroke="#1c1c2c" stroke-width="1.1"/>
<polygon points="53.80,623.04 51.95,626.24 55.65,626.24" fill="#c8102e"/>
<polygon points="53.30,628.72 51.45,631.91 55.15,631.91" fill="#c8102e"/>
<polygon points="52.30,643.83 50.45,647.03 54.15,647.03" fill="#c8102e"/>
<polygon points="56.10,645.73 54.25,648.92 57.95,648.92" fill="#c8102e"/>
<polygon points="54.80,647.62 52.95,650.81 56.65,650.81" fill="#c8102e"/>
<polygon points="51.60,651.39 49.75,654.59 53.45,654.59" fill="#c8102e"/>
<polygon points="55.60,652.34 53.75,655.54 57.45,655.54" fill="#c8102e"/>
<line x1="53.80" y1="661.80" x2="53.80" y2="665.00" stroke="#231f20" stroke-width="0.9"/>
<line x1="71.80" y1="661.80" x2="71.80" y2="613.61" stroke="#1c1c2c" stroke-width="1.1"/>
<line x1="69.00" y1="613.61" x2="74.60" y2="613.61" stroke="#1c1c2c" stroke-width="1.1"/>
<line x1="66.40" y1="641.95" x2="77.20" y2="641.95" stroke="#1c1c2c" stroke-width="1.1"/>
<rect x="70.50" y="590.57" width="2.60" height="2.60" fill="#6a2077"/>
<rect x="70.80" y="644.43" width="2.60" height="2.60" fill="#6a2077"/>
<rect x="70.00" y="651.05" width="2.60" height="2.60" fill="#6a2077"/>
<rect x="72.50" y="657.66" width="2.60" height="2.60" fill="#6a2077"/>
<rect x="69.00" y="659.55" width="2.60" height="2.60" fill="#6a2077"/>
<line x1="71.80" y1="661.80" x2="71.80" y2="665.00" stroke="#231f20" stroke-width="0.9"/>
<line x1="27.50" y1="582.00" x2="27.50" y2="662.30" stroke="#231f20" stroke-width="1.1"/>
<line x1="27.00" y1="661.80" x2="76.30" y2="661.80" stroke="#231f20" stroke-width="1.1"/>
<line x1="24.30" y1="661.80" x2="27.50" y2="661.80" stroke="#231f20" stroke-width="0.9"/>
<text transform="translate(22.20,664.90) scale(1.05,1)" font-size="8.6" text-anchor="end" fill="#231f20" stroke="#231f20" stroke-width="0.12">0</text>
<line x1="24.30" y1="642.90" x2="27.50" y2="642.90" stroke="#231f20" stroke-width="0.9"/>
<text transform="translate(22.20,646.00) scale(1.05,1)" font-size="8.6" text-anchor="end" fill="#231f20" stroke="#231f20" stroke-width="0.12">1</text>
<line x1="24.30" y1="624.00" x2="27.50" y2="624.00" stroke="#231f20" stroke-width="0.9"/>
<text transform="translate(22.20,627.10) scale(1.05,1)" font-size="8.6" text-anchor="end" fill="#231f20" stroke="#231f20" stroke-width="0.12">2</text>
<line x1="24.30" y1="605.10" x2="27.50" y2="605.10" stroke="#231f20" stroke-width="0.9"/>
<text transform="translate(22.20,608.20) scale(1.05,1)" font-size="8.6" text-anchor="end" fill="#231f20" stroke="#231f20" stroke-width="0.12">3</text>
<line x1="24.30" y1="586.20" x2="27.50" y2="586.20" stroke="#231f20" stroke-width="0.9"/>
<text transform="translate(22.20,589.30) scale(1.05,1)" font-size="8.6" text-anchor="end" fill="#231f20" stroke="#231f20" stroke-width="0.12">4</text>
<text transform="translate(11.30,623.50) rotate(-90) scale(0.76,1)" font-size="9.8" text-anchor="middle" fill="#231f20" stroke="#231f20" stroke-width="0.15">Weight [g]</text>
<line x1="125.50" y1="642.50" x2="125.50" y2="625.07" stroke="#173f6e" stroke-width="1.1"/>
<line x1="122.70" y1="625.07" x2="128.30" y2="625.07" stroke="#173f6e" stroke-width="1.1"/>
<line x1="122.70" y1="642.50" x2="128.30" y2="642.50" stroke="#173f6e" stroke-width="1.1"/>
<line x1="120.10" y1="633.79" x2="130.90" y2="633.79" stroke="#173f6e" stroke-width="1.1"/>
<circle cx="125.50" cy="621.96" r="1.45" fill="#1b4f8c"/>
<circle cx="127.00" cy="625.69" r="1.45" fill="#1b4f8c"/>
<circle cx="124.30" cy="633.16" r="1.45" fill="#1b4f8c"/>
<circle cx="122.20" cy="639.39" r="1.45" fill="#1b4f8c"/>
<circle cx="128.70" cy="640.63" r="1.45" fill="#1b4f8c"/>
<circle cx="126.00" cy="643.12" r="1.45" fill="#1b4f8c"/>
<line x1="125.50" y1="661.80" x2="125.50" y2="665.00" stroke="#231f20" stroke-width="0.9"/>
<line x1="143.30" y1="634.41" x2="143.30" y2="605.77" stroke="#1c1c2c" stroke-width="1.1"/>
<line x1="140.50" y1="605.77" x2="146.10" y2="605.77" stroke="#1c1c2c" stroke-width="1.1"/>
<line x1="140.50" y1="634.41" x2="146.10" y2="634.41" stroke="#1c1c2c" stroke-width="1.1"/>
<line x1="137.90" y1="620.09" x2="148.70" y2="620.09" stroke="#1c1c2c" stroke-width="1.1"/>
<polygon points="143.30,593.91 141.45,597.11 145.15,597.11" fill="#c8102e"/>
<polygon points="143.50,612.59 141.65,615.79 145.35,615.79" fill="#c8102e"/>
<polygon points="147.10,618.81 145.25,622.01 148.95,622.01" fill="#c8102e"/>
<polygon points="139.80,626.28 137.95,629.48 141.65,629.48" fill="#c8102e"/>
<polygon points="140.80,632.51 138.95,635.71 142.65,635.71" fill="#c8102e"/>
<polygon points="146.80,632.51 144.95,635.71 148.65,635.71" fill="#c8102e"/>
<line x1="143.30" y1="661.80" x2="143.30" y2="665.00" stroke="#231f20" stroke-width="0.9"/>
<line x1="161.30" y1="640.63" x2="161.30" y2="617.60" stroke="#1c1c2c" stroke-width="1.1"/>
<line x1="158.50" y1="617.60" x2="164.10" y2="617.60" stroke="#1c1c2c" stroke-width="1.1"/>
<line x1="158.50" y1="640.63" x2="164.10" y2="640.63" stroke="#1c1c2c" stroke-width="1.1"/>
<line x1="155.90" y1="629.43" x2="166.70" y2="629.43" stroke="#1c1c2c" stroke-width="1.1"/>
<rect x="160.00" y="609.46" width="2.60" height="2.60" fill="#6a2077"/>
<rect x="160.60" y="628.13" width="2.60" height="2.60" fill="#6a2077"/>
<rect x="163.00" y="635.60" width="2.60" height="2.60" fill="#6a2077"/>
<rect x="161.00" y="638.09" width="2.60" height="2.60" fill="#6a2077"/>
<rect x="157.80" y="639.34" width="2.60" height="2.60" fill="#6a2077"/>
<line x1="161.30" y1="661.80" x2="161.30" y2="665.00" stroke="#231f20" stroke-width="0.9"/>
<line x1="116.30" y1="582.00" x2="116.30" y2="662.30" stroke="#231f20" stroke-width="1.1"/>
<line x1="115.80" y1="661.80" x2="165.00" y2="661.80" stroke="#231f20" stroke-width="1.1"/>
<line x1="113.10" y1="661.80" x2="116.30" y2="661.80" stroke="#231f20" stroke-width="0.9"/>
<text transform="translate(111.00,664.90) scale(1.05,1)" font-size="8.6" text-anchor="end" fill="#231f20" stroke="#231f20" stroke-width="0.12">0</text>
<line x1="113.10" y1="636.90" x2="116.30" y2="636.90" stroke="#231f20" stroke-width="0.9"/>
<text transform="translate(111.00,640.00) scale(1.05,1)" font-size="8.6" text-anchor="end" fill="#231f20" stroke="#231f20" stroke-width="0.12">20</text>
<line x1="113.10" y1="612.00" x2="116.30" y2="612.00" stroke="#231f20" stroke-width="0.9"/>
<text transform="translate(111.00,615.10) scale(1.05,1)" font-size="8.6" text-anchor="end" fill="#231f20" stroke="#231f20" stroke-width="0.12">40</text>
<line x1="113.10" y1="587.10" x2="116.30" y2="587.10" stroke="#231f20" stroke-width="0.9"/>
<text transform="translate(111.00,590.20) scale(1.05,1)" font-size="8.6" text-anchor="end" fill="#231f20" stroke="#231f20" stroke-width="0.12">60</text>
<text transform="translate(95.30,621.30) rotate(-90) scale(0.81,1)" font-size="9.8" text-anchor="middle" fill="#231f20" stroke="#231f20" stroke-width="0.15">Length [mm]</text>
<text transform="translate(176.00,566.70)" font-size="11.7" text-anchor="start" fill="#000" font-weight="bold">H</text>
<line x1="220.00" y1="644.72" x2="220.00" y2="615.02" stroke="#173f6e" stroke-width="1.1"/>
<line x1="217.20" y1="615.02" x2="222.80" y2="615.02" stroke="#173f6e" stroke-width="1.1"/>
<line x1="217.20" y1="644.72" x2="222.80" y2="644.72" stroke="#173f6e" stroke-width="1.1"/>
<line x1="214.60" y1="629.87" x2="225.40" y2="629.87" stroke="#173f6e" stroke-width="1.1"/>
<circle cx="220.00" cy="605.37" r="1.45" fill="#1b4f8c"/>
<circle cx="219.70" cy="625.42" r="1.45" fill="#1b4f8c"/>
<circle cx="222.30" cy="636.55" r="1.45" fill="#1b4f8c"/>
<circle cx="217.50" cy="637.30" r="1.45" fill="#1b4f8c"/>
<circle cx="220.50" cy="644.72" r="1.45" fill="#1b4f8c"/>
<line x1="220.00" y1="661.80" x2="220.00" y2="665.00" stroke="#231f20" stroke-width="0.9"/>
<line x1="240.50" y1="623.93" x2="240.50" y2="593.49" stroke="#1c1c2c" stroke-width="1.1"/>
<line x1="237.70" y1="593.49" x2="243.30" y2="593.49" stroke="#1c1c2c" stroke-width="1.1"/>
<line x1="237.70" y1="623.93" x2="243.30" y2="623.93" stroke="#1c1c2c" stroke-width="1.1"/>
<line x1="235.10" y1="609.08" x2="245.90" y2="609.08" stroke="#1c1c2c" stroke-width="1.1"/>
<polygon points="238.00,588.62 236.15,591.82 239.85,591.82" fill="#c8102e"/>
<polygon points="243.00,589.36 241.15,592.56 244.85,592.56" fill="#c8102e"/>
<polygon points="240.50,594.56 238.65,597.76 242.35,597.76" fill="#c8102e"/>
<polygon points="243.70,607.92 241.85,611.12 245.55,611.12" fill="#c8102e"/>
<polygon points="239.30,609.41 237.45,612.61 241.15,612.61" fill="#c8102e"/>
<polygon points="238.50,619.06 236.65,622.26 240.35,622.26" fill="#c8102e"/>
<polygon points="237.20,622.03 235.35,625.23 239.05,625.23" fill="#c8102e"/>
<polygon points="240.80,623.52 238.95,626.72 242.65,626.72" fill="#c8102e"/>
<polygon points="244.80,624.26 242.95,627.46 246.65,627.46" fill="#c8102e"/>
<line x1="240.50" y1="661.80" x2="240.50" y2="665.00" stroke="#231f20" stroke-width="0.9"/>
<line x1="261.30" y1="618.73" x2="261.30" y2="610.57" stroke="#1c1c2c" stroke-width="1.1"/>
<line x1="258.50" y1="610.57" x2="264.10" y2="610.57" stroke="#1c1c2c" stroke-width="1.1"/>
<line x1="258.50" y1="618.73" x2="264.10" y2="618.73" stroke="#1c1c2c" stroke-width="1.1"/>
<line x1="255.90" y1="614.65" x2="266.70" y2="614.65" stroke="#1c1c2c" stroke-width="1.1"/>
<rect x="259.70" y="610.01" width="2.60" height="2.60" fill="#6a2077"/>
<rect x="260.50" y="614.47" width="2.60" height="2.60" fill="#6a2077"/>
<rect x="260.00" y="617.43" width="2.60" height="2.60" fill="#6a2077"/>
<line x1="261.30" y1="661.80" x2="261.30" y2="665.00" stroke="#231f20" stroke-width="0.9"/>
<line x1="209.30" y1="582.00" x2="209.30" y2="662.30" stroke="#231f20" stroke-width="1.1"/>
<line x1="208.80" y1="661.80" x2="266.30" y2="661.80" stroke="#231f20" stroke-width="1.1"/>
<line x1="206.10" y1="661.80" x2="209.30" y2="661.80" stroke="#231f20" stroke-width="0.9"/>
<text transform="translate(204.00,664.90) scale(1.05,1)" font-size="8.6" text-anchor="end" fill="#231f20" stroke="#231f20" stroke-width="0.12">0</text>
<line x1="206.10" y1="646.95" x2="209.30" y2="646.95" stroke="#231f20" stroke-width="0.9"/>
<text transform="translate(204.00,650.05) scale(1.05,1)" font-size="8.6" text-anchor="end" fill="#231f20" stroke="#231f20" stroke-width="0.12">20</text>
<line x1="206.10" y1="632.10" x2="209.30" y2="632.10" stroke="#231f20" stroke-width="0.9"/>
<text transform="translate(204.00,635.20) scale(1.05,1)" font-size="8.6" text-anchor="end" fill="#231f20" stroke="#231f20" stroke-width="0.12">40</text>
<line x1="206.10" y1="617.25" x2="209.30" y2="617.25" stroke="#231f20" stroke-width="0.9"/>
<text transform="translate(204.00,620.35) scale(1.05,1)" font-size="8.6" text-anchor="end" fill="#231f20" stroke="#231f20" stroke-width="0.12">60</text>
<line x1="206.10" y1="602.40" x2="209.30" y2="602.40" stroke="#231f20" stroke-width="0.9"/>
<text transform="translate(204.00,605.50) scale(1.05,1)" font-size="8.6" text-anchor="end" fill="#231f20" stroke="#231f20" stroke-width="0.12">80</text>
<line x1="206.10" y1="587.55" x2="209.30" y2="587.55" stroke="#231f20" stroke-width="0.9"/>
<text transform="translate(204.00,590.65) scale(1.05,1)" font-size="8.6" text-anchor="end" fill="#231f20" stroke="#231f20" stroke-width="0.12">100</text>
<text transform="translate(183.40,621.90) rotate(-90) scale(0.82,1)" font-size="9.8" text-anchor="middle" fill="#231f20" stroke="#231f20" stroke-width="0.15">% CD19+ [B220–]</text>
<text transform="translate(238.00,572.00)" font-size="7.6" text-anchor="middle" fill="#231f20" stroke="#231f20" stroke-width="0.12">Blood</text>
<line x1="220.00" y1="583.80" x2="240.50" y2="583.80" stroke="#231f20" stroke-width="0.9"/>
<text transform="translate(230.00,584.30) scale(0.98,1)" font-size="7.4" text-anchor="middle" fill="#231f20" stroke="#231f20" stroke-width="0.2">*</text>
<line x1="320.00" y1="620.39" x2="320.00" y2="601.24" stroke="#173f6e" stroke-width="1.1"/>
<line x1="317.20" y1="601.24" x2="322.80" y2="601.24" stroke="#173f6e" stroke-width="1.1"/>
<line x1="317.20" y1="620.39" x2="322.80" y2="620.39" stroke="#173f6e" stroke-width="1.1"/>
<line x1="314.60" y1="610.51" x2="325.40" y2="610.51" stroke="#173f6e" stroke-width="1.1"/>
<circle cx="318.00" cy="601.85" r="1.45" fill="#1b4f8c"/>
<circle cx="321.80" cy="602.47" r="1.45" fill="#1b4f8c"/>
<circle cx="320.80" cy="616.07" r="1.45" fill="#1b4f8c"/>
<circle cx="320.00" cy="620.39" r="1.45" fill="#1b4f8c"/>
<line x1="320.00" y1="661.80" x2="320.00" y2="665.00" stroke="#231f20" stroke-width="0.9"/>
<line x1="340.80" y1="606.80" x2="340.80" y2="600.62" stroke="#1c1c2c" stroke-width="1.1"/>
<line x1="338.00" y1="600.62" x2="343.60" y2="600.62" stroke="#1c1c2c" stroke-width="1.1"/>
<line x1="338.00" y1="606.80" x2="343.60" y2="606.80" stroke="#1c1c2c" stroke-width="1.1"/>
<line x1="335.40" y1="603.40" x2="346.20" y2="603.40" stroke="#1c1c2c" stroke-width="1.1"/>
<polygon points="336.00,598.72 334.15,601.92 337.85,601.92" fill="#c8102e"/>
<polygon points="340.80,599.95 338.95,603.15 342.65,603.15" fill="#c8102e"/>
<polygon points="345.30,600.57 343.45,603.77 347.15,603.77" fill="#c8102e"/>
<polygon points="338.30,601.19 336.45,604.39 340.15,604.39" fill="#c8102e"/>
<polygon points="343.30,602.43 341.45,605.63 345.15,605.63" fill="#c8102e"/>
<polygon points="340.30,603.04 338.45,606.24 342.15,606.24" fill="#c8102e"/>
<polygon points="341.00,607.99 339.15,611.19 342.85,611.19" fill="#c8102e"/>
<line x1="340.80" y1="661.80" x2="340.80" y2="665.00" stroke="#231f20" stroke-width="0.9"/>
<line x1="361.30" y1="627.19" x2="361.30" y2="596.91" stroke="#1c1c2c" stroke-width="1.1"/>
<line x1="358.50" y1="596.91" x2="364.10" y2="596.91" stroke="#1c1c2c" stroke-width="1.1"/>
<line x1="358.50" y1="627.19" x2="364.10" y2="627.19" stroke="#1c1c2c" stroke-width="1.1"/>
<line x1="355.90" y1="612.36" x2="366.70" y2="612.36" stroke="#1c1c2c" stroke-width="1.1"/>
<rect x="357.70" y="602.41" width="2.60" height="2.60" fill="#6a2077"/>
<rect x="360.30" y="600.55" width="2.60" height="2.60" fill="#6a2077"/>
<rect x="362.00" y="606.12" width="2.60" height="2.60" fill="#6a2077"/>
<rect x="360.00" y="632.69" width="2.60" height="2.60" fill="#6a2077"/>
<line x1="361.30" y1="661.80" x2="361.30" y2="665.00" stroke="#231f20" stroke-width="0.9"/>
<line x1="310.00" y1="588.80" x2="310.00" y2="662.30" stroke="#231f20" stroke-width="1.1"/>
<line x1="309.50" y1="661.80" x2="366.30" y2="661.80" stroke="#231f20" stroke-width="1.1"/>
<line x1="306.80" y1="661.80" x2="310.00" y2="661.80" stroke="#231f20" stroke-width="0.9"/>
<text transform="translate(304.70,664.90) scale(1.05,1)" font-size="8.6" text-anchor="end" fill="#231f20" stroke="#231f20" stroke-width="0.12">0</text>
<line x1="306.80" y1="630.90" x2="310.00" y2="630.90" stroke="#231f20" stroke-width="0.9"/>
<text transform="translate(304.70,634.00) scale(1.05,1)" font-size="8.6" text-anchor="end" fill="#231f20" stroke="#231f20" stroke-width="0.12">50</text>
<line x1="306.80" y1="600.00" x2="310.00" y2="600.00" stroke="#231f20" stroke-width="0.9"/>
<text transform="translate(304.70,603.10) scale(1.05,1)" font-size="8.6" text-anchor="end" fill="#231f20" stroke="#231f20" stroke-width="0.12">100</text>
<text transform="translate(284.60,624.30) rotate(-90) scale(0.82,1)" font-size="9.8" text-anchor="middle" fill="#231f20" stroke="#231f20" stroke-width="0.15">% CD19+ [B220–]</text>
<text transform="translate(341.30,572.00)" font-size="7.6" text-anchor="middle" fill="#231f20" stroke="#231f20" stroke-width="0.12">Spleen</text>
<text transform="translate(376.10,566.70)" font-size="11.7" text-anchor="start" fill="#000" font-weight="bold">I</text>
<line x1="410.80" y1="628.05" x2="515.50" y2="628.05" stroke="#333" stroke-width="0.7" stroke-dasharray="1.2 1.2"/>
<line x1="472.36" y1="628.05" x2="472.36" y2="661.80" stroke="#1b4f8c" stroke-width="0.7" stroke-dasharray="1.2 1.2"/>
<line x1="483.78" y1="628.05" x2="483.78" y2="661.80" stroke="#c8102e" stroke-width="0.7" stroke-dasharray="1.2 1.2"/>
<line x1="487.98" y1="628.05" x2="487.98" y2="661.80" stroke="#6a2077" stroke-width="0.7" stroke-dasharray="1.2 1.2"/>
<path d="M410.80 594.30H473.14V605.57H482.99V616.78H488.63V628.05H489.68V639.32H494.67V650.53H503.46V661.80" fill="none" stroke="#6a2077" stroke-width="1.2"/>
<path d="M410.80 594.30H471.96V603.95H479.31V613.60H481.41V623.26H483.25V632.84H487.98V642.50H489.55V652.15H494.01V661.80" fill="none" stroke="#c8102e" stroke-width="1.2"/>
<path d="M410.80 594.30H453.32V599.09H465.27V608.75H469.60V613.60H470.91V618.40H471.96V628.05H474.06V632.84H476.29V637.70H478.00V642.50H479.84V647.35H485.74V652.15H487.32V657.01H497.95V661.80" fill="none" stroke="#1b4f8c" stroke-width="1.2"/>
<line x1="410.80" y1="588.80" x2="410.80" y2="662.30" stroke="#231f20" stroke-width="1.1"/>
<line x1="410.30" y1="661.80" x2="517.50" y2="661.80" stroke="#231f20" stroke-width="1.1"/>
<line x1="407.60" y1="661.80" x2="410.80" y2="661.80" stroke="#231f20" stroke-width="0.9"/>
<text transform="translate(405.50,664.90) scale(1.05,1)" font-size="8.6" text-anchor="end" fill="#231f20" stroke="#231f20" stroke-width="0.12">0</text>
<line x1="407.60" y1="628.05" x2="410.80" y2="628.05" stroke="#231f20" stroke-width="0.9"/>
<text transform="translate(405.50,631.15) scale(1.05,1)" font-size="8.6" text-anchor="end" fill="#231f20" stroke="#231f20" stroke-width="0.12">50</text>
<line x1="407.60" y1="594.30" x2="410.80" y2="594.30" stroke="#231f20" stroke-width="0.9"/>
<text transform="translate(405.50,597.40) scale(1.05,1)" font-size="8.6" text-anchor="end" fill="#231f20" stroke="#231f20" stroke-width="0.12">100</text>
<line x1="410.80" y1="661.80" x2="410.80" y2="665.00" stroke="#231f20" stroke-width="0.9"/>
<text transform="translate(410.80,673.30) scale(1.05,1)" font-size="8.6" text-anchor="middle" fill="#231f20" stroke="#231f20" stroke-width="0.12">0</text>
<line x1="437.05" y1="661.80" x2="437.05" y2="665.00" stroke="#231f20" stroke-width="0.9"/>
<text transform="translate(437.05,673.30) scale(1.05,1)" font-size="8.6" text-anchor="middle" fill="#231f20" stroke="#231f20" stroke-width="0.12">20</text>
<line x1="463.30" y1="661.80" x2="463.30" y2="665.00" stroke="#231f20" stroke-width="0.9"/>
<text transform="translate(463.30,673.30) scale(1.05,1)" font-size="8.6" text-anchor="middle" fill="#231f20" stroke="#231f20" stroke-width="0.12">40</text>
<line x1="489.55" y1="661.80" x2="489.55" y2="665.00" stroke="#231f20" stroke-width="0.9"/>
<text transform="translate(489.55,673.30) scale(1.05,1)" font-size="8.6" text-anchor="middle" fill="#231f20" stroke="#231f20" stroke-width="0.12">60</text>
<line x1="515.80" y1="661.80" x2="515.80" y2="665.00" stroke="#231f20" stroke-width="0.9"/>
<text transform="translate(514.30,673.30) scale(1.05,1)" font-size="8.6" text-anchor="middle" fill="#231f20" stroke="#231f20" stroke-width="0.12">80</text>
<text transform="translate(384.00,625.00) rotate(-90) scale(0.78,1)" font-size="9.8" text-anchor="middle" fill="#231f20" stroke="#231f20" stroke-width="0.15">Survival [%]</text>
<text transform="translate(464.30,686.30) scale(0.78,1)" font-size="10" text-anchor="middle" fill="#231f20" stroke="#231f20" stroke-width="0.15">Age [weeks]</text>
<rect x="415.30" y="637.50" width="2.60" height="2.60" fill="#1b4f8c"/>
<text transform="translate(423.30,641.00)" font-size="6.4" text-anchor="start" fill="#231f20">n=14</text>
<rect x="415.30" y="644.90" width="2.60" height="2.60" fill="#c8102e"/>
<text transform="translate(423.30,648.40)" font-size="6.4" text-anchor="start" fill="#231f20">n=7</text>
<rect x="415.30" y="651.90" width="2.60" height="2.60" fill="#6a2077"/>
<text transform="translate(423.30,655.40)" font-size="6.4" text-anchor="start" fill="#231f20">n=6</text>
</svg>
</body></html>
